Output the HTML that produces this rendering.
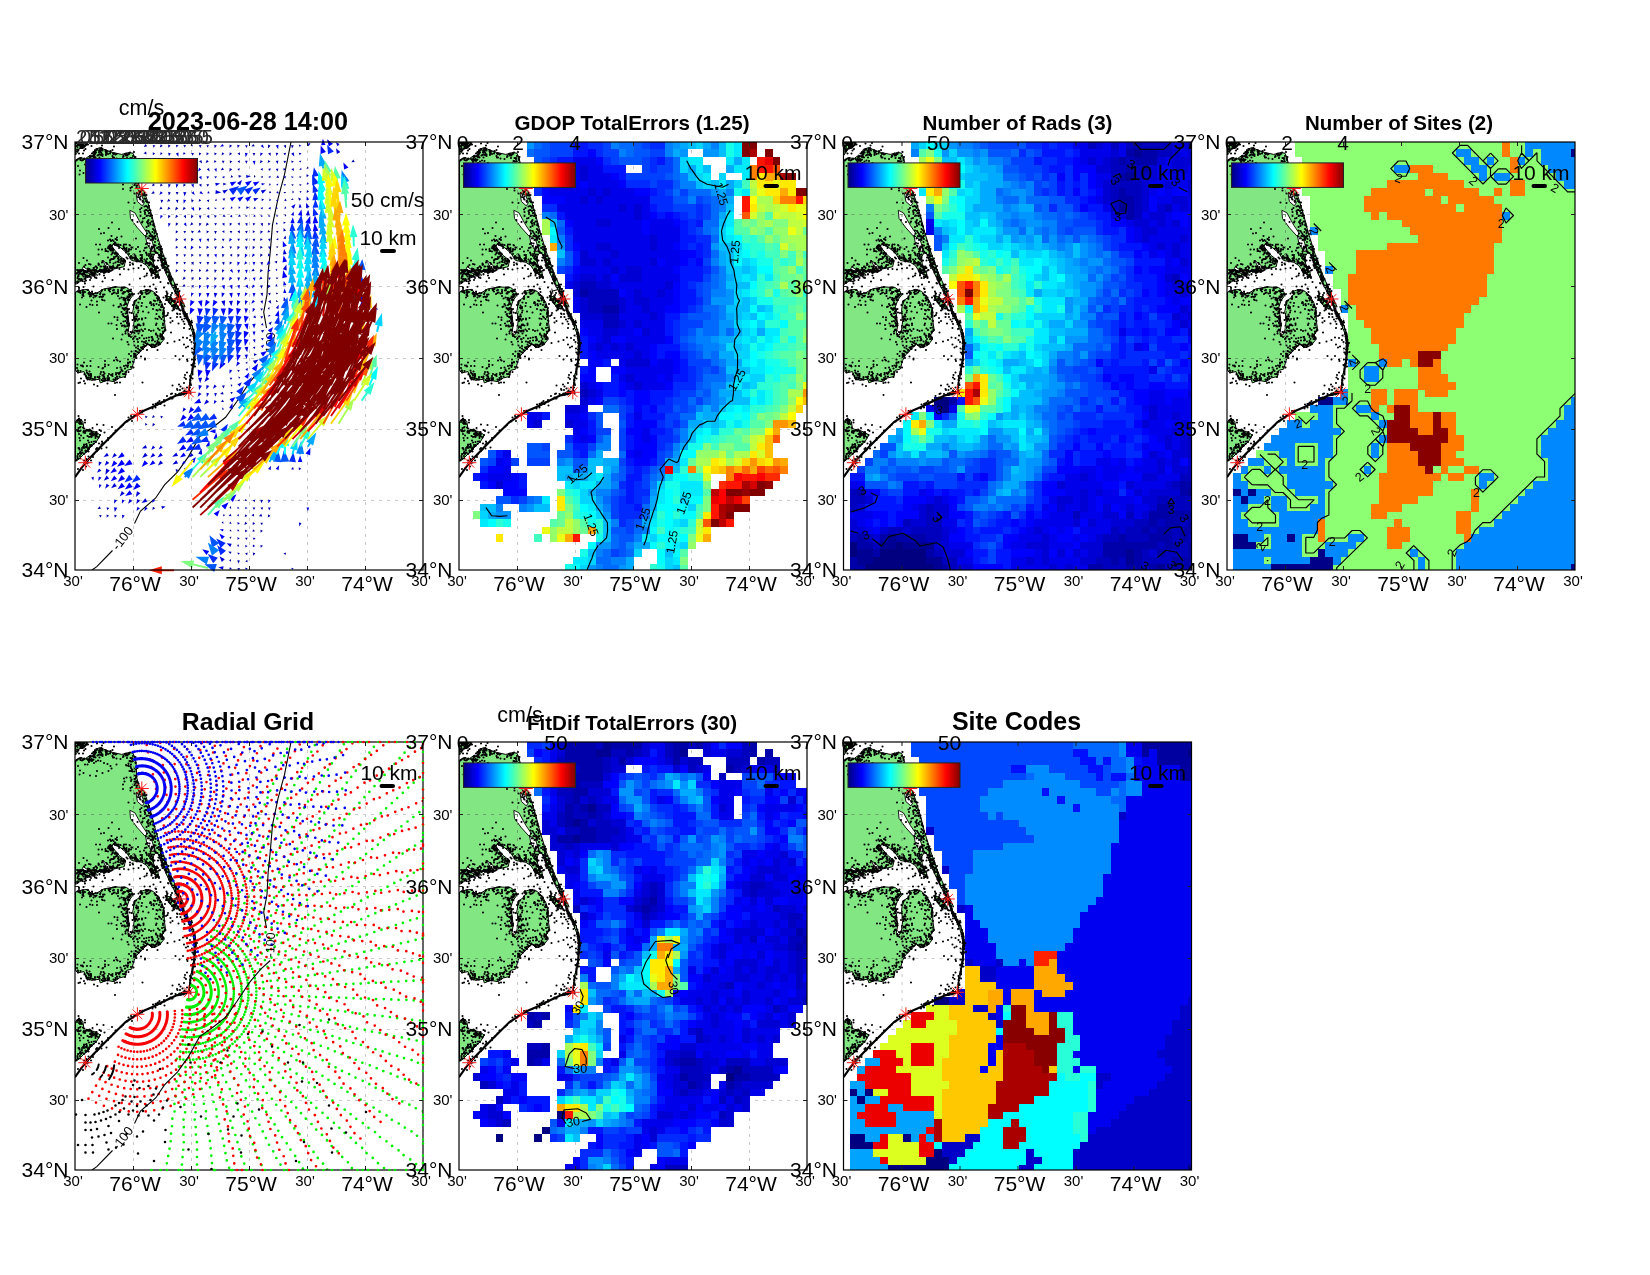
<!DOCTYPE html><html><head><meta charset="utf-8"><title>HFR totals</title><style>html,body{margin:0;padding:0;background:#fff}body{width:1650px;height:1275px;position:relative;overflow:hidden;font-family:"Liberation Sans",sans-serif}</style></head><body>
<svg width="1650" height="1275" viewBox="0 0 1650 1275" style="position:absolute;left:0;top:0;will-change:transform">
<defs><linearGradient id="jet" x1="0" x2="1" y1="0" y2="0"><stop offset="0.000" stop-color="#000080"/><stop offset="0.031" stop-color="#00009f"/><stop offset="0.062" stop-color="#0000bf"/><stop offset="0.094" stop-color="#0000df"/><stop offset="0.125" stop-color="#0000ff"/><stop offset="0.156" stop-color="#0020ff"/><stop offset="0.188" stop-color="#0040ff"/><stop offset="0.219" stop-color="#0060ff"/><stop offset="0.250" stop-color="#0080ff"/><stop offset="0.281" stop-color="#009fff"/><stop offset="0.312" stop-color="#00bfff"/><stop offset="0.344" stop-color="#00dfff"/><stop offset="0.375" stop-color="#00ffff"/><stop offset="0.406" stop-color="#20ffdf"/><stop offset="0.438" stop-color="#40ffbf"/><stop offset="0.469" stop-color="#60ff9f"/><stop offset="0.500" stop-color="#80ff80"/><stop offset="0.531" stop-color="#9fff60"/><stop offset="0.562" stop-color="#bfff40"/><stop offset="0.594" stop-color="#dfff20"/><stop offset="0.625" stop-color="#ffff00"/><stop offset="0.656" stop-color="#ffdf00"/><stop offset="0.688" stop-color="#ffbf00"/><stop offset="0.719" stop-color="#ff9f00"/><stop offset="0.750" stop-color="#ff8000"/><stop offset="0.781" stop-color="#ff6000"/><stop offset="0.812" stop-color="#ff4000"/><stop offset="0.844" stop-color="#ff2000"/><stop offset="0.875" stop-color="#ff0000"/><stop offset="0.906" stop-color="#df0000"/><stop offset="0.938" stop-color="#bf0000"/><stop offset="0.969" stop-color="#9f0000"/><stop offset="1.000" stop-color="#800000"/></linearGradient>
<g id="land"><g>
<polygon points="0.5,18.1 5.3,15.6 10.3,16.8 15.3,13.1 18.5,15.6 19.7,7.4 25.4,5.5 30.4,8.0 37.9,10.5 46.7,12.4 54.2,10.5 58.0,11.2 59.9,15.6 61.1,20.6 61.7,35.6 64.9,46.3 68.6,48.2 71.8,57.0 76.8,73.3 80.6,88.3 86.8,108.4 94.4,129.7 104.4,152.3 110.1,164.9 106.9,164.9 101.9,153.6 93.1,136.0 87.5,123.5 83.7,112.2 80.6,110.9 78.1,114.7 78.7,122.2 83.1,133.5 76.8,131.0 71.8,123.5 66.8,120.3 56.7,118.5 51.7,110.9 44.2,104.6 37.9,102.1 36.7,104.6 44.2,113.4 50.5,118.5 49.2,124.7 37.9,127.2 34.1,129.7 26.6,128.5 21.6,131.0 15.3,133.5 6.5,137.3 1.5,141.0 0.5,141.7" fill="#82e682" stroke="#000" stroke-width="1" stroke-linejoin="round"/>
<polygon points="0.5,0.5 12.8,0.8 9.0,5.5 4.0,6.8 1.5,11.8 0.5,13.1" fill="#82e682" stroke="#000" stroke-width="1" stroke-linejoin="round"/>
<polygon points="0.5,128.0 21.6,128.0 19.1,133.0 9.0,136.8 1.5,141.8 0.5,142.4" fill="#82e682" stroke="#000" stroke-width="1" stroke-linejoin="round"/>
<polygon points="25.4,128.0 35.4,129.0 27.9,130.8" fill="#82e682" stroke="#000" stroke-width="1" stroke-linejoin="round"/>
<polygon points="74.3,128.0 83.1,129.3 83.1,134.3 76.8,130.5" fill="#82e682" stroke="#000" stroke-width="1" stroke-linejoin="round"/>
<polygon points="90.0,153.7 95.6,155.0 100.6,160.6 104.4,166.9 98.1,165.6 93.1,159.4" fill="#82e682" stroke="#000" stroke-width="1" stroke-linejoin="round"/>
<polygon points="0.5,150.0 6.5,148.1 12.8,147.4 16.6,151.8 21.6,151.2 29.1,146.8 40.4,144.9 51.7,145.6 56.7,149.3 58.0,153.1 54.2,158.1 51.7,165.6 53.0,173.2 54.2,183.2 53.0,190.7 55.5,193.2 58.0,188.2 59.2,178.2 58.0,169.4 59.2,159.4 64.3,155.6 66.8,151.8 64.3,150.0 71.8,147.4 78.1,149.3 83.1,154.3 86.8,160.6 89.3,169.4 89.3,178.2 90.6,188.2 86.8,193.2 89.3,197.0 84.3,203.3 76.8,205.8 73.0,202.0 70.5,204.5 66.8,208.3 61.7,213.3 59.2,218.3 56.7,227.1 51.7,228.4 50.5,234.6 44.2,235.9 39.2,239.7 31.6,238.4 25.4,240.9 24.1,237.2 16.6,238.4 11.6,235.9 9.0,229.6 2.8,230.9 0.5,228.4" fill="#82e682" stroke="#000" stroke-width="1" stroke-linejoin="round"/>
<polygon points="104.4,157.5 109.4,169.4 115.7,180.7 120.1,193.2 121.0,203.3 120.1,213.3 118.2,225.9 115.7,237.2 113.8,250.3 115.1,237.2 117.6,225.9 119.2,213.3 119.5,203.3 118.5,193.2 114.4,182.0 108.2,170.7" fill="#82e682" stroke="#000" stroke-width="1" stroke-linejoin="round"/>
<polygon points="100.6,253.5 109.4,249.1 113.8,250.3 106.9,252.8" fill="#82e682" stroke="#000" stroke-width="1" stroke-linejoin="round"/>
<polygon points="0.5,279.3 4.0,276.8 7.8,279.3 9.0,286.9 15.3,288.1 21.6,290.6 25.4,293.1 21.6,299.4 15.3,305.7 9.0,312.0 4.0,317.0 0.5,319.5" fill="#82e682" stroke="#000" stroke-width="1" stroke-linejoin="round"/>
<polygon points="61.1,51.3 66.8,53.2 69.3,60.7 67.4,63.9 62.4,59.5" fill="#fff" stroke="#000" stroke-width="0.9" stroke-linejoin="round"/>
<polygon points="54.8,68.3 59.9,70.8 66.8,83.3 72.4,91.5 69.9,94.0 62.4,85.8 55.5,76.4" fill="#fff" stroke="#000" stroke-width="0.9" stroke-linejoin="round"/>
<polygon points="70.5,93.4 76.8,98.4 79.9,108.4 76.8,109.7 71.8,101.5" fill="#fff" stroke="#000" stroke-width="0.9" stroke-linejoin="round"/>
<polygon points="8.4,124.7 15.3,129.7 22.8,132.9 21.6,134.1 14.1,131.6 7.2,126.6" fill="#fff" stroke="#000" stroke-width="0.9" stroke-linejoin="round"/>
<polygon points="27.9,118.5 34.1,123.5 37.9,128.5 35.4,129.1 30.4,124.1" fill="#fff" stroke="#000" stroke-width="0.9" stroke-linejoin="round"/>
<polyline points="113.8,250.3 106.9,252.2 100.6,253.8 90.6,258.5 78.1,264.8 69.3,268.5 62.4,272.3 62.4,272.4 50.5,280.0 37.9,292.5 25.4,305.1 10.3,320.7 0.0,335.2" fill="none" stroke="#000" stroke-width="2.2" />
<path transform="scale(0.5)" d="M3 263h0m0-226h0m0 599h0m0-628h0m0 628h0m1-76h0m0-298h0m0-247h0m0-12h0m0 15h0m0 262h0m0 296h0m0-124h0m0-433h0m1 263h0m0-272h0m0 618h0m0-593h0m0 264h0m0 257h0m0-537h0m0 237h0m0 374h0m0 2h0m0-353h0m0 178h0m0-185h0m0-253h0m0 559h0m0-133h0m1 188h0m0-616h0m0 441h0m0-189h0m0 188h0m0-200h0m0-209h0m0 606h0m0-394h0m0 201h0m0-446h0m0 283h0m0-38h0m0 364h0m0-345h0m0-273h0m1 542h0m0 64h0m0-34h0m0-562h0m0-13h0m0 262h0m0 217h0m0-208h0m0 350h0m0-69h0m0-549h0m0 293h0m0 280h0m0-7h0m0-303h0m0-2h0m0 288h0m1-551h0m0 290h0m0 290h0m0-561h0m0 535h0m0 54h0m0-312h0m0-36h0m0-261h0m0-1h0m0 273h0m0 309h0m0-293h0m0-49h0m0 311h0m0 9h0m0-560h0m0 31h0m1 32h0m0 550h0m0-23h0m0-317h0m0-15h0m0 295h0m0-281h0m0 340h0m0-357h0m1 371h0m0-57h0m0 62h0m0-69h0m0-507h0m0 521h0m0-575h0m0 478h0m0-181h0m0-297h0m0 619h0m0-589h0m0 526h0m0 62h0m0-323h0m0 299h0m0-337h0m0 3h0m0-256h0m0 318h0m1 133h0m0 162h0m0-613h0m0 3h0m0 448h0m0-422h0m0 220h0m0 363h0m0-42h0m0-7h0m0-559h0m0 23h0m0 268h0m0 261h0m0-288h0m0-241h0m0 242h0m0 280h0m0 3h0m1-3h0m0 6h0m0 62h0m0-63h0m0-529h0m0-20h0m0-8h0m0 552h0m0-83h0m0-469h0m0 273h0m0-18h0m0 188h0m0-442h0m0 2h0m0-1h0m0-2h0m0 583h0m1-577h0m0 613h0m0-612h0m0 245h0m0 18h0m0 1h0m0-11h0m1 348h0m0-605h0m0 304h0m0-274h0m0 219h0m0 308h0m0 52h0m1-611h0m0 261h0m0 182h0m0 173h0m0-324h0m0-19h0m0 169h0m0-437h0m0 296h0m0-43h0m0-260h0m0 9h0m0 288h0m1-296h0m0 32h0m0-13h0m0 633h0m0-46h0m0-607h0m0 301h0m0 1h0m0 266h0m0-275h0m0 5h0m0 148h0m0-148h0m0-44h0m0-254h0m0 261h0m0-259h0m1 227h0m0 76h0m0-302h0m0 573h0m0-571h0m0 261h0m0-10h0m0-256h0m0 578h0m0-546h0m0 557h0m0-302h0m0-228h0m0-51h0m0-4h0m1-4h0m0 475h0m0 95h0m0 51h0m0 13h0m0-196h0m0 166h0m0-345h0m0 350h0m0-7h0m0-341h0m0-247h0m0 283h0m0 281h0m0-332h0m0 325h0m0-273h0m0 275h0m1-543h0m0 246h0m0 186h0m0 180h0m0-384h0m0-227h0m0 430h0m0-455h0m0 614h0m1-41h0m0-308h0m0 287h0m0 20h0m0 30h0m0-128h0m0-218h0m0 35h0m0-42h0m0 298h0m0-273h0m0-25h0m0-213h0m1 534h0m0-321h0m0 13h0m0-264h0m0 259h0m0 352h0m0-611h0m0 7h0m0 253h0m0 350h0m0-349h0m0-10h0m0 352h0m0-364h0m1 222h0m0-208h0m0 208h0m0-199h0m0 8h0m0-10h0m0 374h0m0-636h0m0 572h0m0 43h0m0-15h0m0 44h0m0-180h0m1-12h0m0 147h0m0-600h0m0-2h0m0 616h0m0 1h0m0-614h0m0 629h0m0-162h0m0-142h0m0 280h0m0-5h0m1 37h0m0-194h0m0-414h0m0 227h0m0 347h0m0-350h0m0 9h0m0 1h0m0-31h0m0 224h0m1 116h0m0 35h0m0-316h0m0 280h0m0 12h0m0-543h0m0 430h0m0-12h0m1 8h0m0-215h0m0-1h0m0 342h0m0-301h0m0-43h0m0 363h0m0-611h0m0 631h0m0-18h0m0-360h0m0 10h0m0-232h0m0 579h0m1-151h0m0 149h0m0-354h0m0 9h0m0 351h0m0-582h0m0 604h0m0-12h0m0-326h0m0-49h0m1 3h0m0 344h0m0-561h0m0 261h0m0 166h0m0 123h0m0 24h0m0-580h0m0 210h0m0 25h0m0-11h0m0 320h0m1-544h0m0 542h0m0-307h0m0 34h0m0 172h0m0-16h0m0-205h0m0 356h0m0-35h0m0-270h0m0-275h0m1 602h0m0-356h0m0 300h0m0 0h0m0-251h0m0 259h0m0-275h0m0-242h0m0 404h0m0 135h0m0-341h0m0 39h0m1 168h0m0-211h0m0-16h0m0 344h0m0-552h0m0 436h0m0-9h0m0 119h0m0-145h0m0 10h0m0-418h0m0 441h0m0-443h0m0 580h0m1-351h0m0 210h0m0 121h0m0-316h0m0 192h0m0 5h0m0-3h0m0 171h0m0-53h0m0-6h0m0-270h0m0-47h0m0-4h0m0-228h0m0 7h0m1 554h0m0-8h0m0-109h0m0-439h0m0 566h0m0-296h0m0 304h0m0-2h0m0-598h0m0 309h0m1 290h0m0-347h0m0 2h0m0 2h0m0 317h0m0 5h0m0-287h0m0 281h0m0-557h0m0 279h0m0-264h0m1 288h0m0-298h0m0 544h0m0-549h0m0 244h0m0 318h0m1-280h0m0-39h0m0-10h0m0 326h0m0 48h0m0-368h0m0 2h0m0-1h0m0 211h0m0 113h0m0-551h0m1-1h0m0-15h0m0 244h0m0 0h0m0 361h0m0-373h0m0 59h0m0-22h0m0 315h0m1-341h0m0-221h0m0 443h0m0-460h0m0 232h0m0-5h0m0 16h0m0 331h0m0-569h0m1 554h0m0-277h0m0-279h0m0-7h0m0 239h0m0 215h0m0-217h0m0 6h0m0-245h0m0 240h0m1 5h0m0 211h0m0-451h0m0 562h0m0-330h0m0 215h0m0-1h0m0-199h0m1-22h0m0 350h0m0-568h0m0 271h0m0-46h0m0 336h0m0-11h0m0 1h0m0 4h0m0 3h0m0-280h0m1 273h0m0-325h0m0 357h0m0-597h0m0 232h0m0 7h0m0 344h0m0-532h0m0-47h0m0 18h0m0 166h0m0-188h0m1-1h0m0 566h0m0-2h0m0-322h0m0-1h0m0 328h0m0 3h0m0-281h0m0-35h0m1-214h0m0 507h0m0 47h0m0-361h0m0 8h0m0-256h0m0 323h0m0 292h0m0-604h0m0 238h0m0 67h0m0 265h0m1-570h0m0 474h0m0-474h0m0 288h0m0-287h0m0 455h0m0-443h0m1 10h0m0 553h0m1 25h0m0-369h0m0 345h0m0-333h0m0-15h0m0 207h0m0 141h0m0-376h0m0-189h0m0 199h0m1-207h0m0 240h0m0-237h0m0 224h0m0 358h0m0-132h0m0-130h0m0-167h0m1-143h0m0-6h0m0 551h0m0-103h0m0-216h0m0 212h0m0-159h0m0-45h0m0-1h0m1-250h0m0 572h0m0-331h0m0 49h0m0-99h0m0-190h0m1 294h0m0-291h0m0 446h0m0-162h0m0-53h0m0-211h0m1 422h0m0-211h0m0 11h0m0-1h0m0 319h0m0-552h0m0-5h0m0 162h0m1 73h0m0 42h0m0-41h0m0 219h0m0 129h0m0-593h0m0 601h0m0-590h0m1 235h0m0-251h0m0 249h0m0 40h0m0 19h0m0-59h0m0-41h0m0 384h0m0-584h0m0 295h0m0-69h0m1-224h0m0 45h0m0 405h0m0-439h0m0 574h0m0-344h0m0-233h0m0 254h0m0-41h0m0 78h0m0 137h0m1-194h0m0-2h0m0 221h0m0-169h0m0 143h0m0-147h0m0 168h0m1-224h0m0 217h0m0-6h0m0 106h0m0-308h0m0 1h0m0-257h0m1 180h0m0-140h0m0 225h0m0-12h0m0 214h0m0 8h0m0-215h0m1 43h0m0 167h0m0-9h0m0 118h0m0-328h0m0 64h0m0 156h0m1-201h0m0-22h0m0 8h0m0 191h0m0-11h0m0-142h0m0 149h0m0-184h0m1-43h0m0 259h0m0-460h0m0 1h0m0 235h0m0-237h0m0 458h0m0-226h0m0 7h0m0-41h0m1 41h0m0-1h0m0-237h0m0 9h0m0-2h0m0-3h0m1 197h0m0-197h0m0-1h0m0 237h0m0-15h0m0 17h0m0 352h0m0-591h0m1 239h0m0-15h0m0 15h0m1 218h0m0-5h0m0-428h0m0 439h0m0-231h0m0-233h0m0 231h0m0 7h0m1-60h0m0 278h0m0-256h0m0 249h0m0-256h0m0-188h0m0 572h0m0-4h0m0-361h0m1-19h0m0-40h0m0 39h0m0 49h0m0 186h0m0-189h0m0-45h0m0 42h0m0 109h0m0-69h0m0-85h0m0-151h0m1 201h0m0 213h0m0-212h0m0 37h0m0 176h0m0 1h0m0 1h0m0-11h0m1-257h0m0 5h0m0 46h0m0-44h0m0 42h0m0 38h0m1-43h0m0 48h0m0-276h0m0 218h0m0-46h0m0 42h0m0-26h0m0 38h0m1-32h0m0 18h0m0-215h0m0 186h0m0 88h0m0-246h0m0 204h0m0 41h0m0-275h0m1 180h0m0 391h0m0-123h0m0-209h0m0-49h0m0 6h0m0 21h0m1-47h0m0 62h0m0-33h0m0 146h0m0-138h0m0-172h0m1 155h0m0 9h0m0 87h0m0-53h0m0 319h0m0-336h0m0-22h0m0-51h0m0 53h0m1 62h0m0-80h0m0 53h0m0-27h0m0 242h0m0 4h0m0-214h0m0 1h0m0-227h0m0-12h0m1 281h0m0-266h0m0 182h0m0-190h0m0 370h0m0-171h0m0 28h0m0-2h0m0-30h0m0 73h0m0-74h0m1-193h0m0 559h0m0-349h0m0 241h0m0-277h0m0 129h0m0-112h0m0 28h0m0 7h0m0 52h0m1-271h0m0-22h0m0 224h0m0-30h0m0 27h0m0 66h0m0 180h0m0-39h0m1-136h0m0 49h0m0-327h0m0 229h0m0-20h0m1-26h0m0 276h0m0-281h0m0 89h0m0-66h0m0-2h0m0 284h0m1-481h0m0 450h0m0-234h0m0 49h0m0-88h0m0 375h0m0-383h0m0 278h0m0-251h0m1 2h0m0 6h0m0 233h0m0-240h0m0 209h0m0 34h0m1-214h0m0-23h0m0-195h0m0 333h0m0-63h0m0-279h0m0 411h0m0-390h0m1 146h0m0 16h0m0 262h0m0-263h0m0-10h0m0 31h0m0-20h0m0 274h0m0-107h0m0 78h0m0-247h0m1 268h0m0-223h0m0 101h0m0-126h0m0 131h0m0 81h0m0-214h0m0 25h0m0-9h0m1-6h0m0 229h0m0-256h0m0 93h0m0 3h0m0 6h0m0-62h0m0 50h0m0-89h0m0 0h0m1 23h0m0 100h0m0-125h0m0 35h0m0-9h0m0 3h0m1-25h0m0 3h0m0 24h0m0 228h0m0-290h0m1 289h0m0-217h0m0 223h0m0-156h0m0 16h0m0-75h0m1 11h0m0 196h0m0-22h0m0 42h0m1-275h0m0 254h0m0-426h0m0 290h0m0-83h0m0 210h0m1-218h0m0 5h0m0 59h0m0 66h0m0-129h0m1 93h0m0-16h0m0 258h0m0-174h0m0 60h0m0-115h0m0 116h0m0-213h0m0-54h0m0 105h0m1 2h0m0 72h0m0-77h0m1 167h0m0-155h0m0 82h0m0-148h0m0 130h0m0-123h0m0 88h0m0 13h0m1 119h0m0-370h0m0 145h0m0-26h0m0 353h0m0-481h0m0 259h0m0-101h0m0-213h0m0 261h0m1-264h0m0 265h0m0-58h0m0 78h0m0-283h0m0 211h0m0 108h0m0-14h0m0-19h0m0-80h0m0 124h0m0-122h0m0 66h0m0-95h0m0 92h0m1-89h0m0 115h0m0-35h0m0-56h0m0 80h0m0 133h0m0-115h0m0-79h0m0-49h0m0 107h0m0-239h0m1 244h0m0 147h0m0-128h0m0 31h0m0 2h0m0-290h0m0 212h0m1 23h0m0-14h0m0 153h0m0 17h0m0-120h0m0-326h0m0 190h0m0 1h0m0 109h0m0-85h0m0-2h0m1 223h0m0-139h0m0-105h0m0 167h0m0-51h0m0 26h0m0-24h0m0 131h0m0-148h0m0 52h0m0-26h0m0 36h0m1-356h0m0 290h0m0 37h0m0-145h0m0 242h0m0-226h0m0-194h0m0 19h0m1 169h0m0-144h0m0 141h0m0 127h0m0-120h0m0-2h0m0 108h0m0-106h0m0 133h0m0 24h0m0-329h0m0 184h0m0 93h0m1-297h0m0 306h0m0 226h0m0-198h0m0 14h0m0-343h0m0 187h0m0 143h0m0-8h0m0-56h0m0 44h0m1-4h0m0-313h0m0 286h0m0 57h0m0-2h0m0-18h0m0-39h0m0 91h0m0 50h0m0-94h0m0-123h0m0 325h0m0-531h0m1 416h0m0-84h0m0-62h0m0 138h0m0-58h0m0 64h0m0-126h0m0 132h0m0-112h0m0-19h0m0 35h0m1-42h0m0-286h0m0 196h0m0 147h0m0 18h0m0-129h0m0-212h0m0 362h0m0-358h0m0 253h0m0-179h0m0 264h0m0-337h0m0 503h0m0-91h0m0-96h0m1-30h0m0-23h0m0 56h0m0 21h0m0-25h0m0-58h0m0-91h0m0 2h0m0-192h0m0 200h0m0 200h0m1-36h0m0-47h0m0-283h0m0 258h0m0-18h0m0-13h0m0-247h0m0 266h0m0-98h0m1 1h0m0 233h0m0-194h0m0-225h0m0 220h0m0 65h0m0 135h0m0-132h0m1-79h0m0-192h0m0 269h0m0-1h0m0-235h0m0 227h0m0-249h0m0 43h0m0 5h0m0 136h0m0-201h0m0 348h0m0-341h0m1 13h0m0 496h0m0-120h0m0-38h0m0-345h0m0 250h0m0-237h0m0 392h0m0-235h0m0-170h0m0 33h0m0 150h0m1-17h0m0 131h0m0 77h0m0-344h0m0 229h0m1-265h0m0-5h0m0 270h0m0-249h0m0 3h0m0 153h0m0 347h0m0-177h0m0-349h0m0 58h0m1 66h0m0-97h0m0 174h0m0 146h0m0-23h0m0-113h0m0-12h0m0 320h0m0-246h0m1-74h0m0 208h0m0-411h0m0 204h0m0 207h0m0-45h0m0-68h0m0-81h0m0-207h0m1 413h0m0-112h0m0-254h0m0 168h0m0 136h0m0-159h0m0 210h0m0-47h0m0-168h0m0 143h0m0-26h0m1 29h0m0 55h0m0-27h0m0-74h0m0-305h0m0 332h0m0 20h0m0-319h0m0 370h0m0 7h0m0-49h0m0-77h0m1 78h0m0-350h0m0 289h0m0-96h0m0-166h0m0 260h0m0 3h0m0-243h0m0 43h0m0-36h0m0 321h0m0-304h0m0 247h0m0 5h0m0-281h0m0 474h0m1-474h0m0 159h0m0 2h0m0 154h0m0-12h0m0-19h0m0-40h0m0-251h0m0 480h0m0-198h0m0-117h0m0-196h0m0-2h0m1 335h0m0 49h0m0 10h0m0-4h0m0-54h0m0-329h0m0 314h0m0 70h0m0-383h0m0 186h0m0-149h0m0 310h0m0-347h0m0-12h0m0 53h0m0 145h0m1 103h0m0-260h0m0-16h0m0 492h0m0-333h0m0 103h0m0-86h0m0 122h0m0-160h0m0 160h0m0 74h0m0-16h0m1-341h0m0 308h0m0 168h0m0-458h0m0 244h0m0 13h0m0-109h0m0-155h0m0 11h0m0-24h0m0 280h0m0 21h0m0 63h0m0-78h0m0 65h0m0-92h0m0-259h0m0 170h0m1 156h0m0-292h0m0 270h0m0-285h0m0 152h0m0 140h0m0-30h0m0-16h0m0-99h0m0-156h0m1 3h0m0-1h0m0 315h0m0-38h0m0-197h0m0-108h0m0 35h0m0 280h0m0-36h0m1-238h0m0 320h0m0-177h0m0 96h0m0 45h0m0-167h0m0 155h0m0-255h0m0 298h0m0 13h0m0-21h0m0-59h0m0-11h0m1 53h0m0-300h0m0 238h0m0 16h0m0 84h0m0-315h0m0 197h0m0-51h0m1 102h0m0-256h0m0 323h0m0-183h0m0 128h0m0-1h0m1 12h0m0 39h0m0-314h0m0 290h0m0-13h0m0-66h0m0-202h0m1 127h0m0 35h0m0-138h0m0-21h0m0 198h0m0 226h0m0-439h0m0 318h0m0-103h0m0-95h0m0 90h0m1 108h0m0-269h0m0-8h0m0-31h0m0 258h0m0-267h0m0 15h0m0 118h0m0-7h0m1-127h0m0 137h0m0 11h0m0 55h0m0 109h0m0 127h0m0-238h0m0-2h0m0 131h0m1-195h0m0-2h0m0 143h0m0-47h0m0-196h0m1 221h0m0-257h0m0 445h0m0-315h0m0 4h0m0 92h0m0-161h0m0 72h0m0 180h0m0-318h0m0 292h0m0-83h0m0 95h0m0-95h0m0-67h0m0 304h0m0-186h0m1 55h0m0-292h0m0 41h0m0 255h0m0-112h0m0 179h0m0-377h0m0 135h0m1 299h0m0-124h0m0 0h0m0-308h0m0 14h0m0 258h0m0-39h0m0 71h0m0-257h0m1 252h0m0-39h0m0-3h0m1-109h0m0-147h0m0 203h0m0 83h0m0-176h0m0 183h0m1-294h0m0 46h0m0-23h0m0 181h0m0-21h0m0-20h0m0-167h0m0 36h0m0 270h0m0-173h0m0-122h0m0-6h0m1 267h0m0-230h0m0 68h0m0 223h0m0-2h0m0-292h0m1 99h0m0 3h0m0-107h0m0 216h0m0 56h0m0-6h0m0-101h0m0-187h0m1 183h0m0-1h0m0 102h0m0-194h0m0-15h0m0 32h0m0 21h0m0-4h0m0-120h0m0 10h0m1 202h0m0-26h0m0-64h0m0-92h0m0 119h0m0-44h0m0 169h0m0-286h0m0 105h0m0 88h0m0-129h0m0-34h0m0 41h0m1 86h0m0 153h0m0-233h0m0-54h0m0 97h0m0-66h0m0-40h0m0 114h0m0 171h0m1-244h0m0 242h0m0-283h0m0 178h0m0-55h0m0-41h0m0-56h0m1 157h0m0-156h0m0-9h0m0 25h0m0 30h0m0-35h0m0-26h0m0 165h0m1-141h0m0 86h0m0 54h0m0-129h0m0 174h0m0-173h0m0 10h0m0 64h0m1-15h0m0 20h0m0-39h0m0-65h0m0-15h0m0 100h0m0-4h0m0-82h0m0 255h0m0-153h0m0-123h0m0 107h0m0 148h0m0 15h0m1-188h0m0-22h0m0 8h0m0-1h0m0-52h0m0 105h0m0 60h0m0 105h0m1-166h0m0 5h0m0 77h0m0-177h0m0 3h0m0 84h0m0-70h0m0-20h0m0 147h0m1-93h0m0-59h0m0 47h0m0 59h0m0 54h0m0-78h0m0-71h0m0 97h0m0 12h0m0 1h0m0-35h0m0 75h0m0-133h0m0 155h0m0-97h0m1 6h0m0 93h0m0-88h0m0 19h0m0-25h0m0 26h0m0 153h0m0-193h0m0 164h0m0-190h0m0 71h0m0 1h0m1 66h0m0 79h0m0-141h0m0-38h0m0-37h0m0 53h0m0 15h0m0-98h0m0 85h0m0 23h0m0-10h0m0-46h0m0 5h0m0 10h0m0 30h0m0-97h0m0 84h0m0-1h0m0 148h0m0-195h0m0 40h0m0 25h0m1-51h0m0-62h0m0 243h0m0-133h0m0-3h0m0 6h0m0 137h0m0-138h0m0-46h0m0 197h0m0-223h0m0-35h0m0 81h0m0 12h0m0-57h0m1 345h0m0-298h0m0 22h0m0 136h0m0-204h0m0 46h0m0 14h0m0 147h0m0-150h0m0-87h0m0 29h0m0-8h0m1 50h0m0 30h0m0-86h0m0 222h0m0-158h0m0 0h0m0-42h0m0 209h0m0-180h0m0 34h0m0 75h0m0-142h0m0 67h0m0-93h0m0 96h0m0-68h0m0 78h0m0 253h0m0-289h0m0-26h0m1 75h0m0 39h0m0-158h0m0 211h0m0-214h0m0 86h0m0 158h0m0-145h0m0-96h0m1 84h0m0-40h0m0-43h0m0 9h0m0 80h0m0 71h0m0-10h0m0-70h0m0-41h0m1-15h0m0-22h0m0 50h0m0 191h0m0-192h0m0-4h0m0 193h0m0-104h0m0-66h0m0-48h0m0-6h0m1 216h0m0-149h0m0-62h0m0 218h0m0-145h0m0-8h0m0-53h0m0 118h0m0-130h0m0 66h0m0 274h0m0-273h0m0-75h0m1 8h0m0 31h0m0 134h0m0-60h0m0-86h0m0 200h0m0-147h0m0-66h0m0 337h0m0-123h0m0-152h0m0 9h0m0 4h0m0 140h0m0-231h0m0 94h0m0-11h0m0 263h0m0-218h0m1 79h0m0-164h0m0 85h0m0 60h0m0-72h0m0 89h0m0-129h0m1 82h0m0 187h0m0-119h0m0 122h0m0-182h0m0-44h0m0 63h0m0-39h0m0-75h0m0 11h0m0-8h0m1-40h0m0 47h0m0-10h0m0 153h0m0-90h0m0-128h0m0 86h0m1 38h0m0-42h0m0 121h0m0-50h0m0-125h0m0 142h0m0-132h0m0 95h0m0 99h0m0-26h0m0 8h0m1-132h0m0 107h0m0-106h0m0 47h0m0-62h0m0-55h0m0 40h0m0 284h0m0-206h0m1 209h0m0-293h0m0 38h0m0 136h0m0-4h0m0-86h0m0-105h0m0 184h0m1-45h0m0-134h0m0 57h0m0 54h0m0-69h0m0 54h0m0-107h0m0 66h0m0-44h0m1-17h0m0 314h0m0-122h0m0-174h0m0 108h0m0 41h0m0-150h0m0 292h0m1-200h0m0 3h0m0-65h0m0 148h0m0-53h0m0 37h0m0-156h0m1-15h0m0 119h0m0 188h0m0-204h0m0-108h0m0 178h0m0-110h0m0-44h0m0 148h0m0 1h0m1-162h0m0-8h0m0 5h0m0-11h0m0 22h0m0 99h0m0-94h0m0-9h0m1 13h0m0 86h0m0 28h0m0-138h0m0 10h0m0 295h0m0-306h0m0 31h0m0-18h0m0-9h0m0 175h0m0-154h0m1 146h0m0-172h0m0 14h0m0 13h0m0 147h0m0-155h0m0 93h0m0-78h0m0-9h0m0 133h0m1-135h0m0 157h0m0-4h0m0-156h0m0 9h0m0 1h0m0 8h0m0 78h0m0-83h0m0 82h0m1 53h0m0-135h0m0 132h0m0-37h0m0 21h0m0 28h0m0-25h0m0-16h0m0-6h0m0-101h0m1 93h0m0 57h0m0-2h0m0-145h0m0-18h0m0 112h0m0-2h0m0-27h0m0-64h0m0 91h0m0 9h0m1 10h0m0-121h0m0 6h0m0 274h0m0-184h0m0 39h0m0 148h0m0-273h0m0 95h0m0-50h0m0-40h0m0-6h0m1 113h0m0-115h0m0 2h0m0-9h0m0 283h0m0 8h0m0-293h0m0 144h0m1-3h0m0-51h0m0-74h0m0 5h0m0-12h0m0 0h0m0-4h0m1-1h0m0 138h0m0-143h0m1 8h0m0 107h0m0-87h0m0 55h0m0-55h0m0-7h0m0 3h0m0 51h0m1 4h0m0-53h0m0 40h0m0-54h0m0 16h0m0-8h0m1 49h0m0 4h0m0-53h0m0-2h0m0 257h0m0-194h0m0-4h0m1-7h0m0 99h0m0-56h0m0-30h0m0-2h0m1 28h0m0-82h0m0 22h0m1-13h0m0 14h0m0-35h0m0 8h0m1 10h0m0 9h0m0 41h0m0 4h0m0-59h0m1 11h0m0 41h0m0-49h0m0 53h0m0 4h0m0-60h0m0 12h0m0 240h0m0-200h0m0-37h0m0-4h0m1-4h0m0 10h0m1 83h0m0-38h0m0-51h0m0 3h0m0 38h0m0-33h0m0 30h0m0 201h0m0-159h0m0-37h0m1 189h0m0-191h0m0-7h0m0 15h0m0-50h0m0 110h0m0-98h0m1 2h0m0 228h0m0-236h0m1 51h0m0-26h0m0 25h0m0-11h0m0 187h0m0-185h0m1 40h0m0-69h0m0-15h0m0 14h0m0 225h0m0-176h0m0-22h0m0 172h0m1-169h0m1-27h0m0 35h0m0 7h0m0-3h0m1-10h0m0 8h0m0-38h0m0 28h0m0 17h0m0-48h0m1 40h0m0 72h0m0-70h0m0 2h0m1-17h0m0 15h0m0-11h0m0-20h0m0 26h0m0-2h0m0-37h0m0 36h0m1-24h0m0-11h0m0 218h0m0-210h0m0 30h0m0-2h0m0-32h0m0 138h0m0-126h0m1 26h0m0-1h0m0 0h0m0-37h0m0 33h0m0-31h0m0 32h0m0-11h0m0-14h0m1 13h0m0 21h0m0-30h0m1-18h0m0 65h0m0-7h0m0 151h0m1-200h0m0 50h0m0-38h0m0 200h0m0-186h0m0 176h0m0-180h0m1 13h0m0 2h0m0 2h0m0-34h0m0 21h0m0-20h0m0 5h0m0-11h0m1 14h0m0 4h0m0 51h0m0-50h0m1-14h0m0 186h0m0-173h0m0 193h0m0-201h0m1 32h0m0 99h0m0-137h0m0 13h0m0 192h0m0-107h0m1 109h0m0-194h0m0 185h0m0-187h0m0 35h0m0-24h0m0 186h0m0-182h0m0-13h0m1 39h0m0 139h0m0 16h0m0-183h0m0 15h0m1-15h0m0-2h0m0-5h0m0 189h0m0-185h0m0-1h0m1 9h0m0 177h0m0-186h0m1 184h0m0-147h0m0-33h0m1 7h0m0 5h0m0-7h0m0 2h0m0 6h0m0 158h0m0-157h0m0-6h0m1 61h0m0-53h0m0 90h0m0-95h0m0 5h0m0 165h0m0 1h0m1-170h0m0 171h0m0-167h0m0-2h0m0 6h0m0 162h0m0-166h0m0 21h0m0-16h0m1 139h0m0-77h0m0-33h0m1-31h0m0 23h0m0 139h0m0-163h0m0 6h0m0 7h0m0-5h0m0 149h0m0 4h0m0-160h0m0 3h0m0 127h0m1-125h0m0-5h0m0 1h0m0 3h0m0 155h0m0 1h0m0 2h0m0-2h0m0 1h0m0-2h0m0-34h0m1 34h0m0-152h0m0 152h0m1-89h0m0 90h0m0-156h0m0 2h0m0 153h0m0-26h0m1-124h0m0-2h0m0 2h0m0-4h0m0 3h0m0 153h0m0-2h0m0-147h0m0-6h0m0 3h0m1 42h0m0 43h0m0 56h0m0-30h0m0-113h0m0-4h0m0 6h0m1 3h0m0-2h0m0-1h0m0 88h0m0-82h0m0 144h0m1-91h0m1-50h0m0 1h0m1-4h0m0 1h0m0 0h0m0 138h0m0 0h0m0-131h0m1-4h0m0 0h0m0 140h0m0-135h0m0-3h0m0 12h0m1 94h0m0 30h0m0-7h0m0-129h0m0 123h0m0-9h0m0 6h0m0-86h0m0 72h0m0-103h0m1 22h0m0 0h0m0-26h0m0 7h0m0 109h0m0 26h0m0-31h0m0-104h0m0 116h0m0-121h0m1 9h0m0-2h0m0 100h0m0-102h0m0 4h0m0 97h0m0-103h0m0 101h0m0 19h0m0-19h0m0-100h0m0 2h0m1-11h0m0 107h0m0-98h0m0 33h0m0 46h0m0 18h0m0-96h0m1 94h0m0-94h0m0 1h0m0 91h0m0 1h0m0-48h0m0 22h0m0 24h0m0-86h0m0-12h0m0 9h0m1 51h0m0 52h0m0-14h0m0-86h0m0 83h0m0 6h0m0-15h0m0 6h0m0 12h0m0-11h0m1-73h0m0 3h0m0 63h0m0-3h0m1 0h0m0-63h0m0 68h0m0-73h0m0 70h0m0 1h0m0-4h0m0-54h0m0-1h0m0 36h0m1 15h0m0-24h0m0 25h0m0 2h0m0-2h0m0-5h0m0-54h0m0 2h0m0 54h0m0-44h0m0-3h0m0 45h0m0-50h0m0-4h0m0 21h0m1 0h0m0 18h0m0 23h0m0-6h0m0-41h0m0-10h0m0 7h0m0-10h0m0 36h0m0 12h0m0-39h0m0 18h0m0 1h0m0-15h0m0 26h0m0-29h0m0-7h0m0 2h0m0 15h0m0 24h0m0-40h0m0 47h0m0-4h0m0-41h0m0 7h0m0 12h0m0-11h0m1 26h0m0-1h0m0-25h0m0 5h0m0 12h0m0-14h0m0-4h0m0 39h0m0-38h0m0-2h0m0 25h0m0-17h0m0-14h0m0 60h0m0-41h0m0-18h0m0 20h0m0-13h0m1 17h0m0-5h0m0-9h0m0-4h0m0 25h0m0-16h0m1 1h0m2-4h0m1 18h0" stroke="#000" stroke-width="4.2" stroke-linecap="round" fill="none"/>
</g></g>
<clipPath id="lc"><polygon points="0.5,18.1 5.3,15.6 10.3,16.8 15.3,13.1 18.5,15.6 19.7,7.4 25.4,5.5 30.4,8.0 37.9,10.5 46.7,12.4 54.2,10.5 58.0,11.2 59.9,15.6 61.1,20.6 61.7,35.6 64.9,46.3 68.6,48.2 71.8,57.0 76.8,73.3 80.6,88.3 86.8,108.4 94.4,129.7 104.4,152.3 110.1,164.9 106.9,164.9 101.9,153.6 93.1,136.0 87.5,123.5 83.7,112.2 80.6,110.9 78.1,114.7 78.7,122.2 83.1,133.5 76.8,131.0 71.8,123.5 66.8,120.3 56.7,118.5 51.7,110.9 44.2,104.6 37.9,102.1 36.7,104.6 44.2,113.4 50.5,118.5 49.2,124.7 37.9,127.2 34.1,129.7 26.6,128.5 21.6,131.0 15.3,133.5 6.5,137.3 1.5,141.0 0.5,141.7" fill="#000" stroke="none" stroke-width="1" /><polygon points="0.5,0.5 12.8,0.8 9.0,5.5 4.0,6.8 1.5,11.8 0.5,13.1" fill="#000" stroke="none" stroke-width="1" /><polygon points="0.5,128.0 21.6,128.0 19.1,133.0 9.0,136.8 1.5,141.8 0.5,142.4" fill="#000" stroke="none" stroke-width="1" /><polygon points="25.4,128.0 35.4,129.0 27.9,130.8" fill="#000" stroke="none" stroke-width="1" /><polygon points="74.3,128.0 83.1,129.3 83.1,134.3 76.8,130.5" fill="#000" stroke="none" stroke-width="1" /><polygon points="90.0,153.7 95.6,155.0 100.6,160.6 104.4,166.9 98.1,165.6 93.1,159.4" fill="#000" stroke="none" stroke-width="1" /><polygon points="0.5,150.0 6.5,148.1 12.8,147.4 16.6,151.8 21.6,151.2 29.1,146.8 40.4,144.9 51.7,145.6 56.7,149.3 58.0,153.1 54.2,158.1 51.7,165.6 53.0,173.2 54.2,183.2 53.0,190.7 55.5,193.2 58.0,188.2 59.2,178.2 58.0,169.4 59.2,159.4 64.3,155.6 66.8,151.8 64.3,150.0 71.8,147.4 78.1,149.3 83.1,154.3 86.8,160.6 89.3,169.4 89.3,178.2 90.6,188.2 86.8,193.2 89.3,197.0 84.3,203.3 76.8,205.8 73.0,202.0 70.5,204.5 66.8,208.3 61.7,213.3 59.2,218.3 56.7,227.1 51.7,228.4 50.5,234.6 44.2,235.9 39.2,239.7 31.6,238.4 25.4,240.9 24.1,237.2 16.6,238.4 11.6,235.9 9.0,229.6 2.8,230.9 0.5,228.4" fill="#000" stroke="none" stroke-width="1" /><polygon points="104.4,157.5 109.4,169.4 115.7,180.7 120.1,193.2 121.0,203.3 120.1,213.3 118.2,225.9 115.7,237.2 113.8,250.3 115.1,237.2 117.6,225.9 119.2,213.3 119.5,203.3 118.5,193.2 114.4,182.0 108.2,170.7" fill="#000" stroke="none" stroke-width="1" /><polygon points="100.6,253.5 109.4,249.1 113.8,250.3 106.9,252.8" fill="#000" stroke="none" stroke-width="1" /><polygon points="0.5,279.3 4.0,276.8 7.8,279.3 9.0,286.9 15.3,288.1 21.6,290.6 25.4,293.1 21.6,299.4 15.3,305.7 9.0,312.0 4.0,317.0 0.5,319.5" fill="#000" stroke="none" stroke-width="1" /></clipPath>
<g id="lg" clip-path="url(#lc)"><path d="M0 72.5H348M0 144.5H348M0 216.5H348M0 287.5H348M0 358.5H348M58.5 0V428M116.5 0V428M174.5 0V428M232.5 0V428M290.5 0V428" stroke="#6f9f6f" stroke-width="1" stroke-dasharray="3 5" fill="none"/></g>
<clipPath id="pc"><rect x="0" y="0" width="348" height="428"/></clipPath></defs>
<rect width="1650" height="1275" fill="#fff"/>
<text x="68.5" y="149.0" font-size="21" text-anchor="end" font-weight="normal" font-family="Liberation Sans, sans-serif" >37°N</text>
<text x="68.5" y="219.5" font-size="15" text-anchor="end" font-weight="normal" font-family="Liberation Sans, sans-serif" >30'</text>
<text x="68.5" y="293.5" font-size="21" text-anchor="end" font-weight="normal" font-family="Liberation Sans, sans-serif" >36°N</text>
<text x="68.5" y="363.0" font-size="15" text-anchor="end" font-weight="normal" font-family="Liberation Sans, sans-serif" >30'</text>
<text x="68.5" y="436.1" font-size="21" text-anchor="end" font-weight="normal" font-family="Liberation Sans, sans-serif" >35°N</text>
<text x="68.5" y="504.8" font-size="15" text-anchor="end" font-weight="normal" font-family="Liberation Sans, sans-serif" >30'</text>
<text x="68.5" y="577.0" font-size="21" text-anchor="end" font-weight="normal" font-family="Liberation Sans, sans-serif" >34°N</text>
<text x="73.0" y="586.0" font-size="15" text-anchor="middle" font-weight="normal" font-family="Liberation Sans, sans-serif" >30'</text>
<text x="135.0" y="590.8" font-size="21" text-anchor="middle" font-weight="normal" font-family="Liberation Sans, sans-serif" >76°W</text>
<text x="189.0" y="586.0" font-size="15" text-anchor="middle" font-weight="normal" font-family="Liberation Sans, sans-serif" >30'</text>
<text x="251.0" y="590.8" font-size="21" text-anchor="middle" font-weight="normal" font-family="Liberation Sans, sans-serif" >75°W</text>
<text x="305.0" y="586.0" font-size="15" text-anchor="middle" font-weight="normal" font-family="Liberation Sans, sans-serif" >30'</text>
<text x="367.0" y="590.8" font-size="21" text-anchor="middle" font-weight="normal" font-family="Liberation Sans, sans-serif" >74°W</text>
<text x="421.0" y="586.0" font-size="15" text-anchor="middle" font-weight="normal" font-family="Liberation Sans, sans-serif" >30'</text>
<g transform="translate(75,142)">
<g clip-path="url(#pc)">
<path d="M0 72.5H348M0 144.5H348M0 216.5H348M0 287.5H348M0 358.5H348M58.5 0V428M116.5 0V428M174.5 0V428M232.5 0V428M290.5 0V428" stroke="#c8c8c8" stroke-width="1" stroke-dasharray="3 5" fill="none"/>
<use href="#land"/><use href="#lg"/>
<polyline points="216.0,0.0 209.5,32.7 203.0,56.7 197.5,82.9 195.3,109.1 193.1,130.9 192.0,152.7 188.7,170.2 191.5,186.0" fill="none" stroke="#000" stroke-width="1.1" /><polyline points="195.3,218.5 185.5,227.3 174.6,240.4 161.5,260.0 150.6,275.3 139.6,284.0 124.4,294.9 113.5,314.6 102.6,329.8 89.5,342.9 80.7,356.0 65.5,369.1 59.5,381.5" fill="none" stroke="#000" stroke-width="1.1" /><polyline points="37.5,408.5 21.8,424.7 17.0,428.0" fill="none" stroke="#000" stroke-width="1.1" /><text transform="translate(199.5,203) rotate(-88)" font-size="12.5" text-anchor="middle" font-family="Liberation Sans, sans-serif">-100</text><text transform="translate(51,399) rotate(-52)" font-size="13" text-anchor="middle" font-family="Liberation Sans, sans-serif">-100</text>
<path d="M59.8 46.5L73.8 46.5M61.9 41.6L71.7 51.4M66.8 39.5L66.8 53.5M71.7 41.6L61.9 51.4" stroke="#ff1a1a" stroke-width="1" fill="none"/>
<path d="M97.4 157.0L111.4 157.0M99.5 152.1L109.3 161.9M104.4 150.0L104.4 164.0M109.3 152.1L99.5 161.9" stroke="#ff1a1a" stroke-width="1" fill="none"/>
<path d="M106.8 250.3L120.8 250.3M108.9 245.4L118.7 255.2M113.8 243.3L113.8 257.3M118.7 245.4L108.9 255.2" stroke="#ff1a1a" stroke-width="1" fill="none"/>
<path d="M55.4 272.3L69.4 272.3M57.5 267.4L67.3 277.2M62.4 265.3L62.4 279.3M67.3 267.4L57.5 277.2" stroke="#ff1a1a" stroke-width="1" fill="none"/>
<path d="M3.3 320.7L17.3 320.7M5.4 315.8L15.2 325.6M10.3 313.7L10.3 327.7M15.2 315.8L5.4 325.6" stroke="#ff1a1a" stroke-width="1" fill="none"/>
</g>
<path fill="#000080" d="M194.6 165.1l-1.8 1.2l1.4 1.6zM223.8 42.4l1.5 1.5l1.3 -1.7zM200.8 111.8l0.7 2.0l1.9 -1.0zM200.7 135.4l1.2 1.8l1.6 -1.4zM155.8 364.1l-1.4 1.6l1.8 1.2zM148.0 374.4l1.9 -1.0l-1.2 -1.7zM178.9 35.8l1.7 -1.3l-1.5 -1.5zM223.8 34.4l1.4 1.6l1.4 -1.6zM162.5 358.7l2.0 0.6l0.2 -2.1zM185.5 35.1l2.0 0.8l0.5 -2.1zM201.0 157.9l0.2 2.1l2.1 -0.5zM234.1 26.1l-1.9 -1.0l-0.7 2.0zM200.7 104.8l1.7 1.3l1.0 -1.9zM208.4 50.1l1.5 1.5l1.3 -1.7zM156.5 394.6l-2.0 0.6l0.9 1.9zM210.0 74.8l1.4 -1.6l-1.8 -1.1zM218.8 57.7l-1.6 -1.4l-1.2 1.8zM164.0 237.1l1.2 -1.8l-1.9 -0.9zM200.8 150.6l0.7 2.0l1.8 -1.0zM295.2 173.1l-2.1 0.2l0.5 2.1zM216.1 42.4l1.5 1.5l1.2 -1.7z"/><path fill="#0000aa" d="M200.8 58.4l1.9 1.0l0.7 -2.0zM140.0 59.1l2.0 -0.6l-0.9 -1.9zM147.5 265.3l-0.5 2.1l2.1 0.2zM202.1 126.4l-1.6 1.4l1.6 1.4zM217.5 51.4l1.6 -1.4l-1.6 -1.4zM301.3 180.8l-0.5 2.0l2.1 0.2zM223.8 18.9l1.5 1.5l1.2 -1.7zM170.2 221.1l2.0 0.6l0.3 -2.1zM155.0 387.2l-0.3 2.1l2.1 -0.0zM193.8 43.5l2.0 -0.6l-0.9 -1.9zM225.8 51.3l0.7 -2.0l-2.1 -0.4zM195.7 173.7l-1.9 -1.0l-0.7 2.0zM201.4 64.5l-0.6 2.0l2.1 0.3zM200.7 73.3l1.3 1.7l1.5 -1.5zM155.9 244.8l1.6 -1.3l-1.6 -1.4zM103.5 334.8l-1.7 -1.3l-1.0 1.9zM139.2 65.4l1.0 1.9l1.7 -1.3zM300.9 165.7l0.3 2.1l2.0 -0.6zM163.4 371.7l-1.3 1.7l1.9 1.0zM201.0 43.1l2.1 0.4l-0.0 -2.1zM170.0 73.2l1.1 1.9l1.7 -1.4zM208.4 42.3l1.4 1.7l1.4 -1.7zM162.8 387.1l-0.5 2.1l2.2 0.1zM224.2 27.6l2.2 0.3l-0.1 -2.2zM185.4 73.0l0.8 2.0l1.9 -1.1zM216.2 34.0l0.7 2.1l1.9 -1.1zM148.3 379.3l-1.7 1.3l1.7 1.4zM201.0 80.3l-0.1 2.2l2.2 -0.4zM194.2 59.2l1.9 -1.2l-1.5 -1.6zM163.2 402.1l-1.1 1.9l2.1 0.7zM193.2 35.0l2.0 1.0l0.5 -2.2zM163.7 67.0l1.7 -1.4l-1.8 -1.4zM170.6 356.7l-0.7 2.1l2.2 0.2zM216.2 425.7l0.8 2.1l1.8 -1.3zM209.3 66.9l2.1 -0.7l-1.2 -1.9zM193.1 73.0l0.7 2.1l1.9 -1.2zM185.4 66.1l1.9 1.3l0.8 -2.1zM155.9 417.1l-1.8 1.4l1.8 1.3zM201.0 97.6l2.2 0.7l0.1 -2.3zM202.1 141.9l-1.8 1.4l1.8 1.4zM223.9 2.5l0.4 2.3l2.1 -1.0zM162.8 364.4l-0.6 2.2l2.3 -0.0zM170.1 364.9l0.4 2.3l2.0 -1.1zM234.2 42.0l-1.8 -1.5l-0.9 2.1zM155.6 67.0l2.2 -0.9l-1.5 -1.8zM155.3 379.5l-1.0 2.1l2.3 0.3zM162.3 410.6l0.9 2.2l1.8 -1.5zM210.9 80.4l-2.3 -0.7l0.0 2.4zM156.7 252.3l1.0 -2.2l-2.4 -0.2zM139.2 34.6l1.6 1.8l1.1 -2.2zM170.0 425.8l1.0 2.3l1.7 -1.8zM146.9 65.9l1.7 1.8l1.0 -2.3zM193.9 51.3l2.4 -0.5l-1.4 -2.1zM162.3 227.8l0.9 2.3l1.8 -1.7zM178.5 66.9l2.5 -0.4l-1.4 -2.1zM178.0 387.3l-0.5 2.5l2.5 -0.6zM162.3 27.0l1.8 1.7l0.8 -2.4zM177.7 395.7l1.2 2.2l1.6 -2.0zM178.1 74.5l2.5 0.3l-0.7 -2.4zM132.1 51.2l2.5 0.2l-0.9 -2.4zM295.1 157.6l-2.6 0.1l1.1 2.3zM200.8 89.4l1.9 1.7l0.8 -2.4zM162.5 395.1l0.0 2.6l2.3 -1.1zM234.1 49.4l-2.2 -1.3l-0.2 2.6zM170.0 395.8l1.4 2.2l1.3 -2.2zM209.2 59.1l2.6 -0.4l-1.5 -2.1zM193.3 66.4l2.4 1.0l-0.1 -2.6zM154.6 235.8l1.4 2.2l1.3 -2.2zM201.2 51.1l2.6 0.3l-0.9 -2.5zM185.4 27.2l2.1 1.5l0.4 -2.6zM155.7 35.8l2.5 -0.9l-1.9 -1.8zM170.2 419.4l2.4 0.9l-0.3 -2.6zM177.8 205.6l2.2 1.4l0.2 -2.6zM216.2 18.4l0.6 2.6l2.0 -1.6zM108.4 3.0l1.2 2.4l1.6 -2.1zM123.9 120.4l1.9 1.8l0.7 -2.5zM185.3 166.5l1.3 2.3l1.4 -2.2zM116.9 1.9l-1.4 2.2l2.6 0.2zM208.5 411.4l2.0 1.7l0.6 -2.6zM208.6 25.8l-0.2 2.7l2.4 -1.1zM124.0 103.9l0.2 2.7l2.3 -1.4zM170.1 402.9l0.4 2.6l2.1 -1.6zM177.9 402.6l-0.1 2.7l2.4 -1.2zM162.4 380.1l0.4 2.7l2.2 -1.6zM70.1 281.1l0.3 2.7l2.2 -1.5zM208.4 34.6l1.7 2.1l1.1 -2.5zM154.8 74.2l2.4 1.3l-0.1 -2.7zM100.8 2.8l0.7 2.6l2.0 -1.9zM147.0 35.0l2.2 1.6l0.4 -2.7zM154.9 425.1l-0.6 2.7l2.6 -0.8zM186.8 59.2l2.3 -1.6l-2.5 -1.2zM154.6 89.1l1.5 2.3l1.2 -2.5zM170.2 387.5l-0.1 2.8l2.5 -1.2zM131.5 2.9l0.9 2.6l1.8 -2.1zM223.8 10.7l0.8 2.6l1.9 -2.0zM147.0 89.6l2.3 1.5l0.1 -2.8zM124.0 127.1l0.0 2.8l2.4 -1.4zM177.8 88.3l-0.0 2.8l2.4 -1.4zM185.8 182.9l2.7 0.7l-0.8 -2.7zM187.3 198.6l1.5 -2.3l-2.8 -0.2zM85.8 10.0l-0.8 2.7l2.7 -0.7zM108.5 119.7l0.7 2.7l1.9 -2.0zM162.4 81.7l2.2 1.7l0.4 -2.8zM170.0 411.4l2.1 1.9l0.6 -2.7zM85.6 25.8l-0.3 2.8l2.6 -1.1zM193.0 151.3l1.8 2.1l0.9 -2.7zM155.4 371.8l-1.7 2.2l2.8 0.3zM23.9 373.3l1.7 2.3l1.1 -2.6zM185.3 380.8l1.5 2.4l1.2 -2.5zM85.4 273.7l0.7 2.7l2.0 -2.0zM124.1 57.0l-0.4 2.8l2.6 -1.2zM139.5 95.9l-0.4 2.8l2.6 -1.1zM162.4 19.5l2.4 1.5l0.0 -2.8zM177.7 358.2l1.9 2.1l0.8 -2.8zM185.3 174.2l1.5 2.5l1.3 -2.5zM234.0 33.7l-2.5 -1.5l0.1 2.9zM147.5 257.6l-1.4 2.5l2.9 -0.2zM100.8 112.1l1.0 2.7l1.8 -2.3zM139.2 81.3l1.5 2.4l1.2 -2.6zM162.3 96.8l1.4 2.5l1.3 -2.6zM170.3 372.2l-0.6 2.8l2.7 -1.1zM116.4 126.9l-0.5 2.9l2.7 -1.1zM77.8 26.1l0.4 2.9l2.2 -1.9zM208.4 18.8l1.3 2.6l1.5 -2.5zM70.0 273.8l0.8 2.8l1.9 -2.2zM170.0 97.1l1.9 2.2l0.8 -2.8zM177.8 380.0l-0.1 2.9l2.5 -1.5zM163.1 74.7l2.9 -0.2l-1.8 -2.3zM201.2 35.5l2.9 0.5l-1.2 -2.7zM131.6 58.4l2.2 1.9l0.4 -2.9zM108.4 89.0l1.4 2.5l1.3 -2.6zM193.1 80.7l0.3 2.9l2.3 -1.9zM193.0 135.7l1.7 2.4l1.0 -2.7zM154.6 104.2l0.7 2.8l1.9 -2.2zM193.3 111.5l-0.4 2.9l2.6 -1.3zM193.1 26.9l1.9 2.2l0.8 -2.8zM193.5 87.9l-1.1 2.7l2.9 -0.6zM100.9 103.8l-0.2 2.9l2.5 -1.5zM170.0 89.2l1.8 2.3l0.9 -2.8zM162.3 426.2l1.6 2.5l1.1 -2.7zM131.5 42.0l1.0 2.8l1.8 -2.4zM77.8 10.3l-0.0 2.9l2.4 -1.6zM185.4 365.7l1.8 2.3l0.9 -2.8zM179.0 371.7l-2.6 1.5l2.7 1.3zM226.3 326.8l-2.6 -1.5l0.2 2.9zM108.4 112.2l1.2 2.7l1.5 -2.5zM108.9 9.9l-1.1 2.7l2.9 -0.6zM78.1 273.1l-1.0 2.8l2.9 -0.8zM177.7 81.0l0.8 2.8l1.9 -2.3zM108.5 127.4l0.6 2.9l2.1 -2.1zM77.7 2.9l0.9 2.8l1.8 -2.3zM185.4 402.9l0.4 2.9l2.2 -2.0zM149.1 58.9l1.2 -2.7l-2.9 0.6zM116.1 89.1l1.5 2.5l1.2 -2.7zM147.2 103.7l-0.6 2.9l2.7 -1.2zM116.3 111.7l0.1 3.0l2.4 -1.8zM85.4 18.3l0.4 3.0l2.2 -2.0zM177.6 365.5l1.4 2.6l1.3 -2.7zM177.6 96.9l1.5 2.6l1.2 -2.7zM131.7 10.2l-0.3 3.0l2.6 -1.4zM208.4 11.2l1.7 2.4l1.0 -2.8zM139.6 17.9l-0.8 2.9l2.8 -1.0zM139.2 73.1l0.7 2.9l2.0 -2.2zM172.4 229.0l0.6 -2.9l-2.7 1.2zM131.5 34.2l0.9 2.8l1.8 -2.4zM162.5 11.7l2.6 1.6l-0.2 -3.0zM123.8 112.2l1.1 2.8l1.6 -2.5zM146.9 96.7l1.3 2.7l1.4 -2.6zM185.7 95.9l-0.8 2.9l2.8 -1.1zM139.5 119.2l-0.5 3.0l2.7 -1.3zM39.3 372.7l0.5 3.0l2.2 -2.1zM185.4 387.8l0.3 3.0l2.2 -2.1zM31.7 372.4l-0.1 3.0l2.5 -1.7zM185.6 103.7l-0.6 3.0l2.8 -1.3zM154.7 112.9l2.4 1.9l0.1 -3.1zM131.7 66.4l2.7 1.5l-0.4 -3.0zM139.3 10.5l0.4 3.1l2.2 -2.2zM146.9 18.7l1.2 2.8l1.5 -2.7zM124.0 10.4l0.0 3.1l2.4 -1.9zM78.1 41.3l-1.1 2.9l3.0 -0.9zM131.6 88.4l0.1 3.1l2.4 -2.0zM108.4 97.0l1.8 2.5l1.0 -2.9zM216.3 27.4l2.7 1.6l-0.4 -3.1zM202.3 118.7l-3.0 1.0l2.5 1.8zM108.8 17.9l-0.7 3.0l2.9 -1.2zM100.9 88.3l-0.2 3.1l2.6 -1.7zM193.3 372.3l-0.5 3.1l2.7 -1.5zM100.8 119.8l0.8 3.0l1.9 -2.5zM116.1 11.1l1.6 2.7l1.2 -2.9zM177.7 410.6l0.7 3.1l2.0 -2.4zM193.0 97.0l1.8 2.6l0.9 -3.0zM178.1 175.2l3.0 1.0l-1.0 -2.9zM116.1 135.8l1.9 2.5l0.9 -3.0zM193.0 104.5l1.4 2.8l1.4 -2.8zM162.4 89.6l2.5 1.8l-0.1 -3.1zM218.8 327.7l-0.8 -3.0l-1.9 2.5zM71.2 9.6l-2.7 1.7l3.0 1.1zM171.4 67.0l2.8 -1.5l-2.9 -1.2zM31.6 365.2l0.6 3.1l2.1 -2.4zM85.7 41.4l-0.7 3.1l2.9 -1.3zM147.5 74.6l3.1 0.4l-1.6 -2.7zM131.7 134.9l-0.2 3.2l2.6 -1.8zM193.3 17.9l-0.7 3.1l2.9 -1.4zM131.5 120.1l1.4 2.8l1.3 -2.9zM154.7 80.7l0.1 3.2l2.4 -2.1zM154.8 10.2l-0.4 3.2l2.7 -1.6zM123.8 3.2l1.5 2.8l1.3 -2.9zM123.9 42.8l2.4 2.1l0.2 -3.2zM100.9 18.2l0.0 3.2l2.5 -2.0zM147.5 25.5l-1.7 2.7l3.2 -0.4zM200.7 26.9l1.9 2.6l0.8 -3.1zM93.2 2.6l0.0 3.2l2.5 -2.0zM193.2 127.1l-0.4 3.2l2.7 -1.7zM116.2 143.7l2.1 2.4l0.5 -3.2zM85.5 33.8l-0.1 3.2l2.6 -1.9zM93.1 18.4l0.5 3.2l2.1 -2.4zM131.7 103.8l-0.3 3.2l2.7 -1.8zM124.0 135.0l-0.0 3.2l2.5 -2.0zM139.2 104.5l1.2 3.0l1.5 -2.9zM170.0 3.2l1.4 2.9l1.4 -2.9zM108.6 105.3l2.7 1.7l-0.4 -3.2zM162.3 2.7l0.3 3.2l2.3 -2.3zM100.8 327.0l0.2 3.2l2.4 -2.2zM162.3 418.3l1.0 3.1l1.7 -2.8zM154.7 18.4l0.3 3.2l2.3 -2.3zM85.9 64.5l-1.6 2.9l3.2 -0.6zM147.1 10.2l-0.5 3.2l2.8 -1.7zM278.3 17.6l-1.9 2.7l3.3 -0.3zM179.1 214.1l2.9 -1.6l-3.1 -1.2zM147.0 81.8l2.4 2.2l0.1 -3.3zM156.6 409.7l-3.3 -0.2l2.1 2.6zM163.8 35.8l2.9 -1.7l-3.2 -1.1zM123.9 80.9l0.6 3.3l2.1 -2.6zM170.0 18.8l1.4 3.0l1.3 -3.1zM108.6 41.5l-0.4 3.3l2.8 -1.9zM124.5 87.8l-2.0 2.7l3.3 -0.2zM186.2 371.8l-2.3 2.5l3.3 0.1zM100.9 96.1l-0.4 3.3l2.7 -1.9zM100.7 50.1l1.4 3.0l1.4 -3.1zM85.7 2.3l-0.9 3.2l3.0 -1.5zM100.9 127.2l-0.2 3.4l2.6 -2.1zM154.8 119.4l-0.3 3.3l2.7 -2.0zM93.6 56.8l-1.6 3.0l3.3 -0.8zM146.9 243.7l1.9 2.8l0.9 -3.3zM193.0 365.4l1.2 3.1l1.5 -3.0zM101.4 33.2l-2.0 2.7l3.4 -0.3zM109.2 142.1l-2.1 2.7l3.4 -0.3zM116.2 57.5l0.6 3.3l2.1 -2.7zM154.7 2.5l-0.3 3.4l2.7 -2.1zM132.1 126.7l-1.7 3.0l3.3 -0.8zM177.6 11.0l1.4 3.1l1.3 -3.1zM226.2 57.0l-3.0 -1.6l0.9 3.3zM131.9 17.8l-1.3 3.1l3.2 -1.1zM147.0 127.3l0.1 3.4l2.4 -2.4zM116.4 33.6l-0.8 3.3l3.0 -1.7zM78.0 18.0l-0.8 3.3l3.0 -1.6zM170.2 379.8l-0.8 3.3l3.0 -1.7zM170.0 81.6l2.1 2.7l0.5 -3.4zM146.9 120.4l2.1 2.8l0.6 -3.4zM200.7 10.7l0.8 3.3l1.9 -2.9zM131.5 97.0l1.9 2.9l0.8 -3.3zM77.9 364.7l-0.6 3.4l2.9 -1.9zM116.3 96.1l-0.2 3.4l2.7 -2.2zM185.5 111.6l-0.4 3.4l2.8 -2.1zM24.6 364.3l-2.1 2.7l3.4 -0.3zM147.9 249.8l-2.8 2.1l3.4 0.6zM77.8 33.8l-0.3 3.4l2.7 -2.2zM139.2 2.8l0.5 3.4l2.2 -2.7zM178.4 126.6l-2.2 2.7l3.5 -0.2zM178.4 1.9l-2.1 2.7l3.5 -0.3zM123.9 65.2l0.2 3.5l2.4 -2.5zM185.6 18.0l-0.7 3.4l3.0 -1.8zM100.9 80.6l-0.2 3.5l2.7 -2.3zM93.2 72.9l-0.1 3.5l2.6 -2.3zM162.3 111.9l0.4 3.5l2.2 -2.7zM93.4 64.7l-1.1 3.3l3.2 -1.5zM101.0 72.7l-0.6 3.5l2.9 -2.0zM211.1 97.1l-0.6 -3.5l-2.1 2.8zM208.5 3.7l2.5 2.5l0.1 -3.5zM116.6 80.2l-1.5 3.2l3.3 -1.1zM211.1 88.5l-2.5 -2.5l-0.1 3.5zM108.5 74.0l2.5 2.5l0.0 -3.5zM93.1 10.8l0.9 3.4l1.8 -3.0zM100.8 26.2l0.2 3.5l2.4 -2.6zM216.1 3.0l0.9 3.4l1.8 -3.0zM185.9 134.5l-1.8 3.1l3.4 -0.9zM78.2 48.9l-1.8 3.1l3.5 -0.8zM170.2 119.2l-0.9 3.5l3.1 -1.8zM108.9 134.6l-1.4 3.3l3.3 -1.3zM177.7 104.0l0.0 3.6l2.5 -2.5zM77.9 281.0l-0.6 3.5l2.9 -2.1zM200.7 19.0l1.9 3.1l0.9 -3.5zM162.4 104.1l0.1 3.6l2.5 -2.6zM185.3 120.3l1.8 3.1l0.9 -3.5zM116.2 120.4l2.1 2.9l0.5 -3.6zM70.6 2.0l-1.9 3.0l3.5 -0.8zM93.3 33.6l-0.9 3.5l3.1 -1.9zM162.3 135.5l1.3 3.4l1.5 -3.3zM193.2 142.7l-0.2 3.6l2.7 -2.4zM146.9 112.1l0.8 3.5l1.9 -3.0zM131.8 80.4l-1.0 3.5l3.2 -1.7zM170.2 134.7l-0.8 3.5l3.1 -1.9zM185.5 88.4l-0.1 3.6l2.6 -2.5zM148.3 43.6l3.3 -1.5l-3.4 -1.3zM139.2 127.6l0.7 3.5l2.0 -3.0zM185.3 143.2l1.0 3.5l1.7 -3.2zM131.5 112.4l1.6 3.2l1.1 -3.5zM146.9 135.2l0.6 3.6l2.1 -3.0zM139.2 135.2l0.4 3.6l2.2 -2.9zM185.4 159.0l1.9 3.1l0.8 -3.5zM139.2 88.9l1.2 3.4l1.5 -3.3zM185.6 127.0l-0.8 3.6l3.1 -2.0zM187.5 190.8l2.0 -3.0l-3.6 0.7zM185.3 357.8l1.0 3.5l1.8 -3.2zM131.7 27.3l2.9 2.2l-0.6 -3.6zM131.6 74.0l2.7 2.6l-0.1 -3.7zM124.1 19.6l3.1 2.0l-0.9 -3.6zM123.8 73.5l1.4 3.4l1.3 -3.5zM170.0 104.5l1.2 3.5l1.6 -3.4zM154.7 26.0l-0.3 3.7l2.8 -2.5zM195.4 182.9l1.5 -3.4l-3.4 1.4zM100.8 58.0l1.7 3.3l1.0 -3.6zM93.1 49.8l0.7 3.7l2.0 -3.1zM116.2 72.9l-0.1 3.7l2.6 -2.6zM193.1 11.5l2.6 2.6l-0.1 -3.7zM185.4 81.5l2.1 3.1l0.6 -3.7zM101.0 64.8l-0.9 3.6l3.2 -2.0zM85.4 57.8l1.3 3.5l1.5 -3.4zM108.8 64.8l-1.2 3.5l3.3 -1.8zM185.4 151.3l2.1 3.1l0.6 -3.7zM193.1 2.6l-0.1 3.8l2.6 -2.7zM193.2 159.5l3.1 2.2l-0.7 -3.7z"/><path fill="#0000d4" d="M193.1 357.6l0.4 3.7l2.2 -3.0zM186.9 43.6l3.2 -1.9l-3.7 -0.8zM177.6 120.1l1.4 3.5l1.3 -3.5zM124.1 25.8l-1.0 3.7l3.2 -2.0zM139.2 27.0l2.2 3.1l0.4 -3.8zM93.3 25.8l-1.1 3.6l3.3 -1.9zM233.8 4.2l1.7 -3.4l-3.6 1.4zM139.2 251.0l1.1 3.7l1.7 -3.4zM139.2 112.6l2.1 3.2l0.6 -3.8zM78.0 357.1l-1.1 3.7l3.3 -2.0zM177.7 197.8l2.4 3.0l0.2 -3.8zM16.2 335.4l2.1 3.2l0.6 -3.8zM154.8 96.0l-0.8 3.8l3.1 -2.3zM123.9 142.9l0.2 3.8l2.4 -3.0zM162.3 127.9l1.5 3.6l1.3 -3.7zM116.2 42.7l2.4 3.0l0.2 -3.9zM177.9 111.5l-1.1 3.7l3.3 -2.1zM93.1 42.0l0.6 3.9l2.1 -3.3zM177.7 135.9l2.2 3.2l0.5 -3.9zM147.6 1.9l-2.6 2.9l3.9 -0.5zM148.5 386.9l-3.9 0.7l3.4 2.0zM187.7 206.0l1.5 -3.6l-3.5 1.7zM124.4 51.2l3.8 1.0l-2.2 -3.2zM116.4 50.9l3.4 2.0l-1.2 -3.7zM185.5 10.4l-0.4 3.9l2.9 -2.7zM123.9 34.9l2.6 2.9l-0.0 -3.9zM85.5 72.9l-0.3 3.9l2.8 -2.8zM108.4 34.6l1.8 3.5l0.9 -3.8zM162.3 143.5l1.9 3.5l0.8 -3.9zM123.8 97.0l1.9 3.5l0.8 -3.9zM231.5 365.5l1.4 3.7l1.3 -3.8zM100.8 42.0l0.5 4.0l2.2 -3.4zM47.0 372.7l0.4 4.0l2.3 -3.3zM170.2 144.0l3.2 2.5l-0.8 -3.9zM85.7 49.2l-1.4 3.8l3.5 -2.0zM223.8 380.4l0.7 4.0l2.0 -3.5zM234.2 57.4l-2.5 -3.2l-0.2 4.0zM93.1 80.9l0.4 4.0l2.2 -3.4zM23.9 342.3l0.3 4.0l2.4 -3.3zM116.2 150.5l-0.2 4.0l2.8 -3.0zM170.0 127.9l1.7 3.7l1.0 -3.9zM154.8 128.6l3.4 2.3l-1.2 -3.9zM108.6 81.9l3.0 2.7l-0.6 -4.0zM154.8 134.8l-0.8 4.0l3.2 -2.6zM177.9 142.5l-1.1 3.9l3.3 -2.4zM170.1 150.5l-0.3 4.1l2.9 -3.0zM109.0 318.8l-2.3 3.4l4.0 -1.2zM116.2 26.1l-0.1 4.1l2.7 -3.2zM185.6 4.0l3.4 2.3l-1.2 -3.9zM110.6 328.6l2.4 -3.4l-4.0 1.1zM139.3 142.9l0.1 4.2l2.5 -3.3zM139.4 258.1l-0.7 4.1l3.1 -2.8zM116.3 66.3l3.0 2.9l-0.5 -4.1zM116.3 103.8l-0.8 4.1l3.2 -2.7zM131.5 250.7l0.3 4.2l2.4 -3.5zM170.0 111.8l-0.2 4.2l2.8 -3.1zM177.7 166.0l-0.1 4.2l2.7 -3.2zM162.3 119.7l0.3 4.2l2.4 -3.4zM116.1 18.9l1.6 3.9l1.2 -4.0zM216.2 11.7l3.2 2.8l-0.7 -4.2zM87.1 366.9l3.5 -2.5l-4.2 -0.3zM178.0 157.8l-1.8 3.9l3.8 -1.9zM108.4 57.5l0.3 4.2l2.4 -3.5zM100.8 11.4l2.6 3.4l0.1 -4.3zM108.6 27.4l3.4 2.6l-1.0 -4.2zM264.6 2.1l-3.9 -1.8l1.9 3.9zM218.9 73.8l-0.3 -4.3l-2.5 3.5zM211.2 158.4l-2.3 -3.7l-0.5 4.3zM154.6 227.5l-0.2 4.3l2.9 -3.2zM131.4 143.1l0.9 4.2l1.9 -3.9zM177.6 19.0l1.9 4.0l1.0 -4.2zM46.9 357.4l0.0 4.4l2.7 -3.4zM195.7 328.1l0.3 -4.4l-3.0 3.2zM203.4 167.1l0.5 -4.3l-3.1 3.1zM177.6 151.0l1.3 4.2l1.6 -4.1zM177.6 189.6l1.5 4.1l1.4 -4.1zM62.5 364.7l-1.1 4.3l3.5 -2.6zM226.6 65.6l-1.7 -4.1l-1.2 4.2zM39.2 357.4l0.0 4.4l2.8 -3.5zM200.7 3.5l2.5 3.7l0.3 -4.4zM85.7 303.5l-2.1 4.0l4.1 -1.8zM70.1 364.8l-0.8 4.4l3.4 -3.0zM193.3 119.1l-1.7 4.2l4.0 -2.2zM108.3 49.9l1.2 4.4l1.9 -4.1zM123.7 150.7l0.5 4.5l2.4 -3.8zM162.1 151.0l1.5 4.3l1.5 -4.3zM139.4 242.5l-1.4 4.3l3.8 -2.4zM78.0 303.6l-1.9 4.1l4.1 -2.0zM169.8 10.8l0.9 4.5l2.1 -4.1zM154.5 143.7l2.7 3.7l0.3 -4.6zM169.9 158.3l0.2 4.6l2.8 -3.7zM23.8 334.4l-0.6 4.6l3.3 -3.2zM108.5 265.6l-1.0 4.5l3.7 -2.9zM131.4 242.9l-0.1 4.7l3.0 -3.6zM164.8 244.5l2.0 -4.3l-4.3 2.0zM24.1 326.4l-2.1 4.3l4.3 -2.0zM211.4 151.0l-1.8 -4.5l-1.4 4.6zM171.4 36.1l4.5 -1.9l-4.7 -1.3zM23.7 319.4l0.1 4.9l3.0 -3.9zM169.7 212.8l1.9 4.5l1.3 -4.7zM131.2 151.0l1.6 4.7l1.7 -4.6zM140.9 43.9l4.2 -2.5l-4.9 -0.7zM203.6 328.2l0.5 -4.9l-3.4 3.5zM123.8 250.2l-1.3 4.8l4.0 -2.9zM146.7 143.7l2.7 4.1l0.5 -4.9zM211.4 142.9l-2.6 -4.2l-0.6 4.9zM39.0 365.2l0.8 4.9l2.5 -4.3zM162.2 219.5l-1.0 4.9l3.9 -3.1zM62.2 357.1l-0.9 5.0l3.8 -3.3zM218.8 66.7l1.7 -4.7l-4.3 2.6zM177.3 181.9l1.8 4.7l1.6 -4.8zM146.6 150.5l0.2 5.1l3.0 -4.1zM179.7 59.4l3.7 -3.5l-5.1 0.4zM156.7 401.8l-5.1 -0.5l3.7 3.6zM54.6 356.9l-1.6 4.9l4.3 -2.8zM70.7 303.0l-3.9 3.4l5.2 -0.1zM31.5 341.7l-1.3 5.0l4.2 -3.1zM123.5 243.0l0.5 5.2l2.9 -4.4zM154.2 151.3l2.6 4.6l0.9 -5.2zM116.4 310.9l-2.8 4.5l5.0 -1.8zM31.5 318.8l-1.8 5.0l4.6 -2.8zM148.6 424.3l-5.3 0.9l4.7 2.6zM32.0 310.7l-3.5 4.2l5.3 -1.0zM169.5 166.3l1.3 5.3l2.3 -4.9zM138.8 150.8l1.2 5.3l2.4 -4.9zM39.3 311.0l-2.3 5.0l4.9 -2.5zM77.9 310.9l-2.7 4.8l5.1 -2.0zM85.6 310.8l-3.1 4.6l5.3 -1.6zM234.6 65.0l-3.5 -4.3l0.0 5.6zM161.9 158.2l0.1 5.7l3.5 -4.5zM169.5 205.3l2.7 5.0l1.0 -5.6zM85.4 318.5l-2.5 5.1l5.2 -2.4zM211.7 112.1l-2.6 -5.1l-1.2 5.6zM187.6 51.8l3.9 -4.2l-5.7 0.8zM101.2 318.2l-3.8 4.3l5.7 -1.0zM46.8 349.1l-2.1 5.4l5.0 -2.9zM149.2 51.8l3.9 -4.3l-5.7 0.9zM131.4 234.5l-2.0 5.5l5.0 -3.0zM180.1 222.0l3.5 -4.6l-5.7 1.4zM265.3 10.1l-4.3 -3.9l0.9 5.8zM123.2 235.8l2.0 5.5l1.9 -5.5zM154.0 158.9l2.3 5.4l1.6 -5.6zM62.0 349.3l-1.2 5.7l4.6 -3.7zM101.3 310.5l-4.1 4.2l5.8 -0.7zM157.9 266.9l-0.5 -5.9l-3.3 4.9zM165.2 43.5l1.8 -5.6l-5.0 3.2zM70.1 310.7l-3.0 5.2l5.6 -2.1zM131.4 257.4l-2.5 5.4l5.3 -2.7zM31.6 333.6l-2.9 5.2l5.5 -2.2zM140.4 52.0l5.8 -1.4l-5.4 -2.5zM234.8 73.6l-1.6 -5.8l-2.4 5.5zM211.7 128.4l-0.3 -6.0l-3.6 4.9zM149.8 417.2l-5.3 -2.9l2.3 5.6zM39.3 341.1l-3.2 5.2l5.7 -2.0zM70.3 356.2l-3.8 4.8l5.9 -1.3zM146.3 159.2l3.2 5.2l0.7 -6.1zM31.1 326.6l-0.7 6.1l4.4 -4.3zM127.2 312.8l-0.6 -6.2l-3.4 5.1z"/><path fill="#0000ff" d="M108.6 310.5l-3.7 5.0l6.0 -1.6zM157.1 59.6l3.8 -4.9l-6.1 1.4zM77.8 318.2l-3.4 5.2l6.0 -1.9zM173.1 236.8l1.1 -6.2l-4.8 4.1zM149.8 394.4l-5.5 -3.0l2.5 5.8zM196.1 190.9l2.0 -6.0l-5.3 3.4zM119.2 321.1l1.7 -6.1l-5.2 3.6zM211.8 103.8l-4.0 -4.9l-0.0 6.3zM219.6 81.3l-1.8 -6.1l-2.4 5.9zM157.3 260.4l3.3 -5.5l-6.0 2.2zM227.2 73.9l-0.7 -6.4l-3.5 5.4zM135.0 305.2l-0.6 -6.4l-3.6 5.4zM164.8 59.7l3.9 -5.1l-6.3 1.5zM140.6 287.2l-6.2 2.1l6.1 2.3zM180.0 44.2l4.6 -4.7l-6.6 0.8zM169.2 182.3l3.3 5.7l1.0 -6.5zM142.8 297.2l-1.5 -6.4l-2.8 6.0zM204.3 174.8l-0.6 -6.6l-3.7 5.5zM250.5 3.0l-2.6 -6.2l-1.8 6.4zM115.5 157.9l-0.5 6.7l4.6 -4.9zM123.0 159.3l3.6 5.7l0.8 -6.7zM39.2 333.4l-3.4 5.8l6.3 -2.3zM156.9 44.3l4.7 -4.8l-6.7 0.8zM227.4 319.9l-2.3 -6.3l-2.2 6.4zM115.7 265.0l-2.2 6.4l5.8 -3.6zM172.7 59.7l3.9 -5.6l-6.5 1.9zM130.9 157.7l-1.1 6.7l5.1 -4.5zM39.2 325.6l-3.9 5.7l6.6 -2.0zM172.6 44.2l4.3 -5.5l-6.8 1.5zM212.1 119.6l-3.5 -6.1l-1.1 6.9zM188.1 214.6l4.0 -5.7l-6.7 1.9zM38.8 318.4l-2.5 6.6l6.1 -3.6zM161.3 212.3l1.0 7.0l3.6 -6.0zM142.4 374.6l2.4 -6.7l-6.1 3.7zM138.5 157.7l-1.0 7.1l5.2 -4.9zM115.3 165.5l-0.7 7.2l5.0 -5.2zM273.5 25.6l-5.1 -5.2l0.7 7.2zM134.2 409.0l-7.0 -1.8l4.3 5.8zM124.3 256.5l-5.4 4.9l7.2 -0.4zM54.7 348.3l-4.5 5.7l7.1 -1.7zM46.9 310.3l-4.2 6.0l7.0 -2.0zM108.1 272.4l-3.0 6.6l6.5 -3.3zM69.5 318.3l-2.8 6.8l6.4 -3.6zM289.1 158.7l-2.7 -6.9l-2.2 7.1zM168.9 196.8l1.0 7.4l3.8 -6.4zM168.9 173.7l1.1 7.4l3.8 -6.4zM161.2 165.9l0.8 7.5l4.1 -6.3zM235.2 313.2l0.2 -7.5l-4.9 5.7zM258.0 1.8l-6.0 -4.6l1.8 7.4zM46.7 340.7l-4.1 6.5l7.3 -2.5zM108.3 302.5l-4.5 6.3l7.4 -2.1zM115.8 272.1l-3.8 6.8l7.2 -2.9zM122.7 227.4l0.5 7.9l4.5 -6.4zM46.5 333.1l-3.8 6.9l7.4 -3.0zM153.5 165.6l-0.1 7.9l5.1 -6.1zM145.6 166.6l3.0 7.4l2.3 -7.6zM289.3 166.5l-2.7 -7.5l-2.6 7.5zM150.2 367.4l3.4 -7.2l-7.2 3.5zM212.4 135.0l-4.2 -6.8l-1.0 8.0zM168.8 188.8l0.2 8.1l4.9 -6.4zM181.3 229.5l1.8 -7.9l-6.4 5.0zM122.5 166.3l2.1 7.8l3.3 -7.4zM46.5 325.5l-3.9 7.1l7.5 -3.1zM235.5 82.0l-0.3 -8.1l-4.9 6.5zM130.2 227.7l1.6 8.0l3.8 -7.2zM54.3 340.5l-4.5 6.9l7.8 -2.5zM61.8 340.7l-3.7 7.3l7.5 -3.4zM116.2 294.6l-5.6 6.2l8.3 -1.3zM243.3 81.0l-3.4 -7.7l-2.2 8.1zM157.9 359.9l3.6 -7.6l-7.6 3.6zM46.6 317.7l-4.6 7.1l8.0 -2.6zM54.6 317.4l-5.4 6.5l8.3 -1.6zM145.8 219.0l-1.4 8.3l6.3 -5.6zM197.0 198.5l0.6 -8.4l-5.8 6.2zM243.4 88.7l-3.8 -7.6l-1.8 8.3zM250.9 10.1l-5.2 -6.7l-0.2 8.5z"/><path fill="#002aff" d="M180.6 52.5l5.2 -6.9l-8.4 2.1zM130.0 165.9l1.1 8.7l4.6 -7.5zM243.4 72.6l-5.1 -7.1l-0.5 8.8zM205.0 182.5l-1.1 -8.7l-4.6 7.5zM108.7 279.0l-6.6 5.8l8.8 -0.4zM243.5 65.6l-3.1 -8.3l-2.8 8.4zM54.1 332.8l-4.7 7.6l8.4 -2.9zM220.5 88.8l-3.5 -8.3l-2.5 8.6zM116.0 286.8l-5.9 6.8l8.9 -1.6zM152.9 174.2l3.0 8.5l3.0 -8.5zM228.2 81.7l-1.8 -8.9l-4.3 8.1zM115.8 302.1l-5.3 7.4l8.8 -2.4zM137.6 165.6l0.5 9.1l5.3 -7.4zM160.6 204.5l1.5 9.1l4.5 -8.1zM139.1 271.4l-6.2 6.9l9.2 -1.5zM160.6 173.6l1.4 9.2l4.7 -8.0zM61.7 332.7l-4.9 8.0l8.8 -3.1zM243.5 49.2l-5.5 -7.5l-0.4 9.3zM166.2 253.0l2.8 -9.0l-7.8 5.2zM151.0 291.0l1.9 -9.2l-7.3 6.0zM131.8 294.0l-7.3 6.1l9.5 -0.2zM258.8 9.6l-6.7 -6.8l1.0 9.5zM124.1 301.6l-7.4 6.2l9.6 -0.1zM173.3 52.6l5.3 -8.1l-9.2 2.9zM123.5 263.7l-6.1 7.5l9.5 -2.0zM243.8 57.7l-3.8 -8.9l-2.7 9.4zM152.9 211.7l0.1 9.7l6.0 -7.6zM129.7 219.6l1.0 9.7l5.4 -8.2zM243.8 33.8l-4.9 -8.5l-1.5 9.7zM108.0 294.2l-6.0 7.8l9.6 -2.3zM290.0 143.4l-3.1 -9.5l-3.6 9.3zM137.4 219.2l-0.4 10.1l6.7 -7.6zM243.9 96.5l-4.1 -9.3l-2.7 9.8zM160.2 181.6l2.5 9.9l4.3 -9.3zM220.9 320.2l-2.6 -10.1l-4.3 9.5zM160.3 188.6l0.5 10.5l6.2 -8.4zM150.7 400.9l-9.5 -4.5l4.6 9.5zM151.0 408.8l-8.9 -5.6l3.4 10.0zM236.4 88.8l-4.0 -9.9l-3.1 10.2zM221.1 158.7l-3.8 -10.0l-3.3 10.2zM160.1 196.6l1.6 10.6l5.5 -9.2zM174.3 245.4l2.7 -10.5l-8.7 6.5zM121.7 173.4l1.4 10.7l5.7 -9.2zM142.9 415.7l-10.2 -3.8l5.5 9.4zM244.0 41.0l-6.9 -8.4l0.1 10.9zM158.1 53.0l6.2 -9.1l-10.5 3.2z"/><path fill="#0055ff" d="M123.7 286.0l-8.1 7.8l11.2 -1.0zM130.9 270.9l-7.0 8.8l10.9 -2.5zM228.8 89.7l-1.6 -11.1l-5.7 9.7zM123.4 270.8l-7.5 8.4l11.1 -1.8zM122.0 202.9l-2.9 11.1l9.2 -6.8zM221.3 96.6l-4.4 -10.7l-3.3 11.1zM144.5 173.5l1.7 11.5l5.9 -10.0zM290.6 128.0l-3.4 -11.1l-4.4 10.8zM123.1 293.7l-7.3 9.1l11.4 -2.5zM244.4 104.9l-2.8 -11.4l-5.0 10.6zM139.3 278.0l-9.2 7.5l11.8 -0.0zM121.3 212.1l2.1 11.7l5.7 -10.4zM189.7 223.0l4.3 -11.1l-10.3 5.9zM165.9 53.3l6.9 -9.7l-11.4 3.2zM136.6 212.2l2.5 11.7l5.5 -10.7zM136.6 173.6l2.2 11.8l5.7 -10.6zM115.8 278.1l-8.5 8.5l12.0 -1.3zM144.2 212.3l2.9 11.7l5.1 -11.0zM123.3 278.2l-8.1 9.0l12.0 -1.8zM221.6 151.0l-4.1 -11.6l-4.1 11.5zM128.9 173.2l1.2 12.3l6.8 -10.3zM152.0 203.8l0.4 12.3l7.5 -9.8zM206.2 320.3l-2.9 -12.0l-5.3 11.1zM141.9 422.1l-12.5 0.2l9.8 7.6zM213.8 167.4l-1.4 -12.4l-6.7 10.5zM130.8 278.1l-8.2 9.5l12.3 -2.2zM151.8 189.1l2.7 12.3l5.6 -11.2zM198.2 206.9l1.6 -12.5l-9.1 8.7zM144.2 401.2l-9.8 -8.0l2.6 12.4zM129.0 211.1l-0.6 12.7l8.5 -9.5zM151.8 181.0l1.4 12.7l6.8 -10.7zM244.8 111.9l-5.4 -11.7l-3.2 12.5zM151.6 196.8l2.9 12.8l5.8 -11.7zM166.8 261.8l5.3 -12.0l-11.7 6.0zM214.2 319.6l-5.1 -12.2l-3.7 12.6zM237.2 97.2l-3.2 -12.8l-5.6 11.9zM128.9 180.0l-1.5 13.3l9.5 -9.4zM120.7 181.2l2.5 13.3l6.4 -11.9zM229.7 166.5l-4.5 -12.8l-4.5 12.8z"/><path fill="#0080ff" d="M143.9 180.8l1.2 13.6l7.6 -11.3zM237.3 167.3l-2.1 -13.5l-6.9 11.8zM144.2 408.2l-11.4 -7.6l4.1 13.1zM133.2 417.6l-0.0 -0.0l0.9 -2.9l-13.6 -0.0l11.2 7.7l0.9 -2.9l0.0 0.0zM241.5 120.0l-0.0 -0.2l3.0 -0.3l-5.4 -12.5l-2.5 13.4l3.0 -0.3l0.0 0.2zM124.3 189.2l-0.1 0.2l-2.7 -1.4l-2.2 13.4l9.4 -9.8l-2.7 -1.4l0.1 -0.2zM139.7 181.6l-0.1 0.2l-2.8 -1.1l-1.0 13.6l8.4 -10.7l-2.8 -1.1l0.1 -0.2zM210.7 174.4l0.1 -0.3l3.0 0.7l-1.1 -13.6l-6.7 11.8l3.0 0.7l-0.1 0.3zM132.0 204.7l-0.1 0.3l-2.8 -1.2l-1.3 13.5l8.7 -10.5l-2.8 -1.2l0.1 -0.3zM226.1 312.3l0.0 -0.5l3.0 0.3l-2.8 -13.3l-5.2 12.6l3.0 0.3l-0.0 0.5zM147.4 204.7l-0.2 0.6l-2.9 -0.9l0.0 13.6l7.6 -11.3l-2.9 -0.9l0.2 -0.6zM124.3 197.0l-0.2 0.6l-2.8 -1.1l-1.2 13.5l8.6 -10.5l-2.8 -1.1l0.2 -0.6zM139.7 204.7l-0.2 0.7l-2.9 -0.9l-0.2 13.6l7.8 -11.2l-2.9 -0.9l0.2 -0.7zM203.0 190.0l0.3 -0.7l2.8 1.2l1.7 -13.5l-9.0 10.2l2.8 1.2l-0.3 0.7zM218.4 112.3l0.0 -0.8l3.0 0.0l-3.8 -13.1l-4.2 12.9l3.0 0.0l-0.0 0.8zM179.8 236.4l0.5 -0.7l2.4 1.9l5.2 -12.6l-11.4 7.5l2.4 1.9l-0.5 0.7zM147.3 189.5l-0.2 0.9l-3.0 -0.5l1.8 13.5l6.1 -12.2l-3.0 -0.5l0.2 -0.9zM132.5 288.5l-0.9 0.4l-1.2 -2.8l-10.2 9.0l13.5 -1.7l-1.2 -2.8l0.9 -0.4zM132.0 196.9l-0.5 1.0l-2.7 -1.3l-2.1 13.4l9.3 -9.9l-2.7 -1.3l0.5 -1.0zM132.0 189.4l-0.4 1.5l-2.9 -0.8l0.3 13.6l7.4 -11.4l-2.9 -0.8l0.4 -1.5zM110.5 335.8l1.1 -1.1l2.2 2.1l5.9 -12.3l-11.8 6.8l2.2 2.1l-1.1 1.1zM226.1 96.9l0.1 -1.7l3.0 0.3l-2.9 -13.3l-5.1 12.6l3.0 0.3l-0.1 1.7zM241.5 135.6l0.1 -1.8l3.0 0.1l-3.5 -13.1l-4.5 12.8l3.0 0.1l-0.1 1.8zM195.2 213.2l0.9 -1.6l2.7 1.5l2.7 -13.3l-9.7 9.5l2.7 1.5l-0.9 1.6zM139.7 197.0l-0.6 1.7l-2.9 -1.1l-0.9 13.6l8.3 -10.7l-2.9 -1.1l0.6 -1.7zM233.8 104.5l0.0 -2.0l3.0 0.0l-3.9 -13.0l-4.1 13.0l3.0 0.0l-0.0 2.0zM241.5 151.0l0.0 -2.0l3.0 0.0l-4.0 -13.0l-4.0 13.0l3.0 0.0l-0.0 2.0zM147.3 197.1l-0.5 2.0l-3.0 -0.7l0.7 13.6l7.1 -11.6l-3.0 -0.7l0.5 -2.0zM272.2 42.0l-0.7 -2.0l2.9 -1.0l-7.9 -11.1l0.3 13.6l2.9 -1.0l0.7 2.0zM241.5 127.8l-0.1 -2.1l3.0 -0.1l-4.5 -12.8l-3.5 13.1l3.0 -0.1l0.1 2.1zM233.8 158.8l0.0 -2.1l3.0 0.0l-3.8 -13.1l-4.2 12.9l3.0 0.0l-0.0 2.1z"/><path fill="#00aaff" d="M241.5 143.3l-0.0 -2.5l3.0 -0.0l-4.2 -12.9l-3.8 13.1l3.0 -0.0l0.0 2.5zM218.4 143.2l-0.2 -2.6l3.0 -0.2l-5.0 -12.7l-3.0 13.3l3.0 -0.2l0.2 2.6zM139.7 189.3l-0.9 2.4l-2.8 -1.1l-0.9 13.6l8.4 -10.7l-2.8 -1.1l0.9 -2.4zM226.1 158.7l-0.1 -2.7l3.0 -0.1l-4.4 -12.9l-3.6 13.1l3.0 -0.1l0.1 2.7zM249.2 26.4l-0.6 -2.8l3.0 -0.6l-6.6 -11.9l-1.2 13.5l3.0 -0.6l0.6 2.8zM218.4 104.4l-0.3 -2.9l3.0 -0.3l-5.4 -12.5l-2.6 13.4l3.0 -0.3l0.3 2.9zM195.2 320.4l1.6 -2.6l2.6 1.6l3.5 -13.1l-10.3 8.9l2.6 1.6l-1.6 2.6zM279.9 174.3l0.5 -3.2l3.0 0.4l-2.1 -13.4l-5.8 12.3l3.0 0.4l-0.5 3.2zM218.4 135.4l-0.4 -3.3l3.0 -0.3l-5.4 -12.5l-2.5 13.4l3.0 -0.3l0.4 3.3zM241.5 158.7l-0.1 -3.4l3.0 -0.0l-4.2 -12.9l-3.8 13.1l3.0 -0.0l0.1 3.4zM187.5 228.6l2.1 -2.9l2.5 1.8l4.4 -12.9l-10.9 8.2l2.5 1.8l-2.1 2.9zM233.7 305.1l1.9 -3.2l2.6 1.6l3.2 -13.2l-10.1 9.1l2.6 1.6l-1.9 3.2zM210.7 182.1l0.8 -3.7l3.0 0.6l-1.3 -13.5l-6.5 11.9l3.0 0.6l-0.8 3.7zM249.2 104.6l0.1 -3.8l3.0 0.1l-3.6 -13.1l-4.4 12.9l3.0 0.1l-0.1 3.8zM249.2 88.8l-0.9 -3.8l3.0 -0.7l-6.9 -11.7l-0.8 13.6l3.0 -0.7l0.9 3.8zM218.4 120.0l-0.3 -4.0l3.0 -0.3l-5.1 -12.6l-2.9 13.3l3.0 -0.3l0.3 4.0zM233.8 143.4l0.5 -4.1l3.0 0.3l-2.5 -13.4l-5.5 12.5l3.0 0.3l-0.5 4.1zM233.8 151.0l-0.0 -4.1l3.0 -0.0l-4.0 -13.0l-4.0 13.0l3.0 -0.0l0.0 4.1zM164.3 267.1l3.0 -3.2l2.2 2.1l6.0 -12.2l-11.8 6.7l2.2 2.1l-3.0 3.2zM249.2 81.1l-0.5 -4.4l3.0 -0.3l-5.3 -12.5l-2.6 13.3l3.0 -0.3l0.5 4.4zM249.2 96.7l-0.4 -4.4l3.0 -0.2l-5.0 -12.6l-2.9 13.3l3.0 -0.2l0.4 4.4zM279.9 166.6l0.4 -4.4l3.0 0.3l-2.9 -13.3l-5.1 12.6l3.0 0.3l-0.4 4.4z"/><path fill="#00d4ff" d="M203.0 197.7l1.9 -4.2l2.8 1.2l1.6 -13.5l-8.9 10.3l2.8 1.2l-1.9 4.2zM172.0 251.8l3.3 -3.3l2.1 2.2l6.4 -12.0l-12.0 6.3l2.1 2.2l-3.3 3.3zM226.1 104.5l-0.0 -4.7l3.0 -0.0l-4.1 -13.0l-3.9 13.0l3.0 -0.0l0.0 4.7zM218.4 127.8l-0.3 -4.7l3.0 -0.2l-4.7 -12.8l-3.3 13.2l3.0 -0.2l0.3 4.7zM218.4 312.5l1.3 -4.7l2.9 0.8l-0.3 -13.6l-7.4 11.4l2.9 0.8l-1.3 4.7zM233.8 120.2l0.6 -4.9l3.0 0.4l-2.3 -13.4l-5.6 12.4l3.0 0.4l-0.6 4.9zM233.8 112.3l-0.1 -5.0l3.0 -0.1l-4.2 -12.9l-3.8 13.1l3.0 -0.1l0.1 5.0zM249.2 120.0l-0.2 -5.2l3.0 -0.1l-4.4 -12.9l-3.6 13.1l3.0 -0.1l0.2 5.2zM249.2 112.3l-0.1 -5.5l3.0 -0.0l-4.2 -12.9l-3.8 13.1l3.0 -0.0l0.1 5.5zM233.8 127.8l0.2 -5.7l3.0 0.1l-3.5 -13.1l-4.5 12.9l3.0 0.1l-0.2 5.7zM241.5 166.6l0.7 -5.8l3.0 0.4l-2.5 -13.4l-5.5 12.5l3.0 0.4l-0.7 5.8zM179.8 244.0l3.2 -4.9l2.6 1.7l3.7 -13.1l-10.4 8.7l2.6 1.7l-3.2 4.9zM272.2 49.8l-1.5 -5.7l2.9 -0.8l-7.2 -11.5l-0.5 13.6l2.9 -0.8l1.5 5.7zM249.2 73.3l-0.9 -6.0l3.0 -0.4l-5.9 -12.3l-2.0 13.4l3.0 -0.4l0.9 6.0zM226.1 120.1l0.6 -6.1l3.0 0.3l-2.8 -13.3l-5.2 12.6l3.0 0.3l-0.6 6.1zM226.1 151.0l-0.1 -6.3l3.0 -0.0l-4.2 -12.9l-3.8 13.0l3.0 -0.0l0.1 6.3zM233.8 135.5l-0.1 -6.3l3.0 -0.0l-4.2 -12.9l-3.8 13.1l3.0 -0.0l0.1 6.3zM303.0 189.9l1.6 -6.2l2.9 0.8l-0.6 -13.6l-7.2 11.6l2.9 0.8l-1.6 6.2zM279.9 158.8l0.5 -6.7l3.0 0.2l-3.1 -13.2l-4.9 12.7l3.0 0.2l-0.5 6.7z"/><path fill="#00ffff" d="M195.2 221.0l4.2 -5.5l2.4 1.8l4.7 -12.8l-11.0 7.9l2.4 1.8l-4.2 5.5zM249.2 127.8l-0.1 -7.0l3.0 -0.0l-4.1 -13.0l-3.9 13.0l3.0 -0.0l0.1 7.0zM218.4 166.6l1.2 -7.1l3.0 0.5l-1.7 -13.5l-6.2 12.1l3.0 0.5l-1.2 7.1zM226.1 112.3l-0.1 -7.4l3.0 -0.0l-4.2 -12.9l-3.8 13.1l3.0 -0.0l0.1 7.4zM226.1 143.3l0.1 -7.6l3.0 0.1l-3.7 -13.1l-4.3 12.9l3.0 0.1l-0.1 7.6zM203.0 312.6l2.8 -7.1l2.8 1.1l1.0 -13.6l-8.4 10.7l2.8 1.1l-2.8 7.1zM295.2 243.8l3.2 -7.1l2.8 1.3l1.8 -13.5l-9.1 10.2l2.8 1.3l-3.2 7.1zM279.9 151.0l0.2 -8.0l3.0 0.1l-3.7 -13.1l-4.3 12.9l3.0 0.1l-0.2 8.0zM249.2 65.4l-1.9 -7.9l3.0 -0.7l-6.9 -11.7l-0.9 13.6l3.0 -0.7l1.9 7.9zM249.2 135.6l0.7 -8.4l3.0 0.2l-3.0 -13.3l-5.0 12.7l3.0 0.2l-0.7 8.4zM203.0 205.4l3.4 -7.8l2.8 1.2l1.5 -13.5l-8.8 10.3l2.8 1.2l-3.4 7.8zM279.9 143.3l0.3 -8.5l3.0 0.1l-3.6 -13.1l-4.4 12.9l3.0 0.1l-0.3 8.5zM210.7 312.3l0.5 -8.5l3.0 0.2l-3.2 -13.2l-4.8 12.7l3.0 0.2l-0.5 8.5zM249.2 49.9l-1.9 -8.4l3.0 -0.7l-6.8 -11.8l-1.0 13.6l3.0 -0.7l1.9 8.4zM279.9 135.7l1.3 -8.7l3.0 0.4l-2.1 -13.4l-5.8 12.3l3.0 0.4l-1.3 8.7zM226.1 135.5l-0.0 -9.0l3.0 -0.0l-4.1 -13.0l-3.9 13.0l3.0 -0.0l0.0 9.0zM249.2 57.7l-1.3 -9.0l3.0 -0.4l-5.8 -12.3l-2.1 13.4l3.0 -0.4l1.3 9.0z"/><path fill="#2bffd4" d="M279.9 104.5l-0.4 -9.3l3.0 -0.1l-4.5 -12.8l-3.5 13.1l3.0 -0.1l0.4 9.3zM287.5 259.3l5.5 -7.9l2.5 1.7l4.1 -13.0l-10.7 8.4l2.5 1.7l-5.5 7.9zM187.5 236.3l5.4 -8.2l2.6 1.7l3.8 -13.1l-10.5 8.7l2.6 1.7l-5.4 8.2zM226.0 305.1l4.7 -8.7l2.7 1.4l2.6 -13.4l-9.7 9.6l2.7 1.4l-4.7 8.7zM279.9 128.0l1.6 -9.8l3.0 0.5l-1.9 -13.5l-6.0 12.2l3.0 0.5l-1.6 9.8zM218.4 174.4l2.2 -9.8l3.0 0.7l-1.0 -13.6l-6.8 11.8l3.0 0.7l-2.2 9.8zM249.2 143.4l0.9 -10.0l3.0 0.3l-2.9 -13.3l-5.1 12.6l3.0 0.3l-0.9 10.0zM226.1 127.8l-0.1 -10.4l3.0 -0.0l-4.1 -13.0l-3.9 13.0l3.0 -0.0l0.1 10.4zM118.2 328.1l7.2 -8.0l2.3 2.0l5.7 -12.4l-11.6 7.0l2.3 2.0l-7.2 8.0zM272.3 57.8l-0.9 -10.8l3.0 -0.3l-5.1 -12.6l-2.9 13.3l3.0 -0.3l0.9 10.8zM210.7 190.0l4.5 -9.9l2.8 1.3l1.7 -13.5l-9.0 10.2l2.8 1.3l-4.5 9.9zM172.0 259.4l7.9 -8.1l2.2 2.1l6.2 -12.1l-11.9 6.5l2.2 2.1l-7.9 8.1zM164.4 274.7l7.3 -8.9l2.4 1.9l5.1 -12.6l-11.3 7.5l2.4 1.9l-7.3 8.9z"/><path fill="#55ffaa" d="M295.3 236.0l3.5 -11.1l2.9 0.9l0.1 -13.6l-7.7 11.2l2.9 0.9l-3.5 11.1zM256.8 42.0l-3.0 -11.5l3.0 -0.8l-7.1 -11.6l-0.6 13.6l3.0 -0.8l3.0 11.5zM133.6 373.7l8.3 -9.3l2.3 2.0l5.7 -12.4l-11.6 7.0l2.3 2.0l-8.3 9.3zM141.3 305.2l7.7 -10.0l2.4 1.9l4.7 -12.8l-11.1 7.9l2.4 1.9l-7.7 10.0zM249.2 151.1l1.2 -12.6l3.0 0.3l-2.7 -13.3l-5.2 12.6l3.0 0.3l-1.2 12.6zM149.0 297.6l8.6 -9.7l2.3 2.0l5.6 -12.4l-11.6 7.1l2.3 2.0l-8.6 9.7zM203.0 213.0l4.6 -12.2l2.9 1.1l0.8 -13.6l-8.3 10.8l2.9 1.1l-4.6 12.2zM264.6 49.9l-1.9 -13.4l3.0 -0.4l-5.8 -12.3l-2.1 13.4l3.0 -0.4l1.9 13.4zM179.8 251.7l8.8 -10.5l2.3 2.0l5.3 -12.5l-11.4 7.4l2.3 2.0l-8.8 10.5zM272.3 65.6l-1.2 -13.8l3.0 -0.3l-5.1 -12.6l-2.9 13.3l3.0 -0.3l1.2 13.8z"/><path fill="#80ff80" d="M218.4 182.1l2.9 -13.6l3.0 0.6l-1.2 -13.5l-6.6 11.9l3.0 0.6l-2.9 13.6zM249.2 158.9l1.6 -14.2l3.0 0.3l-2.6 -13.4l-5.4 12.5l3.0 0.3l-1.6 14.2zM195.2 228.6l7.7 -12.1l2.6 1.6l3.7 -13.1l-10.4 8.8l2.6 1.6l-7.7 12.1zM141.2 366.2l11.5 -9.3l1.9 2.4l7.6 -11.3l-12.6 5.1l1.9 2.4l-11.5 9.3zM133.1 425.1l-14.7 -3.6l0.7 -3.0l-13.6 0.8l11.7 7.0l0.7 -3.0l14.7 3.6zM125.9 320.5l9.5 -12.0l2.4 1.9l4.9 -12.7l-11.2 7.7l2.4 1.9l-9.5 12.0zM133.6 312.8l9.5 -12.3l2.4 1.9l4.8 -12.7l-11.1 7.8l2.4 1.9l-9.5 12.3zM218.3 305.2l8.7 -13.1l2.5 1.7l3.8 -13.0l-10.5 8.6l2.5 1.7l-8.7 13.1z"/><path fill="#aaff55" d="M256.9 49.9l-3.6 -15.9l3.0 -0.7l-6.8 -11.8l-1.0 13.6l3.0 -0.7l3.6 15.9zM210.7 197.7l6.9 -15.2l2.8 1.3l1.7 -13.5l-9.0 10.2l2.8 1.3l-6.9 15.2zM148.9 358.6l12.6 -11.0l2.0 2.3l7.1 -11.6l-12.4 5.6l2.0 2.3l-12.6 11.0zM264.4 282.2l9.0 -14.7l2.6 1.6l3.4 -13.2l-10.2 9.0l2.6 1.6l-9.0 14.7zM272.2 174.4l3.0 -17.2l3.0 0.5l-1.7 -13.5l-6.2 12.1l3.0 0.5l-3.0 17.2zM249.2 166.7l4.0 -17.4l3.0 0.7l-1.0 -13.6l-6.8 11.8l3.0 0.7l-4.0 17.4zM287.6 243.8l6.5 -16.7l2.8 1.1l1.0 -13.6l-8.4 10.7l2.8 1.1l-6.5 16.7zM187.6 243.9l8.5 -15.8l2.7 1.5l2.7 -13.3l-9.7 9.5l2.7 1.5l-8.5 15.8zM125.9 335.8l12.8 -12.9l2.2 2.1l6.3 -12.1l-12.0 6.4l2.2 2.1l-12.8 12.9zM272.2 166.7l3.9 -17.8l3.0 0.6l-1.2 -13.6l-6.7 11.9l3.0 0.6l-3.9 17.8zM226.1 174.4l3.3 -18.1l3.0 0.5l-1.6 -13.5l-6.3 12.1l3.0 0.5l-3.3 18.1zM118.2 335.8l12.5 -13.5l2.2 2.1l5.9 -12.3l-11.8 6.8l2.2 2.1l-12.5 13.5z"/><path fill="#d5ff2a" d="M256.9 88.9l-2.2 -18.4l3.0 -0.4l-5.5 -12.4l-2.4 13.4l3.0 -0.4l2.2 18.4zM256.9 96.8l0.1 -18.5l3.0 0.0l-3.9 -13.0l-4.1 13.0l3.0 0.0l-0.1 18.5zM203.0 220.7l6.7 -17.4l2.8 1.1l1.0 -13.6l-8.4 10.7l2.8 1.1l-6.7 17.4zM172.1 267.0l11.8 -14.7l2.4 1.9l5.0 -12.7l-11.2 7.7l2.4 1.9l-11.8 14.7zM156.6 351.0l13.6 -13.3l2.1 2.2l6.5 -12.0l-12.1 6.2l2.1 2.2l-13.6 13.3zM256.9 104.5l-0.4 -19.2l3.0 -0.1l-4.3 -12.9l-3.7 13.1l3.0 -0.1l0.4 19.2zM272.3 158.8l1.8 -19.3l3.0 0.3l-2.8 -13.3l-5.2 12.6l3.0 0.3l-1.8 19.3zM256.9 81.1l-2.5 -19.3l3.0 -0.4l-5.7 -12.4l-2.3 13.4l3.0 -0.4l2.5 19.3zM218.4 189.9l5.2 -18.9l2.9 0.8l-0.4 -13.6l-7.3 11.5l2.9 0.8l-5.2 18.9zM264.5 57.6l-4.6 -19.1l3.0 -0.7l-6.9 -11.7l-0.8 13.6l3.0 -0.7l4.6 19.1zM256.9 112.2l-1.2 -19.7l3.0 -0.2l-4.8 -12.7l-3.2 13.2l3.0 -0.2l1.2 19.7zM233.6 297.6l13.0 -15.0l2.3 2.0l5.5 -12.4l-11.5 7.2l2.3 2.0l-13.0 15.0zM279.8 259.3l10.8 -16.9l2.6 1.6l3.7 -13.1l-10.4 8.8l2.6 1.6l-10.8 16.9zM256.9 73.3l-2.1 -20.2l3.0 -0.3l-5.3 -12.5l-2.6 13.3l3.0 -0.3l2.1 20.2zM272.3 151.1l1.7 -20.3l3.0 0.3l-2.9 -13.3l-5.1 12.6l3.0 0.3l-1.7 20.3zM256.8 57.6l-5.0 -19.8l3.0 -0.7l-7.1 -11.6l-0.7 13.6l3.0 -0.7l5.0 19.8zM256.9 120.0l-1.2 -20.3l3.0 -0.2l-4.7 -12.7l-3.2 13.2l3.0 -0.2l1.2 20.3z"/><path fill="#ffff00" d="M272.3 104.5l-0.2 -20.9l3.0 -0.0l-4.1 -13.0l-3.9 13.0l3.0 -0.0l0.2 20.9zM256.9 65.6l-1.6 -20.9l3.0 -0.2l-5.0 -12.6l-3.0 13.3l3.0 -0.2l1.6 20.9zM272.2 143.4l2.6 -20.8l3.0 0.4l-2.4 -13.4l-5.6 12.4l3.0 0.4l-2.6 20.8zM164.4 282.3l13.1 -16.4l2.4 1.9l5.0 -12.7l-11.2 7.7l2.4 1.9l-13.1 16.4zM210.5 305.2l12.8 -16.9l2.4 1.8l4.7 -12.8l-11.0 7.9l2.4 1.8l-12.8 16.9zM164.3 343.4l16.1 -13.9l2.0 2.3l7.2 -11.5l-12.5 5.5l2.0 2.3l-16.1 13.9zM272.3 112.3l0.1 -21.5l3.0 0.0l-4.0 -13.0l-4.0 13.0l3.0 0.0l-0.1 21.5zM256.9 127.9l2.5 -21.4l3.0 0.4l-2.5 -13.4l-5.5 12.4l3.0 0.4l-2.5 21.4zM272.3 135.6l1.5 -21.6l3.0 0.2l-3.1 -13.2l-4.9 12.7l3.0 0.2l-1.5 21.6zM117.3 317.4l-13.5 16.9l-2.4 -1.9l-4.9 12.6l11.2 -7.7l-2.4 -1.9l13.5 -16.9zM210.7 205.4l8.3 -20.4l2.8 1.2l1.2 -13.5l-8.6 10.5l2.8 1.2l-8.3 20.4zM272.3 120.1l0.9 -22.0l3.0 0.1l-3.4 -13.2l-4.6 12.8l3.0 0.1l-0.9 22.0zM264.6 65.5l-3.0 -21.9l3.0 -0.4l-5.7 -12.3l-2.2 13.4l3.0 -0.4l3.0 21.9zM133.5 328.2l15.9 -15.4l2.1 2.2l6.5 -11.9l-12.1 6.2l2.1 2.2l-15.9 15.4zM272.3 127.9l1.4 -22.2l3.0 0.2l-3.2 -13.2l-4.8 12.7l3.0 0.2l-1.4 22.2zM148.9 305.3l15.7 -16.0l2.2 2.1l6.2 -12.1l-12.0 6.5l2.2 2.1l-15.7 16.0zM195.2 236.2l10.8 -20.0l2.7 1.5l2.7 -13.3l-9.7 9.5l2.7 1.5l-10.8 20.0z"/><path fill="#ffd500" d="M195.1 312.9l15.4 -17.3l2.3 2.0l5.6 -12.4l-11.6 7.1l2.3 2.0l-15.4 17.3zM264.6 73.4l-1.1 -23.3l3.0 -0.1l-4.6 -12.8l-3.4 13.2l3.0 -0.1l1.1 23.3zM256.9 135.6l1.2 -23.5l3.0 0.2l-3.3 -13.2l-4.7 12.8l3.0 0.2l-1.2 23.5zM172.0 335.8l17.3 -16.1l2.1 2.2l6.8 -11.8l-12.2 5.9l2.1 2.2l-17.3 16.1zM141.3 320.5l16.3 -17.2l2.2 2.1l6.0 -12.2l-11.8 6.7l2.2 2.1l-16.3 17.2zM226.1 182.1l4.0 -23.5l3.0 0.5l-1.8 -13.5l-6.1 12.2l3.0 0.5l-4.0 23.5zM179.8 259.3l14.5 -19.0l2.4 1.9l4.7 -12.8l-11.1 7.9l2.4 1.9l-14.5 19.0zM256.7 282.3l14.0 -19.7l2.5 1.8l4.3 -12.9l-10.8 8.3l2.5 1.8l-14.0 19.7zM264.6 81.1l-3.4 -24.1l3.0 -0.4l-5.8 -12.3l-2.2 13.4l3.0 -0.4l3.4 24.1zM279.9 251.4l7.8 -23.7l2.9 0.9l0.2 -13.6l-7.8 11.1l2.9 0.9l-7.8 23.7zM141.3 312.9l16.6 -18.9l2.3 2.0l5.6 -12.4l-11.6 7.1l2.3 2.0l-16.6 18.9zM264.6 88.8l-4.4 -24.8l3.0 -0.5l-6.2 -12.1l-1.7 13.5l3.0 -0.5l4.4 24.8zM287.6 189.9l6.3 -24.5l3.0 0.8l-0.6 -13.6l-7.1 11.6l3.0 0.8l-6.3 24.5zM256.9 143.3l0.5 -25.4l3.0 0.1l-3.8 -13.1l-4.2 12.9l3.0 0.1l-0.5 25.4z"/><path fill="#ffaa00" d="M233.8 174.3l3.5 -25.4l3.0 0.4l-2.2 -13.4l-5.7 12.3l3.0 0.4l-3.5 25.4zM264.6 96.8l0.9 -25.7l3.0 0.1l-3.6 -13.1l-4.4 12.9l3.0 0.1l-0.9 25.7zM264.6 104.5l-2.2 -26.3l3.0 -0.3l-5.1 -12.6l-2.9 13.3l3.0 -0.3l2.2 26.3zM133.5 335.8l20.0 -17.7l2.0 2.3l7.1 -11.6l-12.4 5.6l2.0 2.3l-20.0 17.7zM125.9 328.1l18.0 -19.7l2.2 2.1l5.8 -12.3l-11.7 6.9l2.2 2.1l-18.0 19.7zM187.5 251.6l14.9 -22.2l2.5 1.7l3.9 -13.0l-10.6 8.6l2.5 1.7l-14.9 22.2zM179.7 328.2l18.9 -18.9l2.2 2.2l6.3 -12.0l-12.0 6.4l2.2 2.2l-18.9 18.9zM264.6 112.3l-0.5 -26.9l3.0 -0.1l-4.2 -12.9l-3.7 13.1l3.0 -0.1l0.5 26.9zM287.6 228.4l10.2 -25.1l2.8 1.2l1.2 -13.5l-8.6 10.5l2.8 1.2l-10.2 25.1zM256.9 151.1l2.2 -27.0l3.0 0.2l-2.9 -13.3l-5.0 12.6l3.0 0.2l-2.2 27.0zM225.9 297.6l17.0 -21.2l2.4 1.9l5.0 -12.6l-11.3 7.6l2.4 1.9l-17.0 21.2zM202.9 228.5l12.9 -24.3l2.7 1.4l2.6 -13.4l-9.6 9.6l2.7 1.4l-12.9 24.3zM264.6 120.1l0.9 -27.5l3.0 0.1l-3.6 -13.1l-4.4 12.9l3.0 0.1l-0.9 27.5zM187.4 320.6l19.8 -19.2l2.1 2.2l6.6 -11.9l-12.1 6.2l2.1 2.2l-19.8 19.2zM172.1 274.7l18.2 -21.0l2.3 2.0l5.5 -12.4l-11.5 7.2l2.3 2.0l-18.2 21.0z"/><path fill="#ff8000" d="M210.7 213.1l10.7 -25.7l2.8 1.2l1.3 -13.5l-8.7 10.5l2.8 1.2l-10.7 25.7zM133.6 320.5l18.7 -20.9l2.3 2.0l5.7 -12.4l-11.7 7.0l2.3 2.0l-18.7 20.9zM264.6 127.9l2.6 -28.0l3.0 0.3l-2.8 -13.3l-5.2 12.6l3.0 0.3l-2.6 28.0zM264.5 166.7l7.9 -27.4l2.9 0.8l-0.2 -13.6l-7.4 11.4l2.9 0.8l-7.9 27.4zM264.6 135.6l2.8 -28.4l3.0 0.3l-2.7 -13.3l-5.3 12.5l3.0 0.3l-2.8 28.4zM256.9 158.9l3.2 -28.5l3.0 0.3l-2.5 -13.4l-5.4 12.5l3.0 0.3l-3.2 28.5zM264.6 143.4l4.2 -28.5l3.0 0.4l-2.1 -13.4l-5.9 12.3l3.0 0.4l-4.2 28.5zM264.5 151.2l5.7 -28.4l3.0 0.6l-1.4 -13.5l-6.5 12.0l3.0 0.6l-5.7 28.4zM264.6 158.9l4.1 -28.7l3.0 0.4l-2.1 -13.4l-5.8 12.3l3.0 0.4l-4.1 28.7z"/><path fill="#ff5500" d="M256.9 166.6l3.6 -30.3l3.0 0.4l-2.5 -13.4l-5.5 12.4l3.0 0.4l-3.6 30.3zM164.4 290.0l20.5 -22.7l2.3 2.0l5.7 -12.3l-11.7 7.0l2.3 2.0l-20.5 22.7zM218.4 197.7l11.9 -28.7l2.8 1.2l1.3 -13.5l-8.7 10.5l2.8 1.2l-11.9 28.7zM272.1 259.3l16.6 -26.6l2.6 1.6l3.5 -13.1l-10.3 8.9l2.6 1.6l-16.6 26.6zM195.2 244.0l18.2 -25.8l2.5 1.8l4.2 -12.9l-10.8 8.3l2.5 1.8l-18.2 25.8zM264.5 174.4l6.4 -31.4l3.0 0.6l-1.3 -13.5l-6.5 11.9l3.0 0.6l-6.4 31.4zM226.1 189.8l5.8 -31.5l3.0 0.6l-1.6 -13.5l-6.3 12.1l3.0 0.6l-5.8 31.5zM249.1 282.2l15.6 -28.1l2.7 1.5l2.8 -13.3l-9.8 9.4l2.7 1.5l-15.6 28.1z"/><path fill="#ff2a00" d="M202.8 305.3l23.2 -23.1l2.2 2.2l6.4 -12.0l-12.0 6.3l2.2 2.2l-23.2 23.1zM241.5 174.4l8.0 -32.7l3.0 0.7l-0.8 -13.6l-7.0 11.7l3.0 0.7l-8.0 32.7zM210.7 220.7l9.8 -32.6l2.9 0.9l-0.1 -13.6l-7.6 11.3l2.9 0.9l-9.8 32.6zM179.7 267.0l22.1 -25.9l2.3 2.0l5.4 -12.5l-11.5 7.3l2.3 2.0l-22.1 25.9zM279.9 236.2l14.5 -31.3l2.8 1.3l1.8 -13.5l-9.1 10.1l2.8 1.3l-14.5 31.3zM118.1 358.6l26.4 -22.5l2.0 2.3l7.3 -11.5l-12.5 5.4l2.0 2.3l-26.4 22.5z"/><path fill="#ff0000" d="M233.8 182.2l9.2 -33.6l2.9 0.8l-0.4 -13.6l-7.3 11.5l2.9 0.8l-9.2 33.6zM264.4 266.9l19.1 -29.8l2.6 1.6l3.6 -13.1l-10.4 8.8l2.6 1.6l-19.1 29.8zM279.9 189.7l4.2 -35.4l3.0 0.4l-2.5 -13.4l-5.5 12.4l3.0 0.4l-4.2 35.4zM233.5 290.0l24.7 -26.4l2.2 2.1l5.9 -12.2l-11.8 6.8l2.2 2.1l-24.7 26.4zM187.5 259.3l22.4 -28.9l2.4 1.9l4.8 -12.7l-11.1 7.8l2.4 1.9l-22.4 28.9zM125.9 351.0l25.1 -26.6l2.2 2.1l6.0 -12.2l-11.8 6.7l2.2 2.1l-25.1 26.6zM202.9 236.2l18.5 -31.7l2.6 1.5l3.1 -13.2l-10.0 9.2l2.6 1.5l-18.5 31.7zM272.2 251.4l12.2 -35.1l2.9 1.0l0.5 -13.6l-8.1 11.0l2.9 1.0l-12.2 35.1z"/><path fill="#d50000" d="M172.1 282.3l23.1 -29.5l2.4 1.9l4.9 -12.7l-11.2 7.8l2.4 1.9l-23.1 29.5zM218.3 205.4l15.7 -34.0l2.8 1.3l1.8 -13.5l-9.1 10.1l2.8 1.3l-15.7 34.0zM218.1 297.7l26.7 -26.8l2.2 2.2l6.3 -12.0l-12.0 6.4l2.2 2.2l-26.7 26.8zM256.7 274.6l21.7 -31.1l2.5 1.7l4.2 -13.0l-10.7 8.4l2.5 1.7l-21.7 31.1zM272.2 182.1l6.2 -37.6l3.0 0.5l-1.8 -13.5l-6.1 12.2l3.0 0.5l-6.2 37.6zM249.2 174.3l3.3 -38.3l3.0 0.3l-2.9 -13.3l-5.1 12.6l3.0 0.3l-3.3 38.3zM256.9 174.3l5.0 -38.6l3.0 0.4l-2.3 -13.4l-5.6 12.4l3.0 0.4l-5.0 38.6zM279.9 228.4l11.1 -37.9l2.9 0.9l-0.2 -13.6l-7.5 11.4l2.9 0.9l-11.1 37.9z"/><path fill="#aa0000" d="M125.8 373.8l29.9 -27.2l2.1 2.3l6.9 -11.7l-12.3 5.8l2.1 2.3l-29.9 27.2zM164.3 297.7l29.0 -28.7l2.1 2.2l6.4 -12.0l-12.1 6.3l2.1 2.2l-29.0 28.7zM195.2 251.6l21.7 -34.8l2.6 1.6l3.5 -13.1l-10.3 8.9l2.6 1.6l-21.7 34.8zM148.9 320.6l31.2 -27.8l2.0 2.3l7.0 -11.6l-12.4 5.7l2.0 2.3l-31.2 27.8z"/><path fill="#800000" d="M241.3 282.3l23.7 -34.6l2.5 1.7l4.0 -13.0l-10.6 8.5l2.5 1.7l-23.7 34.6zM210.6 228.6l23.1 -35.0l2.5 1.7l3.8 -13.1l-10.5 8.6l2.5 1.7l-23.1 35.0zM272.2 243.8l14.8 -39.5l2.9 1.1l0.8 -13.6l-8.3 10.8l2.9 1.1l-14.8 39.5zM264.4 259.4l26.7 -33.6l2.4 1.9l4.9 -12.7l-11.2 7.7l2.4 1.9l-26.7 33.6zM133.5 343.4l32.1 -28.9l2.0 2.3l7.0 -11.7l-12.3 5.7l2.0 2.3l-32.1 28.9zM179.8 274.6l25.0 -35.8l2.5 1.7l4.2 -12.9l-10.7 8.4l2.5 1.7l-25.0 35.8zM279.9 213.1l17.8 -40.2l2.8 1.2l1.6 -13.5l-8.9 10.3l2.8 1.2l-17.8 40.2zM241.5 182.0l5.7 -43.6l3.0 0.4l-2.3 -13.4l-5.6 12.4l3.0 0.4l-5.7 43.6zM218.4 213.1l16.3 -40.8l2.8 1.1l1.1 -13.6l-8.5 10.6l2.8 1.1l-16.3 40.8zM133.6 366.2l31.4 -31.0l2.1 2.2l6.4 -12.0l-12.1 6.3l2.1 2.2l-31.4 31.0zM279.9 220.8l17.6 -41.0l2.8 1.2l1.4 -13.5l-8.8 10.4l2.8 1.2l-17.6 41.0zM233.8 189.8l9.1 -43.8l3.0 0.6l-1.3 -13.5l-6.6 11.9l3.0 0.6l-9.1 43.8zM264.5 182.1l10.6 -43.6l3.0 0.7l-0.8 -13.6l-7.0 11.7l3.0 0.7l-10.6 43.6zM272.2 189.8l9.1 -44.5l3.0 0.6l-1.3 -13.5l-6.5 11.9l3.0 0.6l-9.1 44.5zM279.9 205.2l10.0 -44.4l3.0 0.7l-1.1 -13.6l-6.8 11.8l3.0 0.7l-10.0 44.4zM226.1 197.7l16.5 -43.3l2.8 1.1l0.9 -13.6l-8.4 10.7l2.8 1.1l-16.5 43.3zM202.9 243.9l25.0 -39.1l2.6 1.6l3.6 -13.1l-10.4 8.8l2.6 1.6l-25.0 39.1zM249.0 274.6l26.8 -38.2l2.5 1.8l4.2 -12.9l-10.7 8.3l2.5 1.8l-26.8 38.2zM256.7 266.9l25.9 -39.3l2.5 1.7l3.8 -13.1l-10.5 8.7l2.5 1.7l-25.9 39.3zM272.2 236.1l18.9 -43.4l2.8 1.2l1.5 -13.5l-8.8 10.3l2.8 1.2l-18.9 43.4zM141.2 358.6l34.0 -33.6l2.1 2.2l6.4 -12.0l-12.1 6.3l2.1 2.2l-34.0 33.6zM187.4 267.1l31.9 -36.1l2.3 2.0l5.6 -12.4l-11.6 7.1l2.3 2.0l-31.9 36.1zM172.0 290.1l35.5 -32.8l2.1 2.2l6.8 -11.8l-12.3 5.9l2.1 2.2l-35.5 32.8zM256.9 182.1l10.5 -47.8l3.0 0.7l-1.1 -13.6l-6.7 11.8l3.0 0.7l-10.5 47.8zM249.2 182.1l10.8 -47.9l3.0 0.7l-1.0 -13.6l-6.8 11.8l3.0 0.7l-10.8 47.9zM141.3 335.7l33.5 -37.1l2.3 2.0l5.8 -12.3l-11.7 7.0l2.3 2.0l-33.5 37.1zM264.4 251.7l29.4 -40.5l2.5 1.8l4.4 -12.9l-10.9 8.2l2.5 1.8l-29.4 40.5zM225.9 290.0l32.5 -38.1l2.3 2.0l5.4 -12.5l-11.5 7.3l2.3 2.0l-32.5 38.1zM218.4 220.7l17.9 -47.3l2.9 1.1l0.9 -13.6l-8.4 10.7l2.9 1.1l-17.9 47.3zM195.2 259.2l25.8 -43.7l2.6 1.6l3.2 -13.2l-10.1 9.2l2.6 1.6l-25.8 43.7zM118.2 366.2l37.6 -35.0l2.1 2.2l6.8 -11.8l-12.2 5.9l2.1 2.2l-37.6 35.0zM148.9 351.0l39.0 -33.8l2.0 2.3l7.2 -11.5l-12.4 5.5l2.0 2.3l-39.0 33.8zM210.6 236.3l27.8 -43.5l2.6 1.6l3.6 -13.1l-10.4 8.8l2.6 1.6l-27.8 43.5zM210.5 297.6l34.8 -39.0l2.3 2.0l5.7 -12.4l-11.6 7.0l2.3 2.0l-34.8 39.0zM272.2 197.5l11.0 -51.1l3.0 0.6l-1.2 -13.6l-6.6 11.9l3.0 0.6l-11.0 51.1zM272.2 228.4l16.0 -50.0l2.9 0.9l0.1 -13.6l-7.8 11.2l2.9 0.9l-16.0 50.0zM233.6 282.3l30.7 -43.6l2.5 1.8l4.2 -12.9l-10.8 8.3l2.5 1.8l-30.7 43.6zM264.5 189.8l12.3 -52.1l3.0 0.7l-0.9 -13.6l-6.9 11.7l3.0 0.7l-12.3 52.1zM226.0 205.4l20.9 -49.8l2.8 1.2l1.3 -13.5l-8.7 10.4l2.8 1.2l-20.9 49.8zM179.7 282.4l36.9 -39.5l2.2 2.1l6.0 -12.2l-11.8 6.8l2.2 2.1l-36.9 39.5zM125.9 358.6l39.4 -37.8l2.1 2.2l6.6 -11.9l-12.1 6.1l2.1 2.2l-39.4 37.8zM256.7 259.3l30.7 -45.2l2.5 1.7l4.0 -13.0l-10.6 8.5l2.5 1.7l-30.7 45.2zM241.5 189.8l10.4 -53.7l3.0 0.6l-1.5 -13.5l-6.4 12.0l3.0 0.6l-10.4 53.7zM164.3 305.3l37.8 -40.0l2.2 2.1l6.0 -12.2l-11.8 6.7l2.2 2.1l-37.8 40.0zM264.5 243.8l19.1 -51.8l2.9 1.1l0.7 -13.6l-8.2 10.8l2.9 1.1l-19.1 51.8zM156.6 343.4l38.2 -40.1l2.2 2.1l6.1 -12.2l-11.9 6.7l2.2 2.1l-38.2 40.1zM202.9 251.6l27.6 -48.7l2.7 1.5l2.9 -13.3l-9.9 9.3l2.7 1.5l-27.6 48.7zM148.9 328.2l41.1 -38.3l2.1 2.2l6.8 -11.8l-12.2 5.9l2.1 2.2l-41.1 38.3zM241.4 274.6l28.9 -48.6l2.6 1.6l3.2 -13.2l-10.1 9.1l2.6 1.6l-28.9 48.6zM218.4 228.4l20.3 -53.3l2.8 1.1l0.9 -13.6l-8.4 10.7l2.8 1.1l-20.3 53.3zM272.2 220.7l20.1 -53.9l2.9 1.1l0.8 -13.6l-8.3 10.8l2.9 1.1l-20.1 53.9zM272.2 205.4l20.3 -54.0l2.9 1.1l0.8 -13.6l-8.3 10.8l2.9 1.1l-20.3 54.0zM272.2 213.0l19.5 -55.0l2.9 1.0l0.6 -13.6l-8.1 10.9l2.9 1.0l-19.5 55.0zM133.5 351.0l42.4 -40.2l2.1 2.2l6.7 -11.8l-12.2 6.0l2.1 2.2l-42.4 40.2zM249.1 266.9l28.6 -51.2l2.7 1.5l2.8 -13.3l-9.8 9.4l2.7 1.5l-28.6 51.2zM256.9 189.7l5.5 -58.5l3.0 0.3l-2.8 -13.3l-5.2 12.6l3.0 0.3l-5.5 58.5zM187.4 274.7l37.6 -45.4l2.3 1.9l5.2 -12.6l-11.4 7.5l2.3 1.9l-37.6 45.4zM164.3 335.8l41.8 -41.9l2.2 2.2l6.3 -12.0l-12.0 6.4l2.2 2.2l-41.8 41.9zM195.1 305.3l41.0 -42.8l2.2 2.1l6.1 -12.2l-11.9 6.6l2.2 2.1l-41.0 42.8zM233.7 197.7l21.1 -55.4l2.8 1.1l0.9 -13.6l-8.4 10.7l2.8 1.1l-21.1 55.4zM125.9 366.2l42.4 -42.1l2.1 2.2l6.4 -12.0l-12.0 6.3l2.1 2.2l-42.4 42.1zM249.2 189.8l11.8 -58.6l3.0 0.6l-1.4 -13.5l-6.5 12.0l3.0 0.6l-11.8 58.6zM172.0 297.7l41.2 -43.4l2.2 2.1l6.1 -12.2l-11.9 6.7l2.2 2.1l-41.2 43.4zM264.5 236.0l17.5 -57.6l2.9 0.9l-0.0 -13.6l-7.6 11.3l2.9 0.9l-17.5 57.6zM226.1 213.1l21.9 -56.3l2.8 1.1l1.0 -13.6l-8.4 10.7l2.8 1.1l-21.9 56.3zM210.6 243.9l31.7 -52.2l2.6 1.6l3.3 -13.2l-10.2 9.0l2.6 1.6l-31.7 52.2zM195.1 267.0l39.0 -47.3l2.4 1.9l5.2 -12.6l-11.4 7.5l2.4 1.9l-39.0 47.3zM264.5 197.5l12.0 -60.7l3.0 0.6l-1.4 -13.5l-6.4 12.0l3.0 0.6l-12.0 60.7zM256.7 251.6l32.0 -53.0l2.6 1.6l3.3 -13.2l-10.1 9.1l2.6 1.6l-32.0 53.0zM156.6 320.6l45.9 -41.6l2.0 2.3l6.9 -11.7l-12.3 5.8l2.0 2.3l-45.9 41.6zM218.2 290.0l43.2 -44.6l2.2 2.1l6.2 -12.1l-11.9 6.6l2.2 2.1l-43.2 44.6zM172.0 328.2l45.6 -43.5l2.1 2.2l6.6 -11.9l-12.2 6.1l2.1 2.2l-45.6 43.5zM141.2 343.4l44.5 -44.8l2.2 2.1l6.3 -12.0l-12.0 6.4l2.2 2.1l-44.5 44.8zM133.6 358.6l44.0 -46.1l2.2 2.1l6.1 -12.2l-11.9 6.6l2.2 2.1l-44.0 46.1zM179.7 290.0l43.9 -47.5l2.2 2.1l5.9 -12.3l-11.8 6.8l2.2 2.1l-43.9 47.5zM264.5 228.4l23.2 -60.6l2.8 1.1l0.9 -13.6l-8.4 10.7l2.8 1.1l-23.2 60.6zM187.4 312.9l44.9 -47.1l2.2 2.1l6.1 -12.2l-11.9 6.6l2.2 2.1l-44.9 47.1zM202.9 259.3l38.7 -52.4l2.5 1.8l4.5 -12.8l-10.9 8.1l2.5 1.8l-38.7 52.4zM249.0 259.3l38.6 -53.1l2.5 1.8l4.4 -12.9l-10.9 8.2l2.5 1.8l-38.6 53.1zM226.0 282.2l35.1 -55.5l2.6 1.6l3.6 -13.1l-10.3 8.8l2.6 1.6l-35.1 55.5zM218.3 236.3l35.9 -55.3l2.6 1.7l3.7 -13.1l-10.4 8.7l2.6 1.7l-35.9 55.3zM226.0 220.8l25.7 -61.2l2.8 1.2l1.4 -13.5l-8.7 10.4l2.8 1.2l-25.7 61.2zM264.5 205.4l26.4 -61.2l2.8 1.2l1.5 -13.5l-8.8 10.3l2.8 1.2l-26.4 61.2zM179.7 320.5l47.0 -47.5l2.2 2.1l6.3 -12.0l-12.0 6.4l2.2 2.1l-47.0 47.5zM233.7 274.6l36.5 -56.0l2.6 1.7l3.7 -13.1l-10.4 8.7l2.6 1.7l-36.5 56.0zM256.8 243.8l28.4 -61.0l2.8 1.3l1.9 -13.5l-9.1 10.1l2.8 1.3l-28.4 61.0zM141.2 351.0l50.4 -45.1l2.0 2.3l7.0 -11.6l-12.4 5.7l2.0 2.3l-50.4 45.1zM241.4 266.9l35.6 -57.6l2.6 1.6l3.4 -13.2l-10.2 9.0l2.6 1.6l-35.6 57.6zM148.9 335.8l47.0 -48.9l2.2 2.1l6.1 -12.1l-11.9 6.6l2.2 2.1l-47.0 48.9zM241.4 197.7l24.9 -63.5l2.8 1.1l1.0 -13.6l-8.5 10.6l2.8 1.1l-24.9 63.5zM256.9 197.5l13.5 -67.0l3.0 0.6l-1.4 -13.5l-6.5 12.0l3.0 0.6l-13.5 67.0zM187.4 282.3l44.2 -52.4l2.3 2.0l5.3 -12.5l-11.4 7.4l2.3 2.0l-44.2 52.4zM164.3 312.9l50.0 -47.6l2.1 2.2l6.7 -11.9l-12.2 6.1l2.1 2.2l-50.0 47.6zM264.5 220.8l26.0 -64.2l2.8 1.1l1.2 -13.6l-8.6 10.6l2.8 1.1l-26.0 64.2zM233.7 205.4l25.1 -64.6l2.8 1.1l1.0 -13.6l-8.4 10.7l2.8 1.1l-25.1 64.6zM210.6 251.6l33.7 -60.9l2.7 1.5l2.8 -13.3l-9.8 9.4l2.7 1.5l-33.7 60.9zM202.8 297.6l47.1 -51.9l2.3 2.0l5.8 -12.3l-11.7 6.9l2.3 2.0l-47.1 51.9zM249.2 197.6l18.1 -68.1l2.9 0.8l-0.5 -13.6l-7.2 11.5l2.9 0.8l-18.1 68.1zM172.0 305.3l51.4 -48.8l2.1 2.2l6.7 -11.8l-12.2 6.0l2.1 2.2l-51.4 48.8zM195.1 274.7l49.0 -52.0l2.2 2.1l6.0 -12.2l-11.8 6.7l2.2 2.1l-49.0 52.0zM256.8 236.1l22.3 -67.9l2.9 1.0l0.3 -13.6l-7.9 11.1l2.9 1.0l-22.3 67.9zM148.9 343.4l52.7 -48.4l2.1 2.2l6.9 -11.7l-12.3 5.8l2.1 2.2l-52.7 48.4zM226.0 228.5l29.4 -65.5l2.8 1.2l1.7 -13.5l-9.0 10.2l2.8 1.2l-29.4 65.5zM264.5 213.0l23.8 -67.9l2.9 1.0l0.5 -13.6l-8.1 10.9l2.9 1.0l-23.8 67.9zM249.0 251.6l40.3 -59.6l2.5 1.7l4.0 -13.0l-10.6 8.5l2.5 1.7l-40.3 59.6zM156.6 328.2l52.9 -49.2l2.1 2.2l6.8 -11.8l-12.2 5.9l2.1 2.2l-52.9 49.2zM202.9 267.0l43.3 -58.8l2.5 1.8l4.5 -12.8l-10.9 8.1l2.5 1.8l-43.3 58.8zM218.3 244.0l40.1 -61.9l2.6 1.7l3.7 -13.1l-10.4 8.7l2.6 1.7l-40.1 61.9zM179.8 297.6l47.2 -57.4l2.4 1.9l5.2 -12.6l-11.4 7.5l2.4 1.9l-47.2 57.4zM233.7 213.1l32.3 -67.0l2.7 1.3l2.0 -13.4l-9.3 10.0l2.7 1.3l-32.3 67.0zM210.5 290.0l50.3 -55.4l2.3 2.0l5.8 -12.3l-11.7 6.9l2.3 2.0l-50.3 55.4zM241.3 259.3l45.6 -59.5l2.4 1.9l4.7 -12.8l-11.1 7.9l2.4 1.9l-45.6 59.5zM256.8 228.4l26.2 -70.5l2.9 1.1l0.8 -13.6l-8.3 10.8l2.9 1.1l-26.2 70.5zM156.6 335.8l52.8 -53.9l2.2 2.1l6.2 -12.1l-12.0 6.5l2.2 2.1l-52.8 53.9zM256.8 205.4l27.3 -70.9l2.8 1.1l0.9 -13.6l-8.4 10.7l2.8 1.1l-27.3 70.9zM233.6 267.0l43.8 -62.1l2.5 1.8l4.2 -12.9l-10.8 8.3l2.5 1.8l-43.8 62.1zM226.0 274.6l43.0 -63.4l2.5 1.7l4.0 -13.0l-10.6 8.5l2.5 1.7l-43.0 63.4zM164.3 320.6l56.8 -51.3l2.0 2.3l7.0 -11.7l-12.3 5.7l2.0 2.3l-56.8 51.3zM210.6 259.3l41.1 -64.8l2.6 1.6l3.6 -13.1l-10.3 8.8l2.6 1.6l-41.1 64.8zM187.5 289.9l47.5 -60.5l2.4 1.9l4.9 -12.7l-11.2 7.8l2.4 1.9l-47.5 60.5zM249.0 244.0l41.9 -64.6l2.6 1.7l3.7 -13.1l-10.4 8.7l2.6 1.7l-41.9 64.6zM218.2 282.4l51.3 -57.7l2.3 2.0l5.7 -12.4l-11.6 7.1l2.3 2.0l-51.3 57.7zM225.9 236.3l46.5 -61.7l2.4 1.8l4.6 -12.8l-11.0 8.0l2.4 1.8l-46.5 61.7zM256.8 220.8l29.9 -72.6l2.8 1.2l1.3 -13.5l-8.6 10.5l2.8 1.2l-29.9 72.6zM233.7 220.8l32.7 -71.4l2.8 1.3l1.8 -13.5l-9.1 10.2l2.8 1.3l-32.7 71.4zM195.1 282.4l54.0 -57.6l2.2 2.1l6.0 -12.2l-11.8 6.8l2.2 2.1l-54.0 57.6zM164.3 328.2l56.9 -55.3l2.1 2.2l6.5 -11.9l-12.1 6.2l2.1 2.2l-56.9 55.3zM241.4 251.6l38.7 -69.6l2.7 1.5l2.8 -13.3l-9.8 9.4l2.7 1.5l-38.7 69.6zM218.3 251.6l39.9 -69.1l2.6 1.5l3.0 -13.3l-10.0 9.3l2.6 1.5l-39.9 69.1zM249.1 236.1l26.7 -75.4l2.9 1.0l0.6 -13.6l-8.1 10.9l2.9 1.0l-26.7 75.4zM202.8 274.7l53.5 -59.7l2.3 2.0l5.7 -12.4l-11.6 7.0l2.3 2.0l-53.5 59.7zM241.4 205.3l26.4 -76.0l2.9 1.0l0.5 -13.6l-8.0 11.0l2.9 1.0l-26.4 76.0zM172.0 312.9l58.8 -55.3l2.1 2.2l6.7 -11.8l-12.2 6.0l2.1 2.2l-58.8 55.3zM256.8 213.0l25.4 -77.0l2.9 1.0l0.3 -13.6l-7.9 11.1l2.9 1.0l-25.4 77.0zM249.1 205.4l30.6 -75.4l2.8 1.1l1.2 -13.5l-8.6 10.5l2.8 1.1l-30.6 75.4zM233.6 259.3l44.8 -68.0l2.5 1.7l3.8 -13.1l-10.5 8.7l2.5 1.7l-44.8 68.0zM179.7 305.3l56.7 -58.8l2.2 2.1l6.2 -12.1l-11.9 6.6l2.2 2.1l-56.7 58.8zM233.7 228.4l27.4 -77.1l2.9 1.0l0.6 -13.6l-8.1 10.9l2.9 1.0l-27.4 77.1zM210.6 266.9l43.9 -69.1l2.6 1.6l3.6 -13.1l-10.4 8.8l2.6 1.6l-43.9 69.1zM226.0 243.9l43.5 -69.7l2.6 1.6l3.5 -13.1l-10.3 8.9l2.6 1.6l-43.5 69.7zM249.1 228.4l29.3 -76.9l2.9 1.1l0.9 -13.6l-8.4 10.7l2.9 1.1l-29.3 76.9zM225.9 267.0l47.8 -67.1l2.5 1.8l4.3 -12.9l-10.8 8.3l2.5 1.8l-47.8 67.1zM187.4 297.7l58.3 -58.9l2.2 2.1l6.3 -12.0l-12.0 6.4l2.2 2.1l-58.3 58.9zM241.3 244.0l47.4 -68.0l2.5 1.7l4.2 -12.9l-10.7 8.4l2.5 1.7l-47.4 68.0zM241.4 213.1l34.4 -75.6l2.8 1.3l1.7 -13.5l-9.0 10.2l2.8 1.3l-34.4 75.6zM218.3 274.5l41.5 -72.4l2.6 1.5l3.0 -13.3l-9.9 9.3l2.6 1.5l-41.5 72.4zM218.3 259.3l47.2 -69.1l2.5 1.7l4.0 -13.0l-10.6 8.5l2.5 1.7l-47.2 69.1zM195.2 289.9l50.6 -66.7l2.4 1.8l4.7 -12.8l-11.0 7.9l2.4 1.8l-50.6 66.7zM249.1 220.8l33.5 -76.9l2.8 1.2l1.5 -13.5l-8.9 10.3l2.8 1.2l-33.5 76.9zM233.7 236.1l29.6 -78.5l2.9 1.1l0.8 -13.6l-8.3 10.8l2.9 1.1l-29.6 78.5zM210.5 282.3l52.0 -65.9l2.4 1.9l4.9 -12.7l-11.2 7.7l2.4 1.9l-52.0 65.9zM233.7 251.6l43.3 -72.1l2.6 1.6l3.3 -13.2l-10.1 9.1l2.6 1.6l-43.3 72.1zM202.8 290.0l58.1 -60.9l2.2 2.1l6.1 -12.2l-11.9 6.6l2.2 2.1l-58.1 60.9zM202.8 282.3l52.1 -66.2l2.4 1.9l4.9 -12.7l-11.2 7.7l2.4 1.9l-52.1 66.2zM195.1 297.6l55.0 -64.0l2.3 2.0l5.4 -12.5l-11.5 7.3l2.3 2.0l-55.0 64.0zM241.4 236.1l32.7 -77.9l2.8 1.2l1.3 -13.5l-8.7 10.4l2.8 1.2l-32.7 77.9zM210.5 274.7l53.6 -65.5l2.4 1.9l5.1 -12.6l-11.3 7.5l2.4 1.9l-53.6 65.5zM241.4 220.8l33.7 -77.6l2.8 1.2l1.5 -13.5l-8.8 10.3l2.8 1.2l-33.7 77.6zM226.0 251.6l43.5 -72.7l2.6 1.6l3.2 -13.2l-10.1 9.1l2.6 1.6l-43.5 72.7zM226.0 259.3l45.0 -71.8l2.6 1.6l3.5 -13.1l-10.3 8.9l2.6 1.6l-45.0 71.8zM249.1 213.1l31.8 -78.6l2.8 1.1l1.2 -13.6l-8.6 10.5l2.8 1.1l-31.8 78.6zM187.5 305.2l53.2 -66.2l2.4 1.9l5.0 -12.6l-11.3 7.6l2.4 1.9l-53.2 66.2zM179.8 312.9l54.6 -65.1l2.3 2.0l5.3 -12.5l-11.4 7.4l2.3 2.0l-54.6 65.1zM172.0 320.5l58.8 -61.4l2.2 2.1l6.1 -12.2l-11.9 6.6l2.2 2.1l-58.8 61.4zM241.5 228.4l25.6 -81.0l2.9 0.9l0.1 -13.6l-7.7 11.2l2.9 0.9l-25.6 81.0zM233.7 243.9l44.0 -72.7l2.6 1.6l3.3 -13.2l-10.2 9.1l2.6 1.6l-44.0 72.7zM218.2 267.0l49.3 -69.2l2.5 1.8l4.3 -12.9l-10.8 8.3l2.5 1.8l-49.3 69.2z"/><path fill="#ff2000" d="M99.0 427.4l-12.2 0.0l0.0 -3.1l-13.0 4.0l13.0 4.0l0.0 -3.1l12.2 0.0z"/>
<path d="M0 72.5h4M348 72.5h-4M0 144.5h4M348 144.5h-4M0 216.5h4M348 216.5h-4M0 287.5h4M348 287.5h-4M0 358.5h4M348 358.5h-4M58.5 0v4M58.5 428v-4M116.5 0v4M116.5 428v-4M174.5 0v4M174.5 428v-4M232.5 0v4M232.5 428v-4M290.5 0v4M290.5 428v-4" stroke="#222" stroke-width="1" fill="none"/>
<rect x="0" y="0" width="348" height="428" fill="none" stroke="#000" stroke-width="1.2"/>
<rect x="10.5" y="16.5" width="112" height="24.5" fill="url(#jet)" stroke="#222" stroke-width="1"/>
<text x="173.0" y="-12.5" font-size="25.2" text-anchor="middle" font-weight="bold" font-family="Liberation Sans, sans-serif" >2023-06-28 14:00</text><text x="66.5" y="-27.5" font-size="21.5" text-anchor="middle" font-weight="normal" font-family="Liberation Sans, sans-serif" >cm/s</text><g fill="#2b2b2b"><text x="10.5" y="1.8" font-size="20.5" text-anchor="middle" font-weight="normal" font-family="Liberation Sans, sans-serif" >0</text><text x="15.2" y="1.8" font-size="20.5" text-anchor="middle" font-weight="normal" font-family="Liberation Sans, sans-serif" >2.5</text><text x="19.8" y="1.8" font-size="20.5" text-anchor="middle" font-weight="normal" font-family="Liberation Sans, sans-serif" >5</text><text x="24.5" y="1.8" font-size="20.5" text-anchor="middle" font-weight="normal" font-family="Liberation Sans, sans-serif" >7.5</text><text x="29.2" y="1.8" font-size="20.5" text-anchor="middle" font-weight="normal" font-family="Liberation Sans, sans-serif" >10</text><text x="33.9" y="1.8" font-size="20.5" text-anchor="middle" font-weight="normal" font-family="Liberation Sans, sans-serif" >12.5</text><text x="38.5" y="1.8" font-size="20.5" text-anchor="middle" font-weight="normal" font-family="Liberation Sans, sans-serif" >15</text><text x="43.2" y="1.8" font-size="20.5" text-anchor="middle" font-weight="normal" font-family="Liberation Sans, sans-serif" >17.5</text><text x="47.9" y="1.8" font-size="20.5" text-anchor="middle" font-weight="normal" font-family="Liberation Sans, sans-serif" >20</text><text x="52.5" y="1.8" font-size="20.5" text-anchor="middle" font-weight="normal" font-family="Liberation Sans, sans-serif" >22.5</text><text x="57.2" y="1.8" font-size="20.5" text-anchor="middle" font-weight="normal" font-family="Liberation Sans, sans-serif" >25</text><text x="61.9" y="1.8" font-size="20.5" text-anchor="middle" font-weight="normal" font-family="Liberation Sans, sans-serif" >27.5</text><text x="66.5" y="1.8" font-size="20.5" text-anchor="middle" font-weight="normal" font-family="Liberation Sans, sans-serif" >30</text><text x="71.2" y="1.8" font-size="20.5" text-anchor="middle" font-weight="normal" font-family="Liberation Sans, sans-serif" >32.5</text><text x="75.9" y="1.8" font-size="20.5" text-anchor="middle" font-weight="normal" font-family="Liberation Sans, sans-serif" >35</text><text x="80.5" y="1.8" font-size="20.5" text-anchor="middle" font-weight="normal" font-family="Liberation Sans, sans-serif" >37.5</text><text x="85.2" y="1.8" font-size="20.5" text-anchor="middle" font-weight="normal" font-family="Liberation Sans, sans-serif" >40</text><text x="89.9" y="1.8" font-size="20.5" text-anchor="middle" font-weight="normal" font-family="Liberation Sans, sans-serif" >42.5</text><text x="94.6" y="1.8" font-size="20.5" text-anchor="middle" font-weight="normal" font-family="Liberation Sans, sans-serif" >45</text><text x="99.2" y="1.8" font-size="20.5" text-anchor="middle" font-weight="normal" font-family="Liberation Sans, sans-serif" >47.5</text><text x="103.9" y="1.8" font-size="20.5" text-anchor="middle" font-weight="normal" font-family="Liberation Sans, sans-serif" >50</text><text x="108.6" y="1.8" font-size="20.5" text-anchor="middle" font-weight="normal" font-family="Liberation Sans, sans-serif" >52.5</text><text x="113.2" y="1.8" font-size="20.5" text-anchor="middle" font-weight="normal" font-family="Liberation Sans, sans-serif" >55</text><text x="117.9" y="1.8" font-size="20.5" text-anchor="middle" font-weight="normal" font-family="Liberation Sans, sans-serif" >57.5</text><text x="122.6" y="1.8" font-size="20.5" text-anchor="middle" font-weight="normal" font-family="Liberation Sans, sans-serif" >60</text></g><text x="312.5" y="65.3" font-size="21" text-anchor="middle" font-weight="normal" font-family="Liberation Sans, sans-serif" >50 cm/s</text><text x="313.0" y="103.3" font-size="21" text-anchor="middle" font-weight="normal" font-family="Liberation Sans, sans-serif" >10 km</text><path d="M307 109h12" stroke="#000" stroke-width="4" stroke-linecap="round"/>
</g>
<text x="452.5" y="149.0" font-size="21" text-anchor="end" font-weight="normal" font-family="Liberation Sans, sans-serif" >37°N</text>
<text x="452.5" y="219.5" font-size="15" text-anchor="end" font-weight="normal" font-family="Liberation Sans, sans-serif" >30'</text>
<text x="452.5" y="293.5" font-size="21" text-anchor="end" font-weight="normal" font-family="Liberation Sans, sans-serif" >36°N</text>
<text x="452.5" y="363.0" font-size="15" text-anchor="end" font-weight="normal" font-family="Liberation Sans, sans-serif" >30'</text>
<text x="452.5" y="436.1" font-size="21" text-anchor="end" font-weight="normal" font-family="Liberation Sans, sans-serif" >35°N</text>
<text x="452.5" y="504.8" font-size="15" text-anchor="end" font-weight="normal" font-family="Liberation Sans, sans-serif" >30'</text>
<text x="452.5" y="577.0" font-size="21" text-anchor="end" font-weight="normal" font-family="Liberation Sans, sans-serif" >34°N</text>
<text x="457.0" y="586.0" font-size="15" text-anchor="middle" font-weight="normal" font-family="Liberation Sans, sans-serif" >30'</text>
<text x="519.0" y="590.8" font-size="21" text-anchor="middle" font-weight="normal" font-family="Liberation Sans, sans-serif" >76°W</text>
<text x="573.0" y="586.0" font-size="15" text-anchor="middle" font-weight="normal" font-family="Liberation Sans, sans-serif" >30'</text>
<text x="635.0" y="590.8" font-size="21" text-anchor="middle" font-weight="normal" font-family="Liberation Sans, sans-serif" >75°W</text>
<text x="689.0" y="586.0" font-size="15" text-anchor="middle" font-weight="normal" font-family="Liberation Sans, sans-serif" >30'</text>
<text x="751.0" y="590.8" font-size="21" text-anchor="middle" font-weight="normal" font-family="Liberation Sans, sans-serif" >74°W</text>
<text x="805.0" y="586.0" font-size="15" text-anchor="middle" font-weight="normal" font-family="Liberation Sans, sans-serif" >30'</text>
<g transform="translate(459,142)">
<g clip-path="url(#pc)">
<path d="M0 72.5H348M0 144.5H348M0 216.5H348M0 287.5H348M0 358.5H348M58.5 0V428M116.5 0V428M174.5 0V428M232.5 0V428M290.5 0V428" stroke="#c8c8c8" stroke-width="1" stroke-dasharray="3 5" fill="none"/>
<g shape-rendering="crispEdges" transform="translate(6.00,0) scale(7.690,1)"><path fill="#0095ff" d="M8 0.0h1v7.3h-1zM27 0.0h1v7.3h-1zM28 7.1h1v8.1h-1zM31 7.1h2v8.1h-2zM32 46.2h1v8.1h-1zM33 54.0h1v8.0h-1zM12 100.7h1v8.0h-1zM32 100.7h1v8.0h-1zM34 147.2h1v8.0h-1zM32 154.9h3v8.0h-3zM33 178.1h2v8.0h-2zM33 185.8h1v8.0h-1zM32 193.5h1v8.0h-1zM33 201.2h1v7.9h-1zM34 231.9h1v7.9h-1zM33 254.9h1v7.9h-1zM27 308.4h1v7.9h-1zM13 316.1h1v7.9h-1zM19 323.7h1v7.9h-1zM24 346.5h1v7.8h-1zM17 354.1h1v7.8h-1zM8 361.7h1v7.8h-1zM4 369.3h2v7.8h-2zM18 369.3h1v7.8h-1zM17 399.6h2v7.8h-2zM16 422.3h1v7.8h-1zM20 422.3h1v7.8h-1z"/><path fill="#006aff" d="M9 0.0h1v7.3h-1zM20 0.0h2v7.3h-2zM8 7.1h1v8.1h-1zM21 7.1h1v8.1h-1zM27 14.9h1v8.1h-1zM27 22.7h1v8.1h-1zM27 30.5h1v8.1h-1zM27 46.2h1v8.1h-1zM29 46.2h3v8.1h-3zM32 54.0h1v8.0h-1zM32 61.8h1v8.0h-1zM11 69.6h1v8.0h-1zM32 69.6h1v8.0h-1zM12 77.3h1v8.0h-1zM31 77.3h2v8.0h-2zM31 85.1h1v8.0h-1zM32 92.9h1v8.0h-1zM32 108.4h1v8.0h-1zM32 131.7h1v8.0h-1zM32 139.4h1v8.0h-1zM31 162.6h2v8.0h-2zM32 170.3h1v8.0h-1zM31 178.1h2v8.0h-2zM31 185.8h2v8.0h-2zM34 185.8h1v8.0h-1zM29 193.5h1v8.0h-1zM30 201.2h1v7.9h-1zM32 208.9h1v7.9h-1zM32 216.6h1v7.9h-1zM33 224.2h1v7.9h-1zM31 231.9h3v7.9h-3zM31 239.6h1v7.9h-1zM30 247.3h1v7.9h-1zM29 254.9h1v7.9h-1zM31 254.9h1v7.9h-1zM18 262.6h2v7.9h-2zM28 270.2h2v7.9h-2zM16 308.4h1v7.9h-1zM20 308.4h1v7.9h-1zM25 323.7h1v7.9h-1zM19 331.3h1v7.9h-1zM24 331.3h1v7.9h-1zM8 354.1h1v7.8h-1zM18 354.1h1v7.8h-1zM23 361.7h1v7.8h-1zM23 369.3h1v7.8h-1zM22 384.5h1v7.8h-1zM19 392.0h1v7.8h-1zM19 399.6h1v7.8h-1zM18 407.2h1v7.8h-1zM21 407.2h1v7.8h-1zM17 414.7h2v7.8h-2zM18 422.3h2v7.8h-2z"/><path fill="#0055ff" d="M10 0.0h1v7.3h-1zM22 0.0h1v7.3h-1zM9 7.1h2v8.1h-2zM22 7.1h2v8.1h-2zM9 14.9h1v8.1h-1zM20 14.9h3v8.1h-3zM26 30.5h1v8.1h-1zM27 38.4h1v8.1h-1zM27 54.0h2v8.0h-2zM31 54.0h1v8.0h-1zM12 85.1h1v8.0h-1zM13 108.4h1v8.0h-1zM13 116.2h1v8.0h-1zM32 123.9h1v8.0h-1zM31 139.4h1v8.0h-1zM31 147.2h1v8.0h-1zM31 154.9h1v8.0h-1zM29 170.3h3v8.0h-3zM29 185.8h1v8.0h-1zM28 193.5h1v8.0h-1zM29 201.2h1v7.9h-1zM30 208.9h1v7.9h-1zM31 224.2h1v7.9h-1zM30 239.6h1v7.9h-1zM31 247.3h1v7.9h-1zM27 262.6h1v7.9h-1zM29 262.6h1v7.9h-1zM17 270.2h1v7.9h-1zM17 277.9h1v7.9h-1zM20 277.9h1v7.9h-1zM28 277.9h1v7.9h-1zM27 285.5h1v7.9h-1zM17 293.2h1v7.9h-1zM8 300.8h2v7.9h-2zM13 300.8h1v7.9h-1zM3 308.4h1v7.9h-1zM8 308.4h3v7.9h-3zM12 308.4h2v7.9h-2zM26 308.4h1v7.9h-1zM2 316.1h1v7.9h-1zM14 316.1h2v7.9h-2zM14 323.7h1v7.9h-1zM20 323.7h1v7.9h-1zM24 323.7h1v7.9h-1zM20 331.3h1v7.9h-1zM19 346.5h1v7.8h-1zM4 354.1h2v7.8h-2zM22 376.9h1v7.8h-1zM19 384.5h2v7.8h-2zM20 392.0h2v7.8h-2zM20 399.6h1v7.8h-1zM20 407.2h1v7.8h-1z"/><path fill="#0040ff" d="M11 0.0h3v7.3h-3zM18 0.0h1v7.3h-1zM23 0.0h1v7.3h-1zM11 7.1h3v8.1h-3zM18 7.1h2v8.1h-2zM24 7.1h2v8.1h-2zM10 14.9h1v8.1h-1zM19 14.9h1v8.1h-1zM23 14.9h1v8.1h-1zM26 14.9h1v8.1h-1zM10 22.7h1v8.1h-1zM23 22.7h1v8.1h-1zM25 22.7h2v8.1h-2zM21 30.5h5v8.1h-5zM9 38.4h1v8.1h-1zM24 38.4h1v8.1h-1zM26 46.2h1v8.1h-1zM28 46.2h1v8.1h-1zM30 54.0h1v8.0h-1zM27 61.8h3v8.0h-3zM31 61.8h1v8.0h-1zM29 69.6h1v8.0h-1zM31 69.6h1v8.0h-1zM30 85.1h1v8.0h-1zM31 116.2h1v8.0h-1zM12 123.9h1v8.0h-1zM31 131.7h1v8.0h-1zM30 139.4h1v8.0h-1zM30 147.2h1v8.0h-1zM30 162.6h1v8.0h-1zM28 170.3h1v8.0h-1zM28 178.1h3v8.0h-3zM28 185.8h1v8.0h-1zM28 201.2h1v7.9h-1zM29 208.9h1v7.9h-1zM29 216.6h3v7.9h-3zM30 224.2h1v7.9h-1zM32 224.2h1v7.9h-1zM30 231.9h1v7.9h-1zM28 247.3h2v7.9h-2zM18 254.9h2v7.9h-2zM27 254.9h2v7.9h-2zM30 254.9h1v7.9h-1zM20 262.6h1v7.9h-1zM28 262.6h1v7.9h-1zM20 270.2h1v7.9h-1zM26 270.2h2v7.9h-2zM26 277.9h1v7.9h-1zM17 285.5h2v7.9h-2zM20 285.5h1v7.9h-1zM20 293.2h1v7.9h-1zM27 293.2h1v7.9h-1zM10 300.8h1v7.9h-1zM16 300.8h1v7.9h-1zM20 300.8h1v7.9h-1zM26 300.8h1v7.9h-1zM25 308.4h1v7.9h-1zM3 316.1h1v7.9h-1zM6 316.1h1v7.9h-1zM8 316.1h3v7.9h-3zM20 316.1h1v7.9h-1zM25 316.1h1v7.9h-1zM23 331.3h1v7.9h-1zM23 338.9h1v7.9h-1zM20 346.5h1v7.8h-1zM7 354.1h1v7.8h-1zM19 354.1h1v7.8h-1zM23 354.1h1v7.8h-1zM19 361.7h1v7.8h-1zM19 369.3h1v7.8h-1zM21 376.9h1v7.8h-1zM21 384.5h1v7.8h-1zM19 407.2h1v7.8h-1z"/><path fill="#0015ff" d="M14 0.0h2v7.3h-2zM14 7.1h2v8.1h-2zM12 14.9h2v8.1h-2zM25 14.9h1v8.1h-1zM11 22.7h1v8.1h-1zM18 22.7h3v8.1h-3zM10 30.5h1v8.1h-1zM20 30.5h1v8.1h-1zM24 46.2h1v8.1h-1zM24 61.8h1v8.0h-1zM12 69.6h1v8.0h-1zM25 69.6h1v8.0h-1zM27 69.6h1v8.0h-1zM28 77.3h1v8.0h-1zM30 77.3h1v8.0h-1zM13 85.1h1v8.0h-1zM28 85.1h1v8.0h-1zM28 92.9h2v8.0h-2zM28 100.7h1v8.0h-1zM30 100.7h1v8.0h-1zM14 108.4h1v8.0h-1zM30 108.4h1v8.0h-1zM14 116.2h1v8.0h-1zM29 116.2h1v8.0h-1zM28 123.9h3v8.0h-3zM13 131.7h1v8.0h-1zM28 131.7h3v8.0h-3zM28 139.4h1v8.0h-1zM28 147.2h2v8.0h-2zM28 154.9h2v8.0h-2zM28 162.6h1v8.0h-1zM26 170.3h2v8.0h-2zM26 178.1h1v8.0h-1zM26 185.8h1v8.0h-1zM15 193.5h1v8.0h-1zM15 201.2h1v7.9h-1zM25 201.2h3v7.9h-3zM15 208.9h1v7.9h-1zM25 208.9h1v7.9h-1zM18 216.6h1v7.9h-1zM28 216.6h1v7.9h-1zM15 224.2h1v7.9h-1zM28 224.2h1v7.9h-1zM19 231.9h1v7.9h-1zM27 231.9h2v7.9h-2zM18 239.6h2v7.9h-2zM18 247.3h2v7.9h-2zM21 247.3h1v7.9h-1zM24 247.3h3v7.9h-3zM21 254.9h1v7.9h-1zM24 254.9h2v7.9h-2zM23 262.6h1v7.9h-1zM10 270.2h1v7.9h-1zM21 270.2h1v7.9h-1zM23 270.2h3v7.9h-3zM16 277.9h1v7.9h-1zM21 277.9h1v7.9h-1zM16 285.5h1v7.9h-1zM24 285.5h2v7.9h-2zM21 293.2h1v7.9h-1zM14 300.8h2v7.9h-2zM21 300.8h1v7.9h-1zM4 308.4h1v7.9h-1zM15 308.4h1v7.9h-1zM21 316.1h1v7.9h-1zM24 316.1h1v7.9h-1zM22 323.7h1v7.9h-1zM1 331.3h1v7.9h-1zM7 331.3h1v7.9h-1zM21 331.3h2v7.9h-2zM2 338.9h1v7.9h-1zM7 338.9h1v7.9h-1zM21 338.9h1v7.9h-1zM21 346.5h1v7.8h-1zM21 354.1h1v7.8h-1zM22 361.7h1v7.8h-1z"/><path fill="#002aff" d="M16 0.0h2v7.3h-2zM24 0.0h2v7.3h-2zM17 7.1h1v8.1h-1zM11 14.9h1v8.1h-1zM18 14.9h1v8.1h-1zM24 14.9h1v8.1h-1zM9 22.7h1v8.1h-1zM24 22.7h1v8.1h-1zM9 30.5h1v8.1h-1zM21 38.4h3v8.1h-3zM25 38.4h2v8.1h-2zM9 46.2h1v8.1h-1zM25 46.2h1v8.1h-1zM24 54.0h3v8.0h-3zM10 61.8h2v8.0h-2zM25 61.8h2v8.0h-2zM30 61.8h1v8.0h-1zM28 69.6h1v8.0h-1zM30 69.6h1v8.0h-1zM29 77.3h1v8.0h-1zM29 85.1h1v8.0h-1zM13 92.9h1v8.0h-1zM30 92.9h2v8.0h-2zM13 100.7h1v8.0h-1zM29 100.7h1v8.0h-1zM31 100.7h1v8.0h-1zM31 108.4h1v8.0h-1zM13 123.9h1v8.0h-1zM31 123.9h1v8.0h-1zM29 139.4h1v8.0h-1zM30 154.9h1v8.0h-1zM29 162.6h1v8.0h-1zM27 178.1h1v8.0h-1zM27 185.8h1v8.0h-1zM27 193.5h1v8.0h-1zM28 208.9h1v7.9h-1zM29 224.2h1v7.9h-1zM29 231.9h1v7.9h-1zM27 239.6h3v7.9h-3zM27 247.3h1v7.9h-1zM20 254.9h1v7.9h-1zM26 254.9h1v7.9h-1zM21 262.6h1v7.9h-1zM25 262.6h2v7.9h-2zM16 270.2h1v7.9h-1zM25 277.9h1v7.9h-1zM27 277.9h1v7.9h-1zM26 285.5h1v7.9h-1zM13 293.2h1v7.9h-1zM25 293.2h2v7.9h-2zM25 300.8h1v7.9h-1zM14 308.4h1v7.9h-1zM2 323.7h1v7.9h-1zM21 323.7h1v7.9h-1zM23 323.7h1v7.9h-1zM20 338.9h1v7.9h-1zM22 338.9h1v7.9h-1zM22 346.5h2v7.8h-2zM6 354.1h1v7.8h-1zM20 354.1h1v7.8h-1zM22 354.1h1v7.8h-1zM20 361.7h2v7.8h-2zM20 369.3h3v7.8h-3zM20 376.9h1v7.8h-1z"/><path fill="#0080ff" d="M19 0.0h1v7.3h-1zM26 0.0h1v7.3h-1zM32 0.0h1v7.3h-1zM20 7.1h1v8.1h-1zM26 7.1h1v8.1h-1zM28 30.5h1v8.1h-1zM28 38.4h2v8.1h-2zM34 46.2h1v8.1h-1zM29 54.0h1v8.0h-1zM33 61.8h1v8.0h-1zM10 69.6h1v8.0h-1zM32 85.1h1v8.0h-1zM12 92.9h1v8.0h-1zM12 116.2h1v8.0h-1zM32 116.2h1v8.0h-1zM33 123.9h1v8.0h-1zM33 131.7h1v8.0h-1zM33 139.4h1v8.0h-1zM32 147.2h2v8.0h-2zM33 162.6h1v8.0h-1zM33 170.3h1v8.0h-1zM30 185.8h1v8.0h-1zM30 193.5h2v8.0h-2zM31 201.2h2v7.9h-2zM31 208.9h1v7.9h-1zM33 216.6h1v7.9h-1zM32 239.6h2v7.9h-2zM32 247.3h1v7.9h-1zM32 254.9h1v7.9h-1zM30 262.6h1v7.9h-1zM32 262.6h1v7.9h-1zM28 285.5h1v7.9h-1zM18 293.2h1v7.9h-1zM28 293.2h1v7.9h-1zM17 300.8h2v7.9h-2zM27 300.8h1v7.9h-1zM12 316.1h1v7.9h-1zM15 323.7h1v7.9h-1zM25 331.3h1v7.9h-1zM19 338.9h1v7.9h-1zM24 338.9h1v7.9h-1zM17 346.5h2v7.8h-2zM9 354.1h1v7.8h-1zM4 361.7h1v7.8h-1zM7 361.7h1v7.8h-1zM18 361.7h1v7.8h-1zM19 376.9h1v7.8h-1zM23 384.5h1v7.8h-1zM22 392.0h1v7.8h-1zM21 399.6h1v7.8h-1zM17 407.2h1v7.8h-1zM19 414.7h2v7.8h-2zM17 422.3h1v7.8h-1z"/><path fill="#00aaff" d="M28 0.0h1v7.3h-1zM31 0.0h1v7.3h-1zM27 7.1h1v8.1h-1zM35 14.9h1v8.1h-1zM29 22.7h1v8.1h-1zM34 22.7h1v8.1h-1zM34 38.4h1v8.1h-1zM33 46.2h1v8.1h-1zM34 54.0h1v8.0h-1zM33 69.6h1v8.0h-1zM33 108.4h1v8.0h-1zM33 116.2h1v8.0h-1zM34 131.7h1v8.0h-1zM34 170.3h1v8.0h-1zM35 185.8h1v8.0h-1zM38 185.8h1v8.0h-1zM33 193.5h2v8.0h-2zM33 208.9h2v7.9h-2zM34 216.6h2v7.9h-2zM33 247.3h2v7.9h-2zM31 262.6h1v7.9h-1zM31 270.2h2v7.9h-2zM29 277.9h2v7.9h-2zM28 300.8h1v7.9h-1zM17 308.4h1v7.9h-1zM18 316.1h2v7.9h-2zM26 316.1h2v7.9h-2zM13 331.3h1v7.9h-1zM15 331.3h1v7.9h-1zM18 331.3h1v7.9h-1zM17 338.9h2v7.9h-2zM16 346.5h1v7.8h-1zM24 354.1h1v7.8h-1zM17 361.7h1v7.8h-1zM24 361.7h1v7.8h-1zM3 369.3h1v7.8h-1zM23 376.9h1v7.8h-1zM22 399.6h2v7.8h-2zM21 414.7h1v7.8h-1zM21 422.3h1v7.8h-1z"/><path fill="#00bfff" d="M29 0.0h1v7.3h-1zM33 0.0h1v7.3h-1zM33 7.1h1v8.1h-1zM31 22.7h1v8.1h-1zM29 30.5h1v8.1h-1zM30 38.4h1v8.1h-1zM32 38.4h1v8.1h-1zM34 61.8h1v8.0h-1zM11 77.3h1v8.0h-1zM33 77.3h1v8.0h-1zM33 100.7h2v8.0h-2zM12 108.4h1v8.0h-1zM34 108.4h1v8.0h-1zM34 116.2h1v8.0h-1zM34 123.9h1v8.0h-1zM36 123.9h1v8.0h-1zM34 139.4h3v8.0h-3zM36 154.9h1v8.0h-1zM34 162.6h3v8.0h-3zM38 162.6h1v8.0h-1zM35 170.3h1v8.0h-1zM37 170.3h1v8.0h-1zM35 201.2h1v7.9h-1zM34 224.2h3v7.9h-3zM34 239.6h1v7.9h-1zM36 239.6h1v7.9h-1zM35 247.3h1v7.9h-1zM34 254.9h3v7.9h-3zM33 262.6h1v7.9h-1zM30 270.2h1v7.9h-1zM32 277.9h1v7.9h-1zM29 285.5h1v7.9h-1zM29 293.2h1v7.9h-1zM16 316.1h2v7.9h-2zM12 323.7h2v7.9h-2zM16 323.7h1v7.9h-1zM18 323.7h1v7.9h-1zM27 323.7h1v7.9h-1zM12 331.3h1v7.9h-1zM14 331.3h1v7.9h-1zM2 361.7h2v7.8h-2zM9 361.7h2v7.8h-2zM18 376.9h1v7.8h-1zM18 384.5h1v7.8h-1zM18 392.0h1v7.8h-1zM16 407.2h1v7.8h-1zM26 407.2h1v7.8h-1zM27 422.3h1v7.8h-1z"/><path fill="#00d4ff" d="M30 0.0h1v7.3h-1zM28 14.9h1v8.1h-1zM28 22.7h1v8.1h-1zM30 30.5h1v8.1h-1zM33 30.5h1v8.1h-1zM31 38.4h1v8.1h-1zM35 38.4h1v8.1h-1zM33 85.1h1v8.0h-1zM33 92.9h1v8.0h-1zM35 100.7h1v8.0h-1zM36 116.2h1v8.0h-1zM35 123.9h1v8.0h-1zM37 123.9h1v8.0h-1zM35 131.7h1v8.0h-1zM37 131.7h1v8.0h-1zM35 147.2h1v8.0h-1zM35 154.9h1v8.0h-1zM37 154.9h1v8.0h-1zM39 162.6h1v8.0h-1zM36 170.3h1v8.0h-1zM35 178.1h1v8.0h-1zM38 178.1h1v8.0h-1zM36 185.8h1v8.0h-1zM35 193.5h1v8.0h-1zM37 193.5h1v8.0h-1zM34 201.2h1v7.9h-1zM36 201.2h1v7.9h-1zM35 208.9h2v7.9h-2zM35 231.9h1v7.9h-1zM37 231.9h2v7.9h-2zM37 239.6h1v7.9h-1zM31 277.9h1v7.9h-1zM33 277.9h1v7.9h-1zM32 285.5h1v7.9h-1zM16 331.3h1v7.9h-1zM26 331.3h1v7.9h-1zM14 338.9h1v7.9h-1zM25 338.9h1v7.9h-1zM15 346.5h1v7.8h-1zM15 354.1h2v7.8h-2zM28 354.1h1v7.8h-1zM29 361.7h1v7.8h-1zM2 369.3h1v7.8h-1zM17 369.3h1v7.8h-1zM24 369.3h1v7.8h-1zM28 376.9h1v7.8h-1zM24 392.0h1v7.8h-1zM28 399.6h1v7.8h-1zM22 407.2h1v7.8h-1zM16 414.7h1v7.8h-1zM26 414.7h1v7.8h-1zM15 422.3h1v7.8h-1zM26 422.3h1v7.8h-1z"/><path fill="#15ffea" d="M34 0.0h1v7.3h-1zM34 7.1h1v8.1h-1zM35 46.2h1v8.1h-1zM36 100.7h1v8.0h-1zM38 108.4h1v8.0h-1zM38 116.2h2v8.0h-2zM37 147.2h1v8.0h-1zM40 147.2h1v8.0h-1zM38 154.9h2v8.0h-2zM40 170.3h1v8.0h-1zM38 193.5h1v8.0h-1zM42 193.5h1v8.0h-1zM37 201.2h1v7.9h-1zM38 208.9h1v7.9h-1zM39 216.6h2v7.9h-2zM40 224.2h3v7.9h-3zM40 231.9h1v7.9h-1zM39 247.3h1v7.9h-1zM39 254.9h1v7.9h-1zM35 270.2h1v7.9h-1zM34 277.9h1v7.9h-1zM36 277.9h1v7.9h-1zM31 293.2h1v7.9h-1zM29 300.8h2v7.9h-2zM26 338.9h2v7.9h-2zM14 346.5h1v7.8h-1zM27 346.5h1v7.8h-1zM15 369.3h1v7.8h-1zM5 376.9h1v7.8h-1zM16 376.9h1v7.8h-1zM25 376.9h1v7.8h-1zM27 384.5h1v7.8h-1zM17 392.0h1v7.8h-1zM27 392.0h1v7.8h-1zM15 407.2h1v7.8h-1zM13 422.3h1v7.8h-1zM25 422.3h1v7.8h-1z"/><path fill="#00eaff" d="M35 0.0h1v7.3h-1zM35 7.1h1v8.1h-1zM29 14.9h2v8.1h-2zM34 14.9h1v8.1h-1zM36 14.9h1v8.1h-1zM30 22.7h1v8.1h-1zM35 22.7h2v8.1h-2zM31 30.5h1v8.1h-1zM36 30.5h1v8.1h-1zM33 38.4h1v8.1h-1zM36 46.2h1v8.1h-1zM34 69.6h1v8.0h-1zM34 77.3h1v8.0h-1zM11 92.9h1v8.0h-1zM34 92.9h1v8.0h-1zM35 108.4h1v8.0h-1zM37 116.2h1v8.0h-1zM36 131.7h1v8.0h-1zM39 131.7h1v8.0h-1zM36 147.2h1v8.0h-1zM39 170.3h1v8.0h-1zM36 178.1h1v8.0h-1zM37 185.8h1v8.0h-1zM39 185.8h2v8.0h-2zM36 193.5h1v8.0h-1zM39 193.5h1v8.0h-1zM38 201.2h1v7.9h-1zM36 216.6h1v7.9h-1zM38 216.6h1v7.9h-1zM37 224.2h2v7.9h-2zM36 231.9h1v7.9h-1zM35 239.6h1v7.9h-1zM36 247.3h1v7.9h-1zM38 247.3h1v7.9h-1zM38 254.9h1v7.9h-1zM34 262.6h1v7.9h-1zM36 262.6h1v7.9h-1zM35 277.9h1v7.9h-1zM30 285.5h1v7.9h-1zM28 316.1h1v7.9h-1zM17 331.3h1v7.9h-1zM13 338.9h1v7.9h-1zM15 338.9h2v7.9h-2zM28 338.9h3v7.9h-3zM25 346.5h1v7.8h-1zM28 346.5h3v7.8h-3zM10 354.1h1v7.8h-1zM25 354.1h1v7.8h-1zM16 361.7h1v7.8h-1zM2 376.9h1v7.8h-1zM24 376.9h1v7.8h-1zM27 376.9h1v7.8h-1zM23 392.0h1v7.8h-1zM27 399.6h1v7.8h-1zM14 414.7h2v7.8h-2zM27 414.7h1v7.8h-1z"/><path fill="#800000" d="M36 0.0h2v7.3h-2zM36 7.1h1v8.1h-1zM39 7.1h1v8.1h-1zM40 14.9h1v8.1h-1zM42 30.5h1v8.1h-1zM43 46.2h2v8.1h-2zM38 338.9h1v7.9h-1zM34 346.5h2v7.8h-2zM37 346.5h2v7.8h-2zM35 361.7h2v7.8h-2zM34 369.3h1v7.8h-1zM32 376.9h1v7.8h-1z"/><path fill="#0000ff" d="M16 7.1h1v8.1h-1zM17 14.9h1v8.1h-1zM12 22.7h2v8.1h-2zM11 30.5h1v8.1h-1zM19 30.5h1v8.1h-1zM10 38.4h2v8.1h-2zM15 38.4h1v8.1h-1zM20 38.4h1v8.1h-1zM10 46.2h1v8.1h-1zM22 46.2h2v8.1h-2zM10 54.0h3v8.0h-3zM24 69.6h1v8.0h-1zM26 69.6h1v8.0h-1zM13 77.3h1v8.0h-1zM23 77.3h1v8.0h-1zM27 77.3h1v8.0h-1zM23 85.1h1v8.0h-1zM14 100.7h1v8.0h-1zM27 100.7h1v8.0h-1zM28 108.4h2v8.0h-2zM25 116.2h1v8.0h-1zM28 116.2h1v8.0h-1zM30 116.2h1v8.0h-1zM14 123.9h1v8.0h-1zM27 123.9h1v8.0h-1zM19 131.7h1v8.0h-1zM27 139.4h1v8.0h-1zM20 147.2h1v8.0h-1zM27 147.2h1v8.0h-1zM27 154.9h1v8.0h-1zM26 162.6h2v8.0h-2zM15 185.8h1v8.0h-1zM22 185.8h1v8.0h-1zM16 193.5h1v8.0h-1zM19 193.5h2v8.0h-2zM26 193.5h1v8.0h-1zM24 201.2h1v7.9h-1zM16 208.9h1v7.9h-1zM24 208.9h1v7.9h-1zM26 208.9h2v7.9h-2zM16 216.6h2v7.9h-2zM24 216.6h1v7.9h-1zM27 216.6h1v7.9h-1zM16 224.2h1v7.9h-1zM19 224.2h2v7.9h-2zM27 224.2h1v7.9h-1zM15 231.9h2v7.9h-2zM25 231.9h1v7.9h-1zM17 239.6h1v7.9h-1zM20 239.6h1v7.9h-1zM26 239.6h1v7.9h-1zM20 247.3h1v7.9h-1zM22 247.3h2v7.9h-2zM17 254.9h1v7.9h-1zM22 254.9h2v7.9h-2zM22 262.6h1v7.9h-1zM24 262.6h1v7.9h-1zM15 270.2h1v7.9h-1zM22 277.9h3v7.9h-3zM15 285.5h1v7.9h-1zM21 285.5h2v7.9h-2zM14 293.2h1v7.9h-1zM16 293.2h1v7.9h-1zM22 293.2h1v7.9h-1zM24 293.2h1v7.9h-1zM22 300.8h3v7.9h-3zM21 308.4h1v7.9h-1zM23 308.4h2v7.9h-2zM5 316.1h1v7.9h-1zM22 316.1h2v7.9h-2zM3 323.7h2v7.9h-2zM2 331.3h1v7.9h-1zM6 331.3h1v7.9h-1zM3 338.9h1v7.9h-1zM5 338.9h2v7.9h-2zM5 346.5h3v7.8h-3z"/><path fill="#aa0000" d="M37 7.1h1v8.1h-1zM41 30.5h1v8.1h-1zM36 338.9h1v7.9h-1zM33 361.7h1v7.8h-1zM33 369.3h1v7.8h-1z"/><path fill="#0000ea" d="M14 14.9h3v8.1h-3zM14 22.7h1v8.1h-1zM16 22.7h2v8.1h-2zM12 30.5h3v8.1h-3zM16 30.5h3v8.1h-3zM12 38.4h1v8.1h-1zM14 38.4h1v8.1h-1zM16 38.4h4v8.1h-4zM11 46.2h5v8.1h-5zM17 46.2h1v8.1h-1zM19 46.2h3v8.1h-3zM13 54.0h2v8.0h-2zM16 54.0h1v8.0h-1zM18 54.0h6v8.0h-6zM12 61.8h8v8.0h-8zM21 61.8h1v8.0h-1zM23 61.8h1v8.0h-1zM13 69.6h9v8.0h-9zM23 69.6h1v8.0h-1zM14 77.3h3v8.0h-3zM19 77.3h4v8.0h-4zM24 77.3h3v8.0h-3zM14 85.1h9v8.0h-9zM24 85.1h4v8.0h-4zM14 92.9h10v8.0h-10zM25 92.9h3v8.0h-3zM15 100.7h2v8.0h-2zM19 100.7h5v8.0h-5zM25 100.7h2v8.0h-2zM16 108.4h3v8.0h-3zM20 108.4h8v8.0h-8zM17 116.2h1v8.0h-1zM19 116.2h5v8.0h-5zM26 116.2h2v8.0h-2zM15 123.9h4v8.0h-4zM20 123.9h1v8.0h-1zM23 123.9h4v8.0h-4zM14 131.7h1v8.0h-1zM17 131.7h1v8.0h-1zM23 131.7h5v8.0h-5zM13 139.4h1v8.0h-1zM19 139.4h7v8.0h-7zM21 147.2h1v8.0h-1zM23 147.2h2v8.0h-2zM26 147.2h1v8.0h-1zM14 154.9h1v8.0h-1zM21 154.9h1v8.0h-1zM24 154.9h3v8.0h-3zM14 162.6h1v8.0h-1zM21 162.6h2v8.0h-2zM24 162.6h2v8.0h-2zM20 170.3h4v8.0h-4zM25 170.3h1v8.0h-1zM15 178.1h3v8.0h-3zM21 178.1h1v8.0h-1zM23 178.1h3v8.0h-3zM16 185.8h2v8.0h-2zM20 185.8h2v8.0h-2zM24 185.8h2v8.0h-2zM17 193.5h1v8.0h-1zM21 193.5h5v8.0h-5zM16 201.2h1v7.9h-1zM18 201.2h1v7.9h-1zM20 201.2h1v7.9h-1zM22 201.2h2v7.9h-2zM17 208.9h5v7.9h-5zM23 208.9h1v7.9h-1zM20 216.6h1v7.9h-1zM25 216.6h2v7.9h-2zM21 224.2h6v7.9h-6zM20 231.9h1v7.9h-1zM22 231.9h3v7.9h-3zM26 231.9h1v7.9h-1zM16 239.6h1v7.9h-1zM21 239.6h1v7.9h-1zM23 239.6h3v7.9h-3zM17 247.3h1v7.9h-1zM16 254.9h1v7.9h-1zM15 262.6h1v7.9h-1zM8 270.2h2v7.9h-2zM13 270.2h2v7.9h-2zM22 270.2h1v7.9h-1zM8 277.9h1v7.9h-1zM14 277.9h2v7.9h-2zM14 285.5h1v7.9h-1zM23 285.5h1v7.9h-1zM15 293.2h1v7.9h-1zM23 293.2h1v7.9h-1zM5 308.4h1v7.9h-1zM22 308.4h1v7.9h-1zM4 316.1h1v7.9h-1zM5 323.7h1v7.9h-1zM3 331.3h3v7.9h-3z"/><path fill="#ff1500" d="M38 14.9h1v8.1h-1zM38 22.7h2v8.1h-2zM36 54.0h1v8.0h-1zM43 54.0h1v8.0h-1zM36 61.8h1v8.0h-1zM36 331.3h2v7.9h-2zM34 338.9h2v7.9h-2zM32 361.7h1v7.8h-1zM32 369.3h1v7.8h-1zM34 376.9h1v7.8h-1zM14 392.0h1v7.8h-1z"/><path fill="#ea0000" d="M39 14.9h1v8.1h-1zM26 323.7h1v7.9h-1zM32 354.1h1v7.8h-1zM35 354.1h1v7.8h-1z"/><path fill="#0000d4" d="M15 22.7h1v8.1h-1zM15 30.5h1v8.1h-1zM13 38.4h1v8.1h-1zM16 46.2h1v8.1h-1zM18 46.2h1v8.1h-1zM15 54.0h1v8.0h-1zM17 54.0h1v8.0h-1zM20 61.8h1v8.0h-1zM22 61.8h1v8.0h-1zM22 69.6h1v8.0h-1zM17 77.3h2v8.0h-2zM24 92.9h1v8.0h-1zM17 100.7h2v8.0h-2zM24 100.7h1v8.0h-1zM15 108.4h1v8.0h-1zM19 108.4h1v8.0h-1zM15 116.2h2v8.0h-2zM18 116.2h1v8.0h-1zM24 116.2h1v8.0h-1zM19 123.9h1v8.0h-1zM21 123.9h2v8.0h-2zM15 131.7h2v8.0h-2zM18 131.7h1v8.0h-1zM20 131.7h3v8.0h-3zM14 139.4h1v8.0h-1zM17 139.4h2v8.0h-2zM26 139.4h1v8.0h-1zM14 147.2h1v8.0h-1zM22 147.2h1v8.0h-1zM25 147.2h1v8.0h-1zM15 154.9h1v8.0h-1zM20 154.9h1v8.0h-1zM22 154.9h2v8.0h-2zM15 162.6h1v8.0h-1zM20 162.6h1v8.0h-1zM23 162.6h1v8.0h-1zM15 170.3h3v8.0h-3zM24 170.3h1v8.0h-1zM20 178.1h1v8.0h-1zM22 178.1h1v8.0h-1zM18 185.8h2v8.0h-2zM23 185.8h1v8.0h-1zM18 193.5h1v8.0h-1zM17 201.2h1v7.9h-1zM19 201.2h1v7.9h-1zM21 201.2h1v7.9h-1zM22 208.9h1v7.9h-1zM21 216.6h3v7.9h-3zM21 231.9h1v7.9h-1zM15 239.6h1v7.9h-1zM22 239.6h1v7.9h-1zM16 247.3h1v7.9h-1zM15 254.9h1v7.9h-1zM13 262.6h2v7.9h-2zM9 277.9h1v7.9h-1zM13 277.9h1v7.9h-1zM4 338.9h1v7.9h-1z"/><path fill="#ff8000" d="M37 22.7h1v8.1h-1zM37 30.5h1v8.1h-1zM41 54.0h2v8.0h-2zM29 323.7h1v7.9h-1zM34 323.7h1v7.9h-1zM41 323.7h1v7.9h-1zM34 331.3h1v7.9h-1z"/><path fill="#ff5500" d="M40 22.7h1v8.1h-1zM36 69.6h1v8.0h-1zM40 293.2h1v7.9h-1zM40 323.7h1v7.9h-1zM31 376.9h1v7.8h-1z"/><path fill="#ffea00" d="M38 30.5h1v8.1h-1zM38 38.4h2v8.1h-2zM41 38.4h2v8.1h-2zM39 46.2h2v8.1h-2zM42 46.2h1v8.1h-1zM37 61.8h1v8.0h-1zM42 61.8h1v8.0h-1zM38 300.8h1v7.9h-1zM37 308.4h1v7.9h-1zM32 316.1h1v7.9h-1zM39 316.1h1v7.9h-1zM12 354.1h1v7.8h-1zM12 361.7h1v7.8h-1zM31 369.3h1v7.8h-1zM31 384.5h1v7.8h-1zM4 392.0h1v7.8h-1z"/><path fill="#ffaa00" d="M39 30.5h2v8.1h-2zM41 46.2h1v8.1h-1zM11 100.7h1v8.0h-1zM40 285.5h1v7.9h-1zM41 316.1h1v7.9h-1zM35 323.7h1v7.9h-1zM37 323.7h1v7.9h-1zM16 384.5h1v7.8h-1zM13 392.0h1v7.8h-1zM31 392.0h1v7.8h-1z"/><path fill="#40ffbf" d="M36 38.4h1v8.1h-1zM36 92.9h1v8.0h-1zM40 100.7h1v8.0h-1zM39 108.4h2v8.0h-2zM42 108.4h1v8.0h-1zM44 108.4h1v8.0h-1zM42 116.2h1v8.0h-1zM43 123.9h1v8.0h-1zM40 131.7h1v8.0h-1zM39 139.4h1v8.0h-1zM40 154.9h3v8.0h-3zM44 162.6h1v8.0h-1zM41 170.3h2v8.0h-2zM41 185.8h1v8.0h-1zM42 201.2h1v7.9h-1zM40 208.9h1v7.9h-1zM41 231.9h1v7.9h-1zM40 239.6h1v7.9h-1zM42 239.6h1v7.9h-1zM40 247.3h1v7.9h-1zM40 254.9h1v7.9h-1zM39 262.6h1v7.9h-1zM37 270.2h1v7.9h-1zM33 293.2h1v7.9h-1zM32 300.8h1v7.9h-1zM14 361.7h1v7.8h-1zM30 361.7h1v7.8h-1zM25 384.5h1v7.8h-1zM29 384.5h1v7.8h-1zM9 392.0h1v7.8h-1z"/><path fill="#bfff40" d="M37 38.4h1v8.1h-1zM38 61.8h1v8.0h-1zM40 61.8h1v8.0h-1zM41 69.6h2v8.0h-2zM42 77.3h2v8.0h-2zM43 85.1h1v8.0h-1zM42 262.6h1v7.9h-1zM41 270.2h1v7.9h-1zM37 293.2h1v7.9h-1zM37 300.8h1v7.9h-1zM33 308.4h1v7.9h-1zM13 376.9h1v7.8h-1zM30 376.9h1v7.8h-1zM12 384.5h2v7.8h-2z"/><path fill="#eaff15" d="M40 38.4h1v8.1h-1zM38 46.2h1v8.1h-1zM43 61.8h2v8.0h-2zM42 85.1h1v8.0h-1zM44 239.6h1v7.9h-1zM33 316.1h1v7.9h-1zM10 384.5h1v7.8h-1zM12 392.0h1v7.8h-1zM30 392.0h1v7.8h-1z"/><path fill="#aaff55" d="M37 46.2h1v8.1h-1zM38 54.0h2v8.0h-2zM39 61.8h1v8.0h-1zM10 77.3h1v8.0h-1zM39 77.3h1v8.0h-1zM10 85.1h1v8.0h-1zM42 92.9h3v8.0h-3zM43 100.7h2v8.0h-2zM43 116.2h1v8.0h-1zM41 139.4h1v8.0h-1zM42 247.3h2v7.9h-2zM35 308.4h2v7.9h-2zM30 316.1h2v7.9h-2zM34 316.1h1v7.9h-1z"/><path fill="#ffff00" d="M37 54.0h1v8.0h-1zM44 69.6h1v8.0h-1zM43 254.9h1v7.9h-1zM42 270.2h1v7.9h-1zM39 285.5h1v7.9h-1zM31 323.7h1v7.9h-1z"/><path fill="#ffd500" d="M40 54.0h1v8.0h-1zM44 54.0h1v8.0h-1zM43 262.6h1v7.9h-1zM36 316.1h1v7.9h-1zM38 316.1h1v7.9h-1zM32 323.7h1v7.9h-1z"/><path fill="#d5ff2a" d="M41 61.8h1v8.0h-1zM37 69.6h1v8.0h-1zM40 69.6h1v8.0h-1zM43 69.6h1v8.0h-1zM44 77.3h1v8.0h-1zM41 100.7h1v8.0h-1zM38 293.2h1v7.9h-1zM38 308.4h1v7.9h-1zM35 316.1h1v7.9h-1zM31 331.3h1v7.9h-1zM30 384.5h1v7.8h-1z"/><path fill="#95ff6a" d="M38 69.6h1v8.0h-1zM38 77.3h1v8.0h-1zM37 85.1h1v8.0h-1zM40 85.1h2v8.0h-2zM39 92.9h1v8.0h-1zM41 92.9h1v8.0h-1zM42 100.7h1v8.0h-1zM43 108.4h1v8.0h-1zM42 123.9h1v8.0h-1zM43 139.4h2v8.0h-2zM43 147.2h1v8.0h-1zM43 170.3h1v8.0h-1zM44 193.5h1v8.0h-1zM43 231.9h1v7.9h-1zM42 254.9h1v7.9h-1zM30 308.4h3v7.9h-3zM13 369.3h1v7.8h-1zM14 376.9h1v7.8h-1zM11 384.5h1v7.8h-1zM14 384.5h1v7.8h-1zM11 392.0h1v7.8h-1zM29 399.6h1v7.8h-1z"/><path fill="#55ffaa" d="M39 69.6h1v8.0h-1zM35 77.3h1v8.0h-1zM35 85.1h2v8.0h-2zM39 85.1h1v8.0h-1zM38 92.9h1v8.0h-1zM39 100.7h1v8.0h-1zM40 116.2h1v8.0h-1zM40 123.9h1v8.0h-1zM44 131.7h1v8.0h-1zM40 139.4h1v8.0h-1zM42 139.4h1v8.0h-1zM41 147.2h1v8.0h-1zM43 154.9h2v8.0h-2zM42 162.6h1v8.0h-1zM42 178.1h3v8.0h-3zM42 185.8h2v8.0h-2zM41 193.5h1v8.0h-1zM43 193.5h1v8.0h-1zM43 201.2h2v7.9h-2zM41 208.9h2v7.9h-2zM42 216.6h1v7.9h-1zM42 231.9h1v7.9h-1zM41 239.6h1v7.9h-1zM41 247.3h1v7.9h-1zM41 254.9h1v7.9h-1zM40 262.6h1v7.9h-1zM37 277.9h2v7.9h-2zM36 285.5h1v7.9h-1zM34 293.2h2v7.9h-2zM35 300.8h2v7.9h-2zM31 346.5h1v7.8h-1zM13 354.1h1v7.8h-1zM30 369.3h1v7.8h-1zM11 376.9h1v7.8h-1zM15 376.9h1v7.8h-1zM28 407.2h1v7.8h-1zM28 422.3h1v7.8h-1z"/><path fill="#80ff80" d="M36 77.3h1v8.0h-1zM40 77.3h2v8.0h-2zM38 85.1h1v8.0h-1zM41 108.4h1v8.0h-1zM43 131.7h1v8.0h-1zM44 185.8h1v8.0h-1zM43 208.9h1v7.9h-1zM44 216.6h1v7.9h-1zM44 224.2h1v7.9h-1zM43 239.6h1v7.9h-1zM41 262.6h1v7.9h-1zM38 270.2h1v7.9h-1zM40 270.2h1v7.9h-1zM39 277.9h1v7.9h-1zM37 285.5h2v7.9h-2zM36 293.2h1v7.9h-1zM31 300.8h1v7.9h-1zM33 300.8h2v7.9h-2zM30 323.7h1v7.9h-1zM31 338.9h1v7.9h-1zM12 346.5h1v7.8h-1zM31 354.1h1v7.8h-1zM13 361.7h1v7.8h-1zM31 361.7h1v7.8h-1zM1 369.3h1v7.8h-1zM29 392.0h1v7.8h-1zM28 414.7h1v7.8h-1z"/><path fill="#6aff95" d="M37 77.3h1v8.0h-1zM44 85.1h1v8.0h-1zM40 92.9h1v8.0h-1zM44 116.2h1v8.0h-1zM41 123.9h1v8.0h-1zM44 123.9h1v8.0h-1zM41 131.7h2v8.0h-2zM39 147.2h1v8.0h-1zM42 147.2h1v8.0h-1zM43 162.6h1v8.0h-1zM44 170.3h1v8.0h-1zM44 208.9h1v7.9h-1zM43 216.6h1v7.9h-1zM43 224.2h1v7.9h-1zM44 231.9h1v7.9h-1zM39 270.2h1v7.9h-1zM35 285.5h1v7.9h-1zM34 308.4h1v7.9h-1zM29 316.1h1v7.9h-1zM12 369.3h1v7.8h-1zM12 376.9h1v7.8h-1zM15 384.5h1v7.8h-1z"/><path fill="#00ffff" d="M11 85.1h1v8.0h-1zM34 85.1h1v8.0h-1zM35 92.9h1v8.0h-1zM36 108.4h1v8.0h-1zM35 116.2h1v8.0h-1zM38 123.9h2v8.0h-2zM37 139.4h1v8.0h-1zM37 162.6h1v8.0h-1zM38 170.3h1v8.0h-1zM37 178.1h1v8.0h-1zM41 178.1h1v8.0h-1zM40 193.5h1v8.0h-1zM39 201.2h1v7.9h-1zM37 208.9h1v7.9h-1zM37 216.6h1v7.9h-1zM39 224.2h1v7.9h-1zM37 254.9h1v7.9h-1zM35 262.6h1v7.9h-1zM33 270.2h2v7.9h-2zM36 270.2h1v7.9h-1zM31 285.5h1v7.9h-1zM30 293.2h1v7.9h-1zM28 308.4h2v7.9h-2zM27 331.3h2v7.9h-2zM26 346.5h1v7.8h-1zM26 354.1h1v7.8h-1zM29 354.1h2v7.8h-2zM15 361.7h1v7.8h-1zM25 361.7h4v7.8h-4zM16 369.3h1v7.8h-1zM26 369.3h1v7.8h-1zM28 369.3h2v7.8h-2zM3 376.9h1v7.8h-1zM26 376.9h1v7.8h-1zM24 384.5h1v7.8h-1zM26 384.5h1v7.8h-1zM25 392.0h2v7.8h-2zM28 392.0h1v7.8h-1zM16 399.6h1v7.8h-1zM24 399.6h1v7.8h-1zM26 399.6h1v7.8h-1zM25 407.2h1v7.8h-1zM27 407.2h1v7.8h-1zM25 414.7h1v7.8h-1zM14 422.3h1v7.8h-1z"/><path fill="#2bffd4" d="M37 92.9h1v8.0h-1zM37 100.7h2v8.0h-2zM37 108.4h1v8.0h-1zM41 116.2h1v8.0h-1zM38 131.7h1v8.0h-1zM38 139.4h1v8.0h-1zM38 147.2h1v8.0h-1zM44 147.2h1v8.0h-1zM40 162.6h2v8.0h-2zM39 178.1h2v8.0h-2zM40 201.2h2v7.9h-2zM39 208.9h1v7.9h-1zM41 216.6h1v7.9h-1zM39 231.9h1v7.9h-1zM38 239.6h2v7.9h-2zM37 247.3h1v7.9h-1zM37 262.6h2v7.9h-2zM33 285.5h2v7.9h-2zM32 293.2h1v7.9h-1zM28 323.7h1v7.9h-1zM29 331.3h2v7.9h-2zM13 346.5h1v7.8h-1zM14 354.1h1v7.8h-1zM27 354.1h1v7.8h-1zM14 369.3h1v7.8h-1zM25 369.3h1v7.8h-1zM27 369.3h1v7.8h-1zM4 376.9h1v7.8h-1zM17 376.9h1v7.8h-1zM29 376.9h1v7.8h-1zM17 384.5h1v7.8h-1zM28 384.5h1v7.8h-1zM25 399.6h1v7.8h-1zM24 422.3h1v7.8h-1z"/><path fill="#0000bf" d="M15 139.4h2v8.0h-2zM16 147.2h4v8.0h-4zM16 154.9h4v8.0h-4zM16 162.6h2v8.0h-2zM18 170.3h2v8.0h-2zM18 178.1h2v8.0h-2zM15 247.3h1v7.9h-1z"/><path fill="#0000aa" d="M15 147.2h1v8.0h-1zM18 162.6h2v8.0h-2z"/><path fill="#ff9500" d="M44 247.3h1v7.9h-1zM40 277.9h2v7.9h-2zM37 316.1h1v7.9h-1zM40 316.1h1v7.9h-1z"/><path fill="#ffbf00" d="M44 254.9h1v7.9h-1zM42 277.9h1v7.9h-1zM39 293.2h1v7.9h-1zM39 300.8h1v7.9h-1zM39 308.4h1v7.9h-1zM33 323.7h1v7.9h-1z"/><path fill="#ff6a00" d="M36 323.7h1v7.9h-1zM39 323.7h1v7.9h-1z"/><path fill="#ff4000" d="M38 323.7h1v7.9h-1zM36 354.1h1v7.8h-1z"/><path fill="#ff0000" d="M35 331.3h1v7.9h-1zM38 331.3h1v7.9h-1zM33 346.5h1v7.8h-1zM33 354.1h1v7.8h-1z"/><path fill="#ff2a00" d="M39 331.3h2v7.9h-2zM33 338.9h1v7.9h-1z"/><path fill="#d50000" d="M37 338.9h1v7.9h-1z"/><path fill="#950000" d="M39 338.9h1v7.9h-1zM36 346.5h1v7.8h-1zM34 361.7h1v7.8h-1z"/><path fill="#bf0000" d="M32 346.5h1v7.8h-1zM34 354.1h1v7.8h-1zM33 376.9h1v7.8h-1z"/></g><path d="M227.7 18.8l4.0 7.8l1.1 1.1l4.6 6.7l3.1 3.8l7.7 4.0l7.7 1.5l7.7 1.6l6.0 -3.1M271.3 68.4l-3.1 5.0l-3.4 7.8l-1.2 3.9l-1.1 3.8l0.9 7.8l0.2 1.4l4.3 6.3l3.1 7.8l0.3 6.2l0.1 1.5l3.4 7.8l1.2 7.7l1.8 7.7l-0.5 7.7l1.8 5.8l1.4 1.9l-1.4 2.9l-1.5 4.9l0.4 7.7l0.1 7.7l1.0 3.0l2.0 4.7l-2.0 3.4l-3.2 4.3l-0.8 7.7l3.4 7.7l0.1 7.7l-0.2 7.7l-2.3 7.7l-1.6 7.7l-0.0 7.7l-1.1 7.7l-2.0 0.7l-7.4 6.9l-0.3 0.3l-5.5 7.3l-2.2 5.2l-7.7 0.1l-4.1 2.4l-3.6 1.3l-6.0 6.4l-1.7 2.4l-1.9 5.2l-5.7 7.6l-0.1 0.1l-3.4 7.5l-2.7 7.6l-1.6 0.8l-1.9 -0.8l-5.8 -2.6l-2.3 2.6l-5.4 6.3l-1.2 1.3l1.2 2.6l2.1 5.1l-2.1 6.7l-0.7 0.9l-1.9 7.6l-1.4 7.6l-2.1 7.6l-1.7 4.2l-1.0 3.4l-2.5 7.6l-1.9 7.6l-1.4 7.6l-0.8 2.7l-1.9 4.8M102.1 106.9l1.0 -2.4l-1.0 -1.8l-2.9 -5.9l-1.5 -7.8l-1.9 -7.8l-1.4 -1.5l-7.7 -4.8M132.9 330.7l-4.9 4.4l-2.8 1.9l-7.7 0.8l-7.7 -2.3M144.6 335.1l-4.1 6.6l-1.0 1.0l-6.7 6.5l-0.8 1.1l0.8 3.2l0.7 4.4l4.7 7.6l2.3 3.0l2.9 4.6l4.8 7.1l0.2 0.5l0.2 7.6l-0.4 3.5l-0.7 4.0l-7.0 6.9M26.9 365.5l5.4 7.6l0.7 0.6l7.7 0.7l7.7 -0.6M139.2 403.4l-4.6 7.6l-1.7 5.4l-1.0 2.1l-3.2 7.6l-2.1 7.5" stroke="#000" stroke-width="1.15" fill="none" stroke-linejoin="round"/><text transform="translate(262.0,52.0) rotate(75)" font-size="12" text-anchor="middle" font-family="Liberation Sans, sans-serif" stroke="#fff" stroke-width="0" dy="4">1.25</text><text transform="translate(99.0,156.0) rotate(75)" font-size="12" text-anchor="middle" font-family="Liberation Sans, sans-serif" stroke="#fff" stroke-width="0" dy="4">1.25</text><text transform="translate(276.0,110.0) rotate(-85)" font-size="12" text-anchor="middle" font-family="Liberation Sans, sans-serif" stroke="#fff" stroke-width="0" dy="4">1.25</text><text transform="translate(278.0,238.0) rotate(-60)" font-size="12" text-anchor="middle" font-family="Liberation Sans, sans-serif" stroke="#fff" stroke-width="0" dy="4">1.25</text><text transform="translate(118.0,332.0) rotate(-40)" font-size="12" text-anchor="middle" font-family="Liberation Sans, sans-serif" stroke="#fff" stroke-width="0" dy="4">1.25</text><text transform="translate(132.0,383.0) rotate(70)" font-size="12" text-anchor="middle" font-family="Liberation Sans, sans-serif" stroke="#fff" stroke-width="0" dy="4">1.25</text><text transform="translate(184.0,377.0) rotate(-70)" font-size="12" text-anchor="middle" font-family="Liberation Sans, sans-serif" stroke="#fff" stroke-width="0" dy="4">1.25</text><text transform="translate(225.0,361.0) rotate(-70)" font-size="12" text-anchor="middle" font-family="Liberation Sans, sans-serif" stroke="#fff" stroke-width="0" dy="4">1.25</text><text transform="translate(213.0,400.0) rotate(-80)" font-size="12" text-anchor="middle" font-family="Liberation Sans, sans-serif" stroke="#fff" stroke-width="0" dy="4">1.25</text>
<use href="#land"/><use href="#lg"/>
<path d="M59.8 46.5L73.8 46.5M61.9 41.6L71.7 51.4M66.8 39.5L66.8 53.5M71.7 41.6L61.9 51.4" stroke="#ff1a1a" stroke-width="1" fill="none"/>
<path d="M97.4 157.0L111.4 157.0M99.5 152.1L109.3 161.9M104.4 150.0L104.4 164.0M109.3 152.1L99.5 161.9" stroke="#ff1a1a" stroke-width="1" fill="none"/>
<path d="M106.8 250.3L120.8 250.3M108.9 245.4L118.7 255.2M113.8 243.3L113.8 257.3M118.7 245.4L108.9 255.2" stroke="#ff1a1a" stroke-width="1" fill="none"/>
<path d="M55.4 272.3L69.4 272.3M57.5 267.4L67.3 277.2M62.4 265.3L62.4 279.3M67.3 267.4L57.5 277.2" stroke="#ff1a1a" stroke-width="1" fill="none"/>
<path d="M3.3 320.7L17.3 320.7M5.4 315.8L15.2 325.6M10.3 313.7L10.3 327.7M15.2 315.8L5.4 325.6" stroke="#ff1a1a" stroke-width="1" fill="none"/>
</g>
<path d="M0 72.5h4M348 72.5h-4M0 144.5h4M348 144.5h-4M0 216.5h4M348 216.5h-4M0 287.5h4M348 287.5h-4M0 358.5h4M348 358.5h-4M58.5 0v4M58.5 428v-4M116.5 0v4M116.5 428v-4M174.5 0v4M174.5 428v-4M232.5 0v4M232.5 428v-4M290.5 0v4M290.5 428v-4" stroke="#222" stroke-width="1" fill="none"/>
<rect x="0" y="0" width="348" height="428" fill="none" stroke="#000" stroke-width="1.2"/>
<rect x="4.5" y="20.9" width="112" height="24.5" fill="url(#jet)" stroke="#222" stroke-width="1"/>
<text x="173.0" y="-12.0" font-size="20.6" text-anchor="middle" font-weight="bold" font-family="Liberation Sans, sans-serif" >GDOP TotalErrors (1.25)</text><text x="3.5" y="7.8" font-size="21" text-anchor="middle" font-weight="normal" font-family="Liberation Sans, sans-serif" >0</text><text x="59.0" y="7.8" font-size="21" text-anchor="middle" font-weight="normal" font-family="Liberation Sans, sans-serif" >2</text><text x="116.0" y="7.8" font-size="21" text-anchor="middle" font-weight="normal" font-family="Liberation Sans, sans-serif" >4</text><text x="314.0" y="37.8" font-size="21" text-anchor="middle" font-weight="normal" font-family="Liberation Sans, sans-serif" >10 km</text><path d="M306.5 44.1h11.5" stroke="#000" stroke-width="4" stroke-linecap="round"/>
</g>
<text x="837.0" y="149.0" font-size="21" text-anchor="end" font-weight="normal" font-family="Liberation Sans, sans-serif" >37°N</text>
<text x="837.0" y="219.5" font-size="15" text-anchor="end" font-weight="normal" font-family="Liberation Sans, sans-serif" >30'</text>
<text x="837.0" y="293.5" font-size="21" text-anchor="end" font-weight="normal" font-family="Liberation Sans, sans-serif" >36°N</text>
<text x="837.0" y="363.0" font-size="15" text-anchor="end" font-weight="normal" font-family="Liberation Sans, sans-serif" >30'</text>
<text x="837.0" y="436.1" font-size="21" text-anchor="end" font-weight="normal" font-family="Liberation Sans, sans-serif" >35°N</text>
<text x="837.0" y="504.8" font-size="15" text-anchor="end" font-weight="normal" font-family="Liberation Sans, sans-serif" >30'</text>
<text x="837.0" y="577.0" font-size="21" text-anchor="end" font-weight="normal" font-family="Liberation Sans, sans-serif" >34°N</text>
<text x="841.5" y="586.0" font-size="15" text-anchor="middle" font-weight="normal" font-family="Liberation Sans, sans-serif" >30'</text>
<text x="903.5" y="590.8" font-size="21" text-anchor="middle" font-weight="normal" font-family="Liberation Sans, sans-serif" >76°W</text>
<text x="957.5" y="586.0" font-size="15" text-anchor="middle" font-weight="normal" font-family="Liberation Sans, sans-serif" >30'</text>
<text x="1019.5" y="590.8" font-size="21" text-anchor="middle" font-weight="normal" font-family="Liberation Sans, sans-serif" >75°W</text>
<text x="1073.5" y="586.0" font-size="15" text-anchor="middle" font-weight="normal" font-family="Liberation Sans, sans-serif" >30'</text>
<text x="1135.5" y="590.8" font-size="21" text-anchor="middle" font-weight="normal" font-family="Liberation Sans, sans-serif" >74°W</text>
<text x="1189.5" y="586.0" font-size="15" text-anchor="middle" font-weight="normal" font-family="Liberation Sans, sans-serif" >30'</text>
<g transform="translate(843.5,142)">
<g clip-path="url(#pc)">
<path d="M0 72.5H348M0 144.5H348M0 216.5H348M0 287.5H348M0 358.5H348M58.5 0V428M116.5 0V428M174.5 0V428M232.5 0V428M290.5 0V428" stroke="#c8c8c8" stroke-width="1" stroke-dasharray="3 5" fill="none"/>
<g shape-rendering="crispEdges" transform="translate(6.00,0) scale(7.690,1)"><path fill="#00aaff" d="M8 0.0h1v7.3h-1zM17 14.9h1v8.1h-1zM17 22.7h2v8.1h-2zM18 30.5h2v8.1h-2zM17 38.4h3v8.1h-3zM17 46.2h2v8.1h-2zM17 54.0h2v8.0h-2zM16 61.8h4v8.0h-4zM22 61.8h2v8.0h-2zM19 77.3h1v8.0h-1zM23 85.1h1v8.0h-1zM19 92.9h1v8.0h-1zM22 92.9h1v8.0h-1zM23 100.7h1v8.0h-1zM25 100.7h1v8.0h-1zM27 108.4h1v8.0h-1zM28 116.2h1v8.0h-1zM28 123.9h2v8.0h-2zM29 131.7h2v8.0h-2zM29 139.4h1v8.0h-1zM24 147.2h1v8.0h-1zM29 154.9h2v8.0h-2zM28 170.3h1v8.0h-1zM26 178.1h2v8.0h-2zM15 185.8h1v8.0h-1zM28 185.8h3v8.0h-3zM26 193.5h1v8.0h-1zM28 201.2h1v7.9h-1zM26 208.9h1v7.9h-1zM15 216.6h1v7.9h-1zM20 216.6h2v7.9h-2zM24 224.2h1v7.9h-1zM22 231.9h4v7.9h-4zM23 239.6h1v7.9h-1zM25 239.6h1v7.9h-1zM24 247.3h1v7.9h-1zM21 262.6h1v7.9h-1zM23 262.6h1v7.9h-1zM21 270.2h1v7.9h-1zM23 270.2h1v7.9h-1zM12 277.9h2v7.9h-2zM24 277.9h1v7.9h-1zM6 285.5h1v7.9h-1zM23 285.5h1v7.9h-1zM5 293.2h1v7.9h-1zM13 293.2h1v7.9h-1zM25 293.2h1v7.9h-1zM10 300.8h2v7.9h-2zM13 300.8h1v7.9h-1zM16 300.8h1v7.9h-1zM20 300.8h1v7.9h-1zM7 308.4h1v7.9h-1zM12 308.4h1v7.9h-1zM22 308.4h1v7.9h-1zM24 308.4h1v7.9h-1zM22 316.1h1v7.9h-1zM22 323.7h1v7.9h-1zM3 331.3h1v7.9h-1zM21 331.3h2v7.9h-2zM20 338.9h2v7.9h-2zM19 346.5h1v7.8h-1z"/><path fill="#00d4ff" d="M9 0.0h1v7.3h-1zM11 0.0h2v7.3h-2zM13 7.1h1v8.1h-1zM15 22.7h1v8.1h-1zM13 30.5h2v8.1h-2zM16 38.4h1v8.1h-1zM14 46.2h1v8.1h-1zM16 46.2h1v8.1h-1zM15 54.0h2v8.0h-2zM15 61.8h1v8.0h-1zM17 69.6h1v8.0h-1zM12 77.3h1v8.0h-1zM15 77.3h1v8.0h-1zM13 85.1h1v8.0h-1zM15 85.1h1v8.0h-1zM17 92.9h2v8.0h-2zM20 92.9h1v8.0h-1zM18 100.7h2v8.0h-2zM21 100.7h1v8.0h-1zM23 108.4h2v8.0h-2zM26 116.2h1v8.0h-1zM24 131.7h1v8.0h-1zM27 139.4h1v8.0h-1zM25 147.2h2v8.0h-2zM28 147.2h1v8.0h-1zM24 170.3h4v8.0h-4zM25 178.1h1v8.0h-1zM28 178.1h1v8.0h-1zM24 201.2h1v7.9h-1zM21 208.9h1v7.9h-1zM25 208.9h1v7.9h-1zM16 216.6h1v7.9h-1zM23 216.6h1v7.9h-1zM25 216.6h1v7.9h-1zM21 231.9h1v7.9h-1zM21 239.6h1v7.9h-1zM22 270.2h1v7.9h-1zM19 277.9h1v7.9h-1zM12 285.5h1v7.9h-1zM14 293.2h1v7.9h-1zM16 293.2h1v7.9h-1zM23 300.8h1v7.9h-1z"/><path fill="#00ffff" d="M10 0.0h1v7.3h-1zM9 22.7h1v8.1h-1zM13 22.7h2v8.1h-2zM14 54.0h1v8.0h-1zM14 61.8h1v8.0h-1zM14 77.3h1v8.0h-1zM17 77.3h1v8.0h-1zM14 85.1h1v8.0h-1zM13 100.7h1v8.0h-1zM17 100.7h1v8.0h-1zM19 108.4h1v8.0h-1zM24 116.2h1v8.0h-1zM23 123.9h2v8.0h-2zM23 131.7h1v8.0h-1zM27 131.7h1v8.0h-1zM23 162.6h1v8.0h-1zM23 170.3h1v8.0h-1zM21 178.1h1v8.0h-1zM16 193.5h1v8.0h-1zM17 201.2h1v7.9h-1zM19 201.2h1v7.9h-1zM16 208.9h1v7.9h-1zM23 208.9h1v7.9h-1zM18 216.6h1v7.9h-1zM24 216.6h1v7.9h-1zM19 224.2h1v7.9h-1zM20 231.9h1v7.9h-1zM21 247.3h1v7.9h-1zM20 254.9h1v7.9h-1zM20 262.6h1v7.9h-1zM18 270.2h1v7.9h-1zM7 277.9h1v7.9h-1zM17 277.9h1v7.9h-1zM7 285.5h1v7.9h-1zM17 285.5h1v7.9h-1zM22 285.5h1v7.9h-1zM7 293.2h1v7.9h-1z"/><path fill="#0095ff" d="M13 0.0h1v7.3h-1zM12 7.1h1v8.1h-1zM14 7.1h2v8.1h-2zM17 7.1h1v8.1h-1zM16 14.9h1v8.1h-1zM19 22.7h1v8.1h-1zM20 38.4h1v8.1h-1zM21 46.2h2v8.1h-2zM22 54.0h1v8.0h-1zM21 61.8h1v8.0h-1zM19 69.6h2v8.0h-2zM22 69.6h2v8.0h-2zM23 77.3h2v8.0h-2zM20 85.1h2v8.0h-2zM21 92.9h1v8.0h-1zM23 92.9h1v8.0h-1zM26 92.9h1v8.0h-1zM26 100.7h1v8.0h-1zM28 100.7h1v8.0h-1zM30 100.7h1v8.0h-1zM28 108.4h1v8.0h-1zM30 108.4h1v8.0h-1zM29 116.2h1v8.0h-1zM31 116.2h2v8.0h-2zM30 123.9h1v8.0h-1zM32 131.7h1v8.0h-1zM30 139.4h2v8.0h-2zM30 147.2h2v8.0h-2zM28 154.9h1v8.0h-1zM28 162.6h1v8.0h-1zM30 162.6h1v8.0h-1zM29 178.1h2v8.0h-2zM28 193.5h3v8.0h-3zM30 208.9h1v7.9h-1zM26 216.6h1v7.9h-1zM26 231.9h1v7.9h-1zM26 239.6h2v7.9h-2zM25 247.3h2v7.9h-2zM25 254.9h1v7.9h-1zM19 270.2h1v7.9h-1zM24 270.2h1v7.9h-1zM18 285.5h2v7.9h-2zM25 285.5h1v7.9h-1zM6 293.2h1v7.9h-1zM17 293.2h1v7.9h-1zM19 293.2h2v7.9h-2zM17 300.8h1v7.9h-1zM21 300.8h1v7.9h-1zM24 300.8h2v7.9h-2zM5 308.4h1v7.9h-1zM9 308.4h1v7.9h-1zM14 308.4h1v7.9h-1zM9 316.1h1v7.9h-1zM23 316.1h2v7.9h-2zM14 323.7h1v7.9h-1zM23 323.7h1v7.9h-1zM2 331.3h1v7.9h-1zM23 331.3h1v7.9h-1zM22 346.5h1v7.8h-1zM18 354.1h1v7.8h-1z"/><path fill="#0080ff" d="M14 0.0h2v7.3h-2zM8 7.1h1v8.1h-1zM16 7.1h1v8.1h-1zM18 14.9h2v8.1h-2zM21 38.4h1v8.1h-1zM23 38.4h1v8.1h-1zM20 46.2h1v8.1h-1zM23 46.2h1v8.1h-1zM19 54.0h1v8.0h-1zM10 61.8h1v8.0h-1zM20 61.8h1v8.0h-1zM21 69.6h1v8.0h-1zM24 69.6h1v8.0h-1zM20 77.3h1v8.0h-1zM22 77.3h1v8.0h-1zM25 77.3h2v8.0h-2zM11 85.1h1v8.0h-1zM24 85.1h1v8.0h-1zM26 85.1h1v8.0h-1zM12 92.9h1v8.0h-1zM28 92.9h1v8.0h-1zM30 92.9h1v8.0h-1zM27 100.7h1v8.0h-1zM31 100.7h1v8.0h-1zM31 108.4h1v8.0h-1zM33 108.4h1v8.0h-1zM30 116.2h1v8.0h-1zM31 123.9h1v8.0h-1zM33 123.9h1v8.0h-1zM32 139.4h1v8.0h-1zM32 162.6h1v8.0h-1zM30 170.3h2v8.0h-2zM27 208.9h2v7.9h-2zM28 216.6h1v7.9h-1zM26 224.2h1v7.9h-1zM29 239.6h1v7.9h-1zM27 247.3h1v7.9h-1zM24 262.6h2v7.9h-2zM25 277.9h1v7.9h-1zM12 300.8h1v7.9h-1zM15 308.4h2v7.9h-2zM21 308.4h1v7.9h-1zM3 316.1h2v7.9h-2zM6 316.1h3v7.9h-3zM10 316.1h2v7.9h-2zM2 323.7h2v7.9h-2zM20 323.7h1v7.9h-1zM24 323.7h1v7.9h-1zM4 331.3h1v7.9h-1zM20 331.3h1v7.9h-1zM5 338.9h1v7.9h-1zM19 338.9h1v7.9h-1zM22 338.9h1v7.9h-1zM21 346.5h1v7.8h-1zM16 361.7h2v7.8h-2zM19 361.7h1v7.8h-1z"/><path fill="#006aff" d="M16 0.0h1v7.3h-1zM21 7.1h1v8.1h-1zM20 14.9h1v8.1h-1zM20 30.5h2v8.1h-2zM22 38.4h1v8.1h-1zM19 46.2h1v8.1h-1zM20 54.0h2v8.0h-2zM23 54.0h3v8.0h-3zM25 61.8h1v8.0h-1zM25 69.6h2v8.0h-2zM28 69.6h1v8.0h-1zM21 77.3h1v8.0h-1zM22 85.1h1v8.0h-1zM25 85.1h1v8.0h-1zM25 92.9h1v8.0h-1zM27 92.9h1v8.0h-1zM31 92.9h1v8.0h-1zM32 100.7h1v8.0h-1zM32 108.4h1v8.0h-1zM33 116.2h1v8.0h-1zM32 123.9h1v8.0h-1zM34 123.9h1v8.0h-1zM31 131.7h1v8.0h-1zM33 131.7h1v8.0h-1zM32 147.2h1v8.0h-1zM34 147.2h1v8.0h-1zM31 154.9h1v8.0h-1zM35 154.9h1v8.0h-1zM31 185.8h2v8.0h-2zM31 193.5h2v8.0h-2zM15 201.2h1v7.9h-1zM29 201.2h3v7.9h-3zM33 201.2h1v7.9h-1zM29 208.9h1v7.9h-1zM29 216.6h1v7.9h-1zM27 231.9h1v7.9h-1zM28 239.6h1v7.9h-1zM26 254.9h3v7.9h-3zM26 262.6h1v7.9h-1zM29 262.6h1v7.9h-1zM13 270.2h1v7.9h-1zM25 270.2h2v7.9h-2zM26 277.9h1v7.9h-1zM26 285.5h1v7.9h-1zM18 293.2h1v7.9h-1zM18 300.8h2v7.9h-2zM3 308.4h1v7.9h-1zM17 308.4h1v7.9h-1zM25 308.4h1v7.9h-1zM13 316.1h2v7.9h-2zM20 316.1h2v7.9h-2zM25 316.1h1v7.9h-1zM5 323.7h1v7.9h-1zM8 323.7h1v7.9h-1zM13 323.7h1v7.9h-1zM24 331.3h1v7.9h-1zM6 338.9h1v7.9h-1zM18 338.9h1v7.9h-1zM18 346.5h1v7.8h-1zM17 354.1h1v7.8h-1zM19 354.1h4v7.8h-4zM18 361.7h1v7.8h-1zM20 361.7h1v7.8h-1z"/><path fill="#0055ff" d="M17 0.0h1v7.3h-1zM22 0.0h1v7.3h-1zM18 7.1h3v8.1h-3zM23 7.1h1v8.1h-1zM20 22.7h2v8.1h-2zM22 30.5h1v8.1h-1zM24 30.5h1v8.1h-1zM25 38.4h1v8.1h-1zM26 54.0h2v8.0h-2zM24 61.8h1v8.0h-1zM27 61.8h2v8.0h-2zM10 69.6h1v8.0h-1zM27 69.6h1v8.0h-1zM29 69.6h1v8.0h-1zM27 77.3h2v8.0h-2zM27 85.1h1v8.0h-1zM29 85.1h3v8.0h-3zM11 92.9h1v8.0h-1zM29 92.9h1v8.0h-1zM32 92.9h1v8.0h-1zM11 100.7h1v8.0h-1zM34 108.4h1v8.0h-1zM34 116.2h2v8.0h-2zM35 131.7h1v8.0h-1zM33 139.4h2v8.0h-2zM32 154.9h2v8.0h-2zM31 162.6h1v8.0h-1zM33 170.3h2v8.0h-2zM31 178.1h1v8.0h-1zM33 193.5h1v8.0h-1zM32 201.2h1v7.9h-1zM15 208.9h1v7.9h-1zM31 208.9h1v7.9h-1zM27 216.6h1v7.9h-1zM30 216.6h1v7.9h-1zM41 216.6h1v7.9h-1zM27 224.2h2v7.9h-2zM31 224.2h1v7.9h-1zM28 231.9h2v7.9h-2zM30 239.6h1v7.9h-1zM28 247.3h3v7.9h-3zM29 254.9h1v7.9h-1zM32 254.9h1v7.9h-1zM27 262.6h1v7.9h-1zM28 270.2h1v7.9h-1zM27 277.9h2v7.9h-2zM27 285.5h1v7.9h-1zM26 293.2h1v7.9h-1zM4 300.8h2v7.9h-2zM26 300.8h1v7.9h-1zM13 308.4h1v7.9h-1zM19 308.4h2v7.9h-2zM5 316.1h1v7.9h-1zM12 316.1h1v7.9h-1zM15 316.1h1v7.9h-1zM19 316.1h1v7.9h-1zM26 316.1h1v7.9h-1zM4 323.7h1v7.9h-1zM6 323.7h2v7.9h-2zM11 323.7h2v7.9h-2zM19 323.7h1v7.9h-1zM5 331.3h1v7.9h-1zM9 331.3h2v7.9h-2zM19 331.3h1v7.9h-1zM2 338.9h3v7.9h-3zM23 346.5h1v7.8h-1zM15 354.1h2v7.8h-2zM15 361.7h1v7.8h-1zM22 361.7h1v7.8h-1zM17 369.3h1v7.8h-1zM21 369.3h1v7.8h-1zM16 376.9h1v7.8h-1zM18 399.6h1v7.8h-1z"/><path fill="#0040ff" d="M18 0.0h4v7.3h-4zM24 7.1h1v8.1h-1zM21 14.9h3v8.1h-3zM22 22.7h3v8.1h-3zM23 30.5h1v8.1h-1zM26 30.5h1v8.1h-1zM24 38.4h1v8.1h-1zM26 38.4h1v8.1h-1zM24 46.2h1v8.1h-1zM26 46.2h1v8.1h-1zM30 69.6h1v8.0h-1zM29 77.3h3v8.0h-3zM28 85.1h1v8.0h-1zM33 92.9h1v8.0h-1zM33 100.7h1v8.0h-1zM36 116.2h1v8.0h-1zM35 123.9h1v8.0h-1zM34 131.7h1v8.0h-1zM35 139.4h1v8.0h-1zM33 147.2h1v8.0h-1zM36 147.2h1v8.0h-1zM34 154.9h1v8.0h-1zM34 162.6h1v8.0h-1zM32 170.3h1v8.0h-1zM39 170.3h1v8.0h-1zM32 178.1h2v8.0h-2zM33 185.8h1v8.0h-1zM34 193.5h1v8.0h-1zM36 193.5h1v8.0h-1zM39 201.2h1v7.9h-1zM32 208.9h2v7.9h-2zM31 216.6h1v7.9h-1zM39 216.6h1v7.9h-1zM29 224.2h2v7.9h-2zM32 224.2h1v7.9h-1zM40 224.2h1v7.9h-1zM30 231.9h2v7.9h-2zM42 231.9h1v7.9h-1zM31 239.6h2v7.9h-2zM31 247.3h4v7.9h-4zM31 254.9h1v7.9h-1zM33 254.9h1v7.9h-1zM35 254.9h1v7.9h-1zM28 262.6h1v7.9h-1zM30 262.6h2v7.9h-2zM33 262.6h2v7.9h-2zM27 270.2h1v7.9h-1zM32 270.2h1v7.9h-1zM29 277.9h1v7.9h-1zM28 285.5h1v7.9h-1zM27 293.2h1v7.9h-1zM4 308.4h1v7.9h-1zM18 308.4h1v7.9h-1zM2 316.1h1v7.9h-1zM16 316.1h1v7.9h-1zM1 323.7h1v7.9h-1zM9 323.7h2v7.9h-2zM15 323.7h2v7.9h-2zM25 323.7h2v7.9h-2zM6 331.3h3v7.9h-3zM11 331.3h3v7.9h-3zM15 331.3h1v7.9h-1zM11 338.9h3v7.9h-3zM23 338.9h1v7.9h-1zM5 346.5h2v7.8h-2zM17 346.5h1v7.8h-1zM23 354.1h1v7.8h-1zM14 361.7h1v7.8h-1zM21 361.7h1v7.8h-1zM16 369.3h1v7.8h-1zM18 369.3h1v7.8h-1zM17 376.9h1v7.8h-1zM19 392.0h1v7.8h-1zM17 399.6h1v7.8h-1zM18 407.2h1v7.8h-1zM18 414.7h1v7.8h-1z"/><path fill="#002aff" d="M23 0.0h2v7.3h-2zM26 0.0h1v7.3h-1zM22 7.1h1v8.1h-1zM28 7.1h1v8.1h-1zM25 14.9h2v8.1h-2zM25 22.7h1v8.1h-1zM28 22.7h1v8.1h-1zM25 30.5h1v8.1h-1zM28 30.5h1v8.1h-1zM30 30.5h1v8.1h-1zM28 38.4h1v8.1h-1zM30 38.4h1v8.1h-1zM25 46.2h1v8.1h-1zM28 46.2h1v8.1h-1zM30 46.2h1v8.1h-1zM28 54.0h2v8.0h-2zM26 61.8h1v8.0h-1zM29 61.8h1v8.0h-1zM31 69.6h1v8.0h-1zM32 77.3h1v8.0h-1zM32 85.1h1v8.0h-1zM35 85.1h1v8.0h-1zM34 92.9h2v8.0h-2zM34 100.7h1v8.0h-1zM35 108.4h2v8.0h-2zM36 123.9h1v8.0h-1zM36 131.7h1v8.0h-1zM36 139.4h2v8.0h-2zM35 147.2h1v8.0h-1zM37 147.2h1v8.0h-1zM36 154.9h1v8.0h-1zM33 162.6h1v8.0h-1zM35 162.6h2v8.0h-2zM38 162.6h1v8.0h-1zM36 170.3h1v8.0h-1zM34 178.1h1v8.0h-1zM36 178.1h1v8.0h-1zM39 178.1h2v8.0h-2zM34 185.8h1v8.0h-1zM40 185.8h1v8.0h-1zM37 193.5h1v8.0h-1zM39 193.5h1v8.0h-1zM42 193.5h2v8.0h-2zM34 201.2h1v7.9h-1zM36 201.2h1v7.9h-1zM34 208.9h1v7.9h-1zM36 208.9h5v7.9h-5zM43 208.9h1v7.9h-1zM33 216.6h1v7.9h-1zM35 216.6h3v7.9h-3zM42 216.6h1v7.9h-1zM41 224.2h1v7.9h-1zM32 231.9h1v7.9h-1zM39 231.9h2v7.9h-2zM43 231.9h1v7.9h-1zM33 239.6h1v7.9h-1zM30 254.9h1v7.9h-1zM35 262.6h1v7.9h-1zM12 270.2h1v7.9h-1zM29 270.2h3v7.9h-3zM33 270.2h4v7.9h-4zM30 277.9h3v7.9h-3zM36 277.9h1v7.9h-1zM29 285.5h1v7.9h-1zM28 293.2h1v7.9h-1zM30 293.2h1v7.9h-1zM34 293.2h1v7.9h-1zM37 293.2h1v7.9h-1zM27 300.8h2v7.9h-2zM30 300.8h2v7.9h-2zM33 300.8h1v7.9h-1zM36 300.8h1v7.9h-1zM26 308.4h2v7.9h-2zM29 308.4h1v7.9h-1zM36 308.4h2v7.9h-2zM17 316.1h2v7.9h-2zM29 316.1h1v7.9h-1zM17 323.7h2v7.9h-2zM18 331.3h1v7.9h-1zM25 331.3h1v7.9h-1zM9 338.9h1v7.9h-1zM14 338.9h4v7.9h-4zM24 338.9h1v7.9h-1zM4 346.5h1v7.8h-1zM15 346.5h1v7.8h-1zM24 346.5h1v7.8h-1zM35 346.5h1v7.8h-1zM6 354.1h1v7.8h-1zM24 354.1h1v7.8h-1zM24 361.7h1v7.8h-1zM19 369.3h1v7.8h-1zM22 369.3h1v7.8h-1zM14 376.9h1v7.8h-1zM18 376.9h1v7.8h-1zM16 384.5h1v7.8h-1zM20 384.5h1v7.8h-1zM17 392.0h2v7.8h-2zM16 399.6h1v7.8h-1zM19 399.6h1v7.8h-1zM17 414.7h1v7.8h-1z"/><path fill="#0015ff" d="M25 0.0h1v7.3h-1zM27 0.0h2v7.3h-2zM25 7.1h3v8.1h-3zM29 7.1h1v8.1h-1zM24 14.9h1v8.1h-1zM27 14.9h2v8.1h-2zM26 22.7h2v8.1h-2zM27 38.4h1v8.1h-1zM29 38.4h1v8.1h-1zM27 46.2h1v8.1h-1zM31 46.2h1v8.1h-1zM30 54.0h1v8.0h-1zM31 61.8h2v8.0h-2zM32 69.6h2v8.0h-2zM33 77.3h1v8.0h-1zM33 85.1h2v8.0h-2zM35 100.7h3v8.0h-3zM38 108.4h1v8.0h-1zM37 116.2h4v8.0h-4zM38 123.9h1v8.0h-1zM37 131.7h3v8.0h-3zM38 139.4h2v8.0h-2zM39 147.2h1v8.0h-1zM37 154.9h4v8.0h-4zM37 162.6h1v8.0h-1zM39 162.6h1v8.0h-1zM35 170.3h1v8.0h-1zM38 170.3h1v8.0h-1zM40 170.3h2v8.0h-2zM35 178.1h1v8.0h-1zM37 178.1h2v8.0h-2zM41 178.1h1v8.0h-1zM36 185.8h2v8.0h-2zM39 185.8h1v8.0h-1zM43 185.8h1v8.0h-1zM35 193.5h1v8.0h-1zM38 193.5h1v8.0h-1zM40 193.5h2v8.0h-2zM35 201.2h1v7.9h-1zM40 201.2h3v7.9h-3zM44 201.2h1v7.9h-1zM35 208.9h1v7.9h-1zM41 208.9h2v7.9h-2zM44 208.9h1v7.9h-1zM34 216.6h1v7.9h-1zM38 216.6h1v7.9h-1zM40 216.6h1v7.9h-1zM44 216.6h1v7.9h-1zM33 224.2h6v7.9h-6zM42 224.2h3v7.9h-3zM34 231.9h1v7.9h-1zM37 231.9h2v7.9h-2zM41 231.9h1v7.9h-1zM35 239.6h1v7.9h-1zM37 239.6h2v7.9h-2zM41 239.6h3v7.9h-3zM35 247.3h2v7.9h-2zM14 254.9h1v7.9h-1zM34 254.9h1v7.9h-1zM36 254.9h1v7.9h-1zM32 262.6h1v7.9h-1zM36 262.6h2v7.9h-2zM37 270.2h1v7.9h-1zM33 277.9h3v7.9h-3zM30 285.5h1v7.9h-1zM32 285.5h6v7.9h-6zM29 293.2h1v7.9h-1zM31 293.2h3v7.9h-3zM36 293.2h1v7.9h-1zM38 293.2h1v7.9h-1zM34 300.8h2v7.9h-2zM37 300.8h1v7.9h-1zM30 308.4h3v7.9h-3zM34 308.4h2v7.9h-2zM27 316.1h1v7.9h-1zM30 316.1h2v7.9h-2zM36 316.1h1v7.9h-1zM0 331.3h2v7.9h-2zM14 331.3h1v7.9h-1zM16 331.3h1v7.9h-1zM26 331.3h2v7.9h-2zM7 338.9h2v7.9h-2zM10 338.9h1v7.9h-1zM35 338.9h1v7.9h-1zM7 346.5h2v7.8h-2zM11 346.5h1v7.8h-1zM13 346.5h2v7.8h-2zM16 346.5h1v7.8h-1zM3 354.1h3v7.8h-3zM14 354.1h1v7.8h-1zM25 354.1h1v7.8h-1zM2 361.7h5v7.8h-5zM23 361.7h1v7.8h-1zM5 369.3h1v7.8h-1zM15 369.3h1v7.8h-1zM20 369.3h1v7.8h-1zM24 369.3h1v7.8h-1zM3 376.9h1v7.8h-1zM5 376.9h1v7.8h-1zM15 376.9h1v7.8h-1zM19 376.9h2v7.8h-2zM22 376.9h1v7.8h-1zM15 384.5h1v7.8h-1zM17 384.5h3v7.8h-3zM21 384.5h1v7.8h-1zM29 384.5h1v7.8h-1zM15 392.0h2v7.8h-2zM16 407.2h2v7.8h-2zM19 407.2h2v7.8h-2zM16 414.7h1v7.8h-1zM19 414.7h2v7.8h-2zM20 422.3h1v7.8h-1z"/><path fill="#0000ea" d="M29 0.0h2v7.3h-2zM33 0.0h1v7.3h-1zM35 0.0h1v7.3h-1zM30 7.1h4v8.1h-4zM35 7.1h1v8.1h-1zM43 7.1h1v8.1h-1zM30 14.9h1v8.1h-1zM32 14.9h1v8.1h-1zM41 14.9h1v8.1h-1zM40 22.7h2v8.1h-2zM44 22.7h1v8.1h-1zM32 30.5h2v8.1h-2zM40 30.5h1v8.1h-1zM43 30.5h2v8.1h-2zM32 38.4h1v8.1h-1zM39 38.4h2v8.1h-2zM42 38.4h2v8.1h-2zM39 46.2h1v8.1h-1zM41 46.2h1v8.1h-1zM32 54.0h1v8.0h-1zM40 54.0h2v8.0h-2zM44 54.0h1v8.0h-1zM33 61.8h1v8.0h-1zM42 61.8h1v8.0h-1zM44 61.8h1v8.0h-1zM38 69.6h1v8.0h-1zM41 69.6h1v8.0h-1zM44 69.6h1v8.0h-1zM10 77.3h1v8.0h-1zM36 77.3h1v8.0h-1zM39 77.3h1v8.0h-1zM41 77.3h1v8.0h-1zM44 77.3h1v8.0h-1zM10 85.1h1v8.0h-1zM37 85.1h1v8.0h-1zM40 85.1h5v8.0h-5zM37 92.9h1v8.0h-1zM39 92.9h4v8.0h-4zM44 92.9h1v8.0h-1zM39 100.7h1v8.0h-1zM41 100.7h1v8.0h-1zM43 100.7h2v8.0h-2zM39 108.4h1v8.0h-1zM41 108.4h1v8.0h-1zM43 108.4h2v8.0h-2zM41 116.2h1v8.0h-1zM44 116.2h1v8.0h-1zM41 123.9h4v8.0h-4zM44 131.7h1v8.0h-1zM41 139.4h1v8.0h-1zM41 147.2h2v8.0h-2zM44 147.2h1v8.0h-1zM42 154.9h1v8.0h-1zM44 162.6h1v8.0h-1zM43 170.3h1v8.0h-1zM44 178.1h1v8.0h-1zM35 185.8h1v8.0h-1zM37 201.2h1v7.9h-1zM39 224.2h1v7.9h-1zM44 231.9h1v7.9h-1zM39 247.3h2v7.9h-2zM39 254.9h2v7.9h-2zM42 254.9h3v7.9h-3zM10 262.6h1v7.9h-1zM13 262.6h1v7.9h-1zM38 262.6h1v7.9h-1zM40 262.6h5v7.9h-5zM40 270.2h2v7.9h-2zM43 270.2h2v7.9h-2zM39 277.9h2v7.9h-2zM42 277.9h1v7.9h-1zM44 277.9h1v7.9h-1zM39 285.5h3v7.9h-3zM43 285.5h2v7.9h-2zM40 293.2h1v7.9h-1zM42 293.2h1v7.9h-1zM38 300.8h1v7.9h-1zM42 300.8h1v7.9h-1zM40 308.4h1v7.9h-1zM32 316.1h2v7.9h-2zM35 316.1h1v7.9h-1zM38 316.1h2v7.9h-2zM41 316.1h1v7.9h-1zM30 323.7h2v7.9h-2zM33 323.7h3v7.9h-3zM37 323.7h3v7.9h-3zM28 331.3h2v7.9h-2zM31 331.3h1v7.9h-1zM33 331.3h2v7.9h-2zM40 331.3h3v7.9h-3zM0 338.9h1v7.9h-1zM28 338.9h5v7.9h-5zM37 338.9h4v7.9h-4zM2 346.5h1v7.8h-1zM9 346.5h1v7.8h-1zM28 346.5h2v7.8h-2zM31 346.5h1v7.8h-1zM33 346.5h2v7.8h-2zM38 346.5h1v7.8h-1zM10 354.1h1v7.8h-1zM12 354.1h1v7.8h-1zM26 354.1h1v7.8h-1zM29 354.1h1v7.8h-1zM31 354.1h1v7.8h-1zM33 354.1h4v7.8h-4zM8 361.7h1v7.8h-1zM25 361.7h1v7.8h-1zM28 361.7h2v7.8h-2zM31 361.7h1v7.8h-1zM35 361.7h1v7.8h-1zM37 361.7h2v7.8h-2zM0 369.3h3v7.8h-3zM26 369.3h3v7.8h-3zM30 369.3h3v7.8h-3zM37 369.3h1v7.8h-1zM1 376.9h1v7.8h-1zM12 376.9h2v7.8h-2zM24 376.9h5v7.8h-5zM32 376.9h2v7.8h-2zM2 384.5h1v7.8h-1zM13 384.5h1v7.8h-1zM23 384.5h1v7.8h-1zM25 384.5h1v7.8h-1zM27 384.5h1v7.8h-1zM30 384.5h4v7.8h-4zM22 392.0h3v7.8h-3zM26 392.0h1v7.8h-1zM29 392.0h1v7.8h-1zM31 392.0h1v7.8h-1zM13 399.6h3v7.8h-3zM21 399.6h2v7.8h-2zM26 399.6h3v7.8h-3zM24 407.2h1v7.8h-1zM30 407.2h1v7.8h-1zM14 414.7h2v7.8h-2zM21 414.7h2v7.8h-2zM24 414.7h1v7.8h-1zM26 414.7h4v7.8h-4zM21 422.3h5v7.8h-5zM27 422.3h1v7.8h-1zM29 422.3h2v7.8h-2z"/><path fill="#0000bf" d="M31 0.0h1v7.3h-1zM34 0.0h1v7.3h-1zM36 0.0h1v7.3h-1zM38 0.0h4v7.3h-4zM40 7.1h2v8.1h-2zM34 14.9h1v8.1h-1zM36 14.9h1v8.1h-1zM34 22.7h2v8.1h-2zM37 22.7h1v8.1h-1zM34 30.5h1v8.1h-1zM37 30.5h2v8.1h-2zM34 38.4h4v8.1h-4zM34 46.2h1v8.1h-1zM36 46.2h2v8.1h-2zM34 54.0h1v8.0h-1zM37 54.0h1v8.0h-1zM34 61.8h1v8.0h-1zM37 61.8h1v8.0h-1zM41 61.8h1v8.0h-1zM37 69.6h1v8.0h-1zM42 131.7h1v8.0h-1zM44 293.2h1v7.9h-1zM44 300.8h1v7.9h-1zM44 308.4h1v7.9h-1zM44 323.7h1v7.9h-1zM43 331.3h2v7.9h-2zM42 338.9h1v7.9h-1zM0 346.5h1v7.8h-1zM0 354.1h2v7.8h-2zM40 354.1h5v7.8h-5zM0 361.7h1v7.8h-1zM10 361.7h1v7.8h-1zM42 361.7h3v7.8h-3zM10 369.3h1v7.8h-1zM29 369.3h1v7.8h-1zM36 369.3h1v7.8h-1zM7 376.9h1v7.8h-1zM10 376.9h2v7.8h-2zM37 376.9h2v7.8h-2zM40 376.9h1v7.8h-1zM43 376.9h1v7.8h-1zM5 384.5h2v7.8h-2zM8 384.5h4v7.8h-4zM34 384.5h1v7.8h-1zM36 384.5h2v7.8h-2zM39 384.5h1v7.8h-1zM42 384.5h1v7.8h-1zM0 392.0h1v7.8h-1zM2 392.0h1v7.8h-1zM10 392.0h2v7.8h-2zM33 392.0h2v7.8h-2zM36 392.0h3v7.8h-3zM42 392.0h1v7.8h-1zM44 392.0h1v7.8h-1zM3 399.6h1v7.8h-1zM40 399.6h1v7.8h-1zM43 399.6h1v7.8h-1zM11 407.2h1v7.8h-1zM38 407.2h1v7.8h-1zM41 407.2h3v7.8h-3zM12 414.7h2v7.8h-2zM32 414.7h2v7.8h-2zM35 414.7h1v7.8h-1zM38 414.7h4v7.8h-4zM13 422.3h1v7.8h-1zM33 422.3h3v7.8h-3zM38 422.3h1v7.8h-1zM41 422.3h1v7.8h-1z"/><path fill="#0000d4" d="M32 0.0h1v7.3h-1zM42 0.0h2v7.3h-2zM34 7.1h1v8.1h-1zM42 7.1h1v8.1h-1zM44 7.1h1v8.1h-1zM31 14.9h1v8.1h-1zM33 14.9h1v8.1h-1zM40 14.9h1v8.1h-1zM42 14.9h3v8.1h-3zM32 22.7h2v8.1h-2zM39 22.7h1v8.1h-1zM42 22.7h2v8.1h-2zM39 30.5h1v8.1h-1zM42 30.5h1v8.1h-1zM33 38.4h1v8.1h-1zM38 38.4h1v8.1h-1zM41 38.4h1v8.1h-1zM44 38.4h1v8.1h-1zM33 46.2h1v8.1h-1zM38 46.2h1v8.1h-1zM44 46.2h1v8.1h-1zM33 54.0h1v8.0h-1zM38 54.0h1v8.0h-1zM42 54.0h2v8.0h-2zM38 61.8h1v8.0h-1zM40 61.8h1v8.0h-1zM43 61.8h1v8.0h-1zM34 69.6h2v8.0h-2zM39 69.6h2v8.0h-2zM37 77.3h2v8.0h-2zM40 77.3h1v8.0h-1zM42 77.3h1v8.0h-1zM38 85.1h2v8.0h-2zM38 92.9h1v8.0h-1zM43 92.9h1v8.0h-1zM40 100.7h1v8.0h-1zM42 100.7h1v8.0h-1zM42 108.4h1v8.0h-1zM43 116.2h1v8.0h-1zM41 131.7h1v8.0h-1zM42 139.4h2v8.0h-2zM43 147.2h1v8.0h-1zM43 162.6h1v8.0h-1zM42 170.3h1v8.0h-1zM44 170.3h1v8.0h-1zM43 178.1h1v8.0h-1zM44 185.8h1v8.0h-1zM44 247.3h1v7.9h-1zM39 262.6h1v7.9h-1zM39 270.2h1v7.9h-1zM42 270.2h1v7.9h-1zM38 277.9h1v7.9h-1zM43 277.9h1v7.9h-1zM42 285.5h1v7.9h-1zM41 293.2h1v7.9h-1zM43 293.2h1v7.9h-1zM41 300.8h1v7.9h-1zM43 300.8h1v7.9h-1zM39 308.4h1v7.9h-1zM42 308.4h2v7.9h-2zM40 316.1h1v7.9h-1zM42 316.1h1v7.9h-1zM44 316.1h1v7.9h-1zM40 323.7h1v7.9h-1zM42 323.7h2v7.9h-2zM30 331.3h1v7.9h-1zM38 331.3h2v7.9h-2zM27 338.9h1v7.9h-1zM36 338.9h1v7.9h-1zM41 338.9h1v7.9h-1zM30 346.5h1v7.8h-1zM32 346.5h1v7.8h-1zM37 346.5h1v7.8h-1zM39 346.5h4v7.8h-4zM2 354.1h1v7.8h-1zM11 354.1h1v7.8h-1zM27 354.1h2v7.8h-2zM30 354.1h1v7.8h-1zM38 354.1h2v7.8h-2zM1 361.7h1v7.8h-1zM9 361.7h1v7.8h-1zM11 361.7h2v7.8h-2zM27 361.7h1v7.8h-1zM30 361.7h1v7.8h-1zM33 361.7h1v7.8h-1zM36 361.7h1v7.8h-1zM39 361.7h1v7.8h-1zM9 369.3h1v7.8h-1zM11 369.3h2v7.8h-2zM33 369.3h2v7.8h-2zM38 369.3h1v7.8h-1zM0 376.9h1v7.8h-1zM8 376.9h2v7.8h-2zM29 376.9h1v7.8h-1zM31 376.9h1v7.8h-1zM34 376.9h3v7.8h-3zM0 384.5h2v7.8h-2zM4 384.5h1v7.8h-1zM7 384.5h1v7.8h-1zM12 384.5h1v7.8h-1zM24 384.5h1v7.8h-1zM35 384.5h1v7.8h-1zM3 392.0h1v7.8h-1zM12 392.0h1v7.8h-1zM25 392.0h1v7.8h-1zM32 392.0h1v7.8h-1zM11 399.6h2v7.8h-2zM23 399.6h3v7.8h-3zM30 399.6h3v7.8h-3zM12 407.2h3v7.8h-3zM25 407.2h1v7.8h-1zM27 407.2h1v7.8h-1zM29 407.2h1v7.8h-1zM31 407.2h2v7.8h-2zM39 407.2h1v7.8h-1zM23 414.7h1v7.8h-1zM25 414.7h1v7.8h-1zM30 414.7h2v7.8h-2zM14 422.3h2v7.8h-2zM26 422.3h1v7.8h-1zM28 422.3h1v7.8h-1z"/><path fill="#0000aa" d="M37 0.0h1v7.3h-1zM44 0.0h1v7.3h-1zM36 7.1h1v8.1h-1zM38 7.1h2v8.1h-2zM35 14.9h1v8.1h-1zM37 14.9h3v8.1h-3zM36 22.7h1v8.1h-1zM38 22.7h1v8.1h-1zM35 30.5h1v8.1h-1zM35 46.2h1v8.1h-1zM35 54.0h2v8.0h-2zM36 61.8h1v8.0h-1zM36 69.6h1v8.0h-1zM13 254.9h1v7.9h-1zM11 262.6h1v7.9h-1zM43 338.9h2v7.9h-2zM1 346.5h1v7.8h-1zM43 346.5h1v7.8h-1zM40 361.7h2v7.8h-2zM39 369.3h6v7.8h-6zM39 376.9h1v7.8h-1zM41 376.9h2v7.8h-2zM44 376.9h1v7.8h-1zM38 384.5h1v7.8h-1zM40 384.5h2v7.8h-2zM43 384.5h2v7.8h-2zM1 392.0h1v7.8h-1zM4 392.0h1v7.8h-1zM6 392.0h4v7.8h-4zM35 392.0h1v7.8h-1zM39 392.0h3v7.8h-3zM43 392.0h1v7.8h-1zM1 399.6h2v7.8h-2zM33 399.6h7v7.8h-7zM41 399.6h2v7.8h-2zM44 399.6h1v7.8h-1zM3 407.2h1v7.8h-1zM10 407.2h1v7.8h-1zM33 407.2h3v7.8h-3zM37 407.2h1v7.8h-1zM40 407.2h1v7.8h-1zM44 407.2h1v7.8h-1zM0 414.7h1v7.8h-1zM34 414.7h1v7.8h-1zM37 414.7h1v7.8h-1zM42 414.7h3v7.8h-3zM0 422.3h2v7.8h-2zM12 422.3h1v7.8h-1zM31 422.3h2v7.8h-2zM36 422.3h2v7.8h-2zM39 422.3h1v7.8h-1zM42 422.3h3v7.8h-3z"/><path fill="#55ffaa" d="M9 7.1h1v8.1h-1zM10 38.4h1v8.1h-1zM12 38.4h1v8.1h-1zM13 46.2h1v8.1h-1zM12 61.8h1v8.0h-1zM11 69.6h1v8.0h-1zM16 108.4h1v8.0h-1zM12 123.9h1v8.0h-1zM21 123.9h1v8.0h-1zM21 147.2h1v8.0h-1zM22 154.9h1v8.0h-1zM22 162.6h1v8.0h-1zM15 170.3h1v8.0h-1zM20 170.3h1v8.0h-1zM17 178.1h1v8.0h-1zM18 193.5h1v8.0h-1zM21 193.5h2v8.0h-2zM18 239.6h1v7.9h-1zM19 247.3h1v7.9h-1zM14 262.6h1v7.9h-1zM17 262.6h2v7.9h-2z"/><path fill="#80ff80" d="M10 7.1h1v8.1h-1zM11 14.9h1v8.1h-1zM12 54.0h1v8.0h-1zM11 61.8h1v8.0h-1zM15 108.4h1v8.0h-1zM13 123.9h1v8.0h-1zM16 123.9h1v8.0h-1zM18 123.9h1v8.0h-1zM20 139.4h1v8.0h-1zM19 147.2h2v8.0h-2zM20 154.9h2v8.0h-2zM23 154.9h1v8.0h-1zM16 178.1h1v8.0h-1zM18 185.8h2v8.0h-2zM20 193.5h1v8.0h-1zM15 231.9h1v7.9h-1zM9 270.2h1v7.9h-1zM15 270.2h1v7.9h-1zM10 277.9h1v7.9h-1z"/><path fill="#15ffea" d="M11 7.1h1v8.1h-1zM13 38.4h2v8.1h-2zM13 54.0h1v8.0h-1zM12 69.6h3v8.0h-3zM16 100.7h1v8.0h-1zM17 108.4h1v8.0h-1zM20 108.4h1v8.0h-1zM12 116.2h1v8.0h-1zM18 116.2h1v8.0h-1zM20 116.2h1v8.0h-1zM19 123.9h1v8.0h-1zM22 123.9h1v8.0h-1zM24 154.9h1v8.0h-1zM15 162.6h1v8.0h-1zM27 162.6h1v8.0h-1zM19 170.3h1v8.0h-1zM22 178.1h1v8.0h-1zM24 178.1h1v8.0h-1zM23 193.5h1v8.0h-1zM18 201.2h1v7.9h-1zM23 201.2h1v7.9h-1zM17 208.9h1v7.9h-1zM17 216.6h1v7.9h-1zM18 224.2h1v7.9h-1zM20 239.6h1v7.9h-1zM14 270.2h1v7.9h-1zM14 277.9h2v7.9h-2zM10 285.5h2v7.9h-2zM7 300.8h3v7.9h-3z"/><path fill="#000095" d="M37 7.1h1v8.1h-1zM36 30.5h1v8.1h-1zM35 61.8h1v8.0h-1zM44 346.5h1v7.8h-1zM5 392.0h1v7.8h-1zM4 399.6h2v7.8h-2zM7 399.6h4v7.8h-4zM1 407.2h2v7.8h-2zM36 407.2h1v7.8h-1zM1 414.7h2v7.8h-2zM10 414.7h2v7.8h-2zM36 414.7h1v7.8h-1zM11 422.3h1v7.8h-1zM40 422.3h1v7.8h-1z"/><path fill="#aaff55" d="M9 14.9h1v8.1h-1zM10 54.0h1v8.0h-1zM15 116.2h1v8.0h-1zM17 131.7h1v8.0h-1zM20 131.7h1v8.0h-1zM18 139.4h1v8.0h-1zM18 147.2h1v8.0h-1zM14 162.6h1v8.0h-1zM18 162.6h1v8.0h-1zM8 285.5h1v7.9h-1z"/><path fill="#eaff15" d="M10 14.9h1v8.1h-1zM11 54.0h1v8.0h-1zM16 131.7h1v8.0h-1zM17 154.9h1v8.0h-1zM16 170.3h1v8.0h-1zM17 254.9h1v7.9h-1zM15 262.6h2v7.9h-2zM9 285.5h1v7.9h-1z"/><path fill="#00bfff" d="M12 14.9h2v8.1h-2zM15 14.9h1v8.1h-1zM16 22.7h1v8.1h-1zM15 30.5h3v8.1h-3zM15 38.4h1v8.1h-1zM15 69.6h2v8.0h-2zM18 69.6h1v8.0h-1zM16 77.3h1v8.0h-1zM18 77.3h1v8.0h-1zM12 85.1h1v8.0h-1zM19 85.1h1v8.0h-1zM24 92.9h1v8.0h-1zM12 100.7h1v8.0h-1zM22 100.7h1v8.0h-1zM24 100.7h1v8.0h-1zM29 100.7h1v8.0h-1zM21 108.4h1v8.0h-1zM26 108.4h1v8.0h-1zM29 108.4h1v8.0h-1zM27 116.2h1v8.0h-1zM25 123.9h1v8.0h-1zM27 123.9h1v8.0h-1zM25 131.7h1v8.0h-1zM28 131.7h1v8.0h-1zM28 139.4h1v8.0h-1zM27 147.2h1v8.0h-1zM29 147.2h1v8.0h-1zM29 162.6h1v8.0h-1zM29 170.3h1v8.0h-1zM26 185.8h2v8.0h-2zM15 193.5h1v8.0h-1zM16 201.2h1v7.9h-1zM25 201.2h3v7.9h-3zM22 208.9h1v7.9h-1zM22 216.6h1v7.9h-1zM20 224.2h1v7.9h-1zM23 224.2h1v7.9h-1zM25 224.2h1v7.9h-1zM24 239.6h1v7.9h-1zM22 247.3h2v7.9h-2zM21 254.9h4v7.9h-4zM22 262.6h1v7.9h-1zM20 270.2h1v7.9h-1zM18 277.9h1v7.9h-1zM23 277.9h1v7.9h-1zM20 285.5h2v7.9h-2zM11 293.2h2v7.9h-2zM21 293.2h1v7.9h-1zM23 293.2h2v7.9h-2zM6 300.8h1v7.9h-1zM14 300.8h2v7.9h-2zM6 308.4h1v7.9h-1zM10 308.4h2v7.9h-2zM23 308.4h1v7.9h-1zM21 323.7h1v7.9h-1zM20 346.5h1v7.8h-1z"/><path fill="#00eaff" d="M14 14.9h1v8.1h-1zM12 22.7h1v8.1h-1zM9 46.2h1v8.1h-1zM15 46.2h1v8.1h-1zM11 77.3h1v8.0h-1zM13 77.3h1v8.0h-1zM16 85.1h3v8.0h-3zM13 92.9h2v8.0h-2zM16 92.9h1v8.0h-1zM20 100.7h1v8.0h-1zM12 108.4h1v8.0h-1zM22 108.4h1v8.0h-1zM25 108.4h1v8.0h-1zM22 116.2h2v8.0h-2zM25 116.2h1v8.0h-1zM26 123.9h1v8.0h-1zM26 131.7h1v8.0h-1zM23 139.4h1v8.0h-1zM25 139.4h2v8.0h-2zM23 147.2h1v8.0h-1zM25 154.9h3v8.0h-3zM25 162.6h2v8.0h-2zM23 178.1h1v8.0h-1zM24 185.8h2v8.0h-2zM24 193.5h2v8.0h-2zM27 193.5h1v8.0h-1zM22 201.2h1v7.9h-1zM18 208.9h1v7.9h-1zM20 208.9h1v7.9h-1zM24 208.9h1v7.9h-1zM19 216.6h1v7.9h-1zM21 224.2h2v7.9h-2zM22 239.6h1v7.9h-1zM8 270.2h1v7.9h-1zM10 270.2h1v7.9h-1zM11 277.9h1v7.9h-1zM20 277.9h3v7.9h-3zM13 285.5h4v7.9h-4zM24 285.5h1v7.9h-1zM15 293.2h1v7.9h-1zM22 293.2h1v7.9h-1zM22 300.8h1v7.9h-1zM8 308.4h1v7.9h-1z"/><path fill="#0000ff" d="M29 14.9h1v8.1h-1zM29 22.7h3v8.1h-3zM27 30.5h1v8.1h-1zM29 30.5h1v8.1h-1zM31 30.5h1v8.1h-1zM41 30.5h1v8.1h-1zM31 38.4h1v8.1h-1zM29 46.2h1v8.1h-1zM32 46.2h1v8.1h-1zM40 46.2h1v8.1h-1zM42 46.2h2v8.1h-2zM31 54.0h1v8.0h-1zM39 54.0h1v8.0h-1zM30 61.8h1v8.0h-1zM39 61.8h1v8.0h-1zM42 69.6h2v8.0h-2zM34 77.3h2v8.0h-2zM43 77.3h1v8.0h-1zM36 85.1h1v8.0h-1zM36 92.9h1v8.0h-1zM38 100.7h1v8.0h-1zM37 108.4h1v8.0h-1zM40 108.4h1v8.0h-1zM42 116.2h1v8.0h-1zM37 123.9h1v8.0h-1zM39 123.9h2v8.0h-2zM40 131.7h1v8.0h-1zM43 131.7h1v8.0h-1zM40 139.4h1v8.0h-1zM44 139.4h1v8.0h-1zM38 147.2h1v8.0h-1zM40 147.2h1v8.0h-1zM41 154.9h1v8.0h-1zM43 154.9h2v8.0h-2zM40 162.6h3v8.0h-3zM37 170.3h1v8.0h-1zM42 178.1h1v8.0h-1zM38 185.8h1v8.0h-1zM41 185.8h2v8.0h-2zM44 193.5h1v8.0h-1zM38 201.2h1v7.9h-1zM43 201.2h1v7.9h-1zM32 216.6h1v7.9h-1zM43 216.6h1v7.9h-1zM33 231.9h1v7.9h-1zM35 231.9h2v7.9h-2zM34 239.6h1v7.9h-1zM36 239.6h1v7.9h-1zM39 239.6h2v7.9h-2zM44 239.6h1v7.9h-1zM37 247.3h2v7.9h-2zM41 247.3h3v7.9h-3zM37 254.9h2v7.9h-2zM41 254.9h1v7.9h-1zM11 270.2h1v7.9h-1zM38 270.2h1v7.9h-1zM37 277.9h1v7.9h-1zM41 277.9h1v7.9h-1zM31 285.5h1v7.9h-1zM38 285.5h1v7.9h-1zM35 293.2h1v7.9h-1zM39 293.2h1v7.9h-1zM29 300.8h1v7.9h-1zM32 300.8h1v7.9h-1zM39 300.8h2v7.9h-2zM28 308.4h1v7.9h-1zM33 308.4h1v7.9h-1zM38 308.4h1v7.9h-1zM41 308.4h1v7.9h-1zM28 316.1h1v7.9h-1zM34 316.1h1v7.9h-1zM37 316.1h1v7.9h-1zM43 316.1h1v7.9h-1zM27 323.7h3v7.9h-3zM32 323.7h1v7.9h-1zM36 323.7h1v7.9h-1zM41 323.7h1v7.9h-1zM17 331.3h1v7.9h-1zM32 331.3h1v7.9h-1zM35 331.3h3v7.9h-3zM1 338.9h1v7.9h-1zM25 338.9h2v7.9h-2zM33 338.9h2v7.9h-2zM3 346.5h1v7.8h-1zM10 346.5h1v7.8h-1zM12 346.5h1v7.8h-1zM25 346.5h3v7.8h-3zM36 346.5h1v7.8h-1zM7 354.1h3v7.8h-3zM13 354.1h1v7.8h-1zM32 354.1h1v7.8h-1zM37 354.1h1v7.8h-1zM7 361.7h1v7.8h-1zM13 361.7h1v7.8h-1zM26 361.7h1v7.8h-1zM32 361.7h1v7.8h-1zM34 361.7h1v7.8h-1zM3 369.3h2v7.8h-2zM6 369.3h3v7.8h-3zM13 369.3h2v7.8h-2zM23 369.3h1v7.8h-1zM25 369.3h1v7.8h-1zM35 369.3h1v7.8h-1zM2 376.9h1v7.8h-1zM4 376.9h1v7.8h-1zM6 376.9h1v7.8h-1zM21 376.9h1v7.8h-1zM23 376.9h1v7.8h-1zM30 376.9h1v7.8h-1zM3 384.5h1v7.8h-1zM14 384.5h1v7.8h-1zM22 384.5h1v7.8h-1zM26 384.5h1v7.8h-1zM28 384.5h1v7.8h-1zM13 392.0h2v7.8h-2zM20 392.0h2v7.8h-2zM27 392.0h2v7.8h-2zM30 392.0h1v7.8h-1zM20 399.6h1v7.8h-1zM29 399.6h1v7.8h-1zM15 407.2h1v7.8h-1zM21 407.2h3v7.8h-3zM26 407.2h1v7.8h-1zM28 407.2h1v7.8h-1zM16 422.3h4v7.8h-4z"/><path fill="#40ffbf" d="M10 22.7h1v8.1h-1zM9 30.5h1v8.1h-1zM11 30.5h1v8.1h-1zM14 100.7h1v8.0h-1zM13 116.2h1v8.0h-1zM19 116.2h1v8.0h-1zM21 116.2h1v8.0h-1zM21 131.7h1v8.0h-1zM21 139.4h1v8.0h-1zM22 147.2h1v8.0h-1zM16 185.8h1v8.0h-1zM21 185.8h3v8.0h-3zM19 193.5h1v8.0h-1zM19 231.9h1v7.9h-1z"/><path fill="#2bffd4" d="M11 22.7h1v8.1h-1zM12 30.5h1v8.1h-1zM9 38.4h1v8.1h-1zM13 61.8h1v8.0h-1zM15 92.9h1v8.0h-1zM15 100.7h1v8.0h-1zM13 108.4h1v8.0h-1zM18 108.4h1v8.0h-1zM17 116.2h1v8.0h-1zM20 123.9h1v8.0h-1zM22 131.7h1v8.0h-1zM22 139.4h1v8.0h-1zM24 139.4h1v8.0h-1zM24 162.6h1v8.0h-1zM21 170.3h2v8.0h-2zM15 178.1h1v8.0h-1zM17 193.5h1v8.0h-1zM20 201.2h2v7.9h-2zM19 208.9h1v7.9h-1zM15 224.2h1v7.9h-1zM17 224.2h1v7.9h-1zM20 247.3h1v7.9h-1zM19 254.9h1v7.9h-1zM19 262.6h1v7.9h-1zM17 270.2h1v7.9h-1zM16 277.9h1v7.9h-1zM8 293.2h1v7.9h-1zM10 293.2h1v7.9h-1z"/><path fill="#6aff95" d="M10 30.5h1v8.1h-1zM17 123.9h1v8.0h-1zM19 131.7h1v8.0h-1zM21 162.6h1v8.0h-1zM19 178.1h2v8.0h-2zM17 185.8h1v8.0h-1zM20 185.8h1v8.0h-1zM16 224.2h1v7.9h-1zM18 231.9h1v7.9h-1zM19 239.6h1v7.9h-1zM9 293.2h1v7.9h-1z"/><path fill="#95ff6a" d="M11 38.4h1v8.1h-1zM12 46.2h1v8.1h-1zM14 108.4h1v8.0h-1zM14 116.2h1v8.0h-1zM18 131.7h1v8.0h-1zM19 139.4h1v8.0h-1zM19 162.6h2v8.0h-2zM18 247.3h1v7.9h-1zM18 254.9h1v7.9h-1zM16 270.2h1v7.9h-1z"/><path fill="#ffea00" d="M10 46.2h1v8.1h-1zM15 123.9h1v8.0h-1zM14 131.7h2v8.0h-2zM17 139.4h1v8.0h-1zM17 147.2h1v8.0h-1zM17 162.6h1v8.0h-1zM17 231.9h1v7.9h-1zM17 239.6h1v7.9h-1zM14 247.3h1v7.9h-1zM17 247.3h1v7.9h-1zM8 277.9h1v7.9h-1z"/><path fill="#ffaa00" d="M11 46.2h1v8.1h-1zM16 154.9h1v8.0h-1zM16 162.6h1v8.0h-1zM16 231.9h1v7.9h-1zM9 277.9h1v7.9h-1z"/><path fill="#bfff40" d="M16 116.2h1v8.0h-1zM14 123.9h1v8.0h-1zM13 131.7h1v8.0h-1zM18 154.9h2v8.0h-2zM17 170.3h2v8.0h-2zM18 178.1h1v8.0h-1z"/><path fill="#ffff00" d="M13 139.4h1v8.0h-1z"/><path fill="#ff5500" d="M14 139.4h1v8.0h-1zM14 147.2h1v8.0h-1zM15 239.6h1v7.9h-1zM16 254.9h1v7.9h-1z"/><path fill="#ff1500" d="M15 139.4h1v8.0h-1zM15 154.9h1v8.0h-1zM16 239.6h1v7.9h-1zM15 247.3h1v7.9h-1zM15 254.9h1v7.9h-1z"/><path fill="#ff8000" d="M16 139.4h1v8.0h-1zM16 147.2h1v8.0h-1zM14 154.9h1v8.0h-1z"/><path fill="#800000" d="M15 147.2h1v8.0h-1z"/><path fill="#aa0000" d="M16 247.3h1v7.9h-1z"/><path fill="#000080" d="M11 254.9h2v7.9h-2zM12 262.6h1v7.9h-1zM0 399.6h1v7.8h-1zM6 399.6h1v7.8h-1zM0 407.2h1v7.8h-1zM4 407.2h6v7.8h-6zM3 414.7h7v7.8h-7zM2 422.3h9v7.8h-9z"/></g><path d="M7.4 370.0l13.8 -4.2l10.6 -5.3l2.1 -6.4l-6.4 -3.2M7.4 389.1l7.4 2.1M28.6 396.6l9.5 7.4l7.4 -9.5l13.8 -3.2l12.7 7.4l4.2 5.3l17.0 -3.2l6.4 4.2l4.2 10.6l3.2 12.3M93.3 370.0l5.3 5.3l-5.3 4.2M327.7 356.3l3.2 5.3l-6.4 0.0l3.2 -5.3M320.3 392.3l6.4 -6.4l10.6 -1.1l4.2 9.5M314.0 415.6l8.5 -7.4l10.6 2.1l6.4 8.5M290.6 0.0l6.4 7.4l23.3 0.0l7.4 -7.4M337.3 6.4l-10.6 10.6l-2.1 6.4M267.3 61.5l8.5 -3.2l7.4 4.2l-1.1 8.5l-8.5 1.1l-6.4 -10.6M335.2 45.6l8.5 4.2M269.4 35.0l6.4 -3.2l2.1 4.2" stroke="#000" stroke-width="1.15" fill="none" stroke-linejoin="round"/><text transform="translate(19.1,348.8) rotate(-30)" font-size="12.5" text-anchor="middle" font-family="Liberation Sans, sans-serif" stroke="#fff" stroke-width="0" dy="4">3</text><text transform="translate(93.3,376.4) rotate(60)" font-size="12.5" text-anchor="middle" font-family="Liberation Sans, sans-serif" stroke="#fff" stroke-width="0" dy="4">3</text><text transform="translate(22.3,393.4) rotate(-20)" font-size="12.5" text-anchor="middle" font-family="Liberation Sans, sans-serif" stroke="#fff" stroke-width="0" dy="4">3</text><text transform="translate(327.7,367.9) rotate(0)" font-size="12.5" text-anchor="middle" font-family="Liberation Sans, sans-serif" stroke="#fff" stroke-width="0" dy="4">3</text><text transform="translate(340.5,376.4) rotate(60)" font-size="12.5" text-anchor="middle" font-family="Liberation Sans, sans-serif" stroke="#fff" stroke-width="0" dy="4">3</text><text transform="translate(335.2,400.8) rotate(50)" font-size="12.5" text-anchor="middle" font-family="Liberation Sans, sans-serif" stroke="#fff" stroke-width="0" dy="4">3</text><text transform="translate(327.7,423.1) rotate(50)" font-size="12.5" text-anchor="middle" font-family="Liberation Sans, sans-serif" stroke="#fff" stroke-width="0" dy="4">3</text><text transform="translate(301.2,424.1) rotate(30)" font-size="12.5" text-anchor="middle" font-family="Liberation Sans, sans-serif" stroke="#fff" stroke-width="0" dy="4">3</text><text transform="translate(287.4,22.3) rotate(30)" font-size="12.5" text-anchor="middle" font-family="Liberation Sans, sans-serif" stroke="#fff" stroke-width="0" dy="4">3</text><text transform="translate(271.5,39.2) rotate(60)" font-size="12.5" text-anchor="middle" font-family="Liberation Sans, sans-serif" stroke="#fff" stroke-width="0" dy="4">3</text><text transform="translate(332.0,40.3) rotate(50)" font-size="12.5" text-anchor="middle" font-family="Liberation Sans, sans-serif" stroke="#fff" stroke-width="0" dy="4">3</text><text transform="translate(274.3,75.3) rotate(0)" font-size="12.5" text-anchor="middle" font-family="Liberation Sans, sans-serif" stroke="#fff" stroke-width="0" dy="4">3</text><text transform="translate(95.5,268.2) rotate(10)" font-size="12.5" text-anchor="middle" font-family="Liberation Sans, sans-serif" stroke="#fff" stroke-width="0" dy="4">3</text>
<use href="#land"/><use href="#lg"/>
<path d="M59.8 46.5L73.8 46.5M61.9 41.6L71.7 51.4M66.8 39.5L66.8 53.5M71.7 41.6L61.9 51.4" stroke="#ff1a1a" stroke-width="1" fill="none"/>
<path d="M97.4 157.0L111.4 157.0M99.5 152.1L109.3 161.9M104.4 150.0L104.4 164.0M109.3 152.1L99.5 161.9" stroke="#ff1a1a" stroke-width="1" fill="none"/>
<path d="M106.8 250.3L120.8 250.3M108.9 245.4L118.7 255.2M113.8 243.3L113.8 257.3M118.7 245.4L108.9 255.2" stroke="#ff1a1a" stroke-width="1" fill="none"/>
<path d="M55.4 272.3L69.4 272.3M57.5 267.4L67.3 277.2M62.4 265.3L62.4 279.3M67.3 267.4L57.5 277.2" stroke="#ff1a1a" stroke-width="1" fill="none"/>
<path d="M3.3 320.7L17.3 320.7M5.4 315.8L15.2 325.6M10.3 313.7L10.3 327.7M15.2 315.8L5.4 325.6" stroke="#ff1a1a" stroke-width="1" fill="none"/>
</g>
<path d="M0 72.5h4M348 72.5h-4M0 144.5h4M348 144.5h-4M0 216.5h4M348 216.5h-4M0 287.5h4M348 287.5h-4M0 358.5h4M348 358.5h-4M58.5 0v4M58.5 428v-4M116.5 0v4M116.5 428v-4M174.5 0v4M174.5 428v-4M232.5 0v4M232.5 428v-4M290.5 0v4M290.5 428v-4" stroke="#222" stroke-width="1" fill="none"/>
<rect x="0" y="0" width="348" height="428" fill="none" stroke="#000" stroke-width="1.2"/>
<rect x="4.5" y="20.9" width="112" height="24.5" fill="url(#jet)" stroke="#222" stroke-width="1"/>
<text x="174.0" y="-12.0" font-size="20.6" text-anchor="middle" font-weight="bold" font-family="Liberation Sans, sans-serif" >Number of Rads (3)</text><text x="3.5" y="7.8" font-size="21" text-anchor="middle" font-weight="normal" font-family="Liberation Sans, sans-serif" >0</text><text x="95.0" y="7.8" font-size="21" text-anchor="middle" font-weight="normal" font-family="Liberation Sans, sans-serif" >50</text><text x="314.0" y="37.8" font-size="21" text-anchor="middle" font-weight="normal" font-family="Liberation Sans, sans-serif" >10 km</text><path d="M306.5 44.1h11.5" stroke="#000" stroke-width="4" stroke-linecap="round"/>
</g>
<text x="1220.5" y="149.0" font-size="21" text-anchor="end" font-weight="normal" font-family="Liberation Sans, sans-serif" >37°N</text>
<text x="1220.5" y="219.5" font-size="15" text-anchor="end" font-weight="normal" font-family="Liberation Sans, sans-serif" >30'</text>
<text x="1220.5" y="293.5" font-size="21" text-anchor="end" font-weight="normal" font-family="Liberation Sans, sans-serif" >36°N</text>
<text x="1220.5" y="363.0" font-size="15" text-anchor="end" font-weight="normal" font-family="Liberation Sans, sans-serif" >30'</text>
<text x="1220.5" y="436.1" font-size="21" text-anchor="end" font-weight="normal" font-family="Liberation Sans, sans-serif" >35°N</text>
<text x="1220.5" y="504.8" font-size="15" text-anchor="end" font-weight="normal" font-family="Liberation Sans, sans-serif" >30'</text>
<text x="1220.5" y="577.0" font-size="21" text-anchor="end" font-weight="normal" font-family="Liberation Sans, sans-serif" >34°N</text>
<text x="1225.0" y="586.0" font-size="15" text-anchor="middle" font-weight="normal" font-family="Liberation Sans, sans-serif" >30'</text>
<text x="1287.0" y="590.8" font-size="21" text-anchor="middle" font-weight="normal" font-family="Liberation Sans, sans-serif" >76°W</text>
<text x="1341.0" y="586.0" font-size="15" text-anchor="middle" font-weight="normal" font-family="Liberation Sans, sans-serif" >30'</text>
<text x="1403.0" y="590.8" font-size="21" text-anchor="middle" font-weight="normal" font-family="Liberation Sans, sans-serif" >75°W</text>
<text x="1457.0" y="586.0" font-size="15" text-anchor="middle" font-weight="normal" font-family="Liberation Sans, sans-serif" >30'</text>
<text x="1519.0" y="590.8" font-size="21" text-anchor="middle" font-weight="normal" font-family="Liberation Sans, sans-serif" >74°W</text>
<text x="1573.0" y="586.0" font-size="15" text-anchor="middle" font-weight="normal" font-family="Liberation Sans, sans-serif" >30'</text>
<g transform="translate(1227,142)">
<g clip-path="url(#pc)">
<path d="M0 72.5H348M0 144.5H348M0 216.5H348M0 287.5H348M0 358.5H348M58.5 0V428M116.5 0V428M174.5 0V428M232.5 0V428M290.5 0V428" stroke="#c8c8c8" stroke-width="1" stroke-dasharray="3 5" fill="none"/>
<g shape-rendering="crispEdges" transform="translate(6.00,0) scale(7.690,1)"><path fill="#8cff73" d="M8 0.0h27v7.3h-27zM36 0.0h2v7.3h-2zM8 7.1h21v8.1h-21zM31 7.1h4v8.1h-4zM36 7.1h2v8.1h-2zM39 7.1h1v8.1h-1zM9 14.9h21v8.1h-21zM32 14.9h1v8.1h-1zM34 14.9h2v8.1h-2zM38 14.9h2v8.1h-2zM9 22.7h12v8.1h-12zM26 22.7h5v8.1h-5zM33 22.7h3v8.1h-3zM37 22.7h4v8.1h-4zM9 30.5h15v8.1h-15zM28 30.5h4v8.1h-4zM33 30.5h1v8.1h-1zM36 30.5h6v8.1h-6zM9 38.4h11v8.1h-11zM30 38.4h6v8.1h-6zM38 38.4h5v8.1h-5zM9 46.2h9v8.1h-9zM25 46.2h1v8.1h-1zM32 46.2h2v8.1h-2zM35 46.2h1v8.1h-1zM38 46.2h7v8.1h-7zM10 54.0h7v8.0h-7zM27 54.0h1v8.0h-1zM34 54.0h11v8.0h-11zM10 61.8h7v8.0h-7zM29 61.8h1v8.0h-1zM35 61.8h10v8.0h-10zM10 69.6h8v8.0h-8zM19 69.6h1v8.0h-1zM36 69.6h9v8.0h-9zM10 77.3h12v8.0h-12zM35 77.3h10v8.0h-10zM11 85.1h12v8.0h-12zM35 85.1h10v8.0h-10zM11 92.9h13v8.0h-13zM35 92.9h10v8.0h-10zM11 100.7h9v8.0h-9zM34 100.7h11v8.0h-11zM12 108.4h4v8.0h-4zM34 108.4h11v8.0h-11zM12 116.2h4v8.0h-4zM34 116.2h11v8.0h-11zM13 123.9h3v8.0h-3zM34 123.9h11v8.0h-11zM13 131.7h2v8.0h-2zM33 131.7h12v8.0h-12zM13 139.4h2v8.0h-2zM33 139.4h12v8.0h-12zM14 147.2h1v8.0h-1zM33 147.2h12v8.0h-12zM14 154.9h1v8.0h-1zM32 154.9h13v8.0h-13zM15 162.6h1v8.0h-1zM31 162.6h14v8.0h-14zM15 170.3h1v8.0h-1zM30 170.3h15v8.0h-15zM15 178.1h2v8.0h-2zM30 178.1h15v8.0h-15zM15 185.8h3v8.0h-3zM29 185.8h16v8.0h-16zM15 193.5h3v8.0h-3zM29 193.5h16v8.0h-16zM15 201.2h4v7.9h-4zM28 201.2h17v7.9h-17zM15 208.9h4v7.9h-4zM27 208.9h18v7.9h-18zM16 216.6h3v7.9h-3zM22 216.6h1v7.9h-1zM27 216.6h18v7.9h-18zM15 224.2h2v7.9h-2zM19 224.2h5v7.9h-5zM27 224.2h18v7.9h-18zM15 231.9h2v7.9h-2zM19 231.9h5v7.9h-5zM28 231.9h17v7.9h-17zM15 239.6h9v7.9h-9zM29 239.6h16v7.9h-16zM15 247.3h3v7.9h-3zM20 247.3h1v7.9h-1zM24 247.3h1v7.9h-1zM28 247.3h17v7.9h-17zM15 254.9h3v7.9h-3zM20 254.9h1v7.9h-1zM24 254.9h20v7.9h-20zM13 262.6h3v7.9h-3zM19 262.6h1v7.9h-1zM24 262.6h19v7.9h-19zM8 270.2h3v7.9h-3zM13 270.2h5v7.9h-5zM19 270.2h2v7.9h-2zM29 270.2h14v7.9h-14zM9 277.9h1v7.9h-1zM13 277.9h6v7.9h-6zM29 277.9h13v7.9h-13zM14 285.5h6v7.9h-6zM29 285.5h12v7.9h-12zM13 293.2h6v7.9h-6zM30 293.2h10v7.9h-10zM8 300.8h3v7.9h-3zM13 300.8h5v7.9h-5zM19 300.8h1v7.9h-1zM30 300.8h10v7.9h-10zM3 308.4h3v7.9h-3zM8 308.4h3v7.9h-3zM13 308.4h5v7.9h-5zM19 308.4h1v7.9h-1zM29 308.4h11v7.9h-11zM4 316.1h3v7.9h-3zM8 316.1h3v7.9h-3zM12 316.1h8v7.9h-8zM30 316.1h11v7.9h-11zM2 323.7h2v7.9h-2zM5 323.7h1v7.9h-1zM12 323.7h5v7.9h-5zM18 323.7h2v7.9h-2zM26 323.7h1v7.9h-1zM28 323.7h2v7.9h-2zM32 323.7h9v7.9h-9zM1 331.3h6v7.9h-6zM12 331.3h7v7.9h-7zM27 331.3h1v7.9h-1zM30 331.3h2v7.9h-2zM34 331.3h7v7.9h-7zM2 338.9h5v7.9h-5zM13 338.9h6v7.9h-6zM26 338.9h6v7.9h-6zM33 338.9h6v7.9h-6zM5 346.5h3v7.8h-3zM12 346.5h7v7.8h-7zM26 346.5h5v7.8h-5zM32 346.5h6v7.8h-6zM4 354.1h1v7.8h-1zM7 354.1h4v7.8h-4zM12 354.1h7v7.8h-7zM24 354.1h7v7.8h-7zM32 354.1h5v7.8h-5zM2 361.7h3v7.8h-3zM7 361.7h3v7.8h-3zM12 361.7h6v7.8h-6zM22 361.7h9v7.8h-9zM32 361.7h4v7.8h-4zM1 369.3h5v7.8h-5zM12 369.3h6v7.8h-6zM20 369.3h9v7.8h-9zM31 369.3h4v7.8h-4zM2 376.9h4v7.8h-4zM12 376.9h9v7.8h-9zM22 376.9h7v7.8h-7zM31 376.9h3v7.8h-3zM12 384.5h8v7.8h-8zM23 384.5h6v7.8h-6zM31 384.5h1v7.8h-1zM4 392.0h1v7.8h-1zM9 392.0h2v7.8h-2zM12 392.0h3v7.8h-3zM17 392.0h3v7.8h-3zM23 392.0h7v7.8h-7zM3 399.6h2v7.8h-2zM9 399.6h3v7.8h-3zM16 399.6h4v7.8h-4zM22 399.6h8v7.8h-8zM9 407.2h2v7.8h-2zM15 407.2h8v7.8h-8zM24 407.2h5v7.8h-5zM4 414.7h1v7.8h-1zM14 414.7h10v7.8h-10zM25 414.7h4v7.8h-4zM13 422.3h11v7.8h-11zM25 422.3h4v7.8h-4z"/><path fill="#ff7800" d="M35 0.0h1v7.3h-1zM35 7.1h1v8.1h-1zM36 14.9h1v8.1h-1zM23 22.7h3v8.1h-3zM36 22.7h1v8.1h-1zM24 30.5h4v8.1h-4zM20 38.4h10v8.1h-10zM36 38.4h2v8.1h-2zM18 46.2h7v8.1h-7zM26 46.2h6v8.1h-6zM34 46.2h1v8.1h-1zM36 46.2h2v8.1h-2zM17 54.0h10v8.0h-10zM28 54.0h6v8.0h-6zM17 61.8h12v8.0h-12zM30 61.8h5v8.0h-5zM18 69.6h1v8.0h-1zM20 69.6h15v8.0h-15zM22 77.3h13v8.0h-13zM23 85.1h12v8.0h-12zM24 92.9h11v8.0h-11zM20 100.7h14v8.0h-14zM16 108.4h18v8.0h-18zM16 116.2h18v8.0h-18zM16 123.9h18v8.0h-18zM15 131.7h18v8.0h-18zM15 139.4h18v8.0h-18zM15 147.2h18v8.0h-18zM15 154.9h17v8.0h-17zM16 162.6h15v8.0h-15zM16 170.3h14v8.0h-14zM17 178.1h13v8.0h-13zM18 185.8h11v8.0h-11zM18 193.5h11v8.0h-11zM19 201.2h9v7.9h-9zM19 208.9h5v7.9h-5zM20 216.6h2v7.9h-2zM23 216.6h1v7.9h-1zM26 216.6h1v7.9h-1zM24 224.2h3v7.9h-3zM24 231.9h4v7.9h-4zM24 239.6h5v7.9h-5zM18 247.3h2v7.9h-2zM21 247.3h3v7.9h-3zM25 247.3h3v7.9h-3zM18 254.9h2v7.9h-2zM21 254.9h3v7.9h-3zM18 262.6h1v7.9h-1zM20 262.6h1v7.9h-1zM23 262.6h1v7.9h-1zM23 270.2h3v7.9h-3zM27 270.2h2v7.9h-2zM23 277.9h3v7.9h-3zM27 277.9h2v7.9h-2zM24 285.5h2v7.9h-2zM28 285.5h1v7.9h-1zM28 293.2h2v7.9h-2zM20 300.8h3v7.9h-3zM27 300.8h3v7.9h-3zM20 308.4h4v7.9h-4zM27 308.4h2v7.9h-2zM20 316.1h4v7.9h-4zM27 316.1h3v7.9h-3zM20 323.7h5v7.9h-5zM27 323.7h1v7.9h-1zM30 323.7h2v7.9h-2zM19 331.3h8v7.9h-8zM28 331.3h2v7.9h-2zM19 338.9h7v7.9h-7zM19 346.5h7v7.8h-7zM31 346.5h1v7.8h-1zM19 354.1h5v7.8h-5zM31 354.1h1v7.8h-1zM18 361.7h4v7.8h-4zM31 361.7h1v7.8h-1zM18 369.3h2v7.8h-2zM29 369.3h2v7.8h-2zM11 376.9h1v7.8h-1zM21 376.9h1v7.8h-1zM29 376.9h2v7.8h-2zM11 384.5h1v7.8h-1zM20 384.5h3v7.8h-3zM29 384.5h2v7.8h-2zM11 392.0h1v7.8h-1zM20 392.0h3v7.8h-3zM30 392.0h1v7.8h-1zM20 399.6h2v7.8h-2z"/><path fill="#0088ff" d="M38 0.0h7v7.3h-7zM29 7.1h2v8.1h-2zM38 7.1h1v8.1h-1zM40 7.1h4v8.1h-4zM30 14.9h2v8.1h-2zM33 14.9h1v8.1h-1zM37 14.9h1v8.1h-1zM40 14.9h5v8.1h-5zM21 22.7h2v8.1h-2zM31 22.7h2v8.1h-2zM41 22.7h4v8.1h-4zM32 30.5h1v8.1h-1zM34 30.5h2v8.1h-2zM42 30.5h3v8.1h-3zM43 38.4h2v8.1h-2zM35 69.6h1v8.0h-1zM10 85.1h1v8.0h-1zM12 123.9h1v8.0h-1zM14 162.6h1v8.0h-1zM15 216.6h1v7.9h-1zM19 216.6h1v7.9h-1zM17 224.2h2v7.9h-2zM17 231.9h2v7.9h-2zM14 247.3h1v7.9h-1zM13 254.9h2v7.9h-2zM44 254.9h1v7.9h-1zM10 262.6h3v7.9h-3zM16 262.6h2v7.9h-2zM43 262.6h2v7.9h-2zM11 270.2h2v7.9h-2zM18 270.2h1v7.9h-1zM43 270.2h2v7.9h-2zM7 277.9h2v7.9h-2zM10 277.9h3v7.9h-3zM19 277.9h1v7.9h-1zM42 277.9h3v7.9h-3zM6 285.5h8v7.9h-8zM41 285.5h4v7.9h-4zM5 293.2h8v7.9h-8zM19 293.2h1v7.9h-1zM40 293.2h5v7.9h-5zM4 300.8h4v7.9h-4zM11 300.8h2v7.9h-2zM18 300.8h1v7.9h-1zM40 300.8h5v7.9h-5zM6 308.4h2v7.9h-2zM11 308.4h2v7.9h-2zM18 308.4h1v7.9h-1zM40 308.4h5v7.9h-5zM2 316.1h2v7.9h-2zM7 316.1h1v7.9h-1zM11 316.1h1v7.9h-1zM41 316.1h4v7.9h-4zM1 323.7h1v7.9h-1zM4 323.7h1v7.9h-1zM6 323.7h6v7.9h-6zM17 323.7h1v7.9h-1zM41 323.7h4v7.9h-4zM0 331.3h1v7.9h-1zM7 331.3h5v7.9h-5zM32 331.3h2v7.9h-2zM41 331.3h4v7.9h-4zM0 338.9h2v7.9h-2zM7 338.9h6v7.9h-6zM32 338.9h1v7.9h-1zM39 338.9h6v7.9h-6zM1 346.5h1v7.8h-1zM3 346.5h2v7.8h-2zM8 346.5h4v7.8h-4zM38 346.5h7v7.8h-7zM0 354.1h1v7.8h-1zM2 354.1h2v7.8h-2zM5 354.1h2v7.8h-2zM11 354.1h1v7.8h-1zM37 354.1h8v7.8h-8zM0 361.7h2v7.8h-2zM5 361.7h2v7.8h-2zM10 361.7h2v7.8h-2zM36 361.7h9v7.8h-9zM0 369.3h1v7.8h-1zM6 369.3h6v7.8h-6zM35 369.3h10v7.8h-10zM0 376.9h2v7.8h-2zM6 376.9h5v7.8h-5zM34 376.9h11v7.8h-11zM0 384.5h11v7.8h-11zM32 384.5h13v7.8h-13zM2 392.0h2v7.8h-2zM5 392.0h2v7.8h-2zM8 392.0h1v7.8h-1zM15 392.0h2v7.8h-2zM31 392.0h14v7.8h-14zM5 399.6h4v7.8h-4zM12 399.6h4v7.8h-4zM30 399.6h15v7.8h-15zM0 407.2h9v7.8h-9zM12 407.2h3v7.8h-3zM23 407.2h1v7.8h-1zM29 407.2h16v7.8h-16zM0 414.7h4v7.8h-4zM5 414.7h5v7.8h-5zM13 414.7h1v7.8h-1zM24 414.7h1v7.8h-1zM29 414.7h16v7.8h-16zM0 422.3h5v7.8h-5zM24 422.3h1v7.8h-1zM29 422.3h15v7.8h-15z"/><path fill="#000088" d="M44 7.1h1v8.1h-1zM11 254.9h2v7.9h-2zM0 346.5h1v7.8h-1zM2 346.5h1v7.8h-1zM1 354.1h1v7.8h-1zM0 392.0h2v7.8h-2zM7 392.0h1v7.8h-1zM0 399.6h3v7.8h-3zM11 407.2h1v7.8h-1zM10 414.7h3v7.8h-3zM5 422.3h8v7.8h-8zM44 422.3h1v7.8h-1z"/><path fill="#880000" d="M24 208.9h3v7.9h-3zM24 216.6h2v7.9h-2zM21 262.6h2v7.9h-2zM21 270.2h2v7.9h-2zM26 270.2h1v7.9h-1zM20 277.9h3v7.9h-3zM26 277.9h1v7.9h-1zM20 285.5h4v7.9h-4zM26 285.5h2v7.9h-2zM20 293.2h8v7.9h-8zM23 300.8h4v7.9h-4zM24 308.4h3v7.9h-3zM24 316.1h3v7.9h-3zM25 323.7h1v7.9h-1z"/></g><path d="M232.9 3.4l-7.5 7.6l7.5 7.6l0.2 0.2l7.5 7.6l0.2 0.2l7.5 7.6l0.2 0.2l7.5 7.6l7.5 -7.6l0.0 -7.8l-7.5 -7.6l-0.2 -0.2l-7.5 -7.6l-0.2 -0.2l-7.5 -7.6l-7.7 0.0M294.6 3.2l0.0 7.8l7.5 7.6l7.5 -7.6l0.2 -0.2l0.2 0.2l0.0 7.8l7.5 7.6l0.2 0.2l7.5 7.6l0.2 0.2l7.5 7.6l0.2 0.2l7.5 7.6l7.7 0.0M263.6 11.2l-7.5 7.6l7.5 7.6l7.5 -7.6l-7.5 -7.6M294.4 11.2l-3.7 7.6l3.7 7.6l7.5 -7.6l-7.5 -7.6M171.3 19.0l-7.5 7.6l7.5 7.6l7.7 0.0l3.7 -7.6l-3.7 -7.6l-7.7 0.0M271.3 26.9l-7.5 7.6l7.5 7.6l7.7 0.0l7.5 -7.6l-7.5 -7.6l-7.7 0.0M279.0 65.9l-3.7 7.6l3.7 7.5l7.5 -7.5l-7.5 -7.6M94.2 89.0l-7.5 -7.5M109.6 127.8l-7.5 -7.5M125.0 166.5l-7.5 -7.5M125.2 227.9l7.5 -7.5l-7.5 -7.5M156.0 216.7l-7.5 3.7l7.5 7.5l3.7 -7.5l-3.7 -3.7M140.6 220.6l-7.5 7.5l0.0 7.7l7.5 7.4l7.7 0.0l7.5 -7.4l0.0 -7.7l-7.5 -7.5l-7.7 0.0M125.0 251.1l0.0 7.7l-7.5 7.4l-7.7 0.0l-0.2 0.2l0.0 7.7l0.0 7.6l0.2 0.2l7.5 7.4l-7.5 7.4l-0.2 0.2l0.0 7.6l0.0 7.6l-7.5 7.4l-0.2 0.2l0.0 7.6l0.0 7.6l0.2 0.2l7.5 7.4l-7.5 7.4l-0.2 0.2l0.0 7.6l0.0 7.6l0.0 7.6l-7.5 3.7l-4.0 3.9l0.0 7.6l-3.7 7.3l-7.7 0.0l-0.2 0.2l0.0 7.6l0.0 7.6l0.2 0.2l7.7 -0.1l0.1 -0.1l7.6 -7.4l0.2 -0.1l7.5 -7.3l7.7 0.0l7.7 0.0l0.2 -0.2l7.5 -7.3l7.7 0.0l7.5 7.3l-7.5 7.3l-0.2 0.2l-7.5 7.3l-0.2 0.2l-7.5 7.3l-0.2 0.2l-7.5 7.3l-0.1 0.2l0.0 7.5M348.2 251.3l-7.5 7.4l-0.2 0.2l-7.5 7.4l0.0 7.7l-0.2 0.2l-7.5 7.4l-0.2 0.2l-7.5 7.4l-0.2 0.2l-7.5 7.4l0.0 7.6l0.0 7.6l7.5 7.4l0.2 0.2l0.0 7.6l0.0 7.6l-0.2 0.2l-7.7 0.0l-7.5 7.4l-0.2 0.2l-7.5 7.4l-0.2 0.2l-7.5 7.4l-0.2 0.2l-7.5 7.4l-0.2 0.2l-7.5 7.4l-0.2 0.2l-7.5 7.4l-0.2 0.2l-7.7 0.0l-7.5 7.4l-0.2 0.2l-3.7 7.3l-4.0 3.9l-7.5 3.7l-0.2 0.2l-7.5 7.3l0.0 7.6l0.0 7.6l0.0 7.5M132.9 259.0l-7.5 7.4l7.5 7.4l7.7 0.0l0.2 0.2l7.5 7.4l0.2 0.2l7.5 7.4l2.5 -7.4l-2.5 -7.4l-0.2 -0.2l-7.5 -3.7l-4.0 -3.9l-3.7 -7.4l-7.7 0.0M71.4 274.3l7.5 7.4l0.2 0.2l0.2 -0.2l7.5 -7.4l0.2 -0.2l-0.2 -0.2M156.0 289.6l-7.5 7.4l7.5 7.4l2.5 -7.4l-2.5 -7.4M71.4 304.4l-0.2 0.2l0.0 7.6l0.0 7.6l0.2 0.2l7.7 0.0l7.7 0.0l0.2 -0.2l0.0 -7.6l0.0 -7.6l-0.2 -0.2l-7.7 0.0l-7.7 0.0M148.3 297.2l-7.5 7.4l0.0 7.6l7.5 7.4l7.5 -7.4l0.0 -7.6l-7.5 -7.4M17.3 335.1l0.2 0.2l7.5 7.4l0.2 0.1l7.7 0.1l7.7 0.0l7.5 7.4l0.2 0.2l7.7 0.0l7.5 7.4l0.0 7.6l0.2 0.2l7.7 0.0l7.7 0.0l0.2 -0.2l7.5 -7.4l0.2 -0.2l-0.2 -0.2l-7.7 0.0l-7.7 0.0l-7.5 -7.4l-0.2 -0.2l-7.5 -7.4l0.0 -7.6l-0.2 -0.2l-7.5 -7.4l7.5 -7.4l0.2 -0.2l-0.2 -0.2l-7.5 -7.4l-0.2 -0.2l-7.7 0.0M25.2 327.3l7.7 0.0l0.2 0.2l7.5 7.4l7.5 -7.4l-7.5 -7.4l-0.2 -0.2l-7.5 -7.4M140.6 320.1l-7.5 7.4l7.5 7.4l7.5 -7.4l-7.5 -7.4M25.0 327.5l-7.5 7.4M255.9 327.7l-7.5 7.4l0.0 7.6l7.5 7.4l7.5 -7.4l0.2 -0.2l7.5 -7.4l-7.5 -7.4l-7.7 0.0M40.6 357.7l-0.2 0.2l-7.5 7.4l-7.7 0.0l-0.2 0.2l-7.5 7.4l-0.2 0.2l0.2 0.2l7.5 7.4l0.2 0.2l7.7 0.0l7.7 0.0l7.7 0.0l0.2 -0.2l0.0 -7.6l-0.2 -0.2l-7.5 -7.4l0.0 -7.6l-0.2 -0.2M40.6 395.6l-0.2 0.2l-7.5 7.3l-0.1 0.2l0.1 0.2l7.7 0.0l0.2 -0.2l0.0 -7.6l-0.2 -0.2M201.9 433.6l0.0 -7.5l0.0 -7.6l-7.5 -7.3l-0.2 -0.2l-7.5 -7.3l-7.5 7.3l7.5 7.3l0.2 0.2l0.0 7.6l0.0 7.5M40.6 418.3l-0.2 0.2l0.2 0.2l0.2 -0.2l-0.2 -0.2" stroke="#000" stroke-width="1.15" fill="none" stroke-linejoin="round"/><text transform="translate(171.7,36.4) rotate(20)" font-size="12.5" text-anchor="middle" font-family="Liberation Sans, sans-serif" stroke="#fff" stroke-width="0" dy="4">2</text><text transform="translate(246.2,39.1) rotate(40)" font-size="12.5" text-anchor="middle" font-family="Liberation Sans, sans-serif" stroke="#fff" stroke-width="0" dy="4">2</text><text transform="translate(274.1,81.5) rotate(0)" font-size="12.5" text-anchor="middle" font-family="Liberation Sans, sans-serif" stroke="#fff" stroke-width="0" dy="4">2</text><text transform="translate(327.8,46.2) rotate(30)" font-size="12.5" text-anchor="middle" font-family="Liberation Sans, sans-serif" stroke="#fff" stroke-width="0" dy="4">2</text><text transform="translate(86.7,89.3) rotate(70)" font-size="12.5" text-anchor="middle" font-family="Liberation Sans, sans-serif" stroke="#fff" stroke-width="0" dy="4">2</text><text transform="translate(103.1,127.3) rotate(70)" font-size="12.5" text-anchor="middle" font-family="Liberation Sans, sans-serif" stroke="#fff" stroke-width="0" dy="4">2</text><text transform="translate(116.9,165.8) rotate(70)" font-size="12.5" text-anchor="middle" font-family="Liberation Sans, sans-serif" stroke="#fff" stroke-width="0" dy="4">2</text><text transform="translate(126.7,219.9) rotate(70)" font-size="12.5" text-anchor="middle" font-family="Liberation Sans, sans-serif" stroke="#fff" stroke-width="0" dy="4">2</text><text transform="translate(140.8,246.9) rotate(0)" font-size="12.5" text-anchor="middle" font-family="Liberation Sans, sans-serif" stroke="#fff" stroke-width="0" dy="4">2</text><text transform="translate(119.6,259.0) rotate(-40)" font-size="12.5" text-anchor="middle" font-family="Liberation Sans, sans-serif" stroke="#fff" stroke-width="0" dy="4">2</text><text transform="translate(71.0,281.8) rotate(-20)" font-size="12.5" text-anchor="middle" font-family="Liberation Sans, sans-serif" stroke="#fff" stroke-width="0" dy="4">2</text><text transform="translate(77.7,323.3) rotate(0)" font-size="12.5" text-anchor="middle" font-family="Liberation Sans, sans-serif" stroke="#fff" stroke-width="0" dy="4">2</text><text transform="translate(148.6,289.2) rotate(60)" font-size="12.5" text-anchor="middle" font-family="Liberation Sans, sans-serif" stroke="#fff" stroke-width="0" dy="4">2</text><text transform="translate(132.5,335.1) rotate(-40)" font-size="12.5" text-anchor="middle" font-family="Liberation Sans, sans-serif" stroke="#fff" stroke-width="0" dy="4">2</text><text transform="translate(40.4,358.6) rotate(0)" font-size="12.5" text-anchor="middle" font-family="Liberation Sans, sans-serif" stroke="#fff" stroke-width="0" dy="4">2</text><text transform="translate(32.6,384.5) rotate(0)" font-size="12.5" text-anchor="middle" font-family="Liberation Sans, sans-serif" stroke="#fff" stroke-width="0" dy="4">2</text><text transform="translate(249.4,351.2) rotate(0)" font-size="12.5" text-anchor="middle" font-family="Liberation Sans, sans-serif" stroke="#fff" stroke-width="0" dy="4">2</text><text transform="translate(105.1,400.2) rotate(0)" font-size="12.5" text-anchor="middle" font-family="Liberation Sans, sans-serif" stroke="#fff" stroke-width="0" dy="4">2</text><text transform="translate(172.9,423.3) rotate(-60)" font-size="12.5" text-anchor="middle" font-family="Liberation Sans, sans-serif" stroke="#fff" stroke-width="0" dy="4">2</text><text transform="translate(225.1,410.8) rotate(-70)" font-size="12.5" text-anchor="middle" font-family="Liberation Sans, sans-serif" stroke="#fff" stroke-width="0" dy="4">2</text><text transform="translate(33.8,404.9) rotate(-60)" font-size="12.5" text-anchor="middle" font-family="Liberation Sans, sans-serif" stroke="#fff" stroke-width="0" dy="4">2</text>
<use href="#land"/><use href="#lg"/>
<path d="M59.8 46.5L73.8 46.5M61.9 41.6L71.7 51.4M66.8 39.5L66.8 53.5M71.7 41.6L61.9 51.4" stroke="#ff1a1a" stroke-width="1" fill="none"/>
<path d="M97.4 157.0L111.4 157.0M99.5 152.1L109.3 161.9M104.4 150.0L104.4 164.0M109.3 152.1L99.5 161.9" stroke="#ff1a1a" stroke-width="1" fill="none"/>
<path d="M106.8 250.3L120.8 250.3M108.9 245.4L118.7 255.2M113.8 243.3L113.8 257.3M118.7 245.4L108.9 255.2" stroke="#ff1a1a" stroke-width="1" fill="none"/>
<path d="M55.4 272.3L69.4 272.3M57.5 267.4L67.3 277.2M62.4 265.3L62.4 279.3M67.3 267.4L57.5 277.2" stroke="#ff1a1a" stroke-width="1" fill="none"/>
<path d="M3.3 320.7L17.3 320.7M5.4 315.8L15.2 325.6M10.3 313.7L10.3 327.7M15.2 315.8L5.4 325.6" stroke="#ff1a1a" stroke-width="1" fill="none"/>
</g>
<path d="M0 72.5h4M348 72.5h-4M0 144.5h4M348 144.5h-4M0 216.5h4M348 216.5h-4M0 287.5h4M348 287.5h-4M0 358.5h4M348 358.5h-4M58.5 0v4M58.5 428v-4M116.5 0v4M116.5 428v-4M174.5 0v4M174.5 428v-4M232.5 0v4M232.5 428v-4M290.5 0v4M290.5 428v-4" stroke="#222" stroke-width="1" fill="none"/>
<rect x="0" y="0" width="348" height="428" fill="none" stroke="#000" stroke-width="1.2"/>
<rect x="4.5" y="20.9" width="112" height="24.5" fill="url(#jet)" stroke="#222" stroke-width="1"/>
<text x="172.0" y="-12.0" font-size="20.5" text-anchor="middle" font-weight="bold" font-family="Liberation Sans, sans-serif" >Number of Sites (2)</text><text x="3.5" y="7.8" font-size="21" text-anchor="middle" font-weight="normal" font-family="Liberation Sans, sans-serif" >0</text><text x="60.0" y="7.8" font-size="21" text-anchor="middle" font-weight="normal" font-family="Liberation Sans, sans-serif" >2</text><text x="116.0" y="7.8" font-size="21" text-anchor="middle" font-weight="normal" font-family="Liberation Sans, sans-serif" >4</text><text x="314.0" y="37.8" font-size="21" text-anchor="middle" font-weight="normal" font-family="Liberation Sans, sans-serif" >10 km</text><path d="M306.5 44.1h11.5" stroke="#000" stroke-width="4" stroke-linecap="round"/>
</g>
<text x="68.5" y="749.0" font-size="21" text-anchor="end" font-weight="normal" font-family="Liberation Sans, sans-serif" >37°N</text>
<text x="68.5" y="819.5" font-size="15" text-anchor="end" font-weight="normal" font-family="Liberation Sans, sans-serif" >30'</text>
<text x="68.5" y="893.5" font-size="21" text-anchor="end" font-weight="normal" font-family="Liberation Sans, sans-serif" >36°N</text>
<text x="68.5" y="963.0" font-size="15" text-anchor="end" font-weight="normal" font-family="Liberation Sans, sans-serif" >30'</text>
<text x="68.5" y="1036.1" font-size="21" text-anchor="end" font-weight="normal" font-family="Liberation Sans, sans-serif" >35°N</text>
<text x="68.5" y="1104.8" font-size="15" text-anchor="end" font-weight="normal" font-family="Liberation Sans, sans-serif" >30'</text>
<text x="68.5" y="1177.0" font-size="21" text-anchor="end" font-weight="normal" font-family="Liberation Sans, sans-serif" >34°N</text>
<text x="73.0" y="1186.0" font-size="15" text-anchor="middle" font-weight="normal" font-family="Liberation Sans, sans-serif" >30'</text>
<text x="135.0" y="1190.8" font-size="21" text-anchor="middle" font-weight="normal" font-family="Liberation Sans, sans-serif" >76°W</text>
<text x="189.0" y="1186.0" font-size="15" text-anchor="middle" font-weight="normal" font-family="Liberation Sans, sans-serif" >30'</text>
<text x="251.0" y="1190.8" font-size="21" text-anchor="middle" font-weight="normal" font-family="Liberation Sans, sans-serif" >75°W</text>
<text x="305.0" y="1186.0" font-size="15" text-anchor="middle" font-weight="normal" font-family="Liberation Sans, sans-serif" >30'</text>
<text x="367.0" y="1190.8" font-size="21" text-anchor="middle" font-weight="normal" font-family="Liberation Sans, sans-serif" >74°W</text>
<text x="421.0" y="1186.0" font-size="15" text-anchor="middle" font-weight="normal" font-family="Liberation Sans, sans-serif" >30'</text>
<g transform="translate(75,742)">
<g clip-path="url(#pc)">
<path d="M0 72.5H348M0 144.5H348M0 216.5H348M0 287.5H348M0 358.5H348M58.5 0V428M116.5 0V428M174.5 0V428M232.5 0V428M290.5 0V428" stroke="#c8c8c8" stroke-width="1" stroke-dasharray="3 5" fill="none"/>
<use href="#land"/><use href="#lg"/>
<g stroke="#00f000" stroke-width="2.7" stroke-linecap="round" fill="none"><path d="M116.6 243.3A7.5 7.5 0 0 1 112.5 257.7" stroke-dasharray="0 0.164" stroke-width="3.1"/><path d="M119.4 236.4A15.0 15.0 0 0 1 111.1 265.1" stroke-dasharray="0 0.327" stroke-width="3.1"/><path d="M122.2 229.4A22.5 22.5 0 0 1 109.8 272.4" stroke-dasharray="0 0.491" stroke-width="3.1"/><path d="M125.0 222.5A30.0 30.0 0 0 1 108.4 279.8" stroke-dasharray="0 1.047"/><path d="M127.8 215.5A37.5 37.5 0 0 1 107.1 287.2" stroke-dasharray="0 1.833"/><path d="M130.7 208.6A45.0 45.0 0 0 1 105.8 294.6" stroke-dasharray="0 2.199"/><path d="M133.5 201.6A52.5 52.5 0 0 1 104.4 302.0" stroke-dasharray="0 2.566"/><path d="M136.3 194.7A60.0 60.0 0 0 1 103.1 309.3" stroke-dasharray="0 2.932"/><path d="M139.1 187.7A67.5 67.5 0 0 1 101.7 316.7" stroke-dasharray="0 3.299"/><path d="M141.9 180.8A75.0 75.0 0 0 1 100.4 324.1" stroke-dasharray="0 6.545"/><path d="M144.7 173.8A82.5 82.5 0 0 1 99.0 331.5" stroke-dasharray="0 7.199"/><path d="M147.5 166.9A90.0 90.0 0 0 1 97.7 338.8" stroke-dasharray="0 7.854"/><path d="M150.3 159.9A97.5 97.5 0 0 1 96.4 346.2" stroke-dasharray="0 8.508"/><path d="M153.1 152.9A105.0 105.0 0 0 1 95.0 353.6" stroke-dasharray="0 9.163"/><path d="M155.9 146.0A112.5 112.5 0 0 1 93.7 361.0" stroke-dasharray="0 9.817"/><path d="M158.8 139.0A120.0 120.0 0 0 1 92.3 368.4" stroke-dasharray="0 10.472"/><path d="M161.6 132.1A127.5 127.5 0 0 1 91.0 375.7" stroke-dasharray="0 11.126"/><path d="M164.4 125.1A135.0 135.0 0 0 1 89.7 383.1" stroke-dasharray="0 11.781"/><path d="M167.2 118.2A142.5 142.5 0 0 1 88.3 390.5" stroke-dasharray="0 12.435"/><path d="M170.0 111.2A150.0 150.0 0 0 1 87.0 397.9" stroke-dasharray="0 13.090"/><path d="M172.8 104.3A157.5 157.5 0 0 1 85.6 405.3" stroke-dasharray="0 13.744"/><path d="M175.6 97.3A165.0 165.0 0 0 1 84.3 412.6" stroke-dasharray="0 14.399"/><path d="M178.4 90.4A172.5 172.5 0 0 1 83.0 420.0" stroke-dasharray="0 15.053"/><path d="M181.2 83.4A180.0 180.0 0 0 1 81.6 427.4" stroke-dasharray="0 15.708"/><path d="M184.0 76.5A187.5 187.5 0 0 1 80.3 434.8" stroke-dasharray="0 16.362"/><path d="M186.8 69.5A195.0 195.0 0 0 1 78.9 442.2" stroke-dasharray="0 17.017"/><path d="M189.7 62.5A202.5 202.5 0 0 1 77.6 449.5" stroke-dasharray="0 17.671"/><path d="M192.5 55.6A210.0 210.0 0 0 1 76.3 456.9" stroke-dasharray="0 18.326"/><path d="M195.3 48.6A217.5 217.5 0 0 1 74.9 464.3" stroke-dasharray="0 18.980"/><path d="M198.1 41.7A225.0 225.0 0 0 1 73.6 471.7" stroke-dasharray="0 19.635"/><path d="M200.9 34.7A232.5 232.5 0 0 1 72.2 479.1" stroke-dasharray="0 20.289"/><path d="M203.7 27.8A240.0 240.0 0 0 1 70.9 486.4" stroke-dasharray="0 20.944"/><path d="M206.5 20.8A247.5 247.5 0 0 1 69.5 493.8" stroke-dasharray="0 21.598"/><path d="M209.3 13.9A255.0 255.0 0 0 1 68.2 501.2" stroke-dasharray="0 22.253"/><path d="M212.1 6.9A262.5 262.5 0 0 1 66.9 508.6" stroke-dasharray="0 22.907"/><path d="M214.9 -0.0A270.0 270.0 0 0 1 65.5 515.9" stroke-dasharray="0 23.562"/><path d="M217.8 -7.0A277.5 277.5 0 0 1 64.2 523.3" stroke-dasharray="0 24.216"/><path d="M220.6 -13.9A285.0 285.0 0 0 1 62.8 530.7" stroke-dasharray="0 24.871"/><path d="M223.4 -20.9A292.5 292.5 0 0 1 61.5 538.1" stroke-dasharray="0 25.525"/><path d="M226.2 -27.9A300.0 300.0 0 0 1 60.2 545.5" stroke-dasharray="0 26.180"/><path d="M229.0 -34.8A307.5 307.5 0 0 1 58.8 552.8" stroke-dasharray="0 26.834"/><path d="M231.8 -41.8A315.0 315.0 0 0 1 57.5 560.2" stroke-dasharray="0 27.489"/><path d="M234.6 -48.7A322.5 322.5 0 0 1 56.1 567.6" stroke-dasharray="0 28.143"/><path d="M237.4 -55.7A330.0 330.0 0 0 1 54.8 575.0" stroke-dasharray="0 28.798"/><path d="M240.2 -62.6A337.5 337.5 0 0 1 53.5 582.4" stroke-dasharray="0 29.452"/><path d="M243.0 -69.6A345.0 345.0 0 0 1 52.1 589.7" stroke-dasharray="0 30.107"/><path d="M245.8 -76.5A352.5 352.5 0 0 1 50.8 597.1" stroke-dasharray="0 30.761"/><path d="M248.7 -83.5A360.0 360.0 0 0 1 49.4 604.5" stroke-dasharray="0 31.416"/><path d="M251.5 -90.4A367.5 367.5 0 0 1 48.1 611.9" stroke-dasharray="0 32.070"/><path d="M254.3 -97.4A375.0 375.0 0 0 1 46.7 619.3" stroke-dasharray="0 32.725"/></g><g stroke="#f80000" stroke-width="2.7" stroke-linecap="round" fill="none"><path d="M77.3 271.0A15.0 15.0 0 0 1 54.8 285.3" stroke-dasharray="0 0.327" stroke-width="3.1"/><path d="M84.8 270.3A22.5 22.5 0 0 1 51.0 291.7" stroke-dasharray="0 0.491" stroke-width="3.1"/><path d="M92.3 269.7A30.0 30.0 0 0 1 47.3 298.2" stroke-dasharray="0 0.654" stroke-width="3.1"/><path d="M99.8 269.0A37.5 37.5 0 0 1 43.5 304.7" stroke-dasharray="0 3.272"/><path d="M107.2 268.4A45.0 45.0 0 0 1 39.7 311.2" stroke-dasharray="0 3.927"/><path d="M114.7 267.7A52.5 52.5 0 0 1 35.9 317.6" stroke-dasharray="0 4.581"/><path d="M122.2 267.1A60.0 60.0 0 0 1 32.1 324.1" stroke-dasharray="0 5.236"/><path d="M129.6 266.4A67.5 67.5 0 0 1 28.3 330.6" stroke-dasharray="0 5.890"/><path d="M137.1 265.8A75.0 75.0 0 0 1 24.6 337.1" stroke-dasharray="0 6.545"/><path d="M144.6 265.1A82.5 82.5 0 0 1 20.8 343.5" stroke-dasharray="0 7.199"/><path d="M152.1 264.5A90.0 90.0 0 0 1 17.0 350.0" stroke-dasharray="0 7.854"/><path d="M159.5 263.8A97.5 97.5 0 0 1 13.2 356.5" stroke-dasharray="0 8.508"/></g><g stroke="#f80000" stroke-width="2.7" stroke-linecap="round" fill="none"><path d="M102.8 149.7A7.5 7.5 0 1 1 105.4 164.4" stroke-dasharray="0 0.164" stroke-width="3.1"/><path d="M101.3 142.3A15.0 15.0 0 1 1 106.4 171.9" stroke-dasharray="0 0.327" stroke-width="3.1"/><path d="M99.7 135.0A22.5 22.5 0 1 1 107.4 179.3" stroke-dasharray="0 0.491" stroke-width="3.1"/><path d="M98.2 127.7A30.0 30.0 0 1 1 108.4 186.7" stroke-dasharray="0 1.047"/><path d="M96.6 120.3A37.5 37.5 0 1 1 109.4 194.2" stroke-dasharray="0 1.833"/><path d="M95.0 113.0A45.0 45.0 0 1 1 110.4 201.6" stroke-dasharray="0 2.199"/><path d="M93.5 105.6A52.5 52.5 0 1 1 111.4 209.0" stroke-dasharray="0 2.566"/><path d="M91.9 98.3A60.0 60.0 0 1 1 112.4 216.5" stroke-dasharray="0 2.932"/><path d="M90.4 91.0A67.5 67.5 0 1 1 113.4 223.9" stroke-dasharray="0 3.299"/><path d="M88.8 83.6A75.0 75.0 0 1 1 114.4 231.3" stroke-dasharray="0 6.545"/><path d="M87.2 76.3A82.5 82.5 0 1 1 115.5 238.8" stroke-dasharray="0 7.199"/><path d="M85.7 69.0A90.0 90.0 0 1 1 116.5 246.2" stroke-dasharray="0 7.854"/><path d="M84.1 61.6A97.5 97.5 0 1 1 117.5 253.6" stroke-dasharray="0 8.508"/><path d="M82.6 54.3A105.0 105.0 0 1 1 118.5 261.1" stroke-dasharray="0 9.163"/><path d="M81.0 47.0A112.5 112.5 0 1 1 119.5 268.5" stroke-dasharray="0 9.817"/><path d="M79.5 39.6A120.0 120.0 0 1 1 120.5 275.9" stroke-dasharray="0 10.472"/><path d="M77.9 32.3A127.5 127.5 0 1 1 121.5 283.4" stroke-dasharray="0 11.126"/><path d="M76.3 25.0A135.0 135.0 0 1 1 122.5 290.8" stroke-dasharray="0 11.781"/><path d="M74.8 17.6A142.5 142.5 0 1 1 123.5 298.2" stroke-dasharray="0 12.435"/><path d="M73.2 10.3A150.0 150.0 0 1 1 124.5 305.6" stroke-dasharray="0 13.090"/><path d="M71.7 2.9A157.5 157.5 0 1 1 125.5 313.1" stroke-dasharray="0 13.744"/><path d="M70.1 -4.4A165.0 165.0 0 1 1 126.5 320.5" stroke-dasharray="0 14.399"/><path d="M68.5 -11.7A172.5 172.5 0 1 1 127.5 327.9" stroke-dasharray="0 15.053"/><path d="M67.0 -19.1A180.0 180.0 0 1 1 128.5 335.4" stroke-dasharray="0 15.708"/><path d="M65.4 -26.4A187.5 187.5 0 1 1 129.5 342.8" stroke-dasharray="0 16.362"/><path d="M63.9 -33.7A195.0 195.0 0 1 1 130.5 350.2" stroke-dasharray="0 17.017"/><path d="M62.3 -41.1A202.5 202.5 0 1 1 131.5 357.7" stroke-dasharray="0 17.671"/><path d="M60.7 -48.4A210.0 210.0 0 1 1 132.5 365.1" stroke-dasharray="0 18.326"/><path d="M59.2 -55.7A217.5 217.5 0 1 1 133.5 372.5" stroke-dasharray="0 18.980"/><path d="M57.6 -63.1A225.0 225.0 0 1 1 134.5 380.0" stroke-dasharray="0 19.635"/><path d="M56.1 -70.4A232.5 232.5 0 1 1 135.6 387.4" stroke-dasharray="0 20.289"/><path d="M54.5 -77.8A240.0 240.0 0 1 1 136.6 394.8" stroke-dasharray="0 20.944"/><path d="M52.9 -85.1A247.5 247.5 0 1 1 137.6 402.3" stroke-dasharray="0 21.598"/><path d="M51.4 -92.4A255.0 255.0 0 1 1 138.6 409.7" stroke-dasharray="0 22.253"/><path d="M49.8 -99.8A262.5 262.5 0 1 1 139.6 417.1" stroke-dasharray="0 22.907"/><path d="M48.3 -107.1A270.0 270.0 0 1 1 140.6 424.6" stroke-dasharray="0 23.562"/><path d="M46.7 -114.4A277.5 277.5 0 1 1 141.6 432.0" stroke-dasharray="0 24.216"/><path d="M45.1 -121.8A285.0 285.0 0 1 1 142.6 439.4" stroke-dasharray="0 24.871"/><path d="M43.6 -129.1A292.5 292.5 0 1 1 143.6 446.9" stroke-dasharray="0 25.525"/><path d="M42.0 -136.4A300.0 300.0 0 1 1 144.6 454.3" stroke-dasharray="0 26.180"/></g><g stroke="#0000f8" stroke-width="2.7" stroke-linecap="round" fill="none"><path d="M63.2 31.9A15.0 15.0 0 0 1 71.1 60.9" stroke-dasharray="0 0.327" stroke-width="3.1"/><path d="M61.4 24.7A22.5 22.5 0 0 1 73.3 68.1" stroke-dasharray="0 0.491" stroke-width="3.1"/><path d="M59.5 17.4A30.0 30.0 0 0 1 75.4 75.2" stroke-dasharray="0 0.654" stroke-width="3.1"/><path d="M57.7 10.1A37.5 37.5 0 0 1 77.6 82.4" stroke-dasharray="0 2.291"/><path d="M55.9 2.8A45.0 45.0 0 0 1 79.7 89.6" stroke-dasharray="0 2.749"/><path d="M54.1 -4.4A52.5 52.5 0 0 1 81.9 96.8" stroke-dasharray="0 3.207"/><path d="M52.3 -11.7A60.0 60.0 0 0 1 84.0 104.0" stroke-dasharray="0 3.665"/><path d="M50.5 -19.0A67.5 67.5 0 0 1 86.2 111.2" stroke-dasharray="0 4.123"/><path d="M48.7 -26.3A75.0 75.0 0 0 1 88.4 118.3" stroke-dasharray="0 4.581"/><path d="M46.8 -33.5A82.5 82.5 0 0 1 90.5 125.5" stroke-dasharray="0 5.040"/><path d="M45.0 -40.8A90.0 90.0 0 0 1 92.7 132.7" stroke-dasharray="0 7.854"/><path d="M43.2 -48.1A97.5 97.5 0 0 1 94.8 139.9" stroke-dasharray="0 8.508"/><path d="M41.4 -55.4A105.0 105.0 0 0 1 97.0 147.1" stroke-dasharray="0 9.163"/><path d="M39.6 -62.7A112.5 112.5 0 0 1 99.1 154.3" stroke-dasharray="0 9.817"/><path d="M37.8 -69.9A120.0 120.0 0 0 1 101.3 161.4" stroke-dasharray="0 10.472"/><path d="M36.0 -77.2A127.5 127.5 0 0 1 103.4 168.6" stroke-dasharray="0 11.126"/><path d="M34.1 -84.5A135.0 135.0 0 0 1 105.6 175.8" stroke-dasharray="0 11.781"/><path d="M32.3 -91.8A142.5 142.5 0 0 1 107.7 183.0" stroke-dasharray="0 12.435"/><path d="M30.5 -99.0A150.0 150.0 0 0 1 109.9 190.2" stroke-dasharray="0 13.090"/><path d="M28.7 -106.3A157.5 157.5 0 0 1 112.1 197.4" stroke-dasharray="0 13.744"/><path d="M26.9 -113.6A165.0 165.0 0 0 1 114.2 204.5" stroke-dasharray="0 14.399"/><path d="M25.1 -120.9A172.5 172.5 0 0 1 116.4 211.7" stroke-dasharray="0 15.053"/><path d="M23.3 -128.2A180.0 180.0 0 0 1 118.5 218.9" stroke-dasharray="0 15.708"/><path d="M21.4 -135.4A187.5 187.5 0 0 1 120.7 226.1" stroke-dasharray="0 16.362"/><path d="M19.6 -142.7A195.0 195.0 0 0 1 122.8 233.3" stroke-dasharray="0 17.017"/><path d="M17.8 -150.0A202.5 202.5 0 0 1 125.0 240.5" stroke-dasharray="0 17.671"/></g><path transform="scale(0.5)" d="M14 716h0m105-39h0m-3 9h0m-15 23h0m-6 7h0m-7 6h0m-7 5h0m-16 10h0m-8 3h0m-9 3h0m-9 2h0m-18 1h0m-19-1h0m127-53h0m-10 18h0m-6 9h0m-15 14h0m-9 7h0m-8 5h0m-10 5h0m-9 4h0m-10 3h0m-11 3h0m-10 1h0m-10 0h0m126-73h0m-16 31h0m-7 9h0m-8 9h0m-9 8h0m-19 13h0m-21 10h0m-23 6h0m-12 2h0m-11 0h0m149-122h0m-8 39h0m-5 12h0m-6 11h0m-8 11h0m-7 11h0m-9 9h0m-55 35h0m-13 4h0m-12 3h0m-13 2h0m113-44h0m-44 37h0m-40 17h0m-28 5h0m-14 0h0m-15 0h0m178-89h0m-8 14h0m-8 14h0m-10 12h0m-22 22h0m-12 10h0m-27 16h0m-15 6h0m-15 4h0m-31 6h0m-15 0h0m206-216h0m4 36h0m-20 89h0m-30 46h0m-55 47h0m54-23h0m-22 38h0m94-89h0m39-108h0m-64 174h0m78-198h0m-38 167h0m58-61h0m-8 26h0m-11 26h0m40-191h0m-73 270h0m60-67h0m42-208h0m-7 156h0m-36 86h0m62-212h0m32 32h0m23-75h0m7 75h0m-2 38h0m30 3h0m-26 118h0m-16 38h0m66-283h0m0 172h0m5 46h0m1 48h0m28-40h0m40-41h0" stroke="#000" stroke-width="5.2" stroke-linecap="round" fill="none"/><path d="M23.7 322.6A13.5 13.5 0 0 1 21.7 327.9M31.0 324.3A21.0 21.0 0 0 1 28.8 330.6M39.2 323.2A29.0 29.0 0 0 1 34.1 337.3M27.3 333.0A21.0 21.0 0 0 1 25.4 335.3M19.0 331.0A13.5 13.5 0 0 1 17.1 332.4" stroke="#000" stroke-width="2" stroke-linecap="round" fill="none"/><polyline points="216.0,0.0 209.5,32.7 203.0,56.7 197.5,82.9 195.3,109.1 193.1,130.9 192.0,152.7 188.7,170.2 191.5,186.0" fill="none" stroke="#000" stroke-width="1.1" /><polyline points="195.3,218.5 185.5,227.3 174.6,240.4 161.5,260.0 150.6,275.3 139.6,284.0 124.4,294.9 113.5,314.6 102.6,329.8 89.5,342.9 80.7,356.0 65.5,369.1 59.5,381.5" fill="none" stroke="#000" stroke-width="1.1" /><polyline points="37.5,408.5 21.8,424.7 17.0,428.0" fill="none" stroke="#000" stroke-width="1.1" /><text transform="translate(199.5,203) rotate(-88)" font-size="12.5" text-anchor="middle" font-family="Liberation Sans, sans-serif">-100</text><text transform="translate(51,399) rotate(-52)" font-size="13" text-anchor="middle" font-family="Liberation Sans, sans-serif">-100</text>
<path d="M59.8 46.5L73.8 46.5M61.9 41.6L71.7 51.4M66.8 39.5L66.8 53.5M71.7 41.6L61.9 51.4" stroke="#ff1a1a" stroke-width="1" fill="none"/>
<path d="M97.4 157.0L111.4 157.0M99.5 152.1L109.3 161.9M104.4 150.0L104.4 164.0M109.3 152.1L99.5 161.9" stroke="#ff1a1a" stroke-width="1" fill="none"/>
<path d="M106.8 250.3L120.8 250.3M108.9 245.4L118.7 255.2M113.8 243.3L113.8 257.3M118.7 245.4L108.9 255.2" stroke="#ff1a1a" stroke-width="1" fill="none"/>
<path d="M55.4 272.3L69.4 272.3M57.5 267.4L67.3 277.2M62.4 265.3L62.4 279.3M67.3 267.4L57.5 277.2" stroke="#ff1a1a" stroke-width="1" fill="none"/>
<path d="M3.3 320.7L17.3 320.7M5.4 315.8L15.2 325.6M10.3 313.7L10.3 327.7M15.2 315.8L5.4 325.6" stroke="#ff1a1a" stroke-width="1" fill="none"/>
</g>
<path d="M0 72.5h4M348 72.5h-4M0 144.5h4M348 144.5h-4M0 216.5h4M348 216.5h-4M0 287.5h4M348 287.5h-4M0 358.5h4M348 358.5h-4M58.5 0v4M58.5 428v-4M116.5 0v4M116.5 428v-4M174.5 0v4M174.5 428v-4M232.5 0v4M232.5 428v-4M290.5 0v4M290.5 428v-4" stroke="#222" stroke-width="1" fill="none"/>
<rect x="0" y="0" width="348" height="428" fill="none" stroke="#000" stroke-width="1.2"/>
<path transform="scale(0.5)" d="M278 856h0m-32 0h0m-31 0h0m-31 0h0m159 0h0m-31 0h0m-32 0h0m100 0h0m-65 0h0m103 0h0m-65 0h0m72 0h0m-33 0h0m73 0h0m49 0h0m-33 0h0m-35 0h0m-275 0h0m525-422h0m0 41h0m0 42h0m0 42h0m0 41h0m0-252h0m0 41h0m0 215h0m0 41h0m-131 211h0m-33 0h0m-35 0h0m199-555h0m0 85h0m0 306h0m-121 164h0m121-561h0m0 402h0m-110 159h0m-156-856h0m266 247h0m0 411h0m0 88h0m-67 110h0m67-616h0m0 89h0m0 239h0m0 185h0m0 42h0m-56 61h0m-34 0h0m-165-856h0m45 0h0m210 190h0m0 88h0m0 143h0m0 293h0m0 89h0m0-621h0m0 440h0m0 144h0m-34 90h0m-162-856h0m46 0h0m150 131h0m0 88h0m0 147h0m0 490h0m-489 0h0m347-856h0m142 166h0m0 661h0m-11 29h0m-532 0h0m311-856h0m50 0h0m93 0h0m89 113h0m-127-113h0m127 61h0m0 88h0m0 693h0m-71-842h0m71 94h0m-111-94h0m94 0h0m17 40h0m-53-40h0m53 76h0m0-76h0m0 20h0m-35-20h0" stroke="#00f000" stroke-width="5.2" stroke-linecap="round" fill="none"/><path transform="scale(0.5)" d="M198 0h0m27 0h0m-85 0h0m29 0h0m86 0h0m28 0h0m32 0h0m29 0h0m-210 0h0m244 0h0m-23 0h0m58 0h0m-150 0h0m129 0h0m-92 0h0m129 0h0m29 0h0m9 0h0m38 0h0m-390 0h0m371 0h0m30 0h0m20 0h0m30 0h0m11 0h0m119 254h0m0 43h0m0 43h0m0 43h0m-108-383h0m108 165h0m0 43h0m0 221h0m-68-429h0m68 205h0m0 182h0m0 89h0m-599-476h0m513 0h0m30 0h0m56 112h0m0 369h0m0 44h0m0-463h0m0 90h0m0 423h0m-372 281h0m-135-856h0m475 0h0m32 442h0m0 95h0m-321 319h0m301-856h0m20 4h0m0 91h0m0 148h0m0 346h0m0 44h0m-268 223h0m268-814h0m0 457h0m0 142h0m-362 215h0" stroke="#f80000" stroke-width="5.2" stroke-linecap="round" fill="none"/><path transform="scale(0.5)" d="M108 0h0m6 0h0m7 0h0m6 0h0m7 0h0m6 0h0m6 0h0m7 0h0m6 0h0m6 0h0m6 0h0m6 0h0m-72 0h0m50 0h0m28 0h0m7 0h0m6 0h0m6 0h0m6 0h0m10 0h0m6 0h0m6 0h0m-133 0h0m137 0h0m7 0h0m6 0h0m4 0h0m7 0h0m7 0h0m-175 0h0m183 0h0m10 0h0m-197 0h0m199 0h0m10 0h0m9 0h0m-33 0h0m46 0h0m-238 0h0m251 0h0m14 0h0m9 0h0m-281 0h0m229 0h0m44 0h0m22 0h0m-299 0h0m243 0h0m46 0h0m13 0h0m10 0h0m-41 0h0m44 0h0m11 0h0m-333 0h0m347 0h0m9 0h0m14 0h0m-377 0h0m336 0h0m45 0h0m11 0h0m-396 0h0m352 0h0m47 0h0m11 0h0m-47 0h0m61 0h0m-431 0h0m284 0h0m98 0h0m63 0h0m-31 0h0m33 0h0m12 0h0m10 0h0m-476 0h0m433 0h0m48 0h0m10 0h0" stroke="#0000f8" stroke-width="5.2" stroke-linecap="round" fill="none"/><text x="173.0" y="-12.5" font-size="24.8" text-anchor="middle" font-weight="bold" font-family="Liberation Sans, sans-serif" >Radial Grid</text><text x="314.0" y="37.8" font-size="21" text-anchor="middle" font-weight="normal" font-family="Liberation Sans, sans-serif" >10 km</text><path d="M306.5 44.1h11.5" stroke="#000" stroke-width="4" stroke-linecap="round"/>
</g>
<text x="452.5" y="749.0" font-size="21" text-anchor="end" font-weight="normal" font-family="Liberation Sans, sans-serif" >37°N</text>
<text x="452.5" y="819.5" font-size="15" text-anchor="end" font-weight="normal" font-family="Liberation Sans, sans-serif" >30'</text>
<text x="452.5" y="893.5" font-size="21" text-anchor="end" font-weight="normal" font-family="Liberation Sans, sans-serif" >36°N</text>
<text x="452.5" y="963.0" font-size="15" text-anchor="end" font-weight="normal" font-family="Liberation Sans, sans-serif" >30'</text>
<text x="452.5" y="1036.1" font-size="21" text-anchor="end" font-weight="normal" font-family="Liberation Sans, sans-serif" >35°N</text>
<text x="452.5" y="1104.8" font-size="15" text-anchor="end" font-weight="normal" font-family="Liberation Sans, sans-serif" >30'</text>
<text x="452.5" y="1177.0" font-size="21" text-anchor="end" font-weight="normal" font-family="Liberation Sans, sans-serif" >34°N</text>
<text x="457.0" y="1186.0" font-size="15" text-anchor="middle" font-weight="normal" font-family="Liberation Sans, sans-serif" >30'</text>
<text x="519.0" y="1190.8" font-size="21" text-anchor="middle" font-weight="normal" font-family="Liberation Sans, sans-serif" >76°W</text>
<text x="573.0" y="1186.0" font-size="15" text-anchor="middle" font-weight="normal" font-family="Liberation Sans, sans-serif" >30'</text>
<text x="635.0" y="1190.8" font-size="21" text-anchor="middle" font-weight="normal" font-family="Liberation Sans, sans-serif" >75°W</text>
<text x="689.0" y="1186.0" font-size="15" text-anchor="middle" font-weight="normal" font-family="Liberation Sans, sans-serif" >30'</text>
<text x="751.0" y="1190.8" font-size="21" text-anchor="middle" font-weight="normal" font-family="Liberation Sans, sans-serif" >74°W</text>
<text x="805.0" y="1186.0" font-size="15" text-anchor="middle" font-weight="normal" font-family="Liberation Sans, sans-serif" >30'</text>
<g transform="translate(459,742)">
<g clip-path="url(#pc)">
<path d="M0 72.5H348M0 144.5H348M0 216.5H348M0 287.5H348M0 358.5H348M58.5 0V428M116.5 0V428M174.5 0V428M232.5 0V428M290.5 0V428" stroke="#c8c8c8" stroke-width="1" stroke-dasharray="3 5" fill="none"/>
<g shape-rendering="crispEdges" transform="translate(6.00,0) scale(7.690,1)"><path fill="#002aff" d="M8 0.0h2v7.3h-2zM33 0.0h1v7.3h-1zM9 14.9h1v8.1h-1zM24 22.7h1v8.1h-1zM9 30.5h1v8.1h-1zM20 30.5h1v8.1h-1zM24 30.5h1v8.1h-1zM30 38.4h2v8.1h-2zM39 38.4h2v8.1h-2zM25 46.2h2v8.1h-2zM32 46.2h1v8.1h-1zM36 46.2h1v8.1h-1zM42 46.2h1v8.1h-1zM10 54.0h1v8.0h-1zM37 54.0h2v8.0h-2zM43 54.0h1v8.0h-1zM25 61.8h2v8.0h-2zM28 61.8h1v8.0h-1zM36 61.8h1v8.0h-1zM26 69.6h1v8.0h-1zM41 69.6h1v8.0h-1zM21 77.3h1v8.0h-1zM29 77.3h1v8.0h-1zM33 77.3h3v8.0h-3zM38 77.3h1v8.0h-1zM40 77.3h1v8.0h-1zM22 85.1h1v8.0h-1zM26 85.1h2v8.0h-2zM41 85.1h1v8.0h-1zM24 92.9h1v8.0h-1zM39 92.9h1v8.0h-1zM24 100.7h1v8.0h-1zM26 100.7h1v8.0h-1zM35 100.7h2v8.0h-2zM38 100.7h1v8.0h-1zM19 108.4h2v8.0h-2zM26 108.4h1v8.0h-1zM34 108.4h1v8.0h-1zM15 116.2h1v8.0h-1zM19 116.2h1v8.0h-1zM21 116.2h1v8.0h-1zM43 116.2h1v8.0h-1zM15 123.9h1v8.0h-1zM21 123.9h1v8.0h-1zM27 123.9h1v8.0h-1zM35 123.9h1v8.0h-1zM15 131.7h1v8.0h-1zM27 131.7h1v8.0h-1zM34 131.7h1v8.0h-1zM26 139.4h1v8.0h-1zM44 139.4h1v8.0h-1zM21 147.2h1v8.0h-1zM26 147.2h1v8.0h-1zM34 147.2h1v8.0h-1zM18 154.9h2v8.0h-2zM34 154.9h1v8.0h-1zM15 162.6h1v8.0h-1zM18 162.6h3v8.0h-3zM19 170.3h2v8.0h-2zM28 170.3h1v8.0h-1zM18 185.8h1v8.0h-1zM31 185.8h1v8.0h-1zM17 193.5h1v8.0h-1zM31 193.5h1v8.0h-1zM16 201.2h1v7.9h-1zM19 201.2h1v7.9h-1zM30 201.2h1v7.9h-1zM15 208.9h1v7.9h-1zM17 208.9h1v7.9h-1zM21 208.9h1v7.9h-1zM29 208.9h1v7.9h-1zM29 216.6h2v7.9h-2zM30 224.2h1v7.9h-1zM18 254.9h1v7.9h-1zM21 262.6h1v7.9h-1zM22 270.2h1v7.9h-1zM36 270.2h1v7.9h-1zM13 277.9h1v7.9h-1zM21 277.9h1v7.9h-1zM24 277.9h1v7.9h-1zM25 285.5h2v7.9h-2zM24 293.2h1v7.9h-1zM24 300.8h1v7.9h-1zM24 308.4h1v7.9h-1zM3 316.1h1v7.9h-1zM24 316.1h1v7.9h-1zM4 323.7h1v7.9h-1zM19 323.7h1v7.9h-1zM24 323.7h1v7.9h-1zM5 331.3h1v7.9h-1zM14 331.3h1v7.9h-1zM13 338.9h1v7.9h-1zM12 346.5h1v7.8h-1zM7 361.7h1v7.8h-1zM20 384.5h1v7.8h-1zM29 384.5h1v7.8h-1zM11 392.0h1v7.8h-1zM18 392.0h3v7.8h-3zM25 392.0h4v7.8h-4zM30 392.0h2v7.8h-2zM18 399.6h2v7.8h-2zM15 407.2h3v7.8h-3zM20 407.2h1v7.8h-1zM15 414.7h1v7.8h-1zM20 414.7h1v7.8h-1zM15 422.3h1v7.8h-1z"/><path fill="#0040ff" d="M10 0.0h1v7.3h-1zM8 7.1h1v8.1h-1zM21 30.5h1v8.1h-1zM23 30.5h1v8.1h-1zM36 30.5h1v8.1h-1zM38 30.5h1v8.1h-1zM23 38.4h1v8.1h-1zM36 38.4h2v8.1h-2zM22 46.2h1v8.1h-1zM31 46.2h1v8.1h-1zM37 46.2h2v8.1h-2zM27 54.0h1v8.0h-1zM41 54.0h1v8.0h-1zM20 61.8h1v8.0h-1zM24 61.8h1v8.0h-1zM37 61.8h1v8.0h-1zM25 69.6h1v8.0h-1zM36 69.6h1v8.0h-1zM30 77.3h1v8.0h-1zM25 85.1h1v8.0h-1zM31 85.1h2v8.0h-2zM34 85.1h1v8.0h-1zM38 85.1h1v8.0h-1zM43 85.1h1v8.0h-1zM23 92.9h1v8.0h-1zM30 92.9h1v8.0h-1zM34 92.9h1v8.0h-1zM38 92.9h1v8.0h-1zM27 100.7h1v8.0h-1zM37 100.7h1v8.0h-1zM42 100.7h1v8.0h-1zM27 108.4h2v8.0h-2zM35 108.4h1v8.0h-1zM44 108.4h1v8.0h-1zM22 116.2h1v8.0h-1zM26 116.2h4v8.0h-4zM34 116.2h1v8.0h-1zM20 123.9h1v8.0h-1zM28 123.9h1v8.0h-1zM21 131.7h1v8.0h-1zM16 139.4h1v8.0h-1zM21 139.4h1v8.0h-1zM27 154.9h2v8.0h-2zM33 154.9h1v8.0h-1zM33 162.6h1v8.0h-1zM18 170.3h1v8.0h-1zM32 170.3h1v8.0h-1zM26 178.1h1v8.0h-1zM28 178.1h1v8.0h-1zM19 185.8h1v8.0h-1zM32 185.8h1v8.0h-1zM18 193.5h1v8.0h-1zM20 201.2h1v7.9h-1zM16 208.9h1v7.9h-1zM30 208.9h1v7.9h-1zM17 216.6h1v7.9h-1zM20 216.6h1v7.9h-1zM20 247.3h1v7.9h-1zM19 254.9h1v7.9h-1zM26 254.9h1v7.9h-1zM18 262.6h1v7.9h-1zM24 262.6h1v7.9h-1zM27 262.6h1v7.9h-1zM23 270.2h2v7.9h-2zM29 270.2h1v7.9h-1zM25 277.9h1v7.9h-1zM27 277.9h1v7.9h-1zM22 285.5h1v7.9h-1zM23 293.2h1v7.9h-1zM25 293.2h1v7.9h-1zM18 300.8h1v7.9h-1zM21 300.8h1v7.9h-1zM23 300.8h1v7.9h-1zM2 316.1h1v7.9h-1zM4 316.1h1v7.9h-1zM22 316.1h2v7.9h-2zM15 331.3h3v7.9h-3zM24 331.3h1v7.9h-1zM15 338.9h1v7.9h-1zM17 338.9h1v7.9h-1zM24 354.1h1v7.8h-1zM21 369.3h1v7.8h-1zM23 369.3h1v7.8h-1zM18 384.5h2v7.8h-2zM21 384.5h2v7.8h-2zM30 384.5h1v7.8h-1zM12 392.0h1v7.8h-1zM27 399.6h1v7.8h-1zM19 407.2h1v7.8h-1zM20 422.3h1v7.8h-1z"/><path fill="#0000ff" d="M11 0.0h1v7.3h-1zM32 0.0h1v7.3h-1zM34 0.0h2v7.3h-2zM9 7.1h1v8.1h-1zM22 14.9h3v8.1h-3zM9 22.7h1v8.1h-1zM28 22.7h1v8.1h-1zM38 22.7h1v8.1h-1zM19 30.5h1v8.1h-1zM31 30.5h1v8.1h-1zM41 30.5h1v8.1h-1zM10 38.4h1v8.1h-1zM18 38.4h2v8.1h-2zM32 38.4h1v8.1h-1zM35 46.2h1v8.1h-1zM41 46.2h1v8.1h-1zM44 46.2h1v8.1h-1zM11 54.0h1v8.0h-1zM26 54.0h1v8.0h-1zM32 54.0h1v8.0h-1zM39 54.0h2v8.0h-2zM19 61.8h1v8.0h-1zM38 61.8h1v8.0h-1zM43 61.8h1v8.0h-1zM19 69.6h2v8.0h-2zM40 69.6h1v8.0h-1zM44 69.6h1v8.0h-1zM39 77.3h1v8.0h-1zM42 77.3h1v8.0h-1zM39 85.1h2v8.0h-2zM41 92.9h1v8.0h-1zM20 100.7h2v8.0h-2zM39 100.7h1v8.0h-1zM15 108.4h1v8.0h-1zM38 108.4h1v8.0h-1zM13 116.2h1v8.0h-1zM37 116.2h1v8.0h-1zM39 116.2h1v8.0h-1zM44 116.2h1v8.0h-1zM23 123.9h1v8.0h-1zM36 123.9h1v8.0h-1zM43 123.9h2v8.0h-2zM35 131.7h2v8.0h-2zM39 131.7h1v8.0h-1zM42 131.7h1v8.0h-1zM14 139.4h1v8.0h-1zM22 139.4h1v8.0h-1zM34 139.4h1v8.0h-1zM43 139.4h1v8.0h-1zM44 147.2h1v8.0h-1zM17 154.9h1v8.0h-1zM20 154.9h2v8.0h-2zM36 154.9h1v8.0h-1zM38 154.9h1v8.0h-1zM40 154.9h2v8.0h-2zM44 154.9h1v8.0h-1zM17 162.6h1v8.0h-1zM26 162.6h1v8.0h-1zM34 162.6h2v8.0h-2zM38 162.6h1v8.0h-1zM26 170.3h2v8.0h-2zM34 170.3h2v8.0h-2zM15 178.1h1v8.0h-1zM22 178.1h1v8.0h-1zM35 178.1h1v8.0h-1zM23 185.8h1v8.0h-1zM33 185.8h1v8.0h-1zM39 185.8h1v8.0h-1zM21 193.5h1v8.0h-1zM23 193.5h1v8.0h-1zM33 193.5h2v8.0h-2zM38 193.5h1v8.0h-1zM18 201.2h1v7.9h-1zM21 201.2h2v7.9h-2zM35 201.2h1v7.9h-1zM34 208.9h2v7.9h-2zM37 208.9h1v7.9h-1zM39 208.9h1v7.9h-1zM18 216.6h1v7.9h-1zM34 216.6h1v7.9h-1zM39 216.6h1v7.9h-1zM31 224.2h1v7.9h-1zM33 224.2h1v7.9h-1zM29 231.9h2v7.9h-2zM44 231.9h1v7.9h-1zM30 239.6h1v7.9h-1zM35 239.6h1v7.9h-1zM40 239.6h1v7.9h-1zM28 247.3h1v7.9h-1zM35 247.3h1v7.9h-1zM42 247.3h1v7.9h-1zM33 254.9h1v7.9h-1zM40 254.9h1v7.9h-1zM13 262.6h1v7.9h-1zM30 262.6h1v7.9h-1zM36 262.6h3v7.9h-3zM42 262.6h2v7.9h-2zM21 270.2h1v7.9h-1zM34 270.2h2v7.9h-2zM37 270.2h1v7.9h-1zM40 270.2h1v7.9h-1zM29 277.9h1v7.9h-1zM35 277.9h1v7.9h-1zM21 285.5h1v7.9h-1zM35 285.5h1v7.9h-1zM26 293.2h2v7.9h-2zM35 293.2h1v7.9h-1zM25 300.8h3v7.9h-3zM36 300.8h2v7.9h-2zM5 308.4h1v7.9h-1zM30 308.4h1v7.9h-1zM34 308.4h2v7.9h-2zM25 316.1h1v7.9h-1zM3 323.7h1v7.9h-1zM5 323.7h1v7.9h-1zM41 323.7h1v7.9h-1zM2 331.3h2v7.9h-2zM6 331.3h2v7.9h-2zM4 338.9h1v7.9h-1zM25 338.9h1v7.9h-1zM25 346.5h2v7.8h-2zM32 346.5h1v7.8h-1zM7 354.1h1v7.8h-1zM32 354.1h1v7.8h-1zM4 361.7h1v7.8h-1zM9 361.7h1v7.8h-1zM25 361.7h1v7.8h-1zM28 361.7h1v7.8h-1zM30 361.7h1v7.8h-1zM33 361.7h1v7.8h-1zM1 369.3h1v7.8h-1zM5 369.3h1v7.8h-1zM30 369.3h2v7.8h-2zM2 376.9h1v7.8h-1zM27 376.9h3v7.8h-3zM32 376.9h1v7.8h-1zM28 384.5h1v7.8h-1zM17 392.0h1v7.8h-1zM23 392.0h1v7.8h-1zM17 399.6h1v7.8h-1zM23 399.6h1v7.8h-1zM29 399.6h1v7.8h-1zM21 407.2h1v7.8h-1zM14 414.7h1v7.8h-1zM25 414.7h1v7.8h-1zM25 422.3h1v7.8h-1z"/><path fill="#0000bf" d="M12 0.0h1v7.3h-1zM17 0.0h1v7.3h-1zM26 0.0h1v7.3h-1zM29 0.0h1v7.3h-1zM36 0.0h1v7.3h-1zM19 7.1h2v8.1h-2zM22 7.1h1v8.1h-1zM26 7.1h1v8.1h-1zM36 7.1h1v8.1h-1zM12 14.9h1v8.1h-1zM18 14.9h1v8.1h-1zM29 14.9h2v8.1h-2zM34 14.9h3v8.1h-3zM39 14.9h2v8.1h-2zM12 22.7h3v8.1h-3zM18 22.7h1v8.1h-1zM29 22.7h1v8.1h-1zM35 22.7h1v8.1h-1zM40 22.7h1v8.1h-1zM11 30.5h2v8.1h-2zM33 30.5h1v8.1h-1zM11 38.4h1v8.1h-1zM13 38.4h1v8.1h-1zM15 38.4h3v8.1h-3zM12 46.2h2v8.1h-2zM13 54.0h1v8.0h-1zM16 54.0h1v8.0h-1zM14 61.8h1v8.0h-1zM17 61.8h2v8.0h-2zM12 69.6h1v8.0h-1zM14 69.6h2v8.0h-2zM17 69.6h1v8.0h-1zM12 77.3h1v8.0h-1zM17 77.3h2v8.0h-2zM13 85.1h2v8.0h-2zM17 85.1h3v8.0h-3zM17 92.9h2v8.0h-2zM13 100.7h1v8.0h-1zM24 139.4h1v8.0h-1zM37 139.4h2v8.0h-2zM24 147.2h1v8.0h-1zM37 147.2h1v8.0h-1zM23 154.9h1v8.0h-1zM14 162.6h1v8.0h-1zM22 162.6h1v8.0h-1zM24 162.6h1v8.0h-1zM40 162.6h1v8.0h-1zM23 170.3h1v8.0h-1zM42 170.3h2v8.0h-2zM42 178.1h1v8.0h-1zM44 185.8h1v8.0h-1zM37 193.5h1v8.0h-1zM42 193.5h2v8.0h-2zM42 201.2h1v7.9h-1zM44 201.2h1v7.9h-1zM43 208.9h2v7.9h-2zM43 216.6h1v7.9h-1zM43 224.2h1v7.9h-1zM43 231.9h1v7.9h-1zM34 239.6h1v7.9h-1zM43 239.6h1v7.9h-1zM44 254.9h1v7.9h-1zM40 262.6h1v7.9h-1zM9 270.2h1v7.9h-1zM8 277.9h1v7.9h-1zM30 285.5h1v7.9h-1zM30 293.2h1v7.9h-1zM8 300.8h2v7.9h-2zM28 308.4h2v7.9h-2zM9 316.1h1v7.9h-1zM27 316.1h1v7.9h-1zM30 316.1h1v7.9h-1zM34 316.1h3v7.9h-3zM28 323.7h3v7.9h-3zM33 323.7h1v7.9h-1zM36 323.7h4v7.9h-4zM29 331.3h3v7.9h-3zM37 331.3h4v7.9h-4zM2 338.9h1v7.9h-1zM30 338.9h1v7.9h-1zM35 338.9h1v7.9h-1zM28 346.5h1v7.8h-1zM34 346.5h1v7.8h-1zM36 346.5h1v7.8h-1zM4 354.1h1v7.8h-1zM33 354.1h1v7.8h-1zM35 354.1h1v7.8h-1zM33 369.3h1v7.8h-1zM5 376.9h1v7.8h-1zM26 422.3h3v7.8h-3z"/><path fill="#0000aa" d="M13 0.0h4v7.3h-4zM19 0.0h4v7.3h-4zM27 0.0h2v7.3h-2zM30 0.0h1v7.3h-1zM37 0.0h1v7.3h-1zM13 7.1h4v8.1h-4zM21 7.1h1v8.1h-1zM27 7.1h1v8.1h-1zM37 7.1h1v8.1h-1zM39 7.1h1v8.1h-1zM13 14.9h5v8.1h-5zM20 14.9h1v8.1h-1zM27 14.9h1v8.1h-1zM38 14.9h1v8.1h-1zM15 22.7h3v8.1h-3zM34 22.7h1v8.1h-1zM13 30.5h5v8.1h-5zM14 38.4h1v8.1h-1zM14 46.2h2v8.1h-2zM14 54.0h1v8.0h-1zM13 61.8h1v8.0h-1zM15 61.8h1v8.0h-1zM13 69.6h1v8.0h-1zM16 69.6h1v8.0h-1zM13 77.3h1v8.0h-1zM15 77.3h1v8.0h-1zM15 85.1h2v8.0h-2zM12 92.9h2v8.0h-2zM15 92.9h2v8.0h-2zM24 154.9h1v8.0h-1zM23 162.6h1v8.0h-1zM43 185.8h1v8.0h-1zM44 193.5h1v8.0h-1zM43 201.2h1v7.9h-1zM8 270.2h1v7.9h-1zM10 270.2h1v7.9h-1zM9 277.9h1v7.9h-1zM10 300.8h1v7.9h-1zM8 308.4h3v7.9h-3zM8 316.1h1v7.9h-1zM28 316.1h2v7.9h-2zM34 323.7h1v7.9h-1zM28 331.3h1v7.9h-1zM35 331.3h2v7.9h-2zM29 338.9h1v7.9h-1zM34 338.9h1v7.9h-1z"/><path fill="#000095" d="M18 0.0h1v7.3h-1zM17 7.1h2v8.1h-2zM28 7.1h1v8.1h-1zM16 61.8h1v8.0h-1zM14 77.3h1v8.0h-1zM14 92.9h1v8.0h-1zM35 323.7h1v7.9h-1z"/><path fill="#0000d4" d="M23 0.0h1v7.3h-1zM31 0.0h1v7.3h-1zM12 7.1h1v8.1h-1zM23 7.1h1v8.1h-1zM31 7.1h1v8.1h-1zM34 7.1h2v8.1h-2zM19 14.9h1v8.1h-1zM21 14.9h1v8.1h-1zM26 14.9h1v8.1h-1zM28 14.9h1v8.1h-1zM10 22.7h1v8.1h-1zM19 22.7h2v8.1h-2zM27 22.7h1v8.1h-1zM30 22.7h1v8.1h-1zM36 22.7h1v8.1h-1zM18 30.5h1v8.1h-1zM12 38.4h1v8.1h-1zM16 46.2h3v8.1h-3zM12 54.0h1v8.0h-1zM15 54.0h1v8.0h-1zM17 54.0h1v8.0h-1zM42 54.0h1v8.0h-1zM12 61.8h1v8.0h-1zM33 61.8h1v8.0h-1zM18 69.6h1v8.0h-1zM10 77.3h1v8.0h-1zM16 77.3h1v8.0h-1zM19 77.3h2v8.0h-2zM10 85.1h2v8.0h-2zM20 85.1h1v8.0h-1zM11 92.9h1v8.0h-1zM19 92.9h2v8.0h-2zM11 100.7h2v8.0h-2zM14 100.7h1v8.0h-1zM19 100.7h1v8.0h-1zM12 108.4h1v8.0h-1zM14 108.4h1v8.0h-1zM41 108.4h1v8.0h-1zM12 116.2h1v8.0h-1zM40 116.2h1v8.0h-1zM42 116.2h1v8.0h-1zM13 123.9h2v8.0h-2zM38 123.9h3v8.0h-3zM37 131.7h2v8.0h-2zM40 131.7h2v8.0h-2zM23 139.4h1v8.0h-1zM25 139.4h1v8.0h-1zM36 139.4h1v8.0h-1zM39 139.4h1v8.0h-1zM23 147.2h1v8.0h-1zM25 147.2h1v8.0h-1zM36 147.2h1v8.0h-1zM38 147.2h3v8.0h-3zM43 147.2h1v8.0h-1zM15 154.9h1v8.0h-1zM22 154.9h1v8.0h-1zM25 154.9h1v8.0h-1zM37 154.9h1v8.0h-1zM39 154.9h1v8.0h-1zM21 162.6h1v8.0h-1zM25 162.6h1v8.0h-1zM41 162.6h2v8.0h-2zM44 162.6h1v8.0h-1zM15 170.3h1v8.0h-1zM24 170.3h1v8.0h-1zM41 170.3h1v8.0h-1zM23 178.1h1v8.0h-1zM37 178.1h1v8.0h-1zM40 178.1h1v8.0h-1zM43 178.1h2v8.0h-2zM35 185.8h4v8.0h-4zM41 185.8h2v8.0h-2zM35 193.5h1v8.0h-1zM39 193.5h2v8.0h-2zM33 201.2h1v7.9h-1zM40 201.2h2v7.9h-2zM33 208.9h1v7.9h-1zM38 208.9h1v7.9h-1zM42 208.9h1v7.9h-1zM35 216.6h3v7.9h-3zM40 216.6h1v7.9h-1zM42 216.6h1v7.9h-1zM44 216.6h1v7.9h-1zM32 224.2h1v7.9h-1zM35 224.2h1v7.9h-1zM37 224.2h1v7.9h-1zM39 224.2h2v7.9h-2zM42 224.2h1v7.9h-1zM44 224.2h1v7.9h-1zM31 231.9h1v7.9h-1zM35 231.9h2v7.9h-2zM39 231.9h1v7.9h-1zM41 231.9h1v7.9h-1zM33 239.6h1v7.9h-1zM38 239.6h1v7.9h-1zM44 239.6h1v7.9h-1zM32 247.3h1v7.9h-1zM36 247.3h1v7.9h-1zM40 247.3h1v7.9h-1zM43 247.3h2v7.9h-2zM30 254.9h1v7.9h-1zM32 254.9h1v7.9h-1zM34 254.9h1v7.9h-1zM36 254.9h1v7.9h-1zM39 254.9h1v7.9h-1zM42 254.9h2v7.9h-2zM31 262.6h1v7.9h-1zM33 262.6h1v7.9h-1zM35 262.6h1v7.9h-1zM41 262.6h1v7.9h-1zM32 270.2h1v7.9h-1zM39 270.2h1v7.9h-1zM42 270.2h1v7.9h-1zM32 277.9h1v7.9h-1zM38 277.9h3v7.9h-3zM42 277.9h1v7.9h-1zM29 285.5h1v7.9h-1zM36 285.5h1v7.9h-1zM31 293.2h1v7.9h-1zM33 293.2h1v7.9h-1zM36 293.2h1v7.9h-1zM38 293.2h1v7.9h-1zM40 293.2h1v7.9h-1zM28 300.8h2v7.9h-2zM26 308.4h2v7.9h-2zM31 308.4h1v7.9h-1zM26 316.1h1v7.9h-1zM31 316.1h2v7.9h-2zM39 316.1h3v7.9h-3zM31 323.7h1v7.9h-1zM1 331.3h1v7.9h-1zM27 331.3h1v7.9h-1zM3 338.9h1v7.9h-1zM27 338.9h2v7.9h-2zM31 338.9h1v7.9h-1zM36 338.9h4v7.9h-4zM27 346.5h1v7.8h-1zM29 346.5h2v7.8h-2zM33 346.5h1v7.8h-1zM35 346.5h1v7.8h-1zM36 354.1h1v7.8h-1zM3 361.7h1v7.8h-1zM29 361.7h1v7.8h-1zM34 361.7h1v7.8h-1zM36 361.7h1v7.8h-1zM3 369.3h2v7.8h-2zM25 369.3h2v7.8h-2zM28 369.3h1v7.8h-1zM34 369.3h1v7.8h-1zM4 376.9h1v7.8h-1zM33 376.9h2v7.8h-2zM24 384.5h1v7.8h-1zM24 392.0h1v7.8h-1z"/><path fill="#0000ea" d="M24 0.0h2v7.3h-2zM11 7.1h1v8.1h-1zM25 7.1h1v8.1h-1zM32 7.1h2v8.1h-2zM11 14.9h1v8.1h-1zM25 14.9h1v8.1h-1zM11 22.7h1v8.1h-1zM31 22.7h1v8.1h-1zM37 22.7h1v8.1h-1zM39 22.7h1v8.1h-1zM10 30.5h1v8.1h-1zM42 30.5h1v8.1h-1zM33 38.4h3v8.1h-3zM11 46.2h1v8.1h-1zM33 46.2h2v8.1h-2zM39 46.2h1v8.1h-1zM43 46.2h1v8.1h-1zM18 54.0h2v8.0h-2zM25 54.0h1v8.0h-1zM33 54.0h2v8.0h-2zM44 54.0h1v8.0h-1zM11 61.8h1v8.0h-1zM34 61.8h1v8.0h-1zM39 61.8h4v8.0h-4zM10 69.6h2v8.0h-2zM33 69.6h2v8.0h-2zM39 69.6h1v8.0h-1zM11 77.3h1v8.0h-1zM12 85.1h1v8.0h-1zM21 85.1h1v8.0h-1zM21 92.9h2v8.0h-2zM15 100.7h4v8.0h-4zM40 100.7h1v8.0h-1zM13 108.4h1v8.0h-1zM36 108.4h2v8.0h-2zM39 108.4h2v8.0h-2zM14 116.2h1v8.0h-1zM36 116.2h1v8.0h-1zM38 116.2h1v8.0h-1zM41 116.2h1v8.0h-1zM12 123.9h1v8.0h-1zM22 123.9h1v8.0h-1zM24 123.9h1v8.0h-1zM37 123.9h1v8.0h-1zM41 123.9h2v8.0h-2zM13 131.7h2v8.0h-2zM23 131.7h3v8.0h-3zM43 131.7h2v8.0h-2zM13 139.4h1v8.0h-1zM35 139.4h1v8.0h-1zM40 139.4h3v8.0h-3zM14 147.2h1v8.0h-1zM22 147.2h1v8.0h-1zM41 147.2h2v8.0h-2zM14 154.9h1v8.0h-1zM16 154.9h1v8.0h-1zM35 154.9h1v8.0h-1zM42 154.9h2v8.0h-2zM36 162.6h2v8.0h-2zM39 162.6h1v8.0h-1zM43 162.6h1v8.0h-1zM16 170.3h1v8.0h-1zM22 170.3h1v8.0h-1zM25 170.3h1v8.0h-1zM37 170.3h4v8.0h-4zM44 170.3h1v8.0h-1zM33 178.1h1v8.0h-1zM36 178.1h1v8.0h-1zM38 178.1h2v8.0h-2zM41 178.1h1v8.0h-1zM21 185.8h1v8.0h-1zM34 185.8h1v8.0h-1zM40 185.8h1v8.0h-1zM22 193.5h1v8.0h-1zM36 193.5h1v8.0h-1zM41 193.5h1v8.0h-1zM32 201.2h1v7.9h-1zM34 201.2h1v7.9h-1zM36 201.2h4v7.9h-4zM18 208.9h1v7.9h-1zM32 208.9h1v7.9h-1zM36 208.9h1v7.9h-1zM40 208.9h2v7.9h-2zM33 216.6h1v7.9h-1zM38 216.6h1v7.9h-1zM41 216.6h1v7.9h-1zM29 224.2h1v7.9h-1zM34 224.2h1v7.9h-1zM36 224.2h1v7.9h-1zM38 224.2h1v7.9h-1zM41 224.2h1v7.9h-1zM32 231.9h3v7.9h-3zM37 231.9h2v7.9h-2zM40 231.9h1v7.9h-1zM42 231.9h1v7.9h-1zM31 239.6h2v7.9h-2zM36 239.6h2v7.9h-2zM39 239.6h1v7.9h-1zM41 239.6h2v7.9h-2zM27 247.3h1v7.9h-1zM29 247.3h3v7.9h-3zM33 247.3h2v7.9h-2zM37 247.3h3v7.9h-3zM41 247.3h1v7.9h-1zM28 254.9h2v7.9h-2zM31 254.9h1v7.9h-1zM35 254.9h1v7.9h-1zM37 254.9h2v7.9h-2zM41 254.9h1v7.9h-1zM32 262.6h1v7.9h-1zM34 262.6h1v7.9h-1zM39 262.6h1v7.9h-1zM31 270.2h1v7.9h-1zM33 270.2h1v7.9h-1zM38 270.2h1v7.9h-1zM41 270.2h1v7.9h-1zM30 277.9h2v7.9h-2zM33 277.9h2v7.9h-2zM36 277.9h1v7.9h-1zM41 277.9h1v7.9h-1zM31 285.5h4v7.9h-4zM37 285.5h4v7.9h-4zM20 293.2h1v7.9h-1zM32 293.2h1v7.9h-1zM34 293.2h1v7.9h-1zM37 293.2h1v7.9h-1zM39 293.2h1v7.9h-1zM30 300.8h6v7.9h-6zM38 300.8h2v7.9h-2zM20 308.4h1v7.9h-1zM32 308.4h2v7.9h-2zM36 308.4h1v7.9h-1zM38 308.4h2v7.9h-2zM6 316.1h1v7.9h-1zM10 316.1h1v7.9h-1zM19 316.1h1v7.9h-1zM33 316.1h1v7.9h-1zM37 316.1h2v7.9h-2zM2 323.7h1v7.9h-1zM26 323.7h2v7.9h-2zM32 323.7h1v7.9h-1zM40 323.7h1v7.9h-1zM12 331.3h2v7.9h-2zM25 331.3h2v7.9h-2zM6 338.9h1v7.9h-1zM26 338.9h1v7.9h-1zM33 338.9h1v7.9h-1zM5 346.5h2v7.8h-2zM31 346.5h1v7.8h-1zM37 346.5h2v7.8h-2zM5 354.1h1v7.8h-1zM26 354.1h5v7.8h-5zM34 354.1h1v7.8h-1zM2 361.7h1v7.8h-1zM26 361.7h2v7.8h-2zM31 361.7h2v7.8h-2zM35 361.7h1v7.8h-1zM2 369.3h1v7.8h-1zM27 369.3h1v7.8h-1zM29 369.3h1v7.8h-1zM3 376.9h1v7.8h-1zM12 376.9h1v7.8h-1zM23 376.9h4v7.8h-4zM23 384.5h1v7.8h-1zM25 384.5h1v7.8h-1zM22 392.0h1v7.8h-1zM22 399.6h1v7.8h-1zM22 407.2h1v7.8h-1zM26 414.7h3v7.8h-3zM13 422.3h2v7.8h-2zM24 422.3h1v7.8h-1z"/><path fill="#0015ff" d="M10 7.1h1v8.1h-1zM24 7.1h1v8.1h-1zM10 14.9h1v8.1h-1zM23 22.7h1v8.1h-1zM25 22.7h2v8.1h-2zM40 30.5h1v8.1h-1zM9 38.4h1v8.1h-1zM41 38.4h2v8.1h-2zM10 46.2h1v8.1h-1zM19 46.2h1v8.1h-1zM24 46.2h1v8.1h-1zM40 46.2h1v8.1h-1zM24 54.0h1v8.0h-1zM36 54.0h1v8.0h-1zM10 61.8h1v8.0h-1zM27 61.8h1v8.0h-1zM32 61.8h1v8.0h-1zM44 61.8h1v8.0h-1zM21 69.6h1v8.0h-1zM27 69.6h3v8.0h-3zM32 69.6h1v8.0h-1zM38 69.6h1v8.0h-1zM42 69.6h2v8.0h-2zM22 77.3h1v8.0h-1zM27 77.3h2v8.0h-2zM41 77.3h1v8.0h-1zM23 85.1h1v8.0h-1zM28 85.1h2v8.0h-2zM44 85.1h1v8.0h-1zM27 92.9h1v8.0h-1zM40 92.9h1v8.0h-1zM22 100.7h2v8.0h-2zM41 100.7h1v8.0h-1zM21 108.4h5v8.0h-5zM42 108.4h2v8.0h-2zM23 116.2h3v8.0h-3zM35 116.2h1v8.0h-1zM25 123.9h2v8.0h-2zM34 123.9h1v8.0h-1zM22 131.7h1v8.0h-1zM26 131.7h1v8.0h-1zM15 139.4h1v8.0h-1zM15 147.2h3v8.0h-3zM35 147.2h1v8.0h-1zM26 154.9h1v8.0h-1zM16 162.6h1v8.0h-1zM27 162.6h2v8.0h-2zM17 170.3h1v8.0h-1zM21 170.3h1v8.0h-1zM33 170.3h1v8.0h-1zM36 170.3h1v8.0h-1zM16 178.1h1v8.0h-1zM21 178.1h1v8.0h-1zM24 178.1h2v8.0h-2zM32 178.1h1v8.0h-1zM34 178.1h1v8.0h-1zM15 185.8h3v8.0h-3zM20 185.8h1v8.0h-1zM22 185.8h1v8.0h-1zM15 193.5h2v8.0h-2zM20 193.5h1v8.0h-1zM32 193.5h1v8.0h-1zM17 201.2h1v7.9h-1zM31 201.2h1v7.9h-1zM20 208.9h1v7.9h-1zM31 208.9h1v7.9h-1zM31 216.6h2v7.9h-2zM15 224.2h2v7.9h-2zM16 231.9h1v7.9h-1zM29 239.6h1v7.9h-1zM27 254.9h1v7.9h-1zM19 262.6h2v7.9h-2zM29 262.6h1v7.9h-1zM13 270.2h1v7.9h-1zM20 270.2h1v7.9h-1zM30 270.2h1v7.9h-1zM20 277.9h1v7.9h-1zM28 277.9h1v7.9h-1zM37 277.9h1v7.9h-1zM20 285.5h1v7.9h-1zM28 285.5h1v7.9h-1zM21 293.2h1v7.9h-1zM28 293.2h2v7.9h-2zM20 300.8h1v7.9h-1zM3 308.4h2v7.9h-2zM25 308.4h1v7.9h-1zM37 308.4h1v7.9h-1zM5 316.1h1v7.9h-1zM18 316.1h1v7.9h-1zM12 323.7h1v7.9h-1zM18 323.7h1v7.9h-1zM25 323.7h1v7.9h-1zM4 331.3h1v7.9h-1zM5 338.9h1v7.9h-1zM7 338.9h1v7.9h-1zM16 338.9h1v7.9h-1zM7 346.5h1v7.8h-1zM6 354.1h1v7.8h-1zM8 354.1h3v7.8h-3zM25 354.1h1v7.8h-1zM31 354.1h1v7.8h-1zM8 361.7h1v7.8h-1zM10 361.7h1v7.8h-1zM24 361.7h1v7.8h-1zM24 369.3h1v7.8h-1zM32 369.3h1v7.8h-1zM22 376.9h1v7.8h-1zM30 376.9h2v7.8h-2zM16 384.5h2v7.8h-2zM26 384.5h2v7.8h-2zM31 384.5h1v7.8h-1zM21 392.0h1v7.8h-1zM29 392.0h1v7.8h-1zM16 399.6h1v7.8h-1zM20 399.6h2v7.8h-2zM24 399.6h1v7.8h-1zM28 399.6h1v7.8h-1zM28 407.2h1v7.8h-1zM21 414.7h1v7.8h-1zM21 422.3h1v7.8h-1z"/><path fill="#0055ff" d="M22 30.5h1v8.1h-1zM25 30.5h1v8.1h-1zM30 30.5h1v8.1h-1zM37 30.5h1v8.1h-1zM39 30.5h1v8.1h-1zM20 38.4h1v8.1h-1zM23 46.2h1v8.1h-1zM23 54.0h1v8.0h-1zM31 54.0h1v8.0h-1zM21 61.8h1v8.0h-1zM29 61.8h1v8.0h-1zM31 61.8h1v8.0h-1zM24 69.6h1v8.0h-1zM23 77.3h1v8.0h-1zM26 77.3h1v8.0h-1zM31 77.3h2v8.0h-2zM36 77.3h2v8.0h-2zM43 77.3h2v8.0h-2zM24 85.1h1v8.0h-1zM30 85.1h1v8.0h-1zM35 85.1h2v8.0h-2zM26 92.9h1v8.0h-1zM28 92.9h1v8.0h-1zM31 92.9h1v8.0h-1zM36 92.9h2v8.0h-2zM44 92.9h1v8.0h-1zM25 100.7h1v8.0h-1zM31 100.7h1v8.0h-1zM34 100.7h1v8.0h-1zM44 100.7h1v8.0h-1zM30 108.4h1v8.0h-1zM20 116.2h1v8.0h-1zM20 131.7h1v8.0h-1zM28 131.7h1v8.0h-1zM27 139.4h1v8.0h-1zM20 147.2h1v8.0h-1zM27 147.2h1v8.0h-1zM29 170.3h1v8.0h-1zM31 170.3h1v8.0h-1zM17 178.1h2v8.0h-2zM20 178.1h1v8.0h-1zM30 178.1h1v8.0h-1zM24 185.8h1v8.0h-1zM19 193.5h1v8.0h-1zM30 193.5h1v8.0h-1zM15 201.2h1v7.9h-1zM29 201.2h1v7.9h-1zM19 208.9h1v7.9h-1zM22 208.9h1v7.9h-1zM16 216.6h1v7.9h-1zM21 216.6h2v7.9h-2zM28 216.6h1v7.9h-1zM19 224.2h1v7.9h-1zM28 224.2h1v7.9h-1zM28 231.9h1v7.9h-1zM17 239.6h2v7.9h-2zM19 247.3h1v7.9h-1zM25 254.9h1v7.9h-1zM22 262.6h1v7.9h-1zM28 262.6h1v7.9h-1zM14 270.2h1v7.9h-1zM25 270.2h1v7.9h-1zM14 277.9h1v7.9h-1zM22 277.9h1v7.9h-1zM18 285.5h1v7.9h-1zM27 285.5h1v7.9h-1zM18 293.2h1v7.9h-1zM22 293.2h1v7.9h-1zM21 308.4h1v7.9h-1zM23 308.4h1v7.9h-1zM20 316.1h1v7.9h-1zM23 323.7h1v7.9h-1zM18 331.3h1v7.9h-1zM24 338.9h1v7.9h-1zM24 346.5h1v7.8h-1zM23 361.7h1v7.8h-1zM22 369.3h1v7.8h-1zM11 376.9h1v7.8h-1zM25 399.6h2v7.8h-2zM25 407.2h2v7.8h-2zM19 414.7h1v7.8h-1z"/><path fill="#00aaff" d="M26 30.5h1v8.1h-1zM28 46.2h2v8.1h-2zM29 54.0h1v8.0h-1zM22 61.8h1v8.0h-1zM17 116.2h1v8.0h-1zM17 131.7h2v8.0h-2zM33 131.7h1v8.0h-1zM30 162.6h1v8.0h-1zM30 170.3h1v8.0h-1zM28 185.8h1v8.0h-1zM24 193.5h1v8.0h-1zM24 201.2h1v7.9h-1zM27 201.2h2v7.9h-2zM27 224.2h1v7.9h-1zM20 231.9h1v7.9h-1zM21 247.3h1v7.9h-1zM24 247.3h1v7.9h-1zM22 254.9h2v7.9h-2zM17 270.2h1v7.9h-1zM13 293.2h1v7.9h-1zM17 293.2h1v7.9h-1zM21 316.1h1v7.9h-1zM20 331.3h1v7.9h-1zM22 331.3h1v7.9h-1zM22 338.9h1v7.9h-1zM15 346.5h1v7.8h-1zM21 346.5h1v7.8h-1zM14 376.9h2v7.8h-2zM18 376.9h1v7.8h-1zM13 384.5h2v7.8h-2z"/><path fill="#0095ff" d="M27 30.5h1v8.1h-1zM21 38.4h1v8.1h-1zM26 38.4h1v8.1h-1zM28 38.4h1v8.1h-1zM20 46.2h2v8.1h-2zM21 54.0h2v8.0h-2zM37 85.1h1v8.0h-1zM29 92.9h1v8.0h-1zM32 92.9h1v8.0h-1zM33 100.7h1v8.0h-1zM17 108.4h1v8.0h-1zM33 108.4h1v8.0h-1zM19 131.7h1v8.0h-1zM19 139.4h2v8.0h-2zM33 139.4h1v8.0h-1zM32 147.2h1v8.0h-1zM29 162.6h1v8.0h-1zM28 193.5h1v8.0h-1zM28 208.9h1v7.9h-1zM16 254.9h1v7.9h-1zM21 254.9h1v7.9h-1zM26 262.6h1v7.9h-1zM20 323.7h2v7.9h-2zM14 346.5h1v7.8h-1zM16 376.9h1v7.8h-1zM19 376.9h1v7.8h-1zM16 414.7h2v7.8h-2zM17 422.3h1v7.8h-1z"/><path fill="#006aff" d="M28 30.5h1v8.1h-1zM22 38.4h1v8.1h-1zM24 38.4h1v8.1h-1zM38 38.4h1v8.1h-1zM9 46.2h1v8.1h-1zM27 46.2h1v8.1h-1zM20 54.0h1v8.0h-1zM23 69.6h1v8.0h-1zM30 69.6h2v8.0h-2zM37 69.6h1v8.0h-1zM25 77.3h1v8.0h-1zM33 85.1h1v8.0h-1zM42 85.1h1v8.0h-1zM25 92.9h1v8.0h-1zM35 92.9h1v8.0h-1zM28 100.7h3v8.0h-3zM43 100.7h1v8.0h-1zM16 108.4h1v8.0h-1zM29 108.4h1v8.0h-1zM31 108.4h1v8.0h-1zM30 116.2h2v8.0h-2zM19 123.9h1v8.0h-1zM29 123.9h1v8.0h-1zM17 139.4h2v8.0h-2zM33 147.2h1v8.0h-1zM29 154.9h1v8.0h-1zM27 178.1h1v8.0h-1zM29 178.1h1v8.0h-1zM31 178.1h1v8.0h-1zM29 185.8h1v8.0h-1zM29 193.5h1v8.0h-1zM23 201.2h1v7.9h-1zM21 224.2h1v7.9h-1zM16 239.6h1v7.9h-1zM17 247.3h2v7.9h-2zM22 247.3h1v7.9h-1zM17 254.9h1v7.9h-1zM20 254.9h1v7.9h-1zM24 254.9h1v7.9h-1zM23 262.6h1v7.9h-1zM25 262.6h1v7.9h-1zM27 270.2h2v7.9h-2zM23 277.9h1v7.9h-1zM26 277.9h1v7.9h-1zM23 285.5h2v7.9h-2zM22 300.8h1v7.9h-1zM22 308.4h1v7.9h-1zM12 316.1h1v7.9h-1zM13 323.7h1v7.9h-1zM19 331.3h1v7.9h-1zM21 338.9h1v7.9h-1zM13 346.5h1v7.8h-1zM23 346.5h1v7.8h-1zM22 361.7h1v7.8h-1zM21 376.9h1v7.8h-1zM11 384.5h1v7.8h-1zM18 407.2h1v7.8h-1zM27 407.2h1v7.8h-1zM19 422.3h1v7.8h-1z"/><path fill="#0080ff" d="M29 30.5h1v8.1h-1zM25 38.4h1v8.1h-1zM30 46.2h1v8.1h-1zM28 54.0h1v8.0h-1zM23 61.8h1v8.0h-1zM30 61.8h1v8.0h-1zM22 69.6h1v8.0h-1zM24 77.3h1v8.0h-1zM33 92.9h1v8.0h-1zM42 92.9h2v8.0h-2zM32 100.7h1v8.0h-1zM18 108.4h1v8.0h-1zM32 108.4h1v8.0h-1zM18 116.2h1v8.0h-1zM33 116.2h1v8.0h-1zM18 123.9h1v8.0h-1zM16 131.7h1v8.0h-1zM28 139.4h2v8.0h-2zM18 147.2h2v8.0h-2zM28 147.2h1v8.0h-1zM32 154.9h1v8.0h-1zM32 162.6h1v8.0h-1zM19 178.1h1v8.0h-1zM25 185.8h1v8.0h-1zM30 185.8h1v8.0h-1zM20 224.2h1v7.9h-1zM15 231.9h1v7.9h-1zM19 231.9h1v7.9h-1zM19 239.6h1v7.9h-1zM15 270.2h1v7.9h-1zM26 270.2h1v7.9h-1zM17 277.9h1v7.9h-1zM17 285.5h1v7.9h-1zM17 316.1h1v7.9h-1zM15 323.7h2v7.9h-2zM22 323.7h1v7.9h-1zM23 331.3h1v7.9h-1zM14 338.9h1v7.9h-1zM18 338.9h1v7.9h-1zM23 338.9h1v7.9h-1zM16 346.5h1v7.8h-1zM22 346.5h1v7.8h-1zM22 354.1h2v7.8h-2zM20 369.3h1v7.8h-1zM20 376.9h1v7.8h-1zM12 384.5h1v7.8h-1zM15 384.5h1v7.8h-1zM18 414.7h1v7.8h-1zM16 422.3h1v7.8h-1z"/><path fill="#00eaff" d="M27 38.4h1v8.1h-1zM32 123.9h1v8.0h-1zM32 139.4h1v8.0h-1zM30 147.2h2v8.0h-2zM30 154.9h1v8.0h-1zM26 185.8h2v8.0h-2zM21 239.6h3v7.9h-3zM15 262.6h1v7.9h-1zM14 293.2h1v7.9h-1zM17 300.8h1v7.9h-1zM21 331.3h1v7.9h-1zM15 354.1h2v7.8h-2zM16 361.7h1v7.8h-1zM13 376.9h1v7.8h-1zM13 392.0h1v7.8h-1z"/><path fill="#00d4ff" d="M29 38.4h1v8.1h-1zM16 116.2h1v8.0h-1zM32 116.2h1v8.0h-1zM17 123.9h1v8.0h-1zM31 162.6h1v8.0h-1zM22 231.9h1v7.9h-1zM20 239.6h1v7.9h-1zM16 270.2h1v7.9h-1zM15 277.9h2v7.9h-2zM15 285.5h1v7.9h-1zM16 293.2h1v7.9h-1zM12 308.4h1v7.9h-1zM17 308.4h1v7.9h-1zM19 338.9h1v7.9h-1zM17 346.5h2v7.8h-2zM12 354.1h1v7.8h-1zM19 369.3h1v7.8h-1zM17 376.9h1v7.8h-1zM18 422.3h1v7.8h-1z"/><path fill="#00bfff" d="M30 54.0h1v8.0h-1zM16 123.9h1v8.0h-1zM30 123.9h1v8.0h-1zM33 123.9h1v8.0h-1zM29 131.7h1v8.0h-1zM29 147.2h1v8.0h-1zM31 154.9h1v8.0h-1zM23 208.9h1v7.9h-1zM22 224.2h1v7.9h-1zM16 247.3h1v7.9h-1zM23 247.3h1v7.9h-1zM14 285.5h1v7.9h-1zM16 285.5h1v7.9h-1zM14 323.7h1v7.9h-1zM20 338.9h1v7.9h-1zM17 354.1h1v7.8h-1zM21 354.1h1v7.8h-1zM18 369.3h1v7.8h-1zM14 392.0h1v7.8h-1z"/><path fill="#2bffd4" d="M31 123.9h1v8.0h-1zM31 139.4h1v8.0h-1z"/><path fill="#00ffff" d="M30 131.7h1v8.0h-1zM32 131.7h1v8.0h-1zM30 139.4h1v8.0h-1zM23 216.6h1v7.9h-1zM27 216.6h1v7.9h-1zM23 224.2h1v7.9h-1zM21 231.9h1v7.9h-1zM23 231.9h1v7.9h-1zM20 346.5h1v7.8h-1zM19 354.1h1v7.8h-1zM21 361.7h1v7.8h-1z"/><path fill="#15ffea" d="M31 131.7h1v8.0h-1zM24 208.9h1v7.9h-1zM25 247.3h1v7.9h-1zM15 293.2h1v7.9h-1zM19 346.5h1v7.8h-1zM13 354.1h1v7.8h-1zM20 354.1h1v7.8h-1zM18 361.7h1v7.8h-1zM20 361.7h1v7.8h-1z"/><path fill="#eaff15" d="M25 193.5h1v8.0h-1zM27 193.5h1v8.0h-1zM26 216.6h1v7.9h-1zM24 231.9h1v7.9h-1zM14 300.8h1v7.9h-1zM14 308.4h1v7.9h-1zM14 316.1h1v7.9h-1z"/><path fill="#aaff55" d="M26 193.5h1v8.0h-1zM27 208.9h1v7.9h-1zM15 239.6h1v7.9h-1zM24 239.6h1v7.9h-1zM26 247.3h1v7.9h-1zM13 300.8h1v7.9h-1zM13 308.4h1v7.9h-1zM15 361.7h1v7.8h-1zM14 369.3h2v7.8h-2z"/><path fill="#ff8000" d="M25 201.2h2v7.9h-2zM15 308.4h1v7.9h-1zM15 316.1h1v7.9h-1z"/><path fill="#ffaa00" d="M25 208.9h1v7.9h-1zM26 224.2h1v7.9h-1zM26 231.9h1v7.9h-1zM25 239.6h2v7.9h-2zM12 361.7h1v7.8h-1z"/><path fill="#ffea00" d="M26 208.9h1v7.9h-1zM24 216.6h2v7.9h-2zM24 224.2h2v7.9h-2zM25 231.9h1v7.9h-1zM15 247.3h1v7.9h-1zM15 254.9h1v7.9h-1zM14 262.6h1v7.9h-1zM15 300.8h1v7.9h-1zM13 361.7h2v7.8h-2z"/><path fill="#80ff80" d="M27 231.9h1v7.9h-1zM27 239.6h1v7.9h-1zM16 308.4h1v7.9h-1zM13 316.1h1v7.9h-1zM16 316.1h1v7.9h-1zM17 361.7h1v7.8h-1zM16 369.3h1v7.8h-1z"/><path fill="#55ffaa" d="M28 239.6h1v7.9h-1zM17 369.3h1v7.8h-1z"/><path fill="#40ffbf" d="M16 300.8h1v7.9h-1zM14 354.1h1v7.8h-1zM18 354.1h1v7.8h-1zM19 361.7h1v7.8h-1z"/><path fill="#000080" d="M34 331.3h1v7.9h-1zM12 369.3h1v7.8h-1zM10 384.5h1v7.8h-1zM4 392.0h1v7.8h-1zM9 392.0h1v7.8h-1z"/><path fill="#ff1500" d="M13 369.3h1v7.8h-1z"/></g><path d="M189.9 209.0l6.4 -9.5l15.9 -1.1l8.5 3.2l-8.5 5.3l-3.2 9.1M192.0 212.0l-5.3 8.5l-4.2 10.6l2.1 10.6l8.5 7.4l10.6 6.4l8.5 -1.1M218.5 237.5l-6.4 -6.4l-3.2 -6.4l-2.1 -6.4l2.1 -6.4M120.9 247.0l3.2 7.4l-1.5 5.3M115.6 326.6l-9.5 -2.1l4.2 -12.7l5.3 -5.3l7.4 1.1l4.2 8.5l0.0 6.4M107.1 381.7l-4.2 -6.4l2.1 -7.4l13.8 -1.1l8.5 4.2l4.2 6.4l-8.5 2.1" stroke="#000" stroke-width="1.15" fill="none" stroke-linejoin="round"/><text transform="translate(214.3,245.9) rotate(80)" font-size="12.5" text-anchor="middle" font-family="Liberation Sans, sans-serif" stroke="#fff" stroke-width="0" dy="4">30</text><text transform="translate(119.2,266.1) rotate(-60)" font-size="12.5" text-anchor="middle" font-family="Liberation Sans, sans-serif" stroke="#fff" stroke-width="0" dy="4">30</text><text transform="translate(121.3,326.6) rotate(0)" font-size="12.5" text-anchor="middle" font-family="Liberation Sans, sans-serif" stroke="#fff" stroke-width="0" dy="4">30</text><text transform="translate(114.1,380.0) rotate(-10)" font-size="12.5" text-anchor="middle" font-family="Liberation Sans, sans-serif" stroke="#fff" stroke-width="0" dy="4">30</text>
<use href="#land"/><use href="#lg"/>
<path d="M59.8 46.5L73.8 46.5M61.9 41.6L71.7 51.4M66.8 39.5L66.8 53.5M71.7 41.6L61.9 51.4" stroke="#ff1a1a" stroke-width="1" fill="none"/>
<path d="M97.4 157.0L111.4 157.0M99.5 152.1L109.3 161.9M104.4 150.0L104.4 164.0M109.3 152.1L99.5 161.9" stroke="#ff1a1a" stroke-width="1" fill="none"/>
<path d="M106.8 250.3L120.8 250.3M108.9 245.4L118.7 255.2M113.8 243.3L113.8 257.3M118.7 245.4L108.9 255.2" stroke="#ff1a1a" stroke-width="1" fill="none"/>
<path d="M55.4 272.3L69.4 272.3M57.5 267.4L67.3 277.2M62.4 265.3L62.4 279.3M67.3 267.4L57.5 277.2" stroke="#ff1a1a" stroke-width="1" fill="none"/>
<path d="M3.3 320.7L17.3 320.7M5.4 315.8L15.2 325.6M10.3 313.7L10.3 327.7M15.2 315.8L5.4 325.6" stroke="#ff1a1a" stroke-width="1" fill="none"/>
</g>
<path d="M0 72.5h4M348 72.5h-4M0 144.5h4M348 144.5h-4M0 216.5h4M348 216.5h-4M0 287.5h4M348 287.5h-4M0 358.5h4M348 358.5h-4M58.5 0v4M58.5 428v-4M116.5 0v4M116.5 428v-4M174.5 0v4M174.5 428v-4M232.5 0v4M232.5 428v-4M290.5 0v4M290.5 428v-4" stroke="#222" stroke-width="1" fill="none"/>
<rect x="0" y="0" width="348" height="428" fill="none" stroke="#000" stroke-width="1.2"/>
<rect x="4.5" y="20.9" width="112" height="24.5" fill="url(#jet)" stroke="#222" stroke-width="1"/>
<text x="173.0" y="-12.0" font-size="20.6" text-anchor="middle" font-weight="bold" font-family="Liberation Sans, sans-serif" >FitDif TotalErrors (30)</text><text x="3.5" y="7.8" font-size="21" text-anchor="middle" font-weight="normal" font-family="Liberation Sans, sans-serif" >0</text><text x="97.0" y="7.8" font-size="21" text-anchor="middle" font-weight="normal" font-family="Liberation Sans, sans-serif" >50</text><text x="61.0" y="-20.0" font-size="21.5" text-anchor="middle" font-weight="normal" font-family="Liberation Sans, sans-serif" >cm/s</text><text x="314.0" y="37.8" font-size="21" text-anchor="middle" font-weight="normal" font-family="Liberation Sans, sans-serif" >10 km</text><path d="M306.5 44.1h11.5" stroke="#000" stroke-width="4" stroke-linecap="round"/>
</g>
<text x="837.0" y="749.0" font-size="21" text-anchor="end" font-weight="normal" font-family="Liberation Sans, sans-serif" >37°N</text>
<text x="837.0" y="819.5" font-size="15" text-anchor="end" font-weight="normal" font-family="Liberation Sans, sans-serif" >30'</text>
<text x="837.0" y="893.5" font-size="21" text-anchor="end" font-weight="normal" font-family="Liberation Sans, sans-serif" >36°N</text>
<text x="837.0" y="963.0" font-size="15" text-anchor="end" font-weight="normal" font-family="Liberation Sans, sans-serif" >30'</text>
<text x="837.0" y="1036.1" font-size="21" text-anchor="end" font-weight="normal" font-family="Liberation Sans, sans-serif" >35°N</text>
<text x="837.0" y="1104.8" font-size="15" text-anchor="end" font-weight="normal" font-family="Liberation Sans, sans-serif" >30'</text>
<text x="837.0" y="1177.0" font-size="21" text-anchor="end" font-weight="normal" font-family="Liberation Sans, sans-serif" >34°N</text>
<text x="841.5" y="1186.0" font-size="15" text-anchor="middle" font-weight="normal" font-family="Liberation Sans, sans-serif" >30'</text>
<text x="903.5" y="1190.8" font-size="21" text-anchor="middle" font-weight="normal" font-family="Liberation Sans, sans-serif" >76°W</text>
<text x="957.5" y="1186.0" font-size="15" text-anchor="middle" font-weight="normal" font-family="Liberation Sans, sans-serif" >30'</text>
<text x="1019.5" y="1190.8" font-size="21" text-anchor="middle" font-weight="normal" font-family="Liberation Sans, sans-serif" >75°W</text>
<text x="1073.5" y="1186.0" font-size="15" text-anchor="middle" font-weight="normal" font-family="Liberation Sans, sans-serif" >30'</text>
<text x="1135.5" y="1190.8" font-size="21" text-anchor="middle" font-weight="normal" font-family="Liberation Sans, sans-serif" >74°W</text>
<text x="1189.5" y="1186.0" font-size="15" text-anchor="middle" font-weight="normal" font-family="Liberation Sans, sans-serif" >30'</text>
<g transform="translate(843.5,742)">
<g clip-path="url(#pc)">
<path d="M0 72.5H348M0 144.5H348M0 216.5H348M0 287.5H348M0 358.5H348M58.5 0V428M116.5 0V428M174.5 0V428M232.5 0V428M290.5 0V428" stroke="#c8c8c8" stroke-width="1" stroke-dasharray="3 5" fill="none"/>
<g shape-rendering="crispEdges" transform="translate(6.00,0) scale(7.690,1)"><path fill="#0048ff" d="M8 0.0h21v7.3h-21zM8 7.1h21v8.1h-21zM9 14.9h21v8.1h-21zM9 22.7h12v8.1h-12zM26 22.7h5v8.1h-5zM33 22.7h1v8.1h-1zM9 30.5h14v8.1h-14zM28 30.5h4v8.1h-4zM33 30.5h1v8.1h-1zM9 38.4h11v8.1h-11zM30 38.4h5v8.1h-5zM9 46.2h9v8.1h-9zM32 46.2h2v8.1h-2zM10 54.0h7v8.0h-7zM10 61.8h7v8.0h-7zM10 69.6h8v8.0h-8zM19 69.6h1v8.0h-1zM10 77.3h12v8.0h-12zM11 85.1h12v8.0h-12zM11 92.9h13v8.0h-13zM11 100.7h9v8.0h-9zM12 108.4h4v8.0h-4zM12 116.2h4v8.0h-4zM13 123.9h3v8.0h-3zM13 131.7h2v8.0h-2zM13 139.4h2v8.0h-2zM14 147.2h1v8.0h-1zM14 154.9h1v8.0h-1z"/><path fill="#0068ff" d="M29 0.0h6v7.3h-6zM31 7.1h4v8.1h-4zM32 14.9h1v8.1h-1zM34 14.9h2v8.1h-2zM34 22.7h2v8.1h-2zM23 30.5h1v8.1h-1zM36 30.5h1v8.1h-1zM35 38.4h1v8.1h-1zM35 46.2h1v8.1h-1zM34 54.0h2v8.0h-2zM35 61.8h1v8.0h-1z"/><path fill="#008cff" d="M35 0.0h1v7.3h-1zM35 7.1h1v8.1h-1zM36 14.9h1v8.1h-1zM23 22.7h3v8.1h-3zM36 22.7h1v8.1h-1zM24 30.5h4v8.1h-4zM20 38.4h10v8.1h-10zM36 38.4h2v8.1h-2zM18 46.2h7v8.1h-7zM26 46.2h6v8.1h-6zM34 46.2h1v8.1h-1zM36 46.2h2v8.1h-2zM17 54.0h10v8.0h-10zM28 54.0h6v8.0h-6zM17 61.8h12v8.0h-12zM30 61.8h5v8.0h-5zM18 69.6h1v8.0h-1zM20 69.6h15v8.0h-15zM22 77.3h13v8.0h-13zM23 85.1h12v8.0h-12zM24 92.9h11v8.0h-11zM20 100.7h14v8.0h-14zM16 108.4h18v8.0h-18zM16 116.2h18v8.0h-18zM16 123.9h18v8.0h-18zM15 131.7h18v8.0h-18zM15 139.4h18v8.0h-18zM15 147.2h18v8.0h-18zM15 154.9h17v8.0h-17zM16 162.6h15v8.0h-15zM16 170.3h14v8.0h-14zM17 178.1h13v8.0h-13zM18 185.8h11v8.0h-11zM18 193.5h11v8.0h-11zM19 201.2h9v7.9h-9zM19 208.9h5v7.9h-5zM20 216.6h2v7.9h-2zM23 216.6h1v7.9h-1z"/><path fill="#0000f0" d="M36 0.0h2v7.3h-2zM36 7.1h2v8.1h-2zM39 7.1h1v8.1h-1zM38 14.9h2v8.1h-2zM37 22.7h6v8.1h-6zM37 30.5h6v8.1h-6zM38 38.4h7v8.1h-7zM38 46.2h7v8.1h-7zM36 54.0h9v8.0h-9zM36 61.8h9v8.0h-9zM36 69.6h9v8.0h-9zM35 77.3h10v8.0h-10zM35 85.1h10v8.0h-10zM35 92.9h10v8.0h-10zM34 100.7h11v8.0h-11zM34 108.4h11v8.0h-11zM34 116.2h11v8.0h-11zM34 123.9h11v8.0h-11zM33 131.7h12v8.0h-12zM33 139.4h12v8.0h-12zM33 147.2h12v8.0h-12zM32 154.9h13v8.0h-13zM15 162.6h1v8.0h-1zM31 162.6h14v8.0h-14zM15 170.3h1v8.0h-1zM30 170.3h15v8.0h-15zM15 178.1h2v8.0h-2zM30 178.1h15v8.0h-15zM15 185.8h3v8.0h-3zM29 185.8h16v8.0h-16zM15 193.5h3v8.0h-3zM29 193.5h16v8.0h-16zM15 201.2h4v7.9h-4zM28 201.2h17v7.9h-17zM15 208.9h4v7.9h-4zM27 208.9h18v7.9h-18zM16 216.6h3v7.9h-3zM22 216.6h1v7.9h-1zM27 216.6h18v7.9h-18zM19 224.2h5v7.9h-5zM27 224.2h18v7.9h-18zM19 231.9h5v7.9h-5zM28 231.9h17v7.9h-17zM19 239.6h5v7.9h-5zM29 239.6h16v7.9h-16zM20 247.3h1v7.9h-1zM24 247.3h1v7.9h-1zM28 247.3h17v7.9h-17zM20 254.9h1v7.9h-1zM24 254.9h20v7.9h-20zM19 262.6h1v7.9h-1zM24 262.6h19v7.9h-19zM19 270.2h1v7.9h-1zM29 270.2h14v7.9h-14zM29 277.9h13v7.9h-13zM29 285.5h13v7.9h-13zM19 293.2h1v7.9h-1zM30 293.2h11v7.9h-11zM18 300.8h2v7.9h-2zM30 300.8h11v7.9h-11zM18 308.4h1v7.9h-1zM29 308.4h11v7.9h-11zM18 316.1h1v7.9h-1zM30 316.1h11v7.9h-11zM17 323.7h1v7.9h-1zM29 323.7h1v7.9h-1zM32 323.7h10v7.9h-10zM34 331.3h7v7.9h-7zM33 338.9h7v7.9h-7zM32 346.5h7v7.8h-7zM32 354.1h5v7.8h-5zM32 361.7h4v7.8h-4zM31 369.3h4v7.8h-4zM31 376.9h3v7.8h-3zM31 384.5h1v7.8h-1z"/><path fill="#0000a0" d="M38 0.0h7v7.3h-7zM38 7.1h1v8.1h-1zM40 7.1h4v8.1h-4zM40 14.9h5v8.1h-5zM43 22.7h2v8.1h-2zM43 30.5h2v8.1h-2z"/><path fill="#0010ff" d="M29 7.1h2v8.1h-2zM30 14.9h2v8.1h-2zM33 14.9h1v8.1h-1zM37 14.9h1v8.1h-1zM21 22.7h2v8.1h-2zM31 22.7h2v8.1h-2zM32 30.5h1v8.1h-1zM34 30.5h2v8.1h-2zM25 46.2h1v8.1h-1zM27 54.0h1v8.0h-1zM29 61.8h1v8.0h-1z"/><path fill="#000080" d="M44 7.1h1v8.1h-1zM11 254.9h2v7.9h-2zM0 346.5h1v7.8h-1zM2 346.5h1v7.8h-1zM1 354.1h1v7.8h-1zM0 392.0h2v7.8h-2zM7 392.0h1v7.8h-1zM0 399.6h3v7.8h-3zM11 407.2h1v7.8h-1zM10 414.7h3v7.8h-3zM5 422.3h8v7.8h-8zM44 422.3h1v7.8h-1z"/><path fill="#0000c8" d="M35 69.6h1v8.0h-1zM10 85.1h1v8.0h-1zM12 123.9h1v8.0h-1zM14 162.6h1v8.0h-1zM15 216.6h1v7.9h-1zM19 216.6h1v7.9h-1zM17 224.2h2v7.9h-2zM17 231.9h2v7.9h-2zM14 247.3h1v7.9h-1zM13 254.9h2v7.9h-2zM44 254.9h1v7.9h-1zM16 262.6h2v7.9h-2zM43 262.6h2v7.9h-2zM18 270.2h1v7.9h-1zM43 270.2h2v7.9h-2zM19 277.9h1v7.9h-1zM42 277.9h3v7.9h-3zM42 285.5h3v7.9h-3zM41 293.2h4v7.9h-4zM41 300.8h4v7.9h-4zM40 308.4h5v7.9h-5zM41 316.1h4v7.9h-4zM42 323.7h3v7.9h-3zM32 331.3h2v7.9h-2zM41 331.3h4v7.9h-4zM32 338.9h1v7.9h-1zM40 338.9h5v7.9h-5zM39 346.5h6v7.8h-6zM37 354.1h8v7.8h-8zM36 361.7h9v7.8h-9zM35 369.3h10v7.8h-10zM34 376.9h11v7.8h-11zM32 384.5h13v7.8h-13zM15 392.0h2v7.8h-2zM31 392.0h14v7.8h-14zM12 399.6h4v7.8h-4zM30 399.6h15v7.8h-15zM12 407.2h3v7.8h-3zM23 407.2h1v7.8h-1zM29 407.2h16v7.8h-16zM13 414.7h1v7.8h-1zM23 414.7h2v7.8h-2zM29 414.7h16v7.8h-16zM22 422.3h2v7.8h-2zM29 422.3h15v7.8h-15z"/><path fill="#ff2000" d="M24 208.9h3v7.9h-3zM24 216.6h2v7.9h-2z"/><path fill="#ffa800" d="M26 216.6h1v7.9h-1zM24 224.2h3v7.9h-3zM24 231.9h4v7.9h-4zM24 239.6h5v7.9h-5zM18 247.3h2v7.9h-2zM21 247.3h3v7.9h-3zM25 247.3h3v7.9h-3zM18 254.9h2v7.9h-2zM21 254.9h3v7.9h-3zM18 262.6h1v7.9h-1zM23 262.6h1v7.9h-1zM23 270.2h3v7.9h-3zM23 277.9h3v7.9h-3zM24 285.5h2v7.9h-2z"/><path fill="#ffc800" d="M15 224.2h2v7.9h-2zM15 231.9h2v7.9h-2zM15 239.6h4v7.9h-4zM15 247.3h3v7.9h-3zM15 254.9h3v7.9h-3zM13 262.6h3v7.9h-3zM13 270.2h5v7.9h-5zM14 277.9h5v7.9h-5zM14 285.5h5v7.9h-5zM13 293.2h6v7.9h-6zM13 300.8h5v7.9h-5zM13 308.4h5v7.9h-5zM19 308.4h1v7.9h-1zM12 316.1h6v7.9h-6zM19 316.1h1v7.9h-1zM12 323.7h5v7.9h-5zM18 323.7h2v7.9h-2zM26 323.7h1v7.9h-1zM12 331.3h8v7.9h-8zM13 338.9h6v7.9h-6zM12 346.5h7v7.8h-7zM12 354.1h7v7.8h-7zM12 361.7h6v7.8h-6zM12 369.3h6v7.8h-6zM12 376.9h6v7.8h-6zM12 384.5h5v7.8h-5zM12 392.0h3v7.8h-3z"/><path fill="#dcff20" d="M10 262.6h3v7.9h-3zM11 270.2h2v7.9h-2zM7 277.9h1v7.9h-1zM10 277.9h4v7.9h-4zM6 285.5h8v7.9h-8zM5 293.2h8v7.9h-8zM4 300.8h4v7.9h-4zM11 300.8h2v7.9h-2zM6 308.4h2v7.9h-2zM11 308.4h2v7.9h-2zM7 316.1h1v7.9h-1zM11 316.1h1v7.9h-1zM6 323.7h6v7.9h-6zM8 331.3h4v7.9h-4zM8 338.9h5v7.9h-5zM3 346.5h2v7.8h-2zM8 346.5h4v7.8h-4zM11 354.1h1v7.8h-1zM11 361.7h1v7.8h-1zM11 369.3h1v7.8h-1zM5 392.0h2v7.8h-2zM5 399.6h4v7.8h-4zM3 407.2h6v7.8h-6zM5 414.7h5v7.8h-5z"/><path fill="#28ffd8" d="M20 262.6h1v7.9h-1zM27 270.2h2v7.9h-2zM27 277.9h2v7.9h-2zM28 285.5h1v7.9h-1zM28 293.2h2v7.9h-2zM27 300.8h3v7.9h-3zM27 308.4h2v7.9h-2zM27 316.1h3v7.9h-3zM27 323.7h2v7.9h-2zM30 323.7h2v7.9h-2zM28 331.3h2v7.9h-2zM31 338.9h1v7.9h-1zM31 346.5h1v7.8h-1zM31 354.1h1v7.8h-1zM31 361.7h1v7.8h-1zM29 369.3h2v7.8h-2zM29 376.9h2v7.8h-2zM29 384.5h2v7.8h-2zM30 392.0h1v7.8h-1z"/><path fill="#880000" d="M21 262.6h2v7.9h-2zM21 270.2h2v7.9h-2zM26 270.2h1v7.9h-1zM20 277.9h3v7.9h-3zM26 277.9h1v7.9h-1zM20 285.5h4v7.9h-4zM26 285.5h2v7.9h-2zM20 293.2h8v7.9h-8zM23 300.8h4v7.9h-4zM24 308.4h3v7.9h-3zM24 316.1h3v7.9h-3zM25 323.7h1v7.9h-1z"/><path fill="#ec0000" d="M8 270.2h3v7.9h-3zM8 277.9h2v7.9h-2zM8 300.8h3v7.9h-3zM3 308.4h3v7.9h-3zM8 308.4h3v7.9h-3zM4 316.1h3v7.9h-3zM8 316.1h3v7.9h-3zM2 323.7h4v7.9h-4zM1 331.3h7v7.9h-7zM2 338.9h6v7.9h-6zM5 346.5h3v7.8h-3zM4 354.1h7v7.8h-7zM2 361.7h3v7.8h-3zM7 361.7h4v7.8h-4zM1 369.3h5v7.8h-5zM2 376.9h4v7.8h-4zM10 384.5h1v7.8h-1zM4 392.0h1v7.8h-1zM9 392.0h1v7.8h-1zM3 399.6h2v7.8h-2zM9 399.6h2v7.8h-2zM9 407.2h2v7.8h-2zM4 414.7h1v7.8h-1z"/><path fill="#00ffff" d="M20 270.2h1v7.9h-1zM19 285.5h1v7.9h-1zM27 331.3h1v7.9h-1zM30 331.3h2v7.9h-2zM26 338.9h5v7.9h-5zM26 346.5h5v7.8h-5zM24 354.1h7v7.8h-7zM22 361.7h9v7.8h-9zM20 369.3h9v7.8h-9zM18 376.9h3v7.8h-3zM22 376.9h7v7.8h-7zM17 384.5h3v7.8h-3zM23 384.5h6v7.8h-6zM17 392.0h3v7.8h-3zM23 392.0h7v7.8h-7zM11 399.6h1v7.8h-1zM16 399.6h4v7.8h-4zM22 399.6h8v7.8h-8zM15 407.2h8v7.8h-8zM24 407.2h5v7.8h-5zM14 414.7h9v7.8h-9zM25 414.7h4v7.8h-4zM13 422.3h9v7.8h-9zM24 422.3h5v7.8h-5z"/><path fill="#aa0000" d="M20 300.8h3v7.9h-3zM20 308.4h4v7.9h-4zM20 316.1h4v7.9h-4zM20 323.7h5v7.9h-5zM20 331.3h7v7.9h-7zM19 338.9h7v7.9h-7zM19 346.5h7v7.8h-7zM19 354.1h5v7.8h-5zM18 361.7h4v7.8h-4zM18 369.3h2v7.8h-2zM11 376.9h1v7.8h-1zM21 376.9h1v7.8h-1zM11 384.5h1v7.8h-1zM20 384.5h3v7.8h-3zM11 392.0h1v7.8h-1zM20 392.0h3v7.8h-3zM20 399.6h2v7.8h-2z"/><path fill="#00a4ff" d="M2 316.1h2v7.9h-2zM1 323.7h1v7.9h-1zM0 338.9h2v7.9h-2zM1 346.5h1v7.8h-1zM0 354.1h1v7.8h-1zM2 354.1h2v7.8h-2zM0 361.7h2v7.8h-2zM5 361.7h2v7.8h-2zM0 369.3h1v7.8h-1zM6 369.3h5v7.8h-5zM0 376.9h2v7.8h-2zM6 376.9h5v7.8h-5zM0 384.5h10v7.8h-10zM2 392.0h2v7.8h-2zM8 392.0h1v7.8h-1zM10 392.0h1v7.8h-1zM0 407.2h3v7.8h-3zM0 414.7h4v7.8h-4zM0 422.3h5v7.8h-5z"/></g>
<use href="#land"/><use href="#lg"/>
<path d="M59.8 46.5L73.8 46.5M61.9 41.6L71.7 51.4M66.8 39.5L66.8 53.5M71.7 41.6L61.9 51.4" stroke="#ff1a1a" stroke-width="1" fill="none"/>
<path d="M97.4 157.0L111.4 157.0M99.5 152.1L109.3 161.9M104.4 150.0L104.4 164.0M109.3 152.1L99.5 161.9" stroke="#ff1a1a" stroke-width="1" fill="none"/>
<path d="M106.8 250.3L120.8 250.3M108.9 245.4L118.7 255.2M113.8 243.3L113.8 257.3M118.7 245.4L108.9 255.2" stroke="#ff1a1a" stroke-width="1" fill="none"/>
<path d="M55.4 272.3L69.4 272.3M57.5 267.4L67.3 277.2M62.4 265.3L62.4 279.3M67.3 267.4L57.5 277.2" stroke="#ff1a1a" stroke-width="1" fill="none"/>
<path d="M3.3 320.7L17.3 320.7M5.4 315.8L15.2 325.6M10.3 313.7L10.3 327.7M15.2 315.8L5.4 325.6" stroke="#ff1a1a" stroke-width="1" fill="none"/>
</g>
<path d="M0 72.5h4M348 72.5h-4M0 144.5h4M348 144.5h-4M0 216.5h4M348 216.5h-4M0 287.5h4M348 287.5h-4M0 358.5h4M348 358.5h-4M58.5 0v4M58.5 428v-4M116.5 0v4M116.5 428v-4M174.5 0v4M174.5 428v-4M232.5 0v4M232.5 428v-4M290.5 0v4M290.5 428v-4" stroke="#222" stroke-width="1" fill="none"/>
<rect x="0" y="0" width="348" height="428" fill="none" stroke="#000" stroke-width="1.2"/>
<rect x="4.5" y="20.9" width="112" height="24.5" fill="url(#jet)" stroke="#222" stroke-width="1"/>
<text x="173.0" y="-12.5" font-size="25" text-anchor="middle" font-weight="bold" font-family="Liberation Sans, sans-serif" >Site Codes</text><text x="3.5" y="7.8" font-size="21" text-anchor="middle" font-weight="normal" font-family="Liberation Sans, sans-serif" >0</text><text x="106.0" y="7.8" font-size="21" text-anchor="middle" font-weight="normal" font-family="Liberation Sans, sans-serif" >50</text><text x="314.0" y="37.8" font-size="21" text-anchor="middle" font-weight="normal" font-family="Liberation Sans, sans-serif" >10 km</text><path d="M306.5 44.1h11.5" stroke="#000" stroke-width="4" stroke-linecap="round"/>
</g>
</svg>
</body></html>
